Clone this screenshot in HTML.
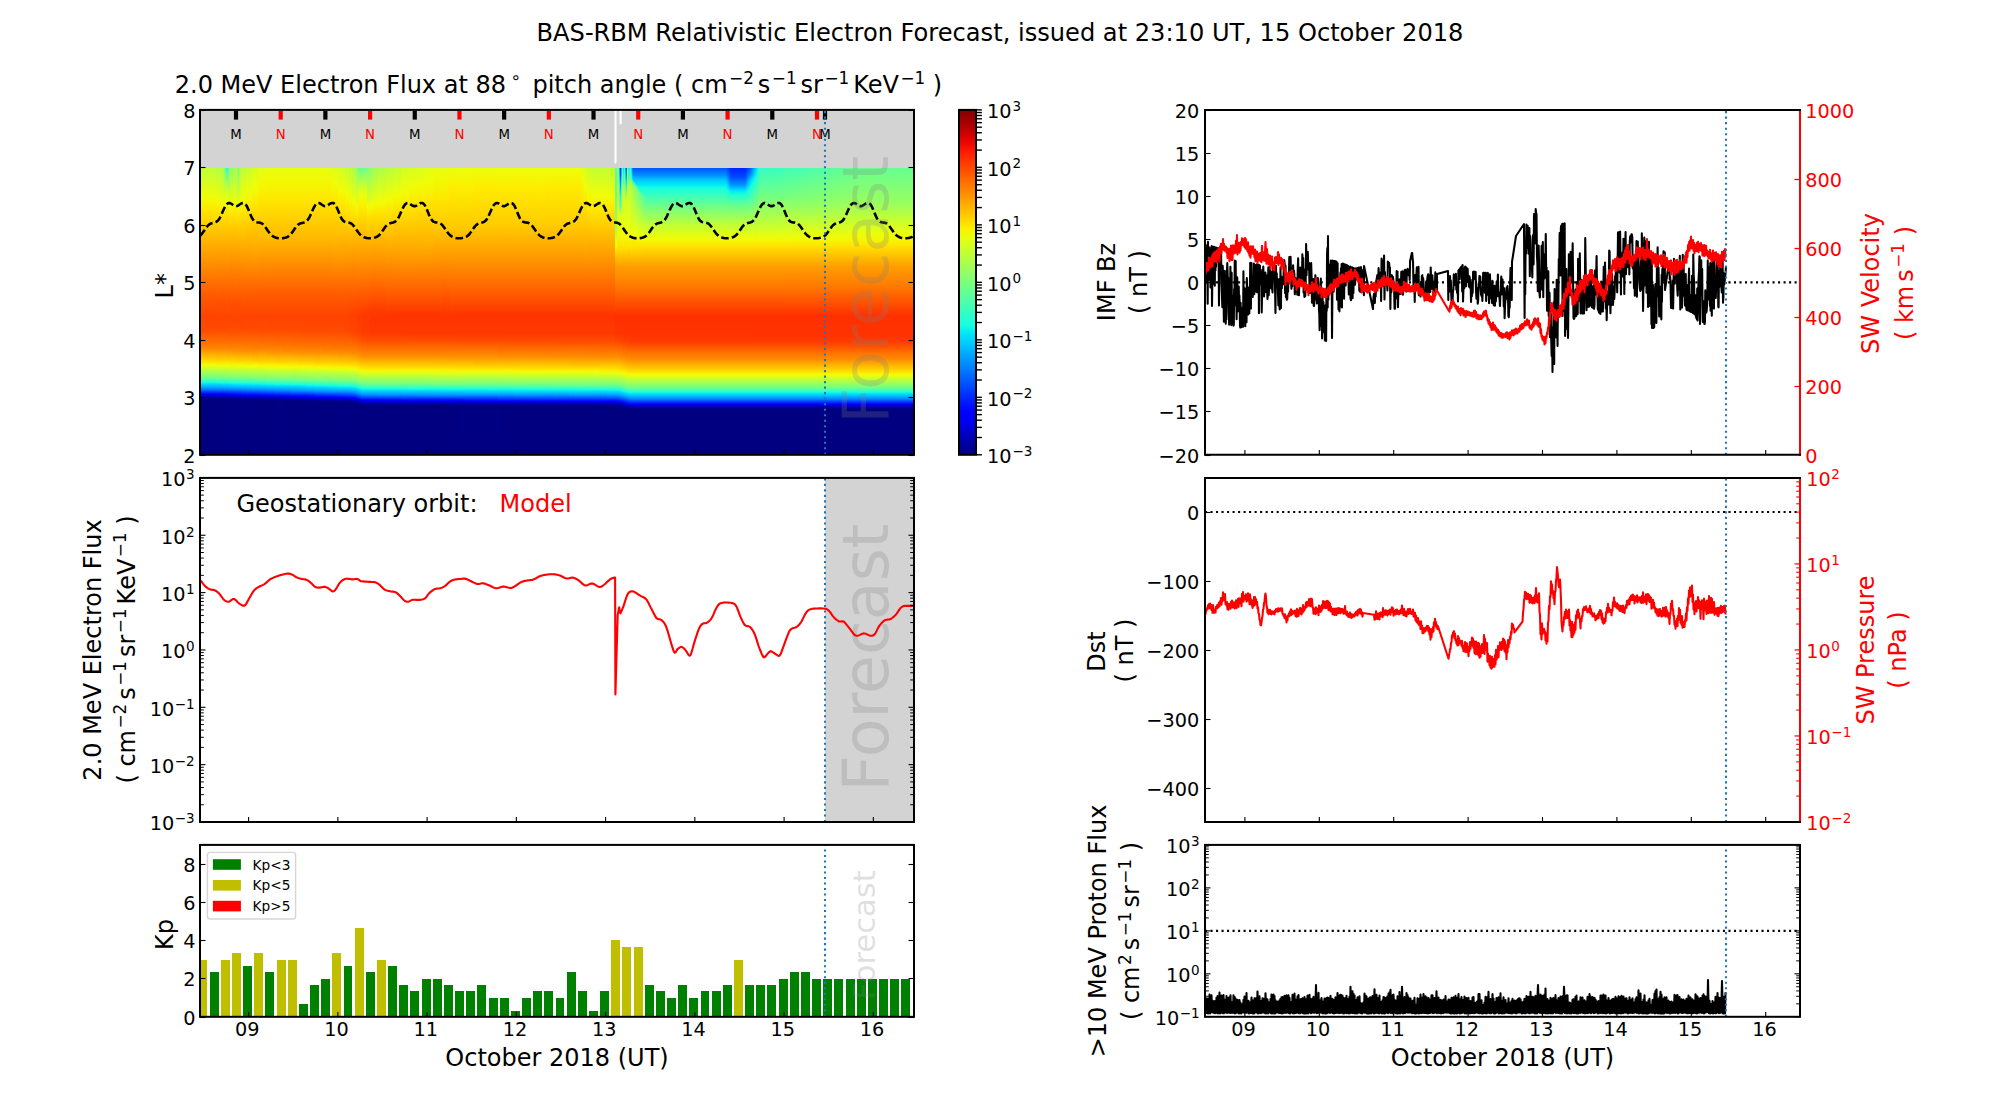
<!DOCTYPE html>
<html><head><meta charset="utf-8"><title>BAS-RBM Relativistic Electron Forecast</title>
<style>html,body{margin:0;padding:0;background:#fff;overflow:hidden}svg{display:block}text{font-family:'DejaVu Sans','Liberation Sans',sans-serif}</style>
</head><body>
<svg width="2000" height="1100" viewBox="0 0 2000 1100">
<defs>
<clipPath id="hc"><rect x="200" y="109.9" width="714" height="344.9"/></clipPath>
<linearGradient id="g1" x1="0" y1="0" x2="0" y2="1"><stop offset=".000" stop-color="#beff39"/><stop offset=".105" stop-color="#f1fc06"/><stop offset=".147" stop-color="#ffe600"/><stop offset=".339" stop-color="#ff8d00"/><stop offset=".437" stop-color="#ff5d00"/><stop offset=".521" stop-color="#ff4300"/><stop offset=".570" stop-color="#ff4e00"/><stop offset=".629" stop-color="#ff8200"/><stop offset=".678" stop-color="#ffe200"/><stop offset=".685" stop-color="#f8f500"/><stop offset=".689" stop-color="#eeff09"/><stop offset=".734" stop-color="#6dff8a"/><stop offset=".748" stop-color="#1fffd7"/><stop offset=".755" stop-color="#00e0fb"/><stop offset=".773" stop-color="#0084ff"/><stop offset=".790" stop-color="#0000ff"/><stop offset=".801" stop-color="#0000a4"/><stop offset=".808" stop-color="#000080"/><stop offset="1.000" stop-color="#000080"/></linearGradient>
<linearGradient id="g2" x1="0" y1="0" x2="0" y2="1"><stop offset=".000" stop-color="#beff39"/><stop offset=".105" stop-color="#f1fc06"/><stop offset=".147" stop-color="#ffe600"/><stop offset=".339" stop-color="#ff8d00"/><stop offset=".437" stop-color="#ff5d00"/><stop offset=".521" stop-color="#ff4300"/><stop offset=".570" stop-color="#ff4e00"/><stop offset=".629" stop-color="#ff8200"/><stop offset=".678" stop-color="#ffe200"/><stop offset=".685" stop-color="#f8f500"/><stop offset=".689" stop-color="#eeff09"/><stop offset=".734" stop-color="#6dff8a"/><stop offset=".748" stop-color="#1fffd7"/><stop offset=".755" stop-color="#00e0fb"/><stop offset=".773" stop-color="#0084ff"/><stop offset=".790" stop-color="#0000ff"/><stop offset=".801" stop-color="#0000a4"/><stop offset=".808" stop-color="#000080"/><stop offset="1.000" stop-color="#000080"/></linearGradient>
<linearGradient id="g3" x1="0" y1="0" x2="0" y2="1"><stop offset=".000" stop-color="#b4ff43"/><stop offset=".115" stop-color="#f1fc06"/><stop offset=".150" stop-color="#ffe600"/><stop offset=".353" stop-color="#ff8600"/><stop offset=".465" stop-color="#ff5200"/><stop offset=".528" stop-color="#ff4300"/><stop offset=".570" stop-color="#ff4e00"/><stop offset=".629" stop-color="#ff8200"/><stop offset=".668" stop-color="#ffc800"/><stop offset=".685" stop-color="#fbf100"/><stop offset=".692" stop-color="#e7ff0f"/><stop offset=".734" stop-color="#70ff87"/><stop offset=".748" stop-color="#23ffd4"/><stop offset=".752" stop-color="#0ff8e7"/><stop offset=".755" stop-color="#00e0fb"/><stop offset=".773" stop-color="#0088ff"/><stop offset=".787" stop-color="#0020ff"/><stop offset=".790" stop-color="#0000ff"/><stop offset=".794" stop-color="#0000e8"/><stop offset=".801" stop-color="#0000a8"/><stop offset=".808" stop-color="#000080"/><stop offset="1.000" stop-color="#000080"/></linearGradient>
<linearGradient id="g4" x1="0" y1="0" x2="0" y2="1"><stop offset=".000" stop-color="#aaff4d"/><stop offset=".122" stop-color="#f1fc06"/><stop offset=".157" stop-color="#ffe600"/><stop offset=".203" stop-color="#ffcc00"/><stop offset=".346" stop-color="#ff8900"/><stop offset=".462" stop-color="#ff5200"/><stop offset=".528" stop-color="#ff4300"/><stop offset=".570" stop-color="#ff4e00"/><stop offset=".629" stop-color="#ff8200"/><stop offset=".671" stop-color="#ffd000"/><stop offset=".685" stop-color="#fbf100"/><stop offset=".692" stop-color="#e7ff0f"/><stop offset=".734" stop-color="#70ff87"/><stop offset=".752" stop-color="#13fce4"/><stop offset=".755" stop-color="#00e4f8"/><stop offset=".766" stop-color="#00b0ff"/><stop offset=".776" stop-color="#0070ff"/><stop offset=".790" stop-color="#0000ff"/><stop offset=".794" stop-color="#0000ed"/><stop offset=".797" stop-color="#0000c4"/><stop offset=".808" stop-color="#000080"/><stop offset="1.000" stop-color="#000080"/></linearGradient>
<linearGradient id="g5" x1="0" y1="0" x2="0" y2="1"><stop offset=".000" stop-color="#8dff6a"/><stop offset=".136" stop-color="#f1fc06"/><stop offset=".164" stop-color="#ffe600"/><stop offset=".196" stop-color="#ffd000"/><stop offset=".346" stop-color="#ff8900"/><stop offset=".462" stop-color="#ff5200"/><stop offset=".528" stop-color="#ff4300"/><stop offset=".570" stop-color="#ff4e00"/><stop offset=".626" stop-color="#ff7e00"/><stop offset=".671" stop-color="#ffd000"/><stop offset=".685" stop-color="#fbf100"/><stop offset=".692" stop-color="#e7ff0f"/><stop offset=".734" stop-color="#73ff83"/><stop offset=".752" stop-color="#13fce4"/><stop offset=".755" stop-color="#00e4f8"/><stop offset=".766" stop-color="#00b0ff"/><stop offset=".773" stop-color="#008cff"/><stop offset=".790" stop-color="#0004ff"/><stop offset=".794" stop-color="#0000ed"/><stop offset=".801" stop-color="#0000ad"/><stop offset=".808" stop-color="#000080"/><stop offset="1.000" stop-color="#000080"/></linearGradient>
<linearGradient id="g6" x1="0" y1="0" x2="0" y2="1"><stop offset=".000" stop-color="#5aff9d"/><stop offset=".045" stop-color="#aaff4d"/><stop offset=".091" stop-color="#e4ff13"/><stop offset=".119" stop-color="#f4f802"/><stop offset=".157" stop-color="#ffe200"/><stop offset=".210" stop-color="#ffc800"/><stop offset=".339" stop-color="#ff8d00"/><stop offset=".437" stop-color="#ff5d00"/><stop offset=".521" stop-color="#ff4300"/><stop offset=".570" stop-color="#ff4e00"/><stop offset=".626" stop-color="#ff7e00"/><stop offset=".671" stop-color="#ffd000"/><stop offset=".685" stop-color="#fbf100"/><stop offset=".692" stop-color="#e7ff0f"/><stop offset=".734" stop-color="#73ff83"/><stop offset=".752" stop-color="#13fce4"/><stop offset=".755" stop-color="#00e4f8"/><stop offset=".766" stop-color="#00b0ff"/><stop offset=".773" stop-color="#008cff"/><stop offset=".790" stop-color="#0004ff"/><stop offset=".794" stop-color="#0000ed"/><stop offset=".801" stop-color="#0000ad"/><stop offset=".808" stop-color="#000080"/><stop offset="1.000" stop-color="#000080"/></linearGradient>
<linearGradient id="g7" x1="0" y1="0" x2="0" y2="1"><stop offset=".000" stop-color="#29ffce"/><stop offset=".049" stop-color="#97ff60"/><stop offset=".091" stop-color="#deff19"/><stop offset=".122" stop-color="#f1fc06"/><stop offset=".157" stop-color="#ffe200"/><stop offset=".238" stop-color="#ffbd00"/><stop offset=".437" stop-color="#ff5d00"/><stop offset=".521" stop-color="#ff4300"/><stop offset=".570" stop-color="#ff4e00"/><stop offset=".626" stop-color="#ff7e00"/><stop offset=".668" stop-color="#ffc800"/><stop offset=".685" stop-color="#fbf100"/><stop offset=".692" stop-color="#e7ff0f"/><stop offset=".734" stop-color="#73ff83"/><stop offset=".752" stop-color="#13fce4"/><stop offset=".755" stop-color="#00e4f8"/><stop offset=".766" stop-color="#00b0ff"/><stop offset=".776" stop-color="#0074ff"/><stop offset=".790" stop-color="#0004ff"/><stop offset=".794" stop-color="#0000f1"/><stop offset=".797" stop-color="#0000c8"/><stop offset=".808" stop-color="#000080"/><stop offset="1.000" stop-color="#000080"/></linearGradient>
<linearGradient id="g8" x1="0" y1="0" x2="0" y2="1"><stop offset=".000" stop-color="#4dffaa"/><stop offset=".056" stop-color="#b4ff43"/><stop offset=".091" stop-color="#e4ff13"/><stop offset=".122" stop-color="#f4f802"/><stop offset=".161" stop-color="#ffde00"/><stop offset=".332" stop-color="#ff9100"/><stop offset=".437" stop-color="#ff5d00"/><stop offset=".521" stop-color="#ff4300"/><stop offset=".570" stop-color="#ff4e00"/><stop offset=".626" stop-color="#ff7e00"/><stop offset=".668" stop-color="#ffc800"/><stop offset=".685" stop-color="#fbf100"/><stop offset=".692" stop-color="#e7ff0f"/><stop offset=".734" stop-color="#73ff83"/><stop offset=".752" stop-color="#16ffe1"/><stop offset=".755" stop-color="#02e8f4"/><stop offset=".759" stop-color="#00d4ff"/><stop offset=".773" stop-color="#008cff"/><stop offset=".790" stop-color="#0008ff"/><stop offset=".794" stop-color="#0000f1"/><stop offset=".801" stop-color="#0000b2"/><stop offset=".808" stop-color="#000080"/><stop offset="1.000" stop-color="#000080"/></linearGradient>
<linearGradient id="g9" x1="0" y1="0" x2="0" y2="1"><stop offset=".000" stop-color="#77ff80"/><stop offset=".143" stop-color="#f1fc06"/><stop offset=".168" stop-color="#ffe600"/><stop offset=".203" stop-color="#ffcc00"/><stop offset=".346" stop-color="#ff8900"/><stop offset=".462" stop-color="#ff5200"/><stop offset=".528" stop-color="#ff4300"/><stop offset=".570" stop-color="#ff4e00"/><stop offset=".626" stop-color="#ff7e00"/><stop offset=".668" stop-color="#ffc800"/><stop offset=".685" stop-color="#fbf100"/><stop offset=".692" stop-color="#e7ff0f"/><stop offset=".734" stop-color="#73ff83"/><stop offset=".752" stop-color="#16ffe1"/><stop offset=".755" stop-color="#02e8f4"/><stop offset=".759" stop-color="#00d4ff"/><stop offset=".773" stop-color="#0090ff"/><stop offset=".790" stop-color="#0008ff"/><stop offset=".794" stop-color="#0000f1"/><stop offset=".801" stop-color="#0000b2"/><stop offset=".808" stop-color="#000080"/><stop offset="1.000" stop-color="#000080"/></linearGradient>
<linearGradient id="g10" x1="0" y1="0" x2="0" y2="1"><stop offset=".000" stop-color="#94ff63"/><stop offset=".133" stop-color="#f1fc06"/><stop offset=".161" stop-color="#ffe600"/><stop offset=".213" stop-color="#ffc800"/><stop offset=".374" stop-color="#ff7a00"/><stop offset=".476" stop-color="#ff4e00"/><stop offset=".531" stop-color="#ff4300"/><stop offset=".577" stop-color="#ff5200"/><stop offset=".633" stop-color="#ff8600"/><stop offset=".678" stop-color="#ffde00"/><stop offset=".689" stop-color="#f4f802"/><stop offset=".703" stop-color="#ceff29"/><stop offset=".734" stop-color="#77ff80"/><stop offset=".752" stop-color="#16ffe1"/><stop offset=".755" stop-color="#02e8f4"/><stop offset=".759" stop-color="#00d4ff"/><stop offset=".773" stop-color="#0090ff"/><stop offset=".790" stop-color="#0008ff"/><stop offset=".794" stop-color="#0000f6"/><stop offset=".797" stop-color="#0000cd"/><stop offset=".808" stop-color="#000080"/><stop offset="1.000" stop-color="#000080"/></linearGradient>
<linearGradient id="g11" x1="0" y1="0" x2="0" y2="1"><stop offset=".000" stop-color="#a4ff53"/><stop offset=".126" stop-color="#f1fc06"/><stop offset=".154" stop-color="#ffe600"/><stop offset=".220" stop-color="#ffc400"/><stop offset=".367" stop-color="#ff7e00"/><stop offset=".476" stop-color="#ff4e00"/><stop offset=".531" stop-color="#ff4300"/><stop offset=".577" stop-color="#ff5200"/><stop offset=".633" stop-color="#ff8600"/><stop offset=".668" stop-color="#ffc800"/><stop offset=".685" stop-color="#fbf100"/><stop offset=".696" stop-color="#e1ff16"/><stop offset=".734" stop-color="#77ff80"/><stop offset=".752" stop-color="#19ffde"/><stop offset=".755" stop-color="#06ecf1"/><stop offset=".759" stop-color="#00d8ff"/><stop offset=".773" stop-color="#0090ff"/><stop offset=".790" stop-color="#000cff"/><stop offset=".794" stop-color="#0000f6"/><stop offset=".801" stop-color="#0000b6"/><stop offset=".808" stop-color="#000080"/><stop offset="1.000" stop-color="#000080"/></linearGradient>
<linearGradient id="g12" x1="0" y1="0" x2="0" y2="1"><stop offset=".000" stop-color="#90ff66"/><stop offset=".133" stop-color="#f1fc06"/><stop offset=".161" stop-color="#ffe600"/><stop offset=".213" stop-color="#ffc800"/><stop offset=".374" stop-color="#ff7a00"/><stop offset=".476" stop-color="#ff4e00"/><stop offset=".531" stop-color="#ff4300"/><stop offset=".577" stop-color="#ff5200"/><stop offset=".633" stop-color="#ff8600"/><stop offset=".668" stop-color="#ffc400"/><stop offset=".685" stop-color="#feed00"/><stop offset=".692" stop-color="#ebff0c"/><stop offset=".734" stop-color="#77ff80"/><stop offset=".752" stop-color="#19ffde"/><stop offset=".755" stop-color="#06ecf1"/><stop offset=".759" stop-color="#00d8ff"/><stop offset=".773" stop-color="#0094ff"/><stop offset=".790" stop-color="#0010ff"/><stop offset=".794" stop-color="#0000fa"/><stop offset=".804" stop-color="#00009b"/><stop offset=".808" stop-color="#000084"/><stop offset="1.000" stop-color="#000080"/></linearGradient>
<linearGradient id="g13" x1="0" y1="0" x2="0" y2="1"><stop offset=".000" stop-color="#7dff7a"/><stop offset=".140" stop-color="#f1fc06"/><stop offset=".168" stop-color="#ffe200"/><stop offset=".248" stop-color="#ffb900"/><stop offset=".437" stop-color="#ff5d00"/><stop offset=".521" stop-color="#ff4300"/><stop offset=".570" stop-color="#ff4e00"/><stop offset=".626" stop-color="#ff7e00"/><stop offset=".668" stop-color="#ffc400"/><stop offset=".685" stop-color="#feed00"/><stop offset=".692" stop-color="#ebff0c"/><stop offset=".734" stop-color="#77ff80"/><stop offset=".752" stop-color="#19ffde"/><stop offset=".755" stop-color="#06ecf1"/><stop offset=".759" stop-color="#00d8ff"/><stop offset=".773" stop-color="#0094ff"/><stop offset=".790" stop-color="#0010ff"/><stop offset=".794" stop-color="#0000fa"/><stop offset=".801" stop-color="#0000b6"/><stop offset=".808" stop-color="#000084"/><stop offset="1.000" stop-color="#000080"/></linearGradient>
<linearGradient id="g14" x1="0" y1="0" x2="0" y2="1"><stop offset=".000" stop-color="#94ff63"/><stop offset=".133" stop-color="#f1fc06"/><stop offset=".161" stop-color="#ffe600"/><stop offset=".213" stop-color="#ffc800"/><stop offset=".374" stop-color="#ff7a00"/><stop offset=".476" stop-color="#ff4e00"/><stop offset=".531" stop-color="#ff4300"/><stop offset=".577" stop-color="#ff5200"/><stop offset=".633" stop-color="#ff8600"/><stop offset=".671" stop-color="#ffcc00"/><stop offset=".685" stop-color="#feed00"/><stop offset=".692" stop-color="#ebff0c"/><stop offset=".734" stop-color="#77ff80"/><stop offset=".752" stop-color="#19ffde"/><stop offset=".759" stop-color="#00d8ff"/><stop offset=".773" stop-color="#0094ff"/><stop offset=".790" stop-color="#0010ff"/><stop offset=".794" stop-color="#0000ff"/><stop offset=".801" stop-color="#0000b6"/><stop offset=".808" stop-color="#000084"/><stop offset="1.000" stop-color="#000080"/></linearGradient>
<linearGradient id="g15" x1="0" y1="0" x2="0" y2="1"><stop offset=".000" stop-color="#aaff4d"/><stop offset=".122" stop-color="#f1fc06"/><stop offset=".157" stop-color="#ffe600"/><stop offset=".203" stop-color="#ffcc00"/><stop offset=".346" stop-color="#ff8900"/><stop offset=".462" stop-color="#ff5200"/><stop offset=".528" stop-color="#ff4300"/><stop offset=".570" stop-color="#ff4e00"/><stop offset=".619" stop-color="#ff7700"/><stop offset=".643" stop-color="#ff9800"/><stop offset=".671" stop-color="#ffcc00"/><stop offset=".685" stop-color="#feed00"/><stop offset=".692" stop-color="#ebff0c"/><stop offset=".734" stop-color="#77ff80"/><stop offset=".752" stop-color="#1cffdb"/><stop offset=".755" stop-color="#09f0ee"/><stop offset=".759" stop-color="#00dcfe"/><stop offset=".776" stop-color="#007cff"/><stop offset=".790" stop-color="#0010ff"/><stop offset=".794" stop-color="#0000ff"/><stop offset=".801" stop-color="#0000b6"/><stop offset=".808" stop-color="#000084"/><stop offset="1.000" stop-color="#000080"/></linearGradient>
<linearGradient id="g16" x1="0" y1="0" x2="0" y2="1"><stop offset=".000" stop-color="#beff39"/><stop offset=".108" stop-color="#f1fc06"/><stop offset=".150" stop-color="#ffe600"/><stop offset=".255" stop-color="#ffb600"/><stop offset=".437" stop-color="#ff5d00"/><stop offset=".521" stop-color="#ff4300"/><stop offset=".563" stop-color="#ff4a00"/><stop offset=".615" stop-color="#ff7300"/><stop offset=".640" stop-color="#ff9100"/><stop offset=".675" stop-color="#ffd300"/><stop offset=".685" stop-color="#feed00"/><stop offset=".692" stop-color="#ebff0c"/><stop offset=".734" stop-color="#7aff7d"/><stop offset=".752" stop-color="#1cffdb"/><stop offset=".755" stop-color="#09f0ee"/><stop offset=".759" stop-color="#00dcfe"/><stop offset=".773" stop-color="#0094ff"/><stop offset=".794" stop-color="#0000ff"/><stop offset=".804" stop-color="#00009f"/><stop offset=".808" stop-color="#000089"/><stop offset=".815" stop-color="#000080"/><stop offset="1.000" stop-color="#000080"/></linearGradient>
<linearGradient id="g17" x1="0" y1="0" x2="0" y2="1"><stop offset=".000" stop-color="#caff2c"/><stop offset=".091" stop-color="#f1fc06"/><stop offset=".140" stop-color="#ffe600"/><stop offset=".318" stop-color="#ff9800"/><stop offset=".437" stop-color="#ff5d00"/><stop offset=".521" stop-color="#ff4300"/><stop offset=".570" stop-color="#ff4e00"/><stop offset=".619" stop-color="#ff7700"/><stop offset=".636" stop-color="#ff8900"/><stop offset=".678" stop-color="#ffdb00"/><stop offset=".689" stop-color="#f8f500"/><stop offset=".692" stop-color="#eeff09"/><stop offset=".734" stop-color="#7aff7d"/><stop offset=".752" stop-color="#1fffd7"/><stop offset=".755" stop-color="#0cf4eb"/><stop offset=".759" stop-color="#00dcfe"/><stop offset=".773" stop-color="#0098ff"/><stop offset=".794" stop-color="#0000ff"/><stop offset=".808" stop-color="#000089"/><stop offset=".815" stop-color="#000080"/><stop offset="1.000" stop-color="#000080"/></linearGradient>
<linearGradient id="g18" x1="0" y1="0" x2="0" y2="1"><stop offset=".000" stop-color="#d7ff1f"/><stop offset=".073" stop-color="#f1fc06"/><stop offset=".126" stop-color="#ffe600"/><stop offset=".290" stop-color="#ffa700"/><stop offset=".437" stop-color="#ff5d00"/><stop offset=".521" stop-color="#ff4300"/><stop offset=".570" stop-color="#ff4e00"/><stop offset=".633" stop-color="#ff8200"/><stop offset=".668" stop-color="#ffc100"/><stop offset=".685" stop-color="#ffea00"/><stop offset=".692" stop-color="#eeff09"/><stop offset=".734" stop-color="#7dff7a"/><stop offset=".752" stop-color="#23ffd4"/><stop offset=".755" stop-color="#0ff8e7"/><stop offset=".759" stop-color="#00e0fb"/><stop offset=".773" stop-color="#009cff"/><stop offset=".794" stop-color="#0000ff"/><stop offset=".797" stop-color="#0000e8"/><stop offset=".804" stop-color="#0000a8"/><stop offset=".808" stop-color="#00008d"/><stop offset=".811" stop-color="#000080"/><stop offset="1.000" stop-color="#000080"/></linearGradient>
<linearGradient id="g19" x1="0" y1="0" x2="0" y2="1"><stop offset=".000" stop-color="#e4ff13"/><stop offset=".059" stop-color="#f4f802"/><stop offset=".112" stop-color="#ffe600"/><stop offset=".241" stop-color="#ffbd00"/><stop offset=".437" stop-color="#ff5d00"/><stop offset=".521" stop-color="#ff4300"/><stop offset=".573" stop-color="#ff4e00"/><stop offset=".629" stop-color="#ff7e00"/><stop offset=".675" stop-color="#ffd000"/><stop offset=".689" stop-color="#fbf100"/><stop offset=".696" stop-color="#e7ff0f"/><stop offset=".738" stop-color="#73ff83"/><stop offset=".755" stop-color="#13fce4"/><stop offset=".759" stop-color="#00e4f8"/><stop offset=".769" stop-color="#00b0ff"/><stop offset=".776" stop-color="#008cff"/><stop offset=".794" stop-color="#0004ff"/><stop offset=".797" stop-color="#0000ed"/><stop offset=".804" stop-color="#0000ad"/><stop offset=".811" stop-color="#000080"/><stop offset="1.000" stop-color="#000080"/></linearGradient>
<linearGradient id="g20" x1="0" y1="0" x2="0" y2="1"><stop offset=".000" stop-color="#e7ff0f"/><stop offset=".049" stop-color="#f4f802"/><stop offset=".112" stop-color="#ffe600"/><stop offset=".248" stop-color="#ffb900"/><stop offset=".437" stop-color="#ff5d00"/><stop offset=".521" stop-color="#ff4300"/><stop offset=".566" stop-color="#ff4a00"/><stop offset=".622" stop-color="#ff7700"/><stop offset=".647" stop-color="#ff9800"/><stop offset=".678" stop-color="#ffd700"/><stop offset=".689" stop-color="#fbf100"/><stop offset=".699" stop-color="#e1ff16"/><stop offset=".738" stop-color="#77ff80"/><stop offset=".755" stop-color="#16ffe1"/><stop offset=".759" stop-color="#02e8f4"/><stop offset=".762" stop-color="#00d8ff"/><stop offset=".776" stop-color="#0090ff"/><stop offset=".790" stop-color="#0028ff"/><stop offset=".794" stop-color="#0008ff"/><stop offset=".797" stop-color="#0000f6"/><stop offset=".801" stop-color="#0000cd"/><stop offset=".811" stop-color="#000080"/><stop offset="1.000" stop-color="#000080"/></linearGradient>
<linearGradient id="g21" x1="0" y1="0" x2="0" y2="1"><stop offset=".000" stop-color="#e7ff0f"/><stop offset=".049" stop-color="#f4f802"/><stop offset=".112" stop-color="#ffe600"/><stop offset=".248" stop-color="#ffb900"/><stop offset=".437" stop-color="#ff5d00"/><stop offset=".521" stop-color="#ff4300"/><stop offset=".566" stop-color="#ff4a00"/><stop offset=".619" stop-color="#ff7300"/><stop offset=".647" stop-color="#ff9800"/><stop offset=".675" stop-color="#ffcc00"/><stop offset=".689" stop-color="#feed00"/><stop offset=".696" stop-color="#ebff0c"/><stop offset=".738" stop-color="#77ff80"/><stop offset=".755" stop-color="#1cffdb"/><stop offset=".759" stop-color="#09f0ee"/><stop offset=".762" stop-color="#00dcfe"/><stop offset=".780" stop-color="#007cff"/><stop offset=".794" stop-color="#0010ff"/><stop offset=".797" stop-color="#0000ff"/><stop offset=".804" stop-color="#0000b6"/><stop offset=".811" stop-color="#000084"/><stop offset="1.000" stop-color="#000080"/></linearGradient>
<linearGradient id="g22" x1="0" y1="0" x2="0" y2="1"><stop offset=".000" stop-color="#e7ff0f"/><stop offset=".049" stop-color="#f4f802"/><stop offset=".112" stop-color="#ffe600"/><stop offset=".248" stop-color="#ffb900"/><stop offset=".437" stop-color="#ff5d00"/><stop offset=".521" stop-color="#ff4300"/><stop offset=".566" stop-color="#ff4a00"/><stop offset=".619" stop-color="#ff7300"/><stop offset=".640" stop-color="#ff8900"/><stop offset=".682" stop-color="#ffdb00"/><stop offset=".692" stop-color="#f8f500"/><stop offset=".696" stop-color="#eeff09"/><stop offset=".738" stop-color="#7aff7d"/><stop offset=".755" stop-color="#1fffd7"/><stop offset=".759" stop-color="#0cf4eb"/><stop offset=".762" stop-color="#00dcfe"/><stop offset=".776" stop-color="#0098ff"/><stop offset=".797" stop-color="#0000ff"/><stop offset=".811" stop-color="#000089"/><stop offset=".818" stop-color="#000080"/><stop offset="1.000" stop-color="#000080"/></linearGradient>
<linearGradient id="g23" x1="0" y1="0" x2="0" y2="1"><stop offset=".000" stop-color="#e7ff0f"/><stop offset=".049" stop-color="#f4f802"/><stop offset=".112" stop-color="#ffe600"/><stop offset=".248" stop-color="#ffb900"/><stop offset=".437" stop-color="#ff5d00"/><stop offset=".521" stop-color="#ff4300"/><stop offset=".566" stop-color="#ff4a00"/><stop offset=".622" stop-color="#ff7300"/><stop offset=".647" stop-color="#ff9400"/><stop offset=".678" stop-color="#ffd300"/><stop offset=".689" stop-color="#ffea00"/><stop offset=".696" stop-color="#f1fc06"/><stop offset=".741" stop-color="#70ff87"/><stop offset=".755" stop-color="#23ffd4"/><stop offset=".759" stop-color="#0ff8e7"/><stop offset=".762" stop-color="#00e0fb"/><stop offset=".780" stop-color="#0088ff"/><stop offset=".794" stop-color="#0020ff"/><stop offset=".797" stop-color="#0000ff"/><stop offset=".801" stop-color="#0000e8"/><stop offset=".808" stop-color="#0000a8"/><stop offset=".815" stop-color="#000080"/><stop offset="1.000" stop-color="#000080"/></linearGradient>
<linearGradient id="g24" x1="0" y1="0" x2="0" y2="1"><stop offset=".000" stop-color="#e7ff0f"/><stop offset=".049" stop-color="#f4f802"/><stop offset=".112" stop-color="#ffe600"/><stop offset=".248" stop-color="#ffb900"/><stop offset=".437" stop-color="#ff5d00"/><stop offset=".521" stop-color="#ff4300"/><stop offset=".570" stop-color="#ff4a00"/><stop offset=".626" stop-color="#ff7700"/><stop offset=".647" stop-color="#ff9400"/><stop offset=".682" stop-color="#ffd700"/><stop offset=".692" stop-color="#fbf100"/><stop offset=".699" stop-color="#e7ff0f"/><stop offset=".741" stop-color="#73ff83"/><stop offset=".759" stop-color="#13fce4"/><stop offset=".762" stop-color="#00e4f8"/><stop offset=".773" stop-color="#00b0ff"/><stop offset=".780" stop-color="#008cff"/><stop offset=".797" stop-color="#0004ff"/><stop offset=".801" stop-color="#0000f1"/><stop offset=".804" stop-color="#0000c8"/><stop offset=".815" stop-color="#000080"/><stop offset="1.000" stop-color="#000080"/></linearGradient>
<linearGradient id="g25" x1="0" y1="0" x2="0" y2="1"><stop offset=".000" stop-color="#e7ff0f"/><stop offset=".049" stop-color="#f4f802"/><stop offset=".112" stop-color="#ffe600"/><stop offset=".248" stop-color="#ffb900"/><stop offset=".437" stop-color="#ff5d00"/><stop offset=".521" stop-color="#ff4300"/><stop offset=".570" stop-color="#ff4a00"/><stop offset=".626" stop-color="#ff7700"/><stop offset=".650" stop-color="#ff9800"/><stop offset=".682" stop-color="#ffd700"/><stop offset=".692" stop-color="#fbf100"/><stop offset=".703" stop-color="#e1ff16"/><stop offset=".741" stop-color="#77ff80"/><stop offset=".759" stop-color="#19ffde"/><stop offset=".762" stop-color="#06ecf1"/><stop offset=".766" stop-color="#00d8ff"/><stop offset=".780" stop-color="#0090ff"/><stop offset=".797" stop-color="#000cff"/><stop offset=".801" stop-color="#0000f6"/><stop offset=".808" stop-color="#0000b6"/><stop offset=".815" stop-color="#000080"/><stop offset="1.000" stop-color="#000080"/></linearGradient>
<linearGradient id="g26" x1="0" y1="0" x2="0" y2="1"><stop offset=".000" stop-color="#e7ff0f"/><stop offset=".049" stop-color="#f4f802"/><stop offset=".112" stop-color="#ffe600"/><stop offset=".248" stop-color="#ffb900"/><stop offset=".437" stop-color="#ff5d00"/><stop offset=".521" stop-color="#ff4300"/><stop offset=".570" stop-color="#ff4a00"/><stop offset=".622" stop-color="#ff7300"/><stop offset=".647" stop-color="#ff9100"/><stop offset=".682" stop-color="#ffd300"/><stop offset=".692" stop-color="#feed00"/><stop offset=".699" stop-color="#ebff0c"/><stop offset=".741" stop-color="#7aff7d"/><stop offset=".759" stop-color="#1cffdb"/><stop offset=".762" stop-color="#09f0ee"/><stop offset=".766" stop-color="#00dcfe"/><stop offset=".780" stop-color="#0094ff"/><stop offset=".801" stop-color="#0000ff"/><stop offset=".811" stop-color="#00009f"/><stop offset=".815" stop-color="#000089"/><stop offset=".822" stop-color="#000080"/><stop offset="1.000" stop-color="#000080"/></linearGradient>
<linearGradient id="g27" x1="0" y1="0" x2="0" y2="1"><stop offset=".000" stop-color="#e7ff0f"/><stop offset=".049" stop-color="#f4f802"/><stop offset=".112" stop-color="#ffe600"/><stop offset=".248" stop-color="#ffb900"/><stop offset=".437" stop-color="#ff5d00"/><stop offset=".521" stop-color="#ff4300"/><stop offset=".570" stop-color="#ff4a00"/><stop offset=".619" stop-color="#ff6f00"/><stop offset=".643" stop-color="#ff8900"/><stop offset=".689" stop-color="#ffe200"/><stop offset=".696" stop-color="#f8f500"/><stop offset=".699" stop-color="#eeff09"/><stop offset=".745" stop-color="#6dff8a"/><stop offset=".759" stop-color="#1fffd7"/><stop offset=".766" stop-color="#00e0fb"/><stop offset=".783" stop-color="#0084ff"/><stop offset=".801" stop-color="#0000ff"/><stop offset=".811" stop-color="#0000a4"/><stop offset=".818" stop-color="#000080"/><stop offset="1.000" stop-color="#000080"/></linearGradient>
<linearGradient id="g28" x1="0" y1="0" x2="0" y2="1"><stop offset=".000" stop-color="#deff19"/><stop offset=".056" stop-color="#f1fc06"/><stop offset=".115" stop-color="#ffe600"/><stop offset=".266" stop-color="#ffb200"/><stop offset=".437" stop-color="#ff5d00"/><stop offset=".521" stop-color="#ff4300"/><stop offset=".570" stop-color="#ff4a00"/><stop offset=".626" stop-color="#ff7300"/><stop offset=".650" stop-color="#ff9400"/><stop offset=".682" stop-color="#ffd300"/><stop offset=".696" stop-color="#fbf100"/><stop offset=".703" stop-color="#e7ff0f"/><stop offset=".745" stop-color="#70ff87"/><stop offset=".759" stop-color="#23ffd4"/><stop offset=".762" stop-color="#0ff8e7"/><stop offset=".766" stop-color="#00e4f8"/><stop offset=".776" stop-color="#00b0ff"/><stop offset=".783" stop-color="#0088ff"/><stop offset=".801" stop-color="#0000ff"/><stop offset=".804" stop-color="#0000e8"/><stop offset=".811" stop-color="#0000a8"/><stop offset=".818" stop-color="#000080"/><stop offset="1.000" stop-color="#000080"/></linearGradient>
<linearGradient id="g29" x1="0" y1="0" x2="0" y2="1"><stop offset=".000" stop-color="#d4ff23"/><stop offset=".077" stop-color="#f1fc06"/><stop offset=".129" stop-color="#ffe600"/><stop offset=".297" stop-color="#ffa300"/><stop offset=".437" stop-color="#ff5d00"/><stop offset=".521" stop-color="#ff4300"/><stop offset=".570" stop-color="#ff4a00"/><stop offset=".626" stop-color="#ff7300"/><stop offset=".647" stop-color="#ff8d00"/><stop offset=".685" stop-color="#ffd700"/><stop offset=".696" stop-color="#fbf100"/><stop offset=".703" stop-color="#e7ff0f"/><stop offset=".745" stop-color="#73ff83"/><stop offset=".762" stop-color="#16ffe1"/><stop offset=".766" stop-color="#02e8f4"/><stop offset=".769" stop-color="#00d4ff"/><stop offset=".783" stop-color="#008cff"/><stop offset=".797" stop-color="#0024ff"/><stop offset=".801" stop-color="#0004ff"/><stop offset=".804" stop-color="#0000f1"/><stop offset=".808" stop-color="#0000c8"/><stop offset=".818" stop-color="#000080"/><stop offset="1.000" stop-color="#000080"/></linearGradient>
<linearGradient id="g30" x1="0" y1="0" x2="0" y2="1"><stop offset=".000" stop-color="#c7ff30"/><stop offset=".094" stop-color="#f1fc06"/><stop offset=".143" stop-color="#ffe600"/><stop offset=".325" stop-color="#ff9400"/><stop offset=".437" stop-color="#ff5d00"/><stop offset=".517" stop-color="#ff4300"/><stop offset=".566" stop-color="#ff4700"/><stop offset=".619" stop-color="#ff6c00"/><stop offset=".647" stop-color="#ff8d00"/><stop offset=".678" stop-color="#ffc800"/><stop offset=".696" stop-color="#fbf100"/><stop offset=".706" stop-color="#e1ff16"/><stop offset=".745" stop-color="#77ff80"/><stop offset=".762" stop-color="#16ffe1"/><stop offset=".766" stop-color="#02e8f4"/><stop offset=".769" stop-color="#00d8ff"/><stop offset=".783" stop-color="#0090ff"/><stop offset=".801" stop-color="#0008ff"/><stop offset=".804" stop-color="#0000f6"/><stop offset=".808" stop-color="#0000cd"/><stop offset=".818" stop-color="#000080"/><stop offset="1.000" stop-color="#000080"/></linearGradient>
<linearGradient id="g31" x1="0" y1="0" x2="0" y2="1"><stop offset=".000" stop-color="#baff3c"/><stop offset=".108" stop-color="#f1fc06"/><stop offset=".150" stop-color="#ffe600"/><stop offset=".255" stop-color="#ffb600"/><stop offset=".437" stop-color="#ff5d00"/><stop offset=".521" stop-color="#ff3f00"/><stop offset=".573" stop-color="#ff4700"/><stop offset=".629" stop-color="#ff7700"/><stop offset=".654" stop-color="#ff9800"/><stop offset=".678" stop-color="#ffc400"/><stop offset=".696" stop-color="#feed00"/><stop offset=".703" stop-color="#ebff0c"/><stop offset=".745" stop-color="#77ff80"/><stop offset=".762" stop-color="#19ffde"/><stop offset=".766" stop-color="#06ecf1"/><stop offset=".769" stop-color="#00d8ff"/><stop offset=".783" stop-color="#0094ff"/><stop offset=".801" stop-color="#0010ff"/><stop offset=".804" stop-color="#0000fa"/><stop offset=".815" stop-color="#00009b"/><stop offset=".818" stop-color="#000084"/><stop offset="1.000" stop-color="#000080"/></linearGradient>
<linearGradient id="g32" x1="0" y1="0" x2="0" y2="1"><stop offset=".000" stop-color="#adff49"/><stop offset=".119" stop-color="#f1fc06"/><stop offset=".154" stop-color="#ffe600"/><stop offset=".220" stop-color="#ffc400"/><stop offset=".367" stop-color="#ff7e00"/><stop offset=".510" stop-color="#ff3f00"/><stop offset=".570" stop-color="#ff4300"/><stop offset=".612" stop-color="#ff6400"/><stop offset=".647" stop-color="#ff8900"/><stop offset=".692" stop-color="#ffe200"/><stop offset=".699" stop-color="#f8f500"/><stop offset=".703" stop-color="#eeff09"/><stop offset=".745" stop-color="#7aff7d"/><stop offset=".762" stop-color="#1fffd7"/><stop offset=".769" stop-color="#00e0fb"/><stop offset=".787" stop-color="#0080ff"/><stop offset=".804" stop-color="#0000ff"/><stop offset=".815" stop-color="#0000a4"/><stop offset=".822" stop-color="#000080"/><stop offset="1.000" stop-color="#000080"/></linearGradient>
<linearGradient id="g33" x1="0" y1="0" x2="0" y2="1"><stop offset=".000" stop-color="#a7ff50"/><stop offset=".122" stop-color="#f1fc06"/><stop offset=".157" stop-color="#ffe600"/><stop offset=".203" stop-color="#ffcc00"/><stop offset=".346" stop-color="#ff8900"/><stop offset=".462" stop-color="#ff5200"/><stop offset=".517" stop-color="#ff3f00"/><stop offset=".573" stop-color="#ff4300"/><stop offset=".615" stop-color="#ff6800"/><stop offset=".647" stop-color="#ff8900"/><stop offset=".682" stop-color="#ffc800"/><stop offset=".699" stop-color="#fbf100"/><stop offset=".706" stop-color="#e7ff0f"/><stop offset=".748" stop-color="#70ff87"/><stop offset=".762" stop-color="#23ffd4"/><stop offset=".766" stop-color="#0ff8e7"/><stop offset=".769" stop-color="#00e0fb"/><stop offset=".787" stop-color="#0088ff"/><stop offset=".801" stop-color="#0020ff"/><stop offset=".804" stop-color="#0000ff"/><stop offset=".808" stop-color="#0000e8"/><stop offset=".815" stop-color="#0000a8"/><stop offset=".822" stop-color="#000080"/><stop offset="1.000" stop-color="#000080"/></linearGradient>
<linearGradient id="g34" x1="0" y1="0" x2="0" y2="1"><stop offset=".000" stop-color="#9aff5d"/><stop offset=".129" stop-color="#f1fc06"/><stop offset=".164" stop-color="#ffe200"/><stop offset=".231" stop-color="#ffc100"/><stop offset=".437" stop-color="#ff5d00"/><stop offset=".510" stop-color="#ff3f00"/><stop offset=".573" stop-color="#ff4300"/><stop offset=".636" stop-color="#ff7a00"/><stop offset=".654" stop-color="#ff9400"/><stop offset=".689" stop-color="#ffd700"/><stop offset=".699" stop-color="#fbf100"/><stop offset=".706" stop-color="#e7ff0f"/><stop offset=".748" stop-color="#73ff83"/><stop offset=".766" stop-color="#13fce4"/><stop offset=".769" stop-color="#02e8f4"/><stop offset=".773" stop-color="#00d4ff"/><stop offset=".787" stop-color="#008cff"/><stop offset=".801" stop-color="#0024ff"/><stop offset=".804" stop-color="#0004ff"/><stop offset=".808" stop-color="#0000f1"/><stop offset=".811" stop-color="#0000c8"/><stop offset=".822" stop-color="#000080"/><stop offset="1.000" stop-color="#000080"/></linearGradient>
<linearGradient id="g35" x1="0" y1="0" x2="0" y2="1"><stop offset=".000" stop-color="#83ff73"/><stop offset=".140" stop-color="#f1fc06"/><stop offset=".164" stop-color="#ffe600"/><stop offset=".196" stop-color="#ffd000"/><stop offset=".346" stop-color="#ff8900"/><stop offset=".462" stop-color="#ff5200"/><stop offset=".517" stop-color="#ff3b00"/><stop offset=".570" stop-color="#ff3f00"/><stop offset=".605" stop-color="#ff5900"/><stop offset=".654" stop-color="#ff9100"/><stop offset=".685" stop-color="#ffcc00"/><stop offset=".699" stop-color="#feed00"/><stop offset=".706" stop-color="#ebff0c"/><stop offset=".748" stop-color="#77ff80"/><stop offset=".766" stop-color="#19ffde"/><stop offset=".773" stop-color="#00d8ff"/><stop offset=".787" stop-color="#0094ff"/><stop offset=".804" stop-color="#0010ff"/><stop offset=".808" stop-color="#0000ff"/><stop offset=".815" stop-color="#0000b6"/><stop offset=".822" stop-color="#000084"/><stop offset="1.000" stop-color="#000080"/></linearGradient>
<linearGradient id="g36" x1="0" y1="0" x2="0" y2="1"><stop offset=".000" stop-color="#6dff8a"/><stop offset=".056" stop-color="#c1ff36"/><stop offset=".094" stop-color="#ebff0c"/><stop offset=".133" stop-color="#feed00"/><stop offset=".227" stop-color="#ffc100"/><stop offset=".353" stop-color="#ff8600"/><stop offset=".514" stop-color="#ff3b00"/><stop offset=".570" stop-color="#ff3f00"/><stop offset=".601" stop-color="#ff5500"/><stop offset=".650" stop-color="#ff8900"/><stop offset=".685" stop-color="#ffcc00"/><stop offset=".699" stop-color="#ffea00"/><stop offset=".706" stop-color="#eeff09"/><stop offset=".752" stop-color="#6dff8a"/><stop offset=".766" stop-color="#1fffd7"/><stop offset=".773" stop-color="#00e0fb"/><stop offset=".787" stop-color="#009cff"/><stop offset=".808" stop-color="#0000ff"/><stop offset=".815" stop-color="#0000bf"/><stop offset=".822" stop-color="#00008d"/><stop offset=".825" stop-color="#000080"/><stop offset="1.000" stop-color="#000080"/></linearGradient>
<linearGradient id="g37" x1="0" y1="0" x2="0" y2="1"><stop offset=".000" stop-color="#63ff94"/><stop offset=".059" stop-color="#c1ff36"/><stop offset=".091" stop-color="#e7ff0f"/><stop offset=".126" stop-color="#f8f500"/><stop offset=".168" stop-color="#ffdb00"/><stop offset=".332" stop-color="#ff9100"/><stop offset=".437" stop-color="#ff5d00"/><stop offset=".517" stop-color="#ff3b00"/><stop offset=".573" stop-color="#ff3f00"/><stop offset=".608" stop-color="#ff5900"/><stop offset=".654" stop-color="#ff8d00"/><stop offset=".692" stop-color="#ffd700"/><stop offset=".703" stop-color="#fbf100"/><stop offset=".710" stop-color="#e7ff0f"/><stop offset=".752" stop-color="#73ff83"/><stop offset=".769" stop-color="#13fce4"/><stop offset=".773" stop-color="#02e8f4"/><stop offset=".776" stop-color="#00d4ff"/><stop offset=".790" stop-color="#008cff"/><stop offset=".804" stop-color="#0024ff"/><stop offset=".808" stop-color="#0004ff"/><stop offset=".811" stop-color="#0000f1"/><stop offset=".815" stop-color="#0000c8"/><stop offset=".825" stop-color="#000080"/><stop offset="1.000" stop-color="#000080"/></linearGradient>
<linearGradient id="g38" x1="0" y1="0" x2="0" y2="1"><stop offset=".000" stop-color="#63ff94"/><stop offset=".049" stop-color="#b4ff43"/><stop offset=".094" stop-color="#ebff0c"/><stop offset=".129" stop-color="#fbf100"/><stop offset=".210" stop-color="#ffc800"/><stop offset=".339" stop-color="#ff8d00"/><stop offset=".437" stop-color="#ff5d00"/><stop offset=".514" stop-color="#ff3b00"/><stop offset=".573" stop-color="#ff3f00"/><stop offset=".605" stop-color="#ff5500"/><stop offset=".657" stop-color="#ff9100"/><stop offset=".689" stop-color="#ffcc00"/><stop offset=".703" stop-color="#feed00"/><stop offset=".710" stop-color="#ebff0c"/><stop offset=".752" stop-color="#77ff80"/><stop offset=".769" stop-color="#19ffde"/><stop offset=".776" stop-color="#00d8ff"/><stop offset=".790" stop-color="#0094ff"/><stop offset=".808" stop-color="#0010ff"/><stop offset=".811" stop-color="#0000ff"/><stop offset=".818" stop-color="#0000b6"/><stop offset=".825" stop-color="#000084"/><stop offset="1.000" stop-color="#000080"/></linearGradient>
<linearGradient id="g39" x1="0" y1="0" x2="0" y2="1"><stop offset=".000" stop-color="#66ff90"/><stop offset=".056" stop-color="#beff39"/><stop offset=".094" stop-color="#ebff0c"/><stop offset=".129" stop-color="#fbf100"/><stop offset=".210" stop-color="#ffc800"/><stop offset=".339" stop-color="#ff8d00"/><stop offset=".437" stop-color="#ff5d00"/><stop offset=".514" stop-color="#ff3b00"/><stop offset=".577" stop-color="#ff3f00"/><stop offset=".608" stop-color="#ff5500"/><stop offset=".654" stop-color="#ff8900"/><stop offset=".689" stop-color="#ffcc00"/><stop offset=".703" stop-color="#ffea00"/><stop offset=".710" stop-color="#eeff09"/><stop offset=".755" stop-color="#6dff8a"/><stop offset=".769" stop-color="#1fffd7"/><stop offset=".776" stop-color="#00e0fb"/><stop offset=".790" stop-color="#009cff"/><stop offset=".811" stop-color="#0000ff"/><stop offset=".818" stop-color="#0000bf"/><stop offset=".825" stop-color="#00008d"/><stop offset=".829" stop-color="#000080"/><stop offset="1.000" stop-color="#000080"/></linearGradient>
<linearGradient id="g40" x1="0" y1="0" x2="0" y2="1"><stop offset=".000" stop-color="#6aff8d"/><stop offset=".059" stop-color="#c4ff33"/><stop offset=".094" stop-color="#ebff0c"/><stop offset=".129" stop-color="#fbf100"/><stop offset=".210" stop-color="#ffc800"/><stop offset=".339" stop-color="#ff8d00"/><stop offset=".437" stop-color="#ff5d00"/><stop offset=".517" stop-color="#ff3800"/><stop offset=".573" stop-color="#ff3b00"/><stop offset=".608" stop-color="#ff5500"/><stop offset=".657" stop-color="#ff8d00"/><stop offset=".692" stop-color="#ffd300"/><stop offset=".706" stop-color="#fbf100"/><stop offset=".713" stop-color="#e7ff0f"/><stop offset=".755" stop-color="#70ff87"/><stop offset=".773" stop-color="#13fce4"/><stop offset=".776" stop-color="#00e4f8"/><stop offset=".787" stop-color="#00b0ff"/><stop offset=".797" stop-color="#0070ff"/><stop offset=".811" stop-color="#0000ff"/><stop offset=".815" stop-color="#0000e8"/><stop offset=".818" stop-color="#0000c4"/><stop offset=".829" stop-color="#000080"/><stop offset="1.000" stop-color="#000080"/></linearGradient>
<linearGradient id="g41" x1="0" y1="0" x2="0" y2="1"><stop offset=".000" stop-color="#73ff83"/><stop offset=".049" stop-color="#baff3c"/><stop offset=".091" stop-color="#ebff0c"/><stop offset=".136" stop-color="#feed00"/><stop offset=".210" stop-color="#ffc800"/><stop offset=".339" stop-color="#ff8d00"/><stop offset=".437" stop-color="#ff5d00"/><stop offset=".517" stop-color="#ff3800"/><stop offset=".577" stop-color="#ff3b00"/><stop offset=".598" stop-color="#ff4700"/><stop offset=".657" stop-color="#ff8d00"/><stop offset=".692" stop-color="#ffd000"/><stop offset=".706" stop-color="#fbf100"/><stop offset=".713" stop-color="#e7ff0f"/><stop offset=".755" stop-color="#70ff87"/><stop offset=".773" stop-color="#13fce4"/><stop offset=".776" stop-color="#00e4f8"/><stop offset=".787" stop-color="#00b0ff"/><stop offset=".797" stop-color="#0070ff"/><stop offset=".811" stop-color="#0000ff"/><stop offset=".815" stop-color="#0000e8"/><stop offset=".818" stop-color="#0000c4"/><stop offset=".829" stop-color="#000080"/><stop offset="1.000" stop-color="#000080"/></linearGradient>
<linearGradient id="g42" x1="0" y1="0" x2="0" y2="1"><stop offset=".000" stop-color="#80ff77"/><stop offset=".140" stop-color="#f1fc06"/><stop offset=".168" stop-color="#ffe200"/><stop offset=".248" stop-color="#ffb900"/><stop offset=".437" stop-color="#ff5d00"/><stop offset=".510" stop-color="#ff3800"/><stop offset=".577" stop-color="#ff3b00"/><stop offset=".601" stop-color="#ff4a00"/><stop offset=".657" stop-color="#ff8d00"/><stop offset=".692" stop-color="#ffd000"/><stop offset=".706" stop-color="#fbf100"/><stop offset=".713" stop-color="#e7ff0f"/><stop offset=".755" stop-color="#70ff87"/><stop offset=".773" stop-color="#13fce4"/><stop offset=".776" stop-color="#00e4f8"/><stop offset=".787" stop-color="#00b0ff"/><stop offset=".797" stop-color="#0070ff"/><stop offset=".811" stop-color="#0000ff"/><stop offset=".815" stop-color="#0000ed"/><stop offset=".818" stop-color="#0000c4"/><stop offset=".829" stop-color="#000080"/><stop offset="1.000" stop-color="#000080"/></linearGradient>
<linearGradient id="g43" x1="0" y1="0" x2="0" y2="1"><stop offset=".000" stop-color="#90ff66"/><stop offset=".133" stop-color="#f1fc06"/><stop offset=".161" stop-color="#ffe600"/><stop offset=".213" stop-color="#ffc800"/><stop offset=".374" stop-color="#ff7a00"/><stop offset=".497" stop-color="#ff3b00"/><stop offset=".528" stop-color="#ff3400"/><stop offset=".573" stop-color="#ff3800"/><stop offset=".605" stop-color="#ff4e00"/><stop offset=".657" stop-color="#ff8d00"/><stop offset=".692" stop-color="#ffd000"/><stop offset=".706" stop-color="#fbf100"/><stop offset=".713" stop-color="#e7ff0f"/><stop offset=".755" stop-color="#70ff87"/><stop offset=".773" stop-color="#13fce4"/><stop offset=".776" stop-color="#00e4f8"/><stop offset=".787" stop-color="#00b0ff"/><stop offset=".797" stop-color="#0070ff"/><stop offset=".811" stop-color="#0000ff"/><stop offset=".815" stop-color="#0000ed"/><stop offset=".818" stop-color="#0000c4"/><stop offset=".829" stop-color="#000080"/><stop offset="1.000" stop-color="#000080"/></linearGradient>
<linearGradient id="g44" x1="0" y1="0" x2="0" y2="1"><stop offset=".000" stop-color="#a0ff56"/><stop offset=".126" stop-color="#f1fc06"/><stop offset=".161" stop-color="#ffe200"/><stop offset=".374" stop-color="#ff7a00"/><stop offset=".497" stop-color="#ff3b00"/><stop offset=".528" stop-color="#ff3400"/><stop offset=".573" stop-color="#ff3800"/><stop offset=".605" stop-color="#ff4e00"/><stop offset=".657" stop-color="#ff8d00"/><stop offset=".692" stop-color="#ffd000"/><stop offset=".706" stop-color="#fbf100"/><stop offset=".713" stop-color="#e7ff0f"/><stop offset=".755" stop-color="#70ff87"/><stop offset=".773" stop-color="#13fce4"/><stop offset=".776" stop-color="#00e4f8"/><stop offset=".787" stop-color="#00b0ff"/><stop offset=".797" stop-color="#0070ff"/><stop offset=".811" stop-color="#0000ff"/><stop offset=".815" stop-color="#0000ed"/><stop offset=".818" stop-color="#0000c4"/><stop offset=".829" stop-color="#000080"/><stop offset="1.000" stop-color="#000080"/></linearGradient>
<linearGradient id="g45" x1="0" y1="0" x2="0" y2="1"><stop offset=".000" stop-color="#adff49"/><stop offset=".119" stop-color="#f1fc06"/><stop offset=".154" stop-color="#ffe600"/><stop offset=".220" stop-color="#ffc400"/><stop offset=".367" stop-color="#ff7e00"/><stop offset=".497" stop-color="#ff3b00"/><stop offset=".528" stop-color="#ff3400"/><stop offset=".573" stop-color="#ff3800"/><stop offset=".605" stop-color="#ff4e00"/><stop offset=".657" stop-color="#ff8d00"/><stop offset=".692" stop-color="#ffd000"/><stop offset=".706" stop-color="#fbf100"/><stop offset=".713" stop-color="#e7ff0f"/><stop offset=".755" stop-color="#70ff87"/><stop offset=".773" stop-color="#13fce4"/><stop offset=".776" stop-color="#00e4f8"/><stop offset=".787" stop-color="#00b0ff"/><stop offset=".794" stop-color="#008cff"/><stop offset=".811" stop-color="#0000ff"/><stop offset=".815" stop-color="#0000ed"/><stop offset=".818" stop-color="#0000c4"/><stop offset=".829" stop-color="#000080"/><stop offset="1.000" stop-color="#000080"/></linearGradient>
<linearGradient id="g46" x1="0" y1="0" x2="0" y2="1"><stop offset=".000" stop-color="#baff3c"/><stop offset=".108" stop-color="#f1fc06"/><stop offset=".150" stop-color="#ffe600"/><stop offset=".255" stop-color="#ffb600"/><stop offset=".437" stop-color="#ff5d00"/><stop offset=".514" stop-color="#ff3400"/><stop offset=".573" stop-color="#ff3800"/><stop offset=".605" stop-color="#ff4e00"/><stop offset=".657" stop-color="#ff8d00"/><stop offset=".696" stop-color="#ffd700"/><stop offset=".706" stop-color="#fbf100"/><stop offset=".713" stop-color="#e7ff0f"/><stop offset=".755" stop-color="#73ff83"/><stop offset=".773" stop-color="#13fce4"/><stop offset=".776" stop-color="#00e4f8"/><stop offset=".787" stop-color="#00b0ff"/><stop offset=".794" stop-color="#008cff"/><stop offset=".811" stop-color="#0004ff"/><stop offset=".815" stop-color="#0000ed"/><stop offset=".822" stop-color="#0000ad"/><stop offset=".829" stop-color="#000080"/><stop offset="1.000" stop-color="#000080"/></linearGradient>
<linearGradient id="g47" x1="0" y1="0" x2="0" y2="1"><stop offset=".000" stop-color="#c4ff33"/><stop offset=".098" stop-color="#f1fc06"/><stop offset=".147" stop-color="#ffe200"/><stop offset=".318" stop-color="#ff9800"/><stop offset=".437" stop-color="#ff5d00"/><stop offset=".514" stop-color="#ff3400"/><stop offset=".573" stop-color="#ff3800"/><stop offset=".605" stop-color="#ff4e00"/><stop offset=".657" stop-color="#ff8d00"/><stop offset=".696" stop-color="#ffd700"/><stop offset=".706" stop-color="#fbf100"/><stop offset=".713" stop-color="#e7ff0f"/><stop offset=".755" stop-color="#73ff83"/><stop offset=".773" stop-color="#13fce4"/><stop offset=".776" stop-color="#00e4f8"/><stop offset=".787" stop-color="#00b0ff"/><stop offset=".794" stop-color="#008cff"/><stop offset=".811" stop-color="#0004ff"/><stop offset=".815" stop-color="#0000ed"/><stop offset=".822" stop-color="#0000ad"/><stop offset=".829" stop-color="#000080"/><stop offset="1.000" stop-color="#000080"/></linearGradient>
<linearGradient id="g48" x1="0" y1="0" x2="0" y2="1"><stop offset=".000" stop-color="#d1ff26"/><stop offset=".084" stop-color="#f1fc06"/><stop offset=".136" stop-color="#ffe600"/><stop offset=".311" stop-color="#ff9c00"/><stop offset=".437" stop-color="#ff5d00"/><stop offset=".514" stop-color="#ff3400"/><stop offset=".577" stop-color="#ff3800"/><stop offset=".612" stop-color="#ff5500"/><stop offset=".657" stop-color="#ff8d00"/><stop offset=".696" stop-color="#ffd700"/><stop offset=".706" stop-color="#fbf100"/><stop offset=".713" stop-color="#e7ff0f"/><stop offset=".755" stop-color="#73ff83"/><stop offset=".773" stop-color="#13fce4"/><stop offset=".776" stop-color="#02e8f4"/><stop offset=".780" stop-color="#00d4ff"/><stop offset=".794" stop-color="#008cff"/><stop offset=".808" stop-color="#0024ff"/><stop offset=".811" stop-color="#0004ff"/><stop offset=".815" stop-color="#0000f1"/><stop offset=".818" stop-color="#0000c8"/><stop offset=".829" stop-color="#000080"/><stop offset="1.000" stop-color="#000080"/></linearGradient>
<linearGradient id="g49" x1="0" y1="0" x2="0" y2="1"><stop offset=".000" stop-color="#d7ff1f"/><stop offset=".070" stop-color="#f1fc06"/><stop offset=".129" stop-color="#ffe600"/><stop offset=".297" stop-color="#ffa300"/><stop offset=".437" stop-color="#ff5d00"/><stop offset=".514" stop-color="#ff3400"/><stop offset=".577" stop-color="#ff3800"/><stop offset=".601" stop-color="#ff4a00"/><stop offset=".657" stop-color="#ff8d00"/><stop offset=".699" stop-color="#ffde00"/><stop offset=".706" stop-color="#fbf100"/><stop offset=".713" stop-color="#e7ff0f"/><stop offset=".755" stop-color="#73ff83"/><stop offset=".773" stop-color="#16ffe1"/><stop offset=".776" stop-color="#02e8f4"/><stop offset=".780" stop-color="#00d4ff"/><stop offset=".794" stop-color="#008cff"/><stop offset=".811" stop-color="#0008ff"/><stop offset=".815" stop-color="#0000f1"/><stop offset=".822" stop-color="#0000b2"/><stop offset=".829" stop-color="#000080"/><stop offset="1.000" stop-color="#000080"/></linearGradient>
<linearGradient id="g50" x1="0" y1="0" x2="0" y2="1"><stop offset=".000" stop-color="#dbff1c"/><stop offset=".063" stop-color="#f1fc06"/><stop offset=".122" stop-color="#ffe600"/><stop offset=".273" stop-color="#ffae00"/><stop offset=".437" stop-color="#ff5d00"/><stop offset=".514" stop-color="#ff3400"/><stop offset=".577" stop-color="#ff3800"/><stop offset=".601" stop-color="#ff4a00"/><stop offset=".657" stop-color="#ff8d00"/><stop offset=".699" stop-color="#ffde00"/><stop offset=".706" stop-color="#fbf100"/><stop offset=".713" stop-color="#e7ff0f"/><stop offset=".755" stop-color="#73ff83"/><stop offset=".773" stop-color="#16ffe1"/><stop offset=".776" stop-color="#02e8f4"/><stop offset=".780" stop-color="#00d4ff"/><stop offset=".794" stop-color="#0090ff"/><stop offset=".811" stop-color="#0008ff"/><stop offset=".815" stop-color="#0000f1"/><stop offset=".822" stop-color="#0000b2"/><stop offset=".829" stop-color="#000080"/><stop offset="1.000" stop-color="#000080"/></linearGradient>
<linearGradient id="g51" x1="0" y1="0" x2="0" y2="1"><stop offset=".000" stop-color="#e1ff16"/><stop offset=".056" stop-color="#f1fc06"/><stop offset=".115" stop-color="#ffe600"/><stop offset=".266" stop-color="#ffb200"/><stop offset=".437" stop-color="#ff5d00"/><stop offset=".514" stop-color="#ff3400"/><stop offset=".577" stop-color="#ff3800"/><stop offset=".601" stop-color="#ff4a00"/><stop offset=".657" stop-color="#ff8d00"/><stop offset=".699" stop-color="#ffde00"/><stop offset=".706" stop-color="#fbf100"/><stop offset=".713" stop-color="#e7ff0f"/><stop offset=".755" stop-color="#77ff80"/><stop offset=".773" stop-color="#16ffe1"/><stop offset=".776" stop-color="#02e8f4"/><stop offset=".780" stop-color="#00d4ff"/><stop offset=".794" stop-color="#0090ff"/><stop offset=".811" stop-color="#0008ff"/><stop offset=".815" stop-color="#0000f6"/><stop offset=".818" stop-color="#0000cd"/><stop offset=".829" stop-color="#000080"/><stop offset="1.000" stop-color="#000080"/></linearGradient>
<linearGradient id="g52" x1="0" y1="0" x2="0" y2="1"><stop offset=".000" stop-color="#e4ff13"/><stop offset=".056" stop-color="#f4f802"/><stop offset=".108" stop-color="#ffe600"/><stop offset=".210" stop-color="#ffc800"/><stop offset=".339" stop-color="#ff8d00"/><stop offset=".437" stop-color="#ff5d00"/><stop offset=".514" stop-color="#ff3400"/><stop offset=".577" stop-color="#ff3800"/><stop offset=".601" stop-color="#ff4a00"/><stop offset=".657" stop-color="#ff8d00"/><stop offset=".689" stop-color="#ffc800"/><stop offset=".706" stop-color="#fbf100"/><stop offset=".717" stop-color="#e1ff16"/><stop offset=".755" stop-color="#77ff80"/><stop offset=".773" stop-color="#16ffe1"/><stop offset=".776" stop-color="#02e8f4"/><stop offset=".780" stop-color="#00d8ff"/><stop offset=".794" stop-color="#0090ff"/><stop offset=".811" stop-color="#0008ff"/><stop offset=".815" stop-color="#0000f6"/><stop offset=".818" stop-color="#0000cd"/><stop offset=".829" stop-color="#000080"/><stop offset="1.000" stop-color="#000080"/></linearGradient>
<linearGradient id="g53" x1="0" y1="0" x2="0" y2="1"><stop offset=".000" stop-color="#e7ff0f"/><stop offset=".045" stop-color="#f4f802"/><stop offset=".108" stop-color="#ffe600"/><stop offset=".220" stop-color="#ffc400"/><stop offset=".367" stop-color="#ff7e00"/><stop offset=".497" stop-color="#ff3b00"/><stop offset=".528" stop-color="#ff3400"/><stop offset=".577" stop-color="#ff3800"/><stop offset=".601" stop-color="#ff4a00"/><stop offset=".657" stop-color="#ff8d00"/><stop offset=".689" stop-color="#ffc800"/><stop offset=".706" stop-color="#fbf100"/><stop offset=".717" stop-color="#e1ff16"/><stop offset=".755" stop-color="#77ff80"/><stop offset=".773" stop-color="#16ffe1"/><stop offset=".776" stop-color="#06ecf1"/><stop offset=".780" stop-color="#00d8ff"/><stop offset=".794" stop-color="#0090ff"/><stop offset=".811" stop-color="#000cff"/><stop offset=".815" stop-color="#0000f6"/><stop offset=".822" stop-color="#0000b2"/><stop offset=".829" stop-color="#000080"/><stop offset="1.000" stop-color="#000080"/></linearGradient>
<linearGradient id="g54" x1="0" y1="0" x2="0" y2="1"><stop offset=".000" stop-color="#ebff0c"/><stop offset=".070" stop-color="#feed00"/><stop offset=".210" stop-color="#ffc800"/><stop offset=".339" stop-color="#ff8d00"/><stop offset=".437" stop-color="#ff5d00"/><stop offset=".514" stop-color="#ff3400"/><stop offset=".577" stop-color="#ff3800"/><stop offset=".601" stop-color="#ff4a00"/><stop offset=".661" stop-color="#ff9100"/><stop offset=".696" stop-color="#ffd700"/><stop offset=".706" stop-color="#fbf100"/><stop offset=".717" stop-color="#e1ff16"/><stop offset=".755" stop-color="#77ff80"/><stop offset=".773" stop-color="#19ffde"/><stop offset=".776" stop-color="#06ecf1"/><stop offset=".780" stop-color="#00d8ff"/><stop offset=".794" stop-color="#0090ff"/><stop offset=".811" stop-color="#000cff"/><stop offset=".815" stop-color="#0000f6"/><stop offset=".822" stop-color="#0000b6"/><stop offset=".829" stop-color="#000080"/><stop offset="1.000" stop-color="#000080"/></linearGradient>
<linearGradient id="g55" x1="0" y1="0" x2="0" y2="1"><stop offset=".000" stop-color="#ebff0c"/><stop offset=".063" stop-color="#fbf100"/><stop offset=".210" stop-color="#ffc800"/><stop offset=".339" stop-color="#ff8d00"/><stop offset=".437" stop-color="#ff5d00"/><stop offset=".514" stop-color="#ff3400"/><stop offset=".577" stop-color="#ff3800"/><stop offset=".601" stop-color="#ff4700"/><stop offset=".664" stop-color="#ff9800"/><stop offset=".696" stop-color="#ffd700"/><stop offset=".706" stop-color="#feed00"/><stop offset=".713" stop-color="#ebff0c"/><stop offset=".755" stop-color="#77ff80"/><stop offset=".773" stop-color="#19ffde"/><stop offset=".776" stop-color="#06ecf1"/><stop offset=".780" stop-color="#00d8ff"/><stop offset=".794" stop-color="#0094ff"/><stop offset=".811" stop-color="#000cff"/><stop offset=".815" stop-color="#0000fa"/><stop offset=".818" stop-color="#0000d1"/><stop offset=".829" stop-color="#000084"/><stop offset="1.000" stop-color="#000080"/></linearGradient>
<linearGradient id="g56" x1="0" y1="0" x2="0" y2="1"><stop offset=".000" stop-color="#ebff0c"/><stop offset=".063" stop-color="#fbf100"/><stop offset=".210" stop-color="#ffc800"/><stop offset=".339" stop-color="#ff8d00"/><stop offset=".437" stop-color="#ff5d00"/><stop offset=".514" stop-color="#ff3400"/><stop offset=".577" stop-color="#ff3800"/><stop offset=".601" stop-color="#ff4700"/><stop offset=".664" stop-color="#ff9800"/><stop offset=".696" stop-color="#ffd700"/><stop offset=".706" stop-color="#feed00"/><stop offset=".713" stop-color="#ebff0c"/><stop offset=".755" stop-color="#77ff80"/><stop offset=".773" stop-color="#19ffde"/><stop offset=".776" stop-color="#06ecf1"/><stop offset=".780" stop-color="#00d8ff"/><stop offset=".794" stop-color="#0094ff"/><stop offset=".811" stop-color="#0010ff"/><stop offset=".815" stop-color="#0000fa"/><stop offset=".818" stop-color="#0000d1"/><stop offset=".829" stop-color="#000084"/><stop offset="1.000" stop-color="#000080"/></linearGradient>
<linearGradient id="g57" x1="0" y1="0" x2="0" y2="1"><stop offset=".000" stop-color="#ebff0c"/><stop offset=".063" stop-color="#feed00"/><stop offset=".199" stop-color="#ffcc00"/><stop offset=".325" stop-color="#ff9400"/><stop offset=".437" stop-color="#ff5d00"/><stop offset=".514" stop-color="#ff3400"/><stop offset=".577" stop-color="#ff3800"/><stop offset=".601" stop-color="#ff4700"/><stop offset=".664" stop-color="#ff9800"/><stop offset=".689" stop-color="#ffc400"/><stop offset=".706" stop-color="#feed00"/><stop offset=".713" stop-color="#ebff0c"/><stop offset=".755" stop-color="#77ff80"/><stop offset=".773" stop-color="#19ffde"/><stop offset=".776" stop-color="#06ecf1"/><stop offset=".780" stop-color="#00d8ff"/><stop offset=".794" stop-color="#0094ff"/><stop offset=".811" stop-color="#0010ff"/><stop offset=".815" stop-color="#0000fa"/><stop offset=".822" stop-color="#0000b6"/><stop offset=".829" stop-color="#000084"/><stop offset="1.000" stop-color="#000080"/></linearGradient>
<linearGradient id="g58" x1="0" y1="0" x2="0" y2="1"><stop offset=".000" stop-color="#ebff0c"/><stop offset=".063" stop-color="#feed00"/><stop offset=".199" stop-color="#ffcc00"/><stop offset=".325" stop-color="#ff9400"/><stop offset=".437" stop-color="#ff5d00"/><stop offset=".514" stop-color="#ff3400"/><stop offset=".577" stop-color="#ff3800"/><stop offset=".601" stop-color="#ff4700"/><stop offset=".664" stop-color="#ff9800"/><stop offset=".692" stop-color="#ffcc00"/><stop offset=".706" stop-color="#feed00"/><stop offset=".713" stop-color="#ebff0c"/><stop offset=".755" stop-color="#77ff80"/><stop offset=".773" stop-color="#19ffde"/><stop offset=".776" stop-color="#06ecf1"/><stop offset=".780" stop-color="#00d8ff"/><stop offset=".794" stop-color="#0094ff"/><stop offset=".811" stop-color="#0010ff"/><stop offset=".815" stop-color="#0000ff"/><stop offset=".822" stop-color="#0000b6"/><stop offset=".829" stop-color="#000084"/><stop offset="1.000" stop-color="#000080"/></linearGradient>
<linearGradient id="g59" x1="0" y1="0" x2="0" y2="1"><stop offset=".000" stop-color="#ebff0c"/><stop offset=".063" stop-color="#feed00"/><stop offset=".199" stop-color="#ffcc00"/><stop offset=".325" stop-color="#ff9400"/><stop offset=".437" stop-color="#ff5d00"/><stop offset=".514" stop-color="#ff3400"/><stop offset=".577" stop-color="#ff3800"/><stop offset=".601" stop-color="#ff4700"/><stop offset=".664" stop-color="#ff9800"/><stop offset=".692" stop-color="#ffcc00"/><stop offset=".706" stop-color="#feed00"/><stop offset=".713" stop-color="#ebff0c"/><stop offset=".755" stop-color="#77ff80"/><stop offset=".773" stop-color="#1cffdb"/><stop offset=".776" stop-color="#09f0ee"/><stop offset=".780" stop-color="#00dcfe"/><stop offset=".794" stop-color="#0094ff"/><stop offset=".811" stop-color="#0010ff"/><stop offset=".815" stop-color="#0000ff"/><stop offset=".822" stop-color="#0000b6"/><stop offset=".829" stop-color="#000084"/><stop offset="1.000" stop-color="#000080"/></linearGradient>
<linearGradient id="g60" x1="0" y1="0" x2="0" y2="1"><stop offset=".000" stop-color="#eeff09"/><stop offset=".077" stop-color="#ffea00"/><stop offset=".199" stop-color="#ffcc00"/><stop offset=".325" stop-color="#ff9400"/><stop offset=".437" stop-color="#ff5d00"/><stop offset=".514" stop-color="#ff3400"/><stop offset=".577" stop-color="#ff3800"/><stop offset=".601" stop-color="#ff4700"/><stop offset=".654" stop-color="#ff8600"/><stop offset=".692" stop-color="#ffcc00"/><stop offset=".706" stop-color="#feed00"/><stop offset=".713" stop-color="#ebff0c"/><stop offset=".755" stop-color="#77ff80"/><stop offset=".773" stop-color="#1cffdb"/><stop offset=".776" stop-color="#09f0ee"/><stop offset=".780" stop-color="#00dcfe"/><stop offset=".794" stop-color="#0094ff"/><stop offset=".815" stop-color="#0000ff"/><stop offset=".825" stop-color="#00009f"/><stop offset=".829" stop-color="#000084"/><stop offset="1.000" stop-color="#000080"/></linearGradient>
<linearGradient id="g61" x1="0" y1="0" x2="0" y2="1"><stop offset=".000" stop-color="#eeff09"/><stop offset=".077" stop-color="#ffea00"/><stop offset=".199" stop-color="#ffcc00"/><stop offset=".325" stop-color="#ff9400"/><stop offset=".437" stop-color="#ff5d00"/><stop offset=".514" stop-color="#ff3400"/><stop offset=".577" stop-color="#ff3800"/><stop offset=".605" stop-color="#ff4a00"/><stop offset=".661" stop-color="#ff9100"/><stop offset=".696" stop-color="#ffd300"/><stop offset=".706" stop-color="#feed00"/><stop offset=".713" stop-color="#ebff0c"/><stop offset=".755" stop-color="#7aff7d"/><stop offset=".773" stop-color="#1cffdb"/><stop offset=".776" stop-color="#09f0ee"/><stop offset=".780" stop-color="#00dcfe"/><stop offset=".794" stop-color="#0094ff"/><stop offset=".815" stop-color="#0000ff"/><stop offset=".825" stop-color="#00009f"/><stop offset=".829" stop-color="#000089"/><stop offset=".836" stop-color="#000080"/><stop offset="1.000" stop-color="#000080"/></linearGradient>
<linearGradient id="g62" x1="0" y1="0" x2="0" y2="1"><stop offset=".000" stop-color="#eeff09"/><stop offset=".077" stop-color="#ffea00"/><stop offset=".199" stop-color="#ffcc00"/><stop offset=".325" stop-color="#ff9400"/><stop offset=".437" stop-color="#ff5d00"/><stop offset=".514" stop-color="#ff3400"/><stop offset=".577" stop-color="#ff3800"/><stop offset=".605" stop-color="#ff4a00"/><stop offset=".661" stop-color="#ff9100"/><stop offset=".696" stop-color="#ffd300"/><stop offset=".710" stop-color="#f8f500"/><stop offset=".713" stop-color="#eeff09"/><stop offset=".755" stop-color="#7aff7d"/><stop offset=".773" stop-color="#1cffdb"/><stop offset=".776" stop-color="#09f0ee"/><stop offset=".780" stop-color="#00dcfe"/><stop offset=".794" stop-color="#0098ff"/><stop offset=".815" stop-color="#0000ff"/><stop offset=".825" stop-color="#00009f"/><stop offset=".829" stop-color="#000089"/><stop offset=".836" stop-color="#000080"/><stop offset="1.000" stop-color="#000080"/></linearGradient>
<linearGradient id="g63" x1="0" y1="0" x2="0" y2="1"><stop offset=".000" stop-color="#eeff09"/><stop offset=".077" stop-color="#ffea00"/><stop offset=".199" stop-color="#ffcc00"/><stop offset=".325" stop-color="#ff9400"/><stop offset=".437" stop-color="#ff5d00"/><stop offset=".514" stop-color="#ff3400"/><stop offset=".577" stop-color="#ff3800"/><stop offset=".605" stop-color="#ff4a00"/><stop offset=".661" stop-color="#ff9100"/><stop offset=".699" stop-color="#ffdb00"/><stop offset=".710" stop-color="#f8f500"/><stop offset=".713" stop-color="#eeff09"/><stop offset=".755" stop-color="#7aff7d"/><stop offset=".773" stop-color="#1cffdb"/><stop offset=".776" stop-color="#09f0ee"/><stop offset=".780" stop-color="#00dcfe"/><stop offset=".794" stop-color="#0098ff"/><stop offset=".815" stop-color="#0000ff"/><stop offset=".822" stop-color="#0000bb"/><stop offset=".829" stop-color="#000089"/><stop offset=".836" stop-color="#000080"/><stop offset="1.000" stop-color="#000080"/></linearGradient>
<linearGradient id="g64" x1="0" y1="0" x2="0" y2="1"><stop offset=".000" stop-color="#eeff09"/><stop offset=".077" stop-color="#ffea00"/><stop offset=".199" stop-color="#ffcc00"/><stop offset=".325" stop-color="#ff9400"/><stop offset=".437" stop-color="#ff5d00"/><stop offset=".514" stop-color="#ff3400"/><stop offset=".577" stop-color="#ff3800"/><stop offset=".605" stop-color="#ff4a00"/><stop offset=".661" stop-color="#ff9100"/><stop offset=".699" stop-color="#ffdb00"/><stop offset=".710" stop-color="#f8f500"/><stop offset=".713" stop-color="#eeff09"/><stop offset=".755" stop-color="#7aff7d"/><stop offset=".773" stop-color="#1fffd7"/><stop offset=".776" stop-color="#0cf4eb"/><stop offset=".780" stop-color="#00dcfe"/><stop offset=".794" stop-color="#0098ff"/><stop offset=".815" stop-color="#0000ff"/><stop offset=".822" stop-color="#0000bb"/><stop offset=".829" stop-color="#000089"/><stop offset=".836" stop-color="#000080"/><stop offset="1.000" stop-color="#000080"/></linearGradient>
<linearGradient id="g65" x1="0" y1="0" x2="0" y2="1"><stop offset=".000" stop-color="#eeff09"/><stop offset=".070" stop-color="#feed00"/><stop offset=".199" stop-color="#ffcc00"/><stop offset=".325" stop-color="#ff9400"/><stop offset=".437" stop-color="#ff5d00"/><stop offset=".514" stop-color="#ff3400"/><stop offset=".577" stop-color="#ff3800"/><stop offset=".605" stop-color="#ff4a00"/><stop offset=".647" stop-color="#ff7e00"/><stop offset=".661" stop-color="#ff9100"/><stop offset=".699" stop-color="#ffdb00"/><stop offset=".710" stop-color="#f8f500"/><stop offset=".713" stop-color="#eeff09"/><stop offset=".755" stop-color="#7aff7d"/><stop offset=".773" stop-color="#1fffd7"/><stop offset=".776" stop-color="#0cf4eb"/><stop offset=".780" stop-color="#00dcfe"/><stop offset=".794" stop-color="#0098ff"/><stop offset=".815" stop-color="#0000ff"/><stop offset=".829" stop-color="#000089"/><stop offset=".836" stop-color="#000080"/><stop offset="1.000" stop-color="#000080"/></linearGradient>
<linearGradient id="g66" x1="0" y1="0" x2="0" y2="1"><stop offset=".000" stop-color="#eeff09"/><stop offset=".070" stop-color="#ffea00"/><stop offset=".199" stop-color="#ffcc00"/><stop offset=".325" stop-color="#ff9400"/><stop offset=".437" stop-color="#ff5d00"/><stop offset=".514" stop-color="#ff3400"/><stop offset=".577" stop-color="#ff3800"/><stop offset=".605" stop-color="#ff4a00"/><stop offset=".647" stop-color="#ff7e00"/><stop offset=".657" stop-color="#ff8900"/><stop offset=".703" stop-color="#ffe200"/><stop offset=".710" stop-color="#f8f500"/><stop offset=".713" stop-color="#eeff09"/><stop offset=".755" stop-color="#7aff7d"/><stop offset=".773" stop-color="#1fffd7"/><stop offset=".780" stop-color="#00e0fb"/><stop offset=".797" stop-color="#0080ff"/><stop offset=".815" stop-color="#0000ff"/><stop offset=".825" stop-color="#0000a4"/><stop offset=".832" stop-color="#000080"/><stop offset="1.000" stop-color="#000080"/></linearGradient>
<linearGradient id="g67" x1="0" y1="0" x2="0" y2="1"><stop offset=".000" stop-color="#eeff09"/><stop offset=".070" stop-color="#ffea00"/><stop offset=".199" stop-color="#ffcc00"/><stop offset=".325" stop-color="#ff9400"/><stop offset=".437" stop-color="#ff5d00"/><stop offset=".514" stop-color="#ff3400"/><stop offset=".577" stop-color="#ff3800"/><stop offset=".608" stop-color="#ff4e00"/><stop offset=".643" stop-color="#ff7a00"/><stop offset=".657" stop-color="#ff8900"/><stop offset=".703" stop-color="#ffe200"/><stop offset=".710" stop-color="#f8f500"/><stop offset=".713" stop-color="#eeff09"/><stop offset=".759" stop-color="#6dff8a"/><stop offset=".773" stop-color="#1fffd7"/><stop offset=".780" stop-color="#00e0fb"/><stop offset=".797" stop-color="#0084ff"/><stop offset=".815" stop-color="#0000ff"/><stop offset=".825" stop-color="#0000a4"/><stop offset=".832" stop-color="#000080"/><stop offset="1.000" stop-color="#000080"/></linearGradient>
<linearGradient id="g68" x1="0" y1="0" x2="0" y2="1"><stop offset=".000" stop-color="#eeff09"/><stop offset=".070" stop-color="#ffea00"/><stop offset=".199" stop-color="#ffcc00"/><stop offset=".325" stop-color="#ff9400"/><stop offset=".437" stop-color="#ff5d00"/><stop offset=".514" stop-color="#ff3400"/><stop offset=".577" stop-color="#ff3800"/><stop offset=".608" stop-color="#ff4e00"/><stop offset=".640" stop-color="#ff7700"/><stop offset=".657" stop-color="#ff8900"/><stop offset=".703" stop-color="#ffe200"/><stop offset=".710" stop-color="#f8f500"/><stop offset=".713" stop-color="#eeff09"/><stop offset=".759" stop-color="#6dff8a"/><stop offset=".773" stop-color="#1fffd7"/><stop offset=".780" stop-color="#00e0fb"/><stop offset=".797" stop-color="#0084ff"/><stop offset=".815" stop-color="#0000ff"/><stop offset=".825" stop-color="#0000a4"/><stop offset=".832" stop-color="#000080"/><stop offset="1.000" stop-color="#000080"/></linearGradient>
<linearGradient id="g69" x1="0" y1="0" x2="0" y2="1"><stop offset=".000" stop-color="#eeff09"/><stop offset=".063" stop-color="#feed00"/><stop offset=".199" stop-color="#ffcc00"/><stop offset=".325" stop-color="#ff9400"/><stop offset=".437" stop-color="#ff5d00"/><stop offset=".514" stop-color="#ff3400"/><stop offset=".577" stop-color="#ff3800"/><stop offset=".608" stop-color="#ff4e00"/><stop offset=".636" stop-color="#ff7300"/><stop offset=".657" stop-color="#ff8900"/><stop offset=".689" stop-color="#ffc100"/><stop offset=".706" stop-color="#ffea00"/><stop offset=".713" stop-color="#eeff09"/><stop offset=".759" stop-color="#6dff8a"/><stop offset=".773" stop-color="#1fffd7"/><stop offset=".776" stop-color="#0ff8e7"/><stop offset=".780" stop-color="#00e0fb"/><stop offset=".794" stop-color="#009cff"/><stop offset=".815" stop-color="#0000ff"/><stop offset=".822" stop-color="#0000bf"/><stop offset=".829" stop-color="#00008d"/><stop offset=".832" stop-color="#000080"/><stop offset="1.000" stop-color="#000080"/></linearGradient>
<linearGradient id="g70" x1="0" y1="0" x2="0" y2="1"><stop offset=".000" stop-color="#eeff09"/><stop offset=".063" stop-color="#feed00"/><stop offset=".199" stop-color="#ffcc00"/><stop offset=".325" stop-color="#ff9400"/><stop offset=".437" stop-color="#ff5d00"/><stop offset=".514" stop-color="#ff3400"/><stop offset=".577" stop-color="#ff3800"/><stop offset=".608" stop-color="#ff4e00"/><stop offset=".636" stop-color="#ff7300"/><stop offset=".657" stop-color="#ff8900"/><stop offset=".689" stop-color="#ffc100"/><stop offset=".706" stop-color="#ffea00"/><stop offset=".713" stop-color="#eeff09"/><stop offset=".759" stop-color="#6dff8a"/><stop offset=".773" stop-color="#23ffd4"/><stop offset=".776" stop-color="#0ff8e7"/><stop offset=".780" stop-color="#00e0fb"/><stop offset=".794" stop-color="#009cff"/><stop offset=".815" stop-color="#0000ff"/><stop offset=".822" stop-color="#0000bf"/><stop offset=".829" stop-color="#00008d"/><stop offset=".832" stop-color="#000080"/><stop offset="1.000" stop-color="#000080"/></linearGradient>
<linearGradient id="g71" x1="0" y1="0" x2="0" y2="1"><stop offset=".000" stop-color="#e4ff13"/><stop offset=".056" stop-color="#f4f802"/><stop offset=".108" stop-color="#ffe600"/><stop offset=".210" stop-color="#ffc800"/><stop offset=".339" stop-color="#ff8d00"/><stop offset=".437" stop-color="#ff5d00"/><stop offset=".514" stop-color="#ff3400"/><stop offset=".577" stop-color="#ff3800"/><stop offset=".608" stop-color="#ff4e00"/><stop offset=".633" stop-color="#ff6f00"/><stop offset=".657" stop-color="#ff8900"/><stop offset=".689" stop-color="#ffc100"/><stop offset=".706" stop-color="#ffea00"/><stop offset=".713" stop-color="#eeff09"/><stop offset=".759" stop-color="#6dff8a"/><stop offset=".773" stop-color="#23ffd4"/><stop offset=".776" stop-color="#0ff8e7"/><stop offset=".780" stop-color="#00e0fb"/><stop offset=".794" stop-color="#009cff"/><stop offset=".815" stop-color="#0000ff"/><stop offset=".822" stop-color="#0000bf"/><stop offset=".829" stop-color="#00008d"/><stop offset=".832" stop-color="#000080"/><stop offset="1.000" stop-color="#000080"/></linearGradient>
<linearGradient id="g72" x1="0" y1="0" x2="0" y2="1"><stop offset=".000" stop-color="#d7ff1f"/><stop offset=".070" stop-color="#f1fc06"/><stop offset=".122" stop-color="#ffe600"/><stop offset=".266" stop-color="#ffb200"/><stop offset=".437" stop-color="#ff5d00"/><stop offset=".514" stop-color="#ff3400"/><stop offset=".577" stop-color="#ff3800"/><stop offset=".608" stop-color="#ff4e00"/><stop offset=".633" stop-color="#ff6f00"/><stop offset=".657" stop-color="#ff8900"/><stop offset=".689" stop-color="#ffc100"/><stop offset=".706" stop-color="#ffea00"/><stop offset=".713" stop-color="#eeff09"/><stop offset=".755" stop-color="#7dff7a"/><stop offset=".773" stop-color="#23ffd4"/><stop offset=".776" stop-color="#0ff8e7"/><stop offset=".780" stop-color="#00e0fb"/><stop offset=".794" stop-color="#009cff"/><stop offset=".815" stop-color="#0000ff"/><stop offset=".829" stop-color="#00008d"/><stop offset=".832" stop-color="#000080"/><stop offset="1.000" stop-color="#000080"/></linearGradient>
<linearGradient id="g73" x1="0" y1="0" x2="0" y2="1"><stop offset=".000" stop-color="#caff2c"/><stop offset=".087" stop-color="#f1fc06"/><stop offset=".140" stop-color="#ffe600"/><stop offset=".318" stop-color="#ff9800"/><stop offset=".437" stop-color="#ff5d00"/><stop offset=".514" stop-color="#ff3400"/><stop offset=".577" stop-color="#ff3800"/><stop offset=".608" stop-color="#ff4e00"/><stop offset=".633" stop-color="#ff6f00"/><stop offset=".657" stop-color="#ff8900"/><stop offset=".689" stop-color="#ffc100"/><stop offset=".706" stop-color="#ffea00"/><stop offset=".713" stop-color="#eeff09"/><stop offset=".755" stop-color="#7dff7a"/><stop offset=".773" stop-color="#23ffd4"/><stop offset=".776" stop-color="#0ff8e7"/><stop offset=".780" stop-color="#00e0fb"/><stop offset=".794" stop-color="#009cff"/><stop offset=".815" stop-color="#0000ff"/><stop offset=".818" stop-color="#0000e8"/><stop offset=".825" stop-color="#0000a8"/><stop offset=".829" stop-color="#00008d"/><stop offset=".832" stop-color="#000080"/><stop offset="1.000" stop-color="#000080"/></linearGradient>
<linearGradient id="g74" x1="0" y1="0" x2="0" y2="1"><stop offset=".000" stop-color="#c4ff33"/><stop offset=".098" stop-color="#f1fc06"/><stop offset=".147" stop-color="#ffe600"/><stop offset=".339" stop-color="#ff8d00"/><stop offset=".437" stop-color="#ff5d00"/><stop offset=".514" stop-color="#ff3400"/><stop offset=".577" stop-color="#ff3800"/><stop offset=".608" stop-color="#ff4e00"/><stop offset=".633" stop-color="#ff6c00"/><stop offset=".657" stop-color="#ff8900"/><stop offset=".692" stop-color="#ffc800"/><stop offset=".706" stop-color="#ffea00"/><stop offset=".713" stop-color="#eeff09"/><stop offset=".759" stop-color="#70ff87"/><stop offset=".773" stop-color="#23ffd4"/><stop offset=".776" stop-color="#0ff8e7"/><stop offset=".780" stop-color="#00e0fb"/><stop offset=".797" stop-color="#0088ff"/><stop offset=".811" stop-color="#0020ff"/><stop offset=".815" stop-color="#0000ff"/><stop offset=".818" stop-color="#0000e8"/><stop offset=".825" stop-color="#0000a8"/><stop offset=".832" stop-color="#000080"/><stop offset="1.000" stop-color="#000080"/></linearGradient>
<linearGradient id="g75" x1="0" y1="0" x2="0" y2="1"><stop offset=".000" stop-color="#c4ff33"/><stop offset=".098" stop-color="#f1fc06"/><stop offset=".147" stop-color="#ffe600"/><stop offset=".339" stop-color="#ff8d00"/><stop offset=".437" stop-color="#ff5d00"/><stop offset=".514" stop-color="#ff3400"/><stop offset=".577" stop-color="#ff3800"/><stop offset=".608" stop-color="#ff4e00"/><stop offset=".661" stop-color="#ff8d00"/><stop offset=".696" stop-color="#ffd300"/><stop offset=".710" stop-color="#fbf100"/><stop offset=".717" stop-color="#e7ff0f"/><stop offset=".759" stop-color="#70ff87"/><stop offset=".773" stop-color="#23ffd4"/><stop offset=".776" stop-color="#0ff8e7"/><stop offset=".780" stop-color="#00e0fb"/><stop offset=".797" stop-color="#0088ff"/><stop offset=".815" stop-color="#0000ff"/><stop offset=".818" stop-color="#0000e8"/><stop offset=".825" stop-color="#0000a8"/><stop offset=".832" stop-color="#000080"/><stop offset="1.000" stop-color="#000080"/></linearGradient>
<linearGradient id="g76" x1="0" y1="0" x2="0" y2="1"><stop offset=".000" stop-color="#c1ff36"/><stop offset=".101" stop-color="#f1fc06"/><stop offset=".143" stop-color="#ffe600"/><stop offset=".325" stop-color="#ff9400"/><stop offset=".437" stop-color="#ff5d00"/><stop offset=".514" stop-color="#ff3400"/><stop offset=".577" stop-color="#ff3800"/><stop offset=".608" stop-color="#ff4e00"/><stop offset=".661" stop-color="#ff8d00"/><stop offset=".696" stop-color="#ffd300"/><stop offset=".710" stop-color="#fbf100"/><stop offset=".717" stop-color="#e7ff0f"/><stop offset=".759" stop-color="#70ff87"/><stop offset=".776" stop-color="#13fce4"/><stop offset=".780" stop-color="#00e4f8"/><stop offset=".790" stop-color="#00b0ff"/><stop offset=".801" stop-color="#0070ff"/><stop offset=".815" stop-color="#0000ff"/><stop offset=".818" stop-color="#0000e8"/><stop offset=".822" stop-color="#0000c4"/><stop offset=".832" stop-color="#000080"/><stop offset="1.000" stop-color="#000080"/></linearGradient>
<linearGradient id="g77" x1="0" y1="0" x2="0" y2="1"><stop offset=".000" stop-color="#56ffa0"/><stop offset=".126" stop-color="#70ff87"/><stop offset=".203" stop-color="#97ff60"/><stop offset=".262" stop-color="#e1ff16"/><stop offset=".276" stop-color="#f4f802"/><stop offset=".287" stop-color="#ffe600"/><stop offset=".318" stop-color="#ffb900"/><stop offset=".343" stop-color="#ff9f00"/><stop offset=".406" stop-color="#ff7e00"/><stop offset=".517" stop-color="#ff3000"/><stop offset=".573" stop-color="#ff3400"/><stop offset=".601" stop-color="#ff4300"/><stop offset=".664" stop-color="#ff9400"/><stop offset=".699" stop-color="#ffd700"/><stop offset=".710" stop-color="#fbf100"/><stop offset=".717" stop-color="#e7ff0f"/><stop offset=".759" stop-color="#73ff83"/><stop offset=".776" stop-color="#13fce4"/><stop offset=".780" stop-color="#00e4f8"/><stop offset=".790" stop-color="#00b0ff"/><stop offset=".797" stop-color="#008cff"/><stop offset=".815" stop-color="#0004ff"/><stop offset=".818" stop-color="#0000ed"/><stop offset=".825" stop-color="#0000ad"/><stop offset=".832" stop-color="#000080"/><stop offset="1.000" stop-color="#000080"/></linearGradient>
<linearGradient id="g78" x1="0" y1="0" x2="0" y2="1"><stop offset=".000" stop-color="#7dff7a"/><stop offset=".080" stop-color="#c7ff30"/><stop offset=".224" stop-color="#eeff09"/><stop offset=".273" stop-color="#ffe600"/><stop offset=".343" stop-color="#ff9f00"/><stop offset=".406" stop-color="#ff7e00"/><stop offset=".517" stop-color="#ff3000"/><stop offset=".577" stop-color="#ff3400"/><stop offset=".605" stop-color="#ff4700"/><stop offset=".647" stop-color="#ff7a00"/><stop offset=".664" stop-color="#ff9400"/><stop offset=".699" stop-color="#ffd700"/><stop offset=".710" stop-color="#fbf100"/><stop offset=".717" stop-color="#e7ff0f"/><stop offset=".759" stop-color="#73ff83"/><stop offset=".776" stop-color="#13fce4"/><stop offset=".780" stop-color="#02e8f4"/><stop offset=".783" stop-color="#00d4ff"/><stop offset=".797" stop-color="#008cff"/><stop offset=".811" stop-color="#0024ff"/><stop offset=".815" stop-color="#0004ff"/><stop offset=".818" stop-color="#0000f1"/><stop offset=".822" stop-color="#0000c8"/><stop offset=".832" stop-color="#000080"/><stop offset="1.000" stop-color="#000080"/></linearGradient>
<linearGradient id="g79" x1="0" y1="0" x2="0" y2="1"><stop offset=".000" stop-color="#00acff"/><stop offset=".024" stop-color="#00c8ff"/><stop offset=".038" stop-color="#00e4f8"/><stop offset=".052" stop-color="#16ffe1"/><stop offset=".098" stop-color="#5aff9d"/><stop offset=".129" stop-color="#7aff7d"/><stop offset=".168" stop-color="#deff19"/><stop offset=".234" stop-color="#f1fc06"/><stop offset=".283" stop-color="#ffde00"/><stop offset=".343" stop-color="#ff9f00"/><stop offset=".406" stop-color="#ff7e00"/><stop offset=".517" stop-color="#ff3000"/><stop offset=".577" stop-color="#ff3400"/><stop offset=".608" stop-color="#ff4a00"/><stop offset=".650" stop-color="#ff7e00"/><stop offset=".692" stop-color="#ffc800"/><stop offset=".710" stop-color="#fbf100"/><stop offset=".720" stop-color="#e1ff16"/><stop offset=".759" stop-color="#77ff80"/><stop offset=".776" stop-color="#16ffe1"/><stop offset=".780" stop-color="#02e8f4"/><stop offset=".783" stop-color="#00d8ff"/><stop offset=".797" stop-color="#0090ff"/><stop offset=".815" stop-color="#000cff"/><stop offset=".818" stop-color="#0000f6"/><stop offset=".822" stop-color="#0000cd"/><stop offset=".832" stop-color="#000080"/><stop offset="1.000" stop-color="#000080"/></linearGradient>
<linearGradient id="g80" x1="0" y1="0" x2="0" y2="1"><stop offset=".000" stop-color="#0020ff"/><stop offset=".021" stop-color="#0034ff"/><stop offset=".087" stop-color="#00dcfe"/><stop offset=".101" stop-color="#13fce4"/><stop offset=".129" stop-color="#43ffb4"/><stop offset=".168" stop-color="#deff19"/><stop offset=".234" stop-color="#f1fc06"/><stop offset=".283" stop-color="#ffde00"/><stop offset=".343" stop-color="#ff9f00"/><stop offset=".406" stop-color="#ff7e00"/><stop offset=".517" stop-color="#ff3000"/><stop offset=".577" stop-color="#ff3400"/><stop offset=".601" stop-color="#ff3f00"/><stop offset=".643" stop-color="#ff7700"/><stop offset=".664" stop-color="#ff9100"/><stop offset=".696" stop-color="#ffcc00"/><stop offset=".710" stop-color="#feed00"/><stop offset=".717" stop-color="#ebff0c"/><stop offset=".759" stop-color="#77ff80"/><stop offset=".776" stop-color="#1cffdb"/><stop offset=".780" stop-color="#09f0ee"/><stop offset=".783" stop-color="#00dcfe"/><stop offset=".797" stop-color="#0094ff"/><stop offset=".818" stop-color="#0000ff"/><stop offset=".829" stop-color="#00009f"/><stop offset=".832" stop-color="#000084"/><stop offset="1.000" stop-color="#000080"/></linearGradient>
<linearGradient id="g81" x1="0" y1="0" x2="0" y2="1"><stop offset=".000" stop-color="#00acff"/><stop offset=".024" stop-color="#00c8ff"/><stop offset=".038" stop-color="#00e4f8"/><stop offset=".052" stop-color="#16ffe1"/><stop offset=".098" stop-color="#5aff9d"/><stop offset=".129" stop-color="#7aff7d"/><stop offset=".168" stop-color="#deff19"/><stop offset=".234" stop-color="#f1fc06"/><stop offset=".283" stop-color="#ffde00"/><stop offset=".343" stop-color="#ff9f00"/><stop offset=".406" stop-color="#ff7e00"/><stop offset=".517" stop-color="#ff3000"/><stop offset=".577" stop-color="#ff3400"/><stop offset=".605" stop-color="#ff4300"/><stop offset=".647" stop-color="#ff7a00"/><stop offset=".661" stop-color="#ff8900"/><stop offset=".706" stop-color="#ffe200"/><stop offset=".713" stop-color="#f8f500"/><stop offset=".717" stop-color="#eeff09"/><stop offset=".762" stop-color="#6dff8a"/><stop offset=".776" stop-color="#1fffd7"/><stop offset=".783" stop-color="#00e0fb"/><stop offset=".801" stop-color="#0084ff"/><stop offset=".818" stop-color="#0000ff"/><stop offset=".829" stop-color="#0000a4"/><stop offset=".836" stop-color="#000080"/><stop offset="1.000" stop-color="#000080"/></linearGradient>
<linearGradient id="g82" x1="0" y1="0" x2="0" y2="1"><stop offset=".000" stop-color="#36ffc1"/><stop offset=".049" stop-color="#7aff7d"/><stop offset=".077" stop-color="#b4ff43"/><stop offset=".080" stop-color="#c7ff30"/><stop offset=".224" stop-color="#eeff09"/><stop offset=".273" stop-color="#ffe600"/><stop offset=".343" stop-color="#ff9f00"/><stop offset=".406" stop-color="#ff7e00"/><stop offset=".517" stop-color="#ff3000"/><stop offset=".580" stop-color="#ff3400"/><stop offset=".608" stop-color="#ff4700"/><stop offset=".650" stop-color="#ff7a00"/><stop offset=".682" stop-color="#ffae00"/><stop offset=".713" stop-color="#fbf100"/><stop offset=".720" stop-color="#e7ff0f"/><stop offset=".762" stop-color="#70ff87"/><stop offset=".780" stop-color="#13fce4"/><stop offset=".783" stop-color="#00e4f8"/><stop offset=".794" stop-color="#00b0ff"/><stop offset=".804" stop-color="#0070ff"/><stop offset=".818" stop-color="#0000ff"/><stop offset=".822" stop-color="#0000ed"/><stop offset=".825" stop-color="#0000c4"/><stop offset=".836" stop-color="#000080"/><stop offset="1.000" stop-color="#000080"/></linearGradient>
<linearGradient id="g83" x1="0" y1="0" x2="0" y2="1"><stop offset=".000" stop-color="#00dcfe"/><stop offset=".014" stop-color="#0cf4eb"/><stop offset=".024" stop-color="#1cffdb"/><stop offset=".045" stop-color="#43ffb4"/><stop offset=".077" stop-color="#a4ff53"/><stop offset=".080" stop-color="#c7ff30"/><stop offset=".224" stop-color="#eeff09"/><stop offset=".273" stop-color="#ffe600"/><stop offset=".343" stop-color="#ff9f00"/><stop offset=".406" stop-color="#ff7e00"/><stop offset=".517" stop-color="#ff3000"/><stop offset=".580" stop-color="#ff3400"/><stop offset=".612" stop-color="#ff4a00"/><stop offset=".654" stop-color="#ff7e00"/><stop offset=".696" stop-color="#ffc800"/><stop offset=".713" stop-color="#fbf100"/><stop offset=".720" stop-color="#e7ff0f"/><stop offset=".762" stop-color="#73ff83"/><stop offset=".780" stop-color="#16ffe1"/><stop offset=".783" stop-color="#02e8f4"/><stop offset=".787" stop-color="#00d4ff"/><stop offset=".801" stop-color="#0090ff"/><stop offset=".818" stop-color="#0008ff"/><stop offset=".822" stop-color="#0000f6"/><stop offset=".825" stop-color="#0000cd"/><stop offset=".836" stop-color="#000080"/><stop offset="1.000" stop-color="#000080"/></linearGradient>
<linearGradient id="g84" x1="0" y1="0" x2="0" y2="1"><stop offset=".000" stop-color="#36ffc1"/><stop offset=".049" stop-color="#7aff7d"/><stop offset=".077" stop-color="#b4ff43"/><stop offset=".080" stop-color="#c7ff30"/><stop offset=".224" stop-color="#eeff09"/><stop offset=".273" stop-color="#ffe600"/><stop offset=".343" stop-color="#ff9f00"/><stop offset=".406" stop-color="#ff7e00"/><stop offset=".517" stop-color="#ff3000"/><stop offset=".580" stop-color="#ff3400"/><stop offset=".605" stop-color="#ff3f00"/><stop offset=".647" stop-color="#ff7700"/><stop offset=".671" stop-color="#ff9800"/><stop offset=".699" stop-color="#ffcc00"/><stop offset=".713" stop-color="#feed00"/><stop offset=".720" stop-color="#ebff0c"/><stop offset=".762" stop-color="#77ff80"/><stop offset=".780" stop-color="#19ffde"/><stop offset=".787" stop-color="#00d8ff"/><stop offset=".801" stop-color="#0094ff"/><stop offset=".818" stop-color="#0010ff"/><stop offset=".822" stop-color="#0000ff"/><stop offset=".829" stop-color="#0000b6"/><stop offset=".836" stop-color="#000084"/><stop offset="1.000" stop-color="#000080"/></linearGradient>
<linearGradient id="g85" x1="0" y1="0" x2="0" y2="1"><stop offset=".000" stop-color="#009cff"/><stop offset=".028" stop-color="#00dcfe"/><stop offset=".045" stop-color="#19ffde"/><stop offset=".084" stop-color="#7aff7d"/><stop offset=".112" stop-color="#ceff29"/><stop offset=".234" stop-color="#f1fc06"/><stop offset=".283" stop-color="#ffde00"/><stop offset=".343" stop-color="#ff9f00"/><stop offset=".406" stop-color="#ff7e00"/><stop offset=".517" stop-color="#ff3000"/><stop offset=".584" stop-color="#ff3400"/><stop offset=".608" stop-color="#ff4300"/><stop offset=".650" stop-color="#ff7a00"/><stop offset=".664" stop-color="#ff8900"/><stop offset=".706" stop-color="#ffdb00"/><stop offset=".717" stop-color="#f8f500"/><stop offset=".720" stop-color="#eeff09"/><stop offset=".762" stop-color="#7aff7d"/><stop offset=".780" stop-color="#1fffd7"/><stop offset=".783" stop-color="#0cf4eb"/><stop offset=".787" stop-color="#00dcfe"/><stop offset=".801" stop-color="#0098ff"/><stop offset=".822" stop-color="#0000ff"/><stop offset=".836" stop-color="#000089"/><stop offset=".843" stop-color="#000080"/><stop offset="1.000" stop-color="#000080"/></linearGradient>
<linearGradient id="g86" x1="0" y1="0" x2="0" y2="1"><stop offset=".000" stop-color="#004cff"/><stop offset=".045" stop-color="#00c8ff"/><stop offset=".052" stop-color="#00e0fb"/><stop offset=".063" stop-color="#19ffde"/><stop offset=".084" stop-color="#5dff9a"/><stop offset=".112" stop-color="#ceff29"/><stop offset=".234" stop-color="#f1fc06"/><stop offset=".283" stop-color="#ffde00"/><stop offset=".343" stop-color="#ff9f00"/><stop offset=".406" stop-color="#ff7e00"/><stop offset=".517" stop-color="#ff3000"/><stop offset=".584" stop-color="#ff3400"/><stop offset=".612" stop-color="#ff4700"/><stop offset=".654" stop-color="#ff7a00"/><stop offset=".685" stop-color="#ffae00"/><stop offset=".717" stop-color="#fbf100"/><stop offset=".724" stop-color="#e7ff0f"/><stop offset=".766" stop-color="#70ff87"/><stop offset=".780" stop-color="#23ffd4"/><stop offset=".783" stop-color="#0ff8e7"/><stop offset=".787" stop-color="#00e0fb"/><stop offset=".804" stop-color="#0088ff"/><stop offset=".822" stop-color="#0000ff"/><stop offset=".825" stop-color="#0000e8"/><stop offset=".832" stop-color="#0000a8"/><stop offset=".839" stop-color="#000080"/><stop offset="1.000" stop-color="#000080"/></linearGradient>
<linearGradient id="g87" x1="0" y1="0" x2="0" y2="1"><stop offset=".000" stop-color="#7aff7d"/><stop offset=".080" stop-color="#c7ff30"/><stop offset=".224" stop-color="#eeff09"/><stop offset=".273" stop-color="#ffe600"/><stop offset=".343" stop-color="#ff9f00"/><stop offset=".406" stop-color="#ff7e00"/><stop offset=".517" stop-color="#ff3000"/><stop offset=".584" stop-color="#ff3400"/><stop offset=".608" stop-color="#ff3f00"/><stop offset=".643" stop-color="#ff6f00"/><stop offset=".668" stop-color="#ff8d00"/><stop offset=".710" stop-color="#ffde00"/><stop offset=".717" stop-color="#fbf100"/><stop offset=".724" stop-color="#e7ff0f"/><stop offset=".766" stop-color="#73ff83"/><stop offset=".783" stop-color="#16ffe1"/><stop offset=".787" stop-color="#02e8f4"/><stop offset=".790" stop-color="#00d4ff"/><stop offset=".804" stop-color="#008cff"/><stop offset=".822" stop-color="#0008ff"/><stop offset=".825" stop-color="#0000f1"/><stop offset=".832" stop-color="#0000b2"/><stop offset=".839" stop-color="#000080"/><stop offset="1.000" stop-color="#000080"/></linearGradient>
<linearGradient id="g88" x1="0" y1="0" x2="0" y2="1"><stop offset=".000" stop-color="#09f0ee"/><stop offset=".010" stop-color="#1fffd7"/><stop offset=".035" stop-color="#53ffa4"/><stop offset=".063" stop-color="#b7ff40"/><stop offset=".080" stop-color="#c7ff30"/><stop offset=".224" stop-color="#eeff09"/><stop offset=".273" stop-color="#ffe600"/><stop offset=".343" stop-color="#ff9f00"/><stop offset=".406" stop-color="#ff7e00"/><stop offset=".517" stop-color="#ff3000"/><stop offset=".587" stop-color="#ff3400"/><stop offset=".612" stop-color="#ff4300"/><stop offset=".647" stop-color="#ff7300"/><stop offset=".675" stop-color="#ff9800"/><stop offset=".699" stop-color="#ffc400"/><stop offset=".717" stop-color="#feed00"/><stop offset=".724" stop-color="#ebff0c"/><stop offset=".766" stop-color="#77ff80"/><stop offset=".783" stop-color="#19ffde"/><stop offset=".787" stop-color="#06ecf1"/><stop offset=".790" stop-color="#00d8ff"/><stop offset=".804" stop-color="#0094ff"/><stop offset=".822" stop-color="#0010ff"/><stop offset=".825" stop-color="#0000fa"/><stop offset=".836" stop-color="#00009b"/><stop offset=".839" stop-color="#000084"/><stop offset="1.000" stop-color="#000080"/></linearGradient>
<linearGradient id="g89" x1="0" y1="0" x2="0" y2="1"><stop offset=".000" stop-color="#09f0ee"/><stop offset=".010" stop-color="#1fffd7"/><stop offset=".035" stop-color="#53ffa4"/><stop offset=".063" stop-color="#b7ff40"/><stop offset=".080" stop-color="#c7ff30"/><stop offset=".224" stop-color="#eeff09"/><stop offset=".273" stop-color="#ffe600"/><stop offset=".343" stop-color="#ff9f00"/><stop offset=".406" stop-color="#ff7e00"/><stop offset=".517" stop-color="#ff3000"/><stop offset=".587" stop-color="#ff3400"/><stop offset=".615" stop-color="#ff4700"/><stop offset=".650" stop-color="#ff7700"/><stop offset=".671" stop-color="#ff9100"/><stop offset=".710" stop-color="#ffdb00"/><stop offset=".720" stop-color="#f8f500"/><stop offset=".724" stop-color="#eeff09"/><stop offset=".766" stop-color="#7aff7d"/><stop offset=".783" stop-color="#1cffdb"/><stop offset=".787" stop-color="#0cf4eb"/><stop offset=".790" stop-color="#00dcfe"/><stop offset=".804" stop-color="#0098ff"/><stop offset=".825" stop-color="#0000ff"/><stop offset=".832" stop-color="#0000bb"/><stop offset=".839" stop-color="#000089"/><stop offset=".846" stop-color="#000080"/><stop offset="1.000" stop-color="#000080"/></linearGradient>
<linearGradient id="g90" x1="0" y1="0" x2="0" y2="1"><stop offset=".000" stop-color="#36ffc1"/><stop offset=".031" stop-color="#63ff94"/><stop offset=".049" stop-color="#a4ff53"/><stop offset=".084" stop-color="#c4ff33"/><stop offset=".238" stop-color="#f1fc06"/><stop offset=".280" stop-color="#ffe200"/><stop offset=".343" stop-color="#ff9f00"/><stop offset=".406" stop-color="#ff7e00"/><stop offset=".517" stop-color="#ff3000"/><stop offset=".587" stop-color="#ff3400"/><stop offset=".608" stop-color="#ff3b00"/><stop offset=".650" stop-color="#ff7700"/><stop offset=".668" stop-color="#ff8900"/><stop offset=".713" stop-color="#ffe200"/><stop offset=".720" stop-color="#f8f500"/><stop offset=".724" stop-color="#eeff09"/><stop offset=".769" stop-color="#6dff8a"/><stop offset=".783" stop-color="#1fffd7"/><stop offset=".790" stop-color="#00e0fb"/><stop offset=".808" stop-color="#0084ff"/><stop offset=".825" stop-color="#0000ff"/><stop offset=".836" stop-color="#0000a4"/><stop offset=".843" stop-color="#000080"/><stop offset="1.000" stop-color="#000080"/></linearGradient>
<linearGradient id="g91" x1="0" y1="0" x2="0" y2="1"><stop offset=".000" stop-color="#00d4ff"/><stop offset=".014" stop-color="#06ecf1"/><stop offset=".028" stop-color="#1cffdb"/><stop offset=".035" stop-color="#2cffca"/><stop offset=".052" stop-color="#9dff5a"/><stop offset=".080" stop-color="#b7ff40"/><stop offset=".238" stop-color="#f1fc06"/><stop offset=".280" stop-color="#ffe200"/><stop offset=".343" stop-color="#ff9f00"/><stop offset=".406" stop-color="#ff7e00"/><stop offset=".517" stop-color="#ff3000"/><stop offset=".587" stop-color="#ff3400"/><stop offset=".608" stop-color="#ff3b00"/><stop offset=".650" stop-color="#ff7700"/><stop offset=".668" stop-color="#ff8900"/><stop offset=".713" stop-color="#ffe200"/><stop offset=".720" stop-color="#f8f500"/><stop offset=".724" stop-color="#eeff09"/><stop offset=".769" stop-color="#6dff8a"/><stop offset=".783" stop-color="#1fffd7"/><stop offset=".790" stop-color="#00e0fb"/><stop offset=".808" stop-color="#0084ff"/><stop offset=".825" stop-color="#0000ff"/><stop offset=".836" stop-color="#0000a4"/><stop offset=".843" stop-color="#000080"/><stop offset="1.000" stop-color="#000080"/></linearGradient>
<linearGradient id="g92" x1="0" y1="0" x2="0" y2="1"><stop offset=".000" stop-color="#0080ff"/><stop offset=".021" stop-color="#00a8ff"/><stop offset=".038" stop-color="#00e0fb"/><stop offset=".042" stop-color="#13fce4"/><stop offset=".056" stop-color="#8dff6a"/><stop offset=".063" stop-color="#9dff5a"/><stop offset=".080" stop-color="#adff49"/><stop offset=".241" stop-color="#f1fc06"/><stop offset=".276" stop-color="#ffe200"/><stop offset=".343" stop-color="#ff9f00"/><stop offset=".406" stop-color="#ff7e00"/><stop offset=".517" stop-color="#ff3000"/><stop offset=".587" stop-color="#ff3400"/><stop offset=".608" stop-color="#ff3b00"/><stop offset=".650" stop-color="#ff7700"/><stop offset=".668" stop-color="#ff8900"/><stop offset=".713" stop-color="#ffe200"/><stop offset=".720" stop-color="#f8f500"/><stop offset=".724" stop-color="#eeff09"/><stop offset=".769" stop-color="#6dff8a"/><stop offset=".783" stop-color="#1fffd7"/><stop offset=".790" stop-color="#00e0fb"/><stop offset=".808" stop-color="#0084ff"/><stop offset=".825" stop-color="#0000ff"/><stop offset=".836" stop-color="#0000a4"/><stop offset=".843" stop-color="#000080"/><stop offset="1.000" stop-color="#000080"/></linearGradient>
<linearGradient id="g93" x1="0" y1="0" x2="0" y2="1"><stop offset=".000" stop-color="#0054ff"/><stop offset=".024" stop-color="#008cff"/><stop offset=".045" stop-color="#00d4ff"/><stop offset=".049" stop-color="#19ffde"/><stop offset=".059" stop-color="#80ff77"/><stop offset=".063" stop-color="#94ff63"/><stop offset=".112" stop-color="#b4ff43"/><stop offset=".241" stop-color="#f1fc06"/><stop offset=".276" stop-color="#ffe200"/><stop offset=".343" stop-color="#ff9f00"/><stop offset=".406" stop-color="#ff7e00"/><stop offset=".517" stop-color="#ff3000"/><stop offset=".587" stop-color="#ff3400"/><stop offset=".608" stop-color="#ff3b00"/><stop offset=".650" stop-color="#ff7700"/><stop offset=".668" stop-color="#ff8900"/><stop offset=".713" stop-color="#ffe200"/><stop offset=".720" stop-color="#f8f500"/><stop offset=".724" stop-color="#eeff09"/><stop offset=".769" stop-color="#6dff8a"/><stop offset=".783" stop-color="#1fffd7"/><stop offset=".790" stop-color="#00e0fb"/><stop offset=".808" stop-color="#0084ff"/><stop offset=".825" stop-color="#0000ff"/><stop offset=".836" stop-color="#0000a4"/><stop offset=".843" stop-color="#000080"/><stop offset="1.000" stop-color="#000080"/></linearGradient>
<linearGradient id="g94" x1="0" y1="0" x2="0" y2="1"><stop offset=".000" stop-color="#0054ff"/><stop offset=".024" stop-color="#008cff"/><stop offset=".042" stop-color="#00c8ff"/><stop offset=".049" stop-color="#00d4ff"/><stop offset=".052" stop-color="#13fce4"/><stop offset=".063" stop-color="#7aff7d"/><stop offset=".066" stop-color="#8dff6a"/><stop offset=".196" stop-color="#dbff1c"/><stop offset=".241" stop-color="#f1fc06"/><stop offset=".276" stop-color="#ffe200"/><stop offset=".343" stop-color="#ff9f00"/><stop offset=".406" stop-color="#ff7e00"/><stop offset=".517" stop-color="#ff3000"/><stop offset=".587" stop-color="#ff3400"/><stop offset=".608" stop-color="#ff3b00"/><stop offset=".650" stop-color="#ff7700"/><stop offset=".668" stop-color="#ff8900"/><stop offset=".713" stop-color="#ffe200"/><stop offset=".720" stop-color="#f8f500"/><stop offset=".724" stop-color="#eeff09"/><stop offset=".769" stop-color="#6dff8a"/><stop offset=".783" stop-color="#1fffd7"/><stop offset=".790" stop-color="#00e0fb"/><stop offset=".808" stop-color="#0084ff"/><stop offset=".825" stop-color="#0000ff"/><stop offset=".836" stop-color="#0000a4"/><stop offset=".843" stop-color="#000080"/><stop offset="1.000" stop-color="#000080"/></linearGradient>
<linearGradient id="g95" x1="0" y1="0" x2="0" y2="1"><stop offset=".000" stop-color="#0054ff"/><stop offset=".024" stop-color="#008cff"/><stop offset=".042" stop-color="#00c8ff"/><stop offset=".052" stop-color="#00dcfe"/><stop offset=".056" stop-color="#0cf4eb"/><stop offset=".059" stop-color="#30ffc7"/><stop offset=".066" stop-color="#73ff83"/><stop offset=".073" stop-color="#8aff6d"/><stop offset=".234" stop-color="#eeff09"/><stop offset=".273" stop-color="#ffe600"/><stop offset=".343" stop-color="#ff9f00"/><stop offset=".406" stop-color="#ff7e00"/><stop offset=".517" stop-color="#ff3000"/><stop offset=".587" stop-color="#ff3400"/><stop offset=".608" stop-color="#ff3b00"/><stop offset=".650" stop-color="#ff7700"/><stop offset=".668" stop-color="#ff8900"/><stop offset=".713" stop-color="#ffe200"/><stop offset=".720" stop-color="#f8f500"/><stop offset=".724" stop-color="#eeff09"/><stop offset=".769" stop-color="#6dff8a"/><stop offset=".783" stop-color="#1fffd7"/><stop offset=".790" stop-color="#00e0fb"/><stop offset=".808" stop-color="#0084ff"/><stop offset=".825" stop-color="#0000ff"/><stop offset=".836" stop-color="#0000a4"/><stop offset=".843" stop-color="#000080"/><stop offset="1.000" stop-color="#000080"/></linearGradient>
<linearGradient id="g96" x1="0" y1="0" x2="0" y2="1"><stop offset=".000" stop-color="#0054ff"/><stop offset=".024" stop-color="#008cff"/><stop offset=".042" stop-color="#00c8ff"/><stop offset=".056" stop-color="#00e4f8"/><stop offset=".059" stop-color="#06ecf1"/><stop offset=".063" stop-color="#29ffce"/><stop offset=".070" stop-color="#6dff8a"/><stop offset=".077" stop-color="#83ff73"/><stop offset=".231" stop-color="#ebff0c"/><stop offset=".262" stop-color="#feed00"/><stop offset=".329" stop-color="#ffae00"/><stop offset=".343" stop-color="#ff9f00"/><stop offset=".406" stop-color="#ff7e00"/><stop offset=".517" stop-color="#ff3000"/><stop offset=".587" stop-color="#ff3400"/><stop offset=".608" stop-color="#ff3b00"/><stop offset=".650" stop-color="#ff7700"/><stop offset=".668" stop-color="#ff8900"/><stop offset=".713" stop-color="#ffe200"/><stop offset=".720" stop-color="#f8f500"/><stop offset=".724" stop-color="#eeff09"/><stop offset=".769" stop-color="#6dff8a"/><stop offset=".783" stop-color="#1fffd7"/><stop offset=".790" stop-color="#00e0fb"/><stop offset=".808" stop-color="#0084ff"/><stop offset=".825" stop-color="#0000ff"/><stop offset=".836" stop-color="#0000a4"/><stop offset=".843" stop-color="#000080"/><stop offset="1.000" stop-color="#000080"/></linearGradient>
<linearGradient id="g97" x1="0" y1="0" x2="0" y2="1"><stop offset=".000" stop-color="#0054ff"/><stop offset=".024" stop-color="#008cff"/><stop offset=".042" stop-color="#00c8ff"/><stop offset=".056" stop-color="#00e4f8"/><stop offset=".063" stop-color="#0cf4eb"/><stop offset=".066" stop-color="#23ffd4"/><stop offset=".073" stop-color="#66ff90"/><stop offset=".077" stop-color="#77ff80"/><stop offset=".206" stop-color="#dbff1c"/><stop offset=".245" stop-color="#f1fc06"/><stop offset=".273" stop-color="#ffe600"/><stop offset=".343" stop-color="#ff9f00"/><stop offset=".406" stop-color="#ff7e00"/><stop offset=".517" stop-color="#ff3000"/><stop offset=".587" stop-color="#ff3400"/><stop offset=".608" stop-color="#ff3b00"/><stop offset=".650" stop-color="#ff7700"/><stop offset=".668" stop-color="#ff8900"/><stop offset=".713" stop-color="#ffe200"/><stop offset=".720" stop-color="#f8f500"/><stop offset=".724" stop-color="#eeff09"/><stop offset=".769" stop-color="#6dff8a"/><stop offset=".783" stop-color="#1fffd7"/><stop offset=".790" stop-color="#00e0fb"/><stop offset=".808" stop-color="#0084ff"/><stop offset=".825" stop-color="#0000ff"/><stop offset=".836" stop-color="#0000a4"/><stop offset=".843" stop-color="#000080"/><stop offset="1.000" stop-color="#000080"/></linearGradient>
<linearGradient id="g98" x1="0" y1="0" x2="0" y2="1"><stop offset=".000" stop-color="#0054ff"/><stop offset=".024" stop-color="#008cff"/><stop offset=".042" stop-color="#00c8ff"/><stop offset=".056" stop-color="#00e4f8"/><stop offset=".066" stop-color="#0ff8e7"/><stop offset=".070" stop-color="#1fffd7"/><stop offset=".077" stop-color="#60ff97"/><stop offset=".080" stop-color="#70ff87"/><stop offset=".213" stop-color="#deff19"/><stop offset=".245" stop-color="#f1fc06"/><stop offset=".273" stop-color="#ffe600"/><stop offset=".343" stop-color="#ff9f00"/><stop offset=".406" stop-color="#ff7e00"/><stop offset=".517" stop-color="#ff3000"/><stop offset=".587" stop-color="#ff3400"/><stop offset=".608" stop-color="#ff3b00"/><stop offset=".650" stop-color="#ff7700"/><stop offset=".668" stop-color="#ff8900"/><stop offset=".713" stop-color="#ffe200"/><stop offset=".720" stop-color="#f8f500"/><stop offset=".724" stop-color="#eeff09"/><stop offset=".769" stop-color="#6dff8a"/><stop offset=".783" stop-color="#1fffd7"/><stop offset=".790" stop-color="#00e0fb"/><stop offset=".808" stop-color="#0084ff"/><stop offset=".825" stop-color="#0000ff"/><stop offset=".836" stop-color="#0000a4"/><stop offset=".843" stop-color="#000080"/><stop offset="1.000" stop-color="#000080"/></linearGradient>
<linearGradient id="g99" x1="0" y1="0" x2="0" y2="1"><stop offset=".000" stop-color="#0054ff"/><stop offset=".024" stop-color="#008cff"/><stop offset=".042" stop-color="#00c8ff"/><stop offset=".056" stop-color="#00e4f8"/><stop offset=".070" stop-color="#16ffe1"/><stop offset=".073" stop-color="#1cffdb"/><stop offset=".080" stop-color="#5aff9d"/><stop offset=".084" stop-color="#6aff8d"/><stop offset=".143" stop-color="#a0ff56"/><stop offset=".234" stop-color="#ebff0c"/><stop offset=".262" stop-color="#feed00"/><stop offset=".343" stop-color="#ff9f00"/><stop offset=".406" stop-color="#ff7e00"/><stop offset=".517" stop-color="#ff3000"/><stop offset=".587" stop-color="#ff3400"/><stop offset=".608" stop-color="#ff3b00"/><stop offset=".650" stop-color="#ff7700"/><stop offset=".668" stop-color="#ff8900"/><stop offset=".713" stop-color="#ffe200"/><stop offset=".720" stop-color="#f8f500"/><stop offset=".724" stop-color="#eeff09"/><stop offset=".769" stop-color="#6dff8a"/><stop offset=".783" stop-color="#1fffd7"/><stop offset=".790" stop-color="#00e0fb"/><stop offset=".808" stop-color="#0084ff"/><stop offset=".825" stop-color="#0000ff"/><stop offset=".836" stop-color="#0000a4"/><stop offset=".843" stop-color="#000080"/><stop offset="1.000" stop-color="#000080"/></linearGradient>
<linearGradient id="g100" x1="0" y1="0" x2="0" y2="1"><stop offset=".000" stop-color="#0054ff"/><stop offset=".024" stop-color="#008cff"/><stop offset=".042" stop-color="#00c8ff"/><stop offset=".056" stop-color="#00e4f8"/><stop offset=".070" stop-color="#16ffe1"/><stop offset=".077" stop-color="#1fffd7"/><stop offset=".080" stop-color="#33ffc4"/><stop offset=".084" stop-color="#53ffa4"/><stop offset=".087" stop-color="#63ff94"/><stop offset=".164" stop-color="#adff49"/><stop offset=".245" stop-color="#f1fc06"/><stop offset=".273" stop-color="#ffe600"/><stop offset=".343" stop-color="#ff9f00"/><stop offset=".406" stop-color="#ff7e00"/><stop offset=".517" stop-color="#ff3000"/><stop offset=".587" stop-color="#ff3400"/><stop offset=".608" stop-color="#ff3b00"/><stop offset=".650" stop-color="#ff7700"/><stop offset=".668" stop-color="#ff8900"/><stop offset=".713" stop-color="#ffe200"/><stop offset=".720" stop-color="#f8f500"/><stop offset=".724" stop-color="#eeff09"/><stop offset=".769" stop-color="#6dff8a"/><stop offset=".783" stop-color="#1fffd7"/><stop offset=".790" stop-color="#00e0fb"/><stop offset=".808" stop-color="#0084ff"/><stop offset=".825" stop-color="#0000ff"/><stop offset=".836" stop-color="#0000a4"/><stop offset=".843" stop-color="#000080"/><stop offset="1.000" stop-color="#000080"/></linearGradient>
<linearGradient id="g101" x1="0" y1="0" x2="0" y2="1"><stop offset=".000" stop-color="#0054ff"/><stop offset=".024" stop-color="#008cff"/><stop offset=".042" stop-color="#00c8ff"/><stop offset=".056" stop-color="#00e4f8"/><stop offset=".070" stop-color="#16ffe1"/><stop offset=".084" stop-color="#30ffc7"/><stop offset=".087" stop-color="#4dffaa"/><stop offset=".094" stop-color="#63ff94"/><stop offset=".203" stop-color="#ceff29"/><stop offset=".245" stop-color="#f1fc06"/><stop offset=".273" stop-color="#ffe200"/><stop offset=".343" stop-color="#ff9f00"/><stop offset=".406" stop-color="#ff7e00"/><stop offset=".517" stop-color="#ff3000"/><stop offset=".587" stop-color="#ff3400"/><stop offset=".608" stop-color="#ff3b00"/><stop offset=".650" stop-color="#ff7700"/><stop offset=".668" stop-color="#ff8900"/><stop offset=".713" stop-color="#ffe200"/><stop offset=".720" stop-color="#f8f500"/><stop offset=".724" stop-color="#eeff09"/><stop offset=".769" stop-color="#6dff8a"/><stop offset=".783" stop-color="#1fffd7"/><stop offset=".790" stop-color="#00e0fb"/><stop offset=".808" stop-color="#0084ff"/><stop offset=".825" stop-color="#0000ff"/><stop offset=".836" stop-color="#0000a4"/><stop offset=".843" stop-color="#000080"/><stop offset="1.000" stop-color="#000080"/></linearGradient>
<linearGradient id="g102" x1="0" y1="0" x2="0" y2="1"><stop offset=".000" stop-color="#0054ff"/><stop offset=".024" stop-color="#008cff"/><stop offset=".042" stop-color="#00c8ff"/><stop offset=".056" stop-color="#00e4f8"/><stop offset=".070" stop-color="#16ffe1"/><stop offset=".087" stop-color="#30ffc7"/><stop offset=".094" stop-color="#5aff9d"/><stop offset=".189" stop-color="#c1ff36"/><stop offset=".248" stop-color="#f1fc06"/><stop offset=".273" stop-color="#ffe200"/><stop offset=".343" stop-color="#ff9f00"/><stop offset=".406" stop-color="#ff7e00"/><stop offset=".517" stop-color="#ff3000"/><stop offset=".587" stop-color="#ff3400"/><stop offset=".608" stop-color="#ff3b00"/><stop offset=".650" stop-color="#ff7700"/><stop offset=".668" stop-color="#ff8900"/><stop offset=".713" stop-color="#ffe200"/><stop offset=".720" stop-color="#f8f500"/><stop offset=".724" stop-color="#eeff09"/><stop offset=".769" stop-color="#6dff8a"/><stop offset=".783" stop-color="#1fffd7"/><stop offset=".790" stop-color="#00e0fb"/><stop offset=".808" stop-color="#0084ff"/><stop offset=".825" stop-color="#0000ff"/><stop offset=".836" stop-color="#0000a4"/><stop offset=".843" stop-color="#000080"/><stop offset="1.000" stop-color="#000080"/></linearGradient>
<linearGradient id="g103" x1="0" y1="0" x2="0" y2="1"><stop offset=".000" stop-color="#0054ff"/><stop offset=".024" stop-color="#008cff"/><stop offset=".042" stop-color="#00c8ff"/><stop offset=".056" stop-color="#00e4f8"/><stop offset=".070" stop-color="#16ffe1"/><stop offset=".091" stop-color="#33ffc4"/><stop offset=".098" stop-color="#53ffa4"/><stop offset=".140" stop-color="#83ff73"/><stop offset=".206" stop-color="#ceff29"/><stop offset=".248" stop-color="#f1fc06"/><stop offset=".273" stop-color="#ffe200"/><stop offset=".343" stop-color="#ff9f00"/><stop offset=".406" stop-color="#ff7e00"/><stop offset=".517" stop-color="#ff3000"/><stop offset=".587" stop-color="#ff3400"/><stop offset=".608" stop-color="#ff3b00"/><stop offset=".650" stop-color="#ff7700"/><stop offset=".668" stop-color="#ff8900"/><stop offset=".713" stop-color="#ffe200"/><stop offset=".720" stop-color="#f8f500"/><stop offset=".724" stop-color="#eeff09"/><stop offset=".769" stop-color="#6dff8a"/><stop offset=".783" stop-color="#1fffd7"/><stop offset=".790" stop-color="#00e0fb"/><stop offset=".808" stop-color="#0084ff"/><stop offset=".825" stop-color="#0000ff"/><stop offset=".836" stop-color="#0000a4"/><stop offset=".843" stop-color="#000080"/><stop offset="1.000" stop-color="#000080"/></linearGradient>
<linearGradient id="g104" x1="0" y1="0" x2="0" y2="1"><stop offset=".000" stop-color="#0054ff"/><stop offset=".024" stop-color="#008cff"/><stop offset=".042" stop-color="#00c8ff"/><stop offset=".056" stop-color="#00e4f8"/><stop offset=".070" stop-color="#16ffe1"/><stop offset=".098" stop-color="#40ffb7"/><stop offset=".105" stop-color="#56ffa0"/><stop offset=".203" stop-color="#c7ff30"/><stop offset=".248" stop-color="#f1fc06"/><stop offset=".273" stop-color="#ffe200"/><stop offset=".343" stop-color="#ff9f00"/><stop offset=".406" stop-color="#ff7e00"/><stop offset=".517" stop-color="#ff3000"/><stop offset=".587" stop-color="#ff3400"/><stop offset=".608" stop-color="#ff3b00"/><stop offset=".650" stop-color="#ff7700"/><stop offset=".668" stop-color="#ff8900"/><stop offset=".713" stop-color="#ffe200"/><stop offset=".720" stop-color="#f8f500"/><stop offset=".724" stop-color="#eeff09"/><stop offset=".769" stop-color="#6dff8a"/><stop offset=".783" stop-color="#1fffd7"/><stop offset=".790" stop-color="#00e0fb"/><stop offset=".808" stop-color="#0084ff"/><stop offset=".825" stop-color="#0000ff"/><stop offset=".836" stop-color="#0000a4"/><stop offset=".843" stop-color="#000080"/><stop offset="1.000" stop-color="#000080"/></linearGradient>
<linearGradient id="g105" x1="0" y1="0" x2="0" y2="1"><stop offset=".000" stop-color="#0054ff"/><stop offset=".024" stop-color="#008cff"/><stop offset=".042" stop-color="#00c8ff"/><stop offset=".056" stop-color="#00e4f8"/><stop offset=".070" stop-color="#16ffe1"/><stop offset=".140" stop-color="#77ff80"/><stop offset=".199" stop-color="#c1ff36"/><stop offset=".248" stop-color="#f1fc06"/><stop offset=".273" stop-color="#ffe200"/><stop offset=".343" stop-color="#ff9f00"/><stop offset=".406" stop-color="#ff7e00"/><stop offset=".517" stop-color="#ff3000"/><stop offset=".587" stop-color="#ff3400"/><stop offset=".608" stop-color="#ff3b00"/><stop offset=".650" stop-color="#ff7700"/><stop offset=".668" stop-color="#ff8900"/><stop offset=".713" stop-color="#ffe200"/><stop offset=".720" stop-color="#f8f500"/><stop offset=".724" stop-color="#eeff09"/><stop offset=".769" stop-color="#6dff8a"/><stop offset=".783" stop-color="#1fffd7"/><stop offset=".790" stop-color="#00e0fb"/><stop offset=".808" stop-color="#0084ff"/><stop offset=".825" stop-color="#0000ff"/><stop offset=".836" stop-color="#0000a4"/><stop offset=".843" stop-color="#000080"/><stop offset="1.000" stop-color="#000080"/></linearGradient>
<linearGradient id="g106" x1="0" y1="0" x2="0" y2="1"><stop offset=".000" stop-color="#0054ff"/><stop offset=".024" stop-color="#008cff"/><stop offset=".042" stop-color="#00c8ff"/><stop offset=".056" stop-color="#00e4f8"/><stop offset=".070" stop-color="#16ffe1"/><stop offset=".140" stop-color="#77ff80"/><stop offset=".199" stop-color="#c1ff36"/><stop offset=".248" stop-color="#f1fc06"/><stop offset=".273" stop-color="#ffe200"/><stop offset=".343" stop-color="#ff9f00"/><stop offset=".406" stop-color="#ff7e00"/><stop offset=".517" stop-color="#ff3000"/><stop offset=".587" stop-color="#ff3400"/><stop offset=".608" stop-color="#ff3b00"/><stop offset=".650" stop-color="#ff7700"/><stop offset=".668" stop-color="#ff8900"/><stop offset=".713" stop-color="#ffe200"/><stop offset=".720" stop-color="#f8f500"/><stop offset=".724" stop-color="#eeff09"/><stop offset=".769" stop-color="#6dff8a"/><stop offset=".783" stop-color="#1fffd7"/><stop offset=".790" stop-color="#00e0fb"/><stop offset=".808" stop-color="#0084ff"/><stop offset=".825" stop-color="#0000ff"/><stop offset=".836" stop-color="#0000a4"/><stop offset=".843" stop-color="#000080"/><stop offset="1.000" stop-color="#000080"/></linearGradient>
<linearGradient id="g107" x1="0" y1="0" x2="0" y2="1"><stop offset=".000" stop-color="#0054ff"/><stop offset=".024" stop-color="#008cff"/><stop offset=".042" stop-color="#00c8ff"/><stop offset=".056" stop-color="#00e4f8"/><stop offset=".070" stop-color="#16ffe1"/><stop offset=".140" stop-color="#77ff80"/><stop offset=".199" stop-color="#c1ff36"/><stop offset=".248" stop-color="#f1fc06"/><stop offset=".273" stop-color="#ffe200"/><stop offset=".343" stop-color="#ff9f00"/><stop offset=".406" stop-color="#ff7e00"/><stop offset=".517" stop-color="#ff3000"/><stop offset=".587" stop-color="#ff3400"/><stop offset=".608" stop-color="#ff3b00"/><stop offset=".650" stop-color="#ff7700"/><stop offset=".668" stop-color="#ff8900"/><stop offset=".713" stop-color="#ffe200"/><stop offset=".720" stop-color="#f8f500"/><stop offset=".724" stop-color="#eeff09"/><stop offset=".769" stop-color="#6dff8a"/><stop offset=".783" stop-color="#1fffd7"/><stop offset=".790" stop-color="#00e0fb"/><stop offset=".808" stop-color="#0084ff"/><stop offset=".825" stop-color="#0000ff"/><stop offset=".836" stop-color="#0000a4"/><stop offset=".843" stop-color="#000080"/><stop offset="1.000" stop-color="#000080"/></linearGradient>
<linearGradient id="g108" x1="0" y1="0" x2="0" y2="1"><stop offset=".000" stop-color="#0054ff"/><stop offset=".024" stop-color="#008cff"/><stop offset=".042" stop-color="#00c8ff"/><stop offset=".056" stop-color="#00e4f8"/><stop offset=".070" stop-color="#16ffe1"/><stop offset=".140" stop-color="#77ff80"/><stop offset=".199" stop-color="#c1ff36"/><stop offset=".248" stop-color="#f1fc06"/><stop offset=".273" stop-color="#ffe200"/><stop offset=".343" stop-color="#ff9f00"/><stop offset=".406" stop-color="#ff7e00"/><stop offset=".517" stop-color="#ff3000"/><stop offset=".587" stop-color="#ff3400"/><stop offset=".608" stop-color="#ff3b00"/><stop offset=".650" stop-color="#ff7700"/><stop offset=".668" stop-color="#ff8900"/><stop offset=".713" stop-color="#ffe200"/><stop offset=".720" stop-color="#f8f500"/><stop offset=".724" stop-color="#eeff09"/><stop offset=".769" stop-color="#6dff8a"/><stop offset=".783" stop-color="#1fffd7"/><stop offset=".790" stop-color="#00e0fb"/><stop offset=".808" stop-color="#0084ff"/><stop offset=".825" stop-color="#0000ff"/><stop offset=".836" stop-color="#0000a4"/><stop offset=".843" stop-color="#000080"/><stop offset="1.000" stop-color="#000080"/></linearGradient>
<linearGradient id="g109" x1="0" y1="0" x2="0" y2="1"><stop offset=".000" stop-color="#0054ff"/><stop offset=".024" stop-color="#008cff"/><stop offset=".042" stop-color="#00c8ff"/><stop offset=".056" stop-color="#00e4f8"/><stop offset=".070" stop-color="#16ffe1"/><stop offset=".140" stop-color="#77ff80"/><stop offset=".199" stop-color="#c1ff36"/><stop offset=".248" stop-color="#f1fc06"/><stop offset=".273" stop-color="#ffe200"/><stop offset=".343" stop-color="#ff9f00"/><stop offset=".406" stop-color="#ff7e00"/><stop offset=".517" stop-color="#ff3000"/><stop offset=".587" stop-color="#ff3400"/><stop offset=".608" stop-color="#ff3b00"/><stop offset=".650" stop-color="#ff7700"/><stop offset=".668" stop-color="#ff8900"/><stop offset=".713" stop-color="#ffe200"/><stop offset=".720" stop-color="#f8f500"/><stop offset=".724" stop-color="#eeff09"/><stop offset=".769" stop-color="#6dff8a"/><stop offset=".783" stop-color="#1fffd7"/><stop offset=".790" stop-color="#00e0fb"/><stop offset=".808" stop-color="#0084ff"/><stop offset=".825" stop-color="#0000ff"/><stop offset=".836" stop-color="#0000a4"/><stop offset=".843" stop-color="#000080"/><stop offset="1.000" stop-color="#000080"/></linearGradient>
<linearGradient id="g110" x1="0" y1="0" x2="0" y2="1"><stop offset=".000" stop-color="#0054ff"/><stop offset=".024" stop-color="#008cff"/><stop offset=".042" stop-color="#00c8ff"/><stop offset=".056" stop-color="#00e4f8"/><stop offset=".070" stop-color="#16ffe1"/><stop offset=".140" stop-color="#77ff80"/><stop offset=".199" stop-color="#c1ff36"/><stop offset=".248" stop-color="#f1fc06"/><stop offset=".273" stop-color="#ffe200"/><stop offset=".343" stop-color="#ff9f00"/><stop offset=".406" stop-color="#ff7e00"/><stop offset=".517" stop-color="#ff3000"/><stop offset=".587" stop-color="#ff3400"/><stop offset=".608" stop-color="#ff3b00"/><stop offset=".650" stop-color="#ff7700"/><stop offset=".668" stop-color="#ff8900"/><stop offset=".713" stop-color="#ffe200"/><stop offset=".720" stop-color="#f8f500"/><stop offset=".724" stop-color="#eeff09"/><stop offset=".769" stop-color="#6dff8a"/><stop offset=".783" stop-color="#1fffd7"/><stop offset=".790" stop-color="#00e0fb"/><stop offset=".808" stop-color="#0084ff"/><stop offset=".825" stop-color="#0000ff"/><stop offset=".836" stop-color="#0000a4"/><stop offset=".843" stop-color="#000080"/><stop offset="1.000" stop-color="#000080"/></linearGradient>
<linearGradient id="g111" x1="0" y1="0" x2="0" y2="1"><stop offset=".000" stop-color="#0054ff"/><stop offset=".024" stop-color="#008cff"/><stop offset=".042" stop-color="#00c8ff"/><stop offset=".056" stop-color="#00e4f8"/><stop offset=".070" stop-color="#16ffe1"/><stop offset=".140" stop-color="#77ff80"/><stop offset=".199" stop-color="#c1ff36"/><stop offset=".248" stop-color="#f1fc06"/><stop offset=".273" stop-color="#ffe200"/><stop offset=".343" stop-color="#ff9f00"/><stop offset=".406" stop-color="#ff7e00"/><stop offset=".517" stop-color="#ff3000"/><stop offset=".587" stop-color="#ff3400"/><stop offset=".608" stop-color="#ff3b00"/><stop offset=".650" stop-color="#ff7700"/><stop offset=".668" stop-color="#ff8900"/><stop offset=".713" stop-color="#ffe200"/><stop offset=".720" stop-color="#f8f500"/><stop offset=".724" stop-color="#eeff09"/><stop offset=".769" stop-color="#6dff8a"/><stop offset=".783" stop-color="#1fffd7"/><stop offset=".790" stop-color="#00e0fb"/><stop offset=".808" stop-color="#0084ff"/><stop offset=".825" stop-color="#0000ff"/><stop offset=".836" stop-color="#0000a4"/><stop offset=".843" stop-color="#000080"/><stop offset="1.000" stop-color="#000080"/></linearGradient>
<linearGradient id="g112" x1="0" y1="0" x2="0" y2="1"><stop offset=".000" stop-color="#0054ff"/><stop offset=".024" stop-color="#008cff"/><stop offset=".042" stop-color="#00c8ff"/><stop offset=".056" stop-color="#00e4f8"/><stop offset=".070" stop-color="#16ffe1"/><stop offset=".140" stop-color="#77ff80"/><stop offset=".199" stop-color="#c1ff36"/><stop offset=".248" stop-color="#f1fc06"/><stop offset=".273" stop-color="#ffe200"/><stop offset=".343" stop-color="#ff9f00"/><stop offset=".406" stop-color="#ff7e00"/><stop offset=".517" stop-color="#ff3000"/><stop offset=".587" stop-color="#ff3400"/><stop offset=".608" stop-color="#ff3b00"/><stop offset=".650" stop-color="#ff7700"/><stop offset=".668" stop-color="#ff8900"/><stop offset=".713" stop-color="#ffe200"/><stop offset=".720" stop-color="#f8f500"/><stop offset=".724" stop-color="#eeff09"/><stop offset=".769" stop-color="#6dff8a"/><stop offset=".783" stop-color="#1fffd7"/><stop offset=".790" stop-color="#00e0fb"/><stop offset=".808" stop-color="#0084ff"/><stop offset=".825" stop-color="#0000ff"/><stop offset=".836" stop-color="#0000a4"/><stop offset=".843" stop-color="#000080"/><stop offset="1.000" stop-color="#000080"/></linearGradient>
<linearGradient id="g113" x1="0" y1="0" x2="0" y2="1"><stop offset=".000" stop-color="#0054ff"/><stop offset=".024" stop-color="#008cff"/><stop offset=".042" stop-color="#00c8ff"/><stop offset=".056" stop-color="#00e4f8"/><stop offset=".070" stop-color="#16ffe1"/><stop offset=".140" stop-color="#77ff80"/><stop offset=".199" stop-color="#c1ff36"/><stop offset=".248" stop-color="#f1fc06"/><stop offset=".273" stop-color="#ffe200"/><stop offset=".343" stop-color="#ff9f00"/><stop offset=".406" stop-color="#ff7e00"/><stop offset=".517" stop-color="#ff3000"/><stop offset=".587" stop-color="#ff3400"/><stop offset=".608" stop-color="#ff3b00"/><stop offset=".650" stop-color="#ff7700"/><stop offset=".668" stop-color="#ff8900"/><stop offset=".713" stop-color="#ffe200"/><stop offset=".720" stop-color="#f8f500"/><stop offset=".724" stop-color="#eeff09"/><stop offset=".769" stop-color="#6dff8a"/><stop offset=".783" stop-color="#1fffd7"/><stop offset=".790" stop-color="#00e0fb"/><stop offset=".808" stop-color="#0084ff"/><stop offset=".825" stop-color="#0000ff"/><stop offset=".836" stop-color="#0000a4"/><stop offset=".843" stop-color="#000080"/><stop offset="1.000" stop-color="#000080"/></linearGradient>
<linearGradient id="g114" x1="0" y1="0" x2="0" y2="1"><stop offset=".000" stop-color="#0054ff"/><stop offset=".024" stop-color="#008cff"/><stop offset=".042" stop-color="#00c8ff"/><stop offset=".056" stop-color="#00e4f8"/><stop offset=".070" stop-color="#16ffe1"/><stop offset=".140" stop-color="#77ff80"/><stop offset=".199" stop-color="#c1ff36"/><stop offset=".248" stop-color="#f1fc06"/><stop offset=".273" stop-color="#ffe200"/><stop offset=".343" stop-color="#ff9f00"/><stop offset=".406" stop-color="#ff7e00"/><stop offset=".517" stop-color="#ff3000"/><stop offset=".587" stop-color="#ff3400"/><stop offset=".608" stop-color="#ff3b00"/><stop offset=".650" stop-color="#ff7700"/><stop offset=".668" stop-color="#ff8900"/><stop offset=".713" stop-color="#ffe200"/><stop offset=".720" stop-color="#f8f500"/><stop offset=".724" stop-color="#eeff09"/><stop offset=".769" stop-color="#6dff8a"/><stop offset=".783" stop-color="#1fffd7"/><stop offset=".790" stop-color="#00e0fb"/><stop offset=".808" stop-color="#0084ff"/><stop offset=".825" stop-color="#0000ff"/><stop offset=".836" stop-color="#0000a4"/><stop offset=".843" stop-color="#000080"/><stop offset="1.000" stop-color="#000080"/></linearGradient>
<linearGradient id="g115" x1="0" y1="0" x2="0" y2="1"><stop offset=".000" stop-color="#0054ff"/><stop offset=".024" stop-color="#008cff"/><stop offset=".042" stop-color="#00c8ff"/><stop offset=".056" stop-color="#00e4f8"/><stop offset=".070" stop-color="#16ffe1"/><stop offset=".140" stop-color="#77ff80"/><stop offset=".199" stop-color="#c1ff36"/><stop offset=".248" stop-color="#f1fc06"/><stop offset=".273" stop-color="#ffe200"/><stop offset=".343" stop-color="#ff9f00"/><stop offset=".406" stop-color="#ff7e00"/><stop offset=".517" stop-color="#ff3000"/><stop offset=".587" stop-color="#ff3400"/><stop offset=".608" stop-color="#ff3b00"/><stop offset=".650" stop-color="#ff7700"/><stop offset=".668" stop-color="#ff8900"/><stop offset=".713" stop-color="#ffe200"/><stop offset=".720" stop-color="#f8f500"/><stop offset=".724" stop-color="#eeff09"/><stop offset=".769" stop-color="#6dff8a"/><stop offset=".783" stop-color="#1fffd7"/><stop offset=".790" stop-color="#00e0fb"/><stop offset=".808" stop-color="#0084ff"/><stop offset=".825" stop-color="#0000ff"/><stop offset=".836" stop-color="#0000a4"/><stop offset=".843" stop-color="#000080"/><stop offset="1.000" stop-color="#000080"/></linearGradient>
<linearGradient id="g116" x1="0" y1="0" x2="0" y2="1"><stop offset=".000" stop-color="#0050ff"/><stop offset=".021" stop-color="#0078ff"/><stop offset=".042" stop-color="#00bcff"/><stop offset=".059" stop-color="#00e4f8"/><stop offset=".073" stop-color="#16ffe1"/><stop offset=".129" stop-color="#6aff8d"/><stop offset=".199" stop-color="#c1ff36"/><stop offset=".248" stop-color="#f1fc06"/><stop offset=".273" stop-color="#ffe200"/><stop offset=".343" stop-color="#ff9f00"/><stop offset=".406" stop-color="#ff7e00"/><stop offset=".517" stop-color="#ff3000"/><stop offset=".587" stop-color="#ff3400"/><stop offset=".608" stop-color="#ff3b00"/><stop offset=".650" stop-color="#ff7700"/><stop offset=".668" stop-color="#ff8900"/><stop offset=".713" stop-color="#ffe200"/><stop offset=".720" stop-color="#f8f500"/><stop offset=".724" stop-color="#eeff09"/><stop offset=".769" stop-color="#6dff8a"/><stop offset=".783" stop-color="#1fffd7"/><stop offset=".790" stop-color="#00e0fb"/><stop offset=".808" stop-color="#0084ff"/><stop offset=".825" stop-color="#0000ff"/><stop offset=".836" stop-color="#0000a4"/><stop offset=".843" stop-color="#000080"/><stop offset="1.000" stop-color="#000080"/></linearGradient>
<linearGradient id="g117" x1="0" y1="0" x2="0" y2="1"><stop offset=".000" stop-color="#0044ff"/><stop offset=".021" stop-color="#0068ff"/><stop offset=".038" stop-color="#00a0ff"/><stop offset=".063" stop-color="#00dcfe"/><stop offset=".080" stop-color="#19ffde"/><stop offset=".129" stop-color="#6aff8d"/><stop offset=".199" stop-color="#c1ff36"/><stop offset=".248" stop-color="#f1fc06"/><stop offset=".273" stop-color="#ffe200"/><stop offset=".343" stop-color="#ff9f00"/><stop offset=".406" stop-color="#ff7e00"/><stop offset=".517" stop-color="#ff3000"/><stop offset=".587" stop-color="#ff3400"/><stop offset=".608" stop-color="#ff3b00"/><stop offset=".650" stop-color="#ff7700"/><stop offset=".668" stop-color="#ff8900"/><stop offset=".713" stop-color="#ffe200"/><stop offset=".720" stop-color="#f8f500"/><stop offset=".724" stop-color="#eeff09"/><stop offset=".769" stop-color="#6dff8a"/><stop offset=".783" stop-color="#1fffd7"/><stop offset=".790" stop-color="#00e0fb"/><stop offset=".808" stop-color="#0084ff"/><stop offset=".825" stop-color="#0000ff"/><stop offset=".836" stop-color="#0000a4"/><stop offset=".843" stop-color="#000080"/><stop offset="1.000" stop-color="#000080"/></linearGradient>
<linearGradient id="g118" x1="0" y1="0" x2="0" y2="1"><stop offset=".000" stop-color="#003cff"/><stop offset=".028" stop-color="#006cff"/><stop offset=".045" stop-color="#009cff"/><stop offset=".070" stop-color="#00e0fb"/><stop offset=".080" stop-color="#13fce4"/><stop offset=".126" stop-color="#63ff94"/><stop offset=".185" stop-color="#b1ff46"/><stop offset=".248" stop-color="#f1fc06"/><stop offset=".273" stop-color="#ffe200"/><stop offset=".343" stop-color="#ff9f00"/><stop offset=".406" stop-color="#ff7e00"/><stop offset=".517" stop-color="#ff3000"/><stop offset=".587" stop-color="#ff3400"/><stop offset=".608" stop-color="#ff3b00"/><stop offset=".650" stop-color="#ff7700"/><stop offset=".668" stop-color="#ff8900"/><stop offset=".713" stop-color="#ffe200"/><stop offset=".720" stop-color="#f8f500"/><stop offset=".724" stop-color="#eeff09"/><stop offset=".769" stop-color="#6dff8a"/><stop offset=".783" stop-color="#1fffd7"/><stop offset=".790" stop-color="#00e0fb"/><stop offset=".808" stop-color="#0084ff"/><stop offset=".825" stop-color="#0000ff"/><stop offset=".836" stop-color="#0000a4"/><stop offset=".843" stop-color="#000080"/><stop offset="1.000" stop-color="#000080"/></linearGradient>
<linearGradient id="g119" x1="0" y1="0" x2="0" y2="1"><stop offset=".000" stop-color="#0030ff"/><stop offset=".028" stop-color="#005cff"/><stop offset=".063" stop-color="#00bcff"/><stop offset=".073" stop-color="#00dcfe"/><stop offset=".084" stop-color="#13fce4"/><stop offset=".129" stop-color="#66ff90"/><stop offset=".185" stop-color="#b1ff46"/><stop offset=".248" stop-color="#f1fc06"/><stop offset=".273" stop-color="#ffe200"/><stop offset=".343" stop-color="#ff9f00"/><stop offset=".406" stop-color="#ff7e00"/><stop offset=".517" stop-color="#ff3000"/><stop offset=".587" stop-color="#ff3400"/><stop offset=".608" stop-color="#ff3b00"/><stop offset=".650" stop-color="#ff7700"/><stop offset=".668" stop-color="#ff8900"/><stop offset=".713" stop-color="#ffe200"/><stop offset=".720" stop-color="#f8f500"/><stop offset=".724" stop-color="#eeff09"/><stop offset=".769" stop-color="#6dff8a"/><stop offset=".783" stop-color="#1fffd7"/><stop offset=".790" stop-color="#00e0fb"/><stop offset=".808" stop-color="#0084ff"/><stop offset=".825" stop-color="#0000ff"/><stop offset=".836" stop-color="#0000a4"/><stop offset=".843" stop-color="#000080"/><stop offset="1.000" stop-color="#000080"/></linearGradient>
<linearGradient id="g120" x1="0" y1="0" x2="0" y2="1"><stop offset=".000" stop-color="#0028ff"/><stop offset=".028" stop-color="#0048ff"/><stop offset=".056" stop-color="#0090ff"/><stop offset=".077" stop-color="#00e0fb"/><stop offset=".087" stop-color="#13fce4"/><stop offset=".129" stop-color="#66ff90"/><stop offset=".185" stop-color="#b1ff46"/><stop offset=".248" stop-color="#f1fc06"/><stop offset=".273" stop-color="#ffe200"/><stop offset=".343" stop-color="#ff9f00"/><stop offset=".406" stop-color="#ff7e00"/><stop offset=".517" stop-color="#ff3000"/><stop offset=".587" stop-color="#ff3400"/><stop offset=".608" stop-color="#ff3b00"/><stop offset=".650" stop-color="#ff7700"/><stop offset=".668" stop-color="#ff8900"/><stop offset=".713" stop-color="#ffe200"/><stop offset=".720" stop-color="#f8f500"/><stop offset=".724" stop-color="#eeff09"/><stop offset=".769" stop-color="#6dff8a"/><stop offset=".783" stop-color="#1fffd7"/><stop offset=".790" stop-color="#00e0fb"/><stop offset=".808" stop-color="#0084ff"/><stop offset=".825" stop-color="#0000ff"/><stop offset=".836" stop-color="#0000a4"/><stop offset=".843" stop-color="#000080"/><stop offset="1.000" stop-color="#000080"/></linearGradient>
<linearGradient id="g121" x1="0" y1="0" x2="0" y2="1"><stop offset=".000" stop-color="#0020ff"/><stop offset=".031" stop-color="#0048ff"/><stop offset=".059" stop-color="#0094ff"/><stop offset=".077" stop-color="#00dcfe"/><stop offset=".084" stop-color="#09f0ee"/><stop offset=".094" stop-color="#1fffd7"/><stop offset=".126" stop-color="#60ff97"/><stop offset=".185" stop-color="#b1ff46"/><stop offset=".248" stop-color="#f1fc06"/><stop offset=".273" stop-color="#ffe200"/><stop offset=".343" stop-color="#ff9f00"/><stop offset=".406" stop-color="#ff7e00"/><stop offset=".517" stop-color="#ff3000"/><stop offset=".587" stop-color="#ff3400"/><stop offset=".608" stop-color="#ff3b00"/><stop offset=".650" stop-color="#ff7700"/><stop offset=".668" stop-color="#ff8900"/><stop offset=".713" stop-color="#ffe200"/><stop offset=".720" stop-color="#f8f500"/><stop offset=".724" stop-color="#eeff09"/><stop offset=".769" stop-color="#6dff8a"/><stop offset=".783" stop-color="#1fffd7"/><stop offset=".790" stop-color="#00e0fb"/><stop offset=".808" stop-color="#0084ff"/><stop offset=".825" stop-color="#0000ff"/><stop offset=".836" stop-color="#0000a4"/><stop offset=".843" stop-color="#000080"/><stop offset="1.000" stop-color="#000080"/></linearGradient>
<linearGradient id="g122" x1="0" y1="0" x2="0" y2="1"><stop offset=".000" stop-color="#0020ff"/><stop offset=".031" stop-color="#0048ff"/><stop offset=".059" stop-color="#0094ff"/><stop offset=".077" stop-color="#00dcfe"/><stop offset=".084" stop-color="#09f0ee"/><stop offset=".094" stop-color="#1fffd7"/><stop offset=".126" stop-color="#60ff97"/><stop offset=".185" stop-color="#b1ff46"/><stop offset=".248" stop-color="#f1fc06"/><stop offset=".273" stop-color="#ffe200"/><stop offset=".343" stop-color="#ff9f00"/><stop offset=".406" stop-color="#ff7e00"/><stop offset=".517" stop-color="#ff3000"/><stop offset=".587" stop-color="#ff3400"/><stop offset=".608" stop-color="#ff3b00"/><stop offset=".650" stop-color="#ff7700"/><stop offset=".668" stop-color="#ff8900"/><stop offset=".713" stop-color="#ffe200"/><stop offset=".720" stop-color="#f8f500"/><stop offset=".724" stop-color="#eeff09"/><stop offset=".769" stop-color="#6dff8a"/><stop offset=".783" stop-color="#1fffd7"/><stop offset=".790" stop-color="#00e0fb"/><stop offset=".808" stop-color="#0084ff"/><stop offset=".825" stop-color="#0000ff"/><stop offset=".836" stop-color="#0000a4"/><stop offset=".843" stop-color="#000080"/><stop offset="1.000" stop-color="#000080"/></linearGradient>
<linearGradient id="g123" x1="0" y1="0" x2="0" y2="1"><stop offset=".000" stop-color="#0028ff"/><stop offset=".028" stop-color="#0048ff"/><stop offset=".056" stop-color="#0090ff"/><stop offset=".077" stop-color="#00e0fb"/><stop offset=".087" stop-color="#13fce4"/><stop offset=".129" stop-color="#66ff90"/><stop offset=".185" stop-color="#b1ff46"/><stop offset=".248" stop-color="#f1fc06"/><stop offset=".273" stop-color="#ffe200"/><stop offset=".343" stop-color="#ff9f00"/><stop offset=".406" stop-color="#ff7e00"/><stop offset=".517" stop-color="#ff3000"/><stop offset=".587" stop-color="#ff3400"/><stop offset=".608" stop-color="#ff3b00"/><stop offset=".650" stop-color="#ff7700"/><stop offset=".668" stop-color="#ff8900"/><stop offset=".713" stop-color="#ffe200"/><stop offset=".720" stop-color="#f8f500"/><stop offset=".724" stop-color="#eeff09"/><stop offset=".769" stop-color="#6dff8a"/><stop offset=".783" stop-color="#1fffd7"/><stop offset=".790" stop-color="#00e0fb"/><stop offset=".808" stop-color="#0084ff"/><stop offset=".825" stop-color="#0000ff"/><stop offset=".836" stop-color="#0000a4"/><stop offset=".843" stop-color="#000080"/><stop offset="1.000" stop-color="#000080"/></linearGradient>
<linearGradient id="g124" x1="0" y1="0" x2="0" y2="1"><stop offset=".000" stop-color="#0030ff"/><stop offset=".028" stop-color="#005cff"/><stop offset=".063" stop-color="#00bcff"/><stop offset=".073" stop-color="#00dcfe"/><stop offset=".084" stop-color="#13fce4"/><stop offset=".129" stop-color="#66ff90"/><stop offset=".185" stop-color="#b1ff46"/><stop offset=".248" stop-color="#f1fc06"/><stop offset=".273" stop-color="#ffe200"/><stop offset=".343" stop-color="#ff9f00"/><stop offset=".406" stop-color="#ff7e00"/><stop offset=".517" stop-color="#ff3000"/><stop offset=".587" stop-color="#ff3400"/><stop offset=".608" stop-color="#ff3b00"/><stop offset=".650" stop-color="#ff7700"/><stop offset=".668" stop-color="#ff8900"/><stop offset=".713" stop-color="#ffe200"/><stop offset=".720" stop-color="#f8f500"/><stop offset=".724" stop-color="#eeff09"/><stop offset=".769" stop-color="#6dff8a"/><stop offset=".783" stop-color="#1fffd7"/><stop offset=".790" stop-color="#00e0fb"/><stop offset=".808" stop-color="#0084ff"/><stop offset=".825" stop-color="#0000ff"/><stop offset=".836" stop-color="#0000a4"/><stop offset=".843" stop-color="#000080"/><stop offset="1.000" stop-color="#000080"/></linearGradient>
<linearGradient id="g125" x1="0" y1="0" x2="0" y2="1"><stop offset=".000" stop-color="#003cff"/><stop offset=".028" stop-color="#006cff"/><stop offset=".045" stop-color="#009cff"/><stop offset=".070" stop-color="#00e0fb"/><stop offset=".080" stop-color="#13fce4"/><stop offset=".126" stop-color="#63ff94"/><stop offset=".185" stop-color="#b1ff46"/><stop offset=".248" stop-color="#f1fc06"/><stop offset=".273" stop-color="#ffe200"/><stop offset=".343" stop-color="#ff9f00"/><stop offset=".406" stop-color="#ff7e00"/><stop offset=".517" stop-color="#ff3000"/><stop offset=".587" stop-color="#ff3400"/><stop offset=".608" stop-color="#ff3b00"/><stop offset=".650" stop-color="#ff7700"/><stop offset=".668" stop-color="#ff8900"/><stop offset=".713" stop-color="#ffe200"/><stop offset=".720" stop-color="#f8f500"/><stop offset=".724" stop-color="#eeff09"/><stop offset=".769" stop-color="#6dff8a"/><stop offset=".783" stop-color="#1fffd7"/><stop offset=".790" stop-color="#00e0fb"/><stop offset=".808" stop-color="#0084ff"/><stop offset=".825" stop-color="#0000ff"/><stop offset=".836" stop-color="#0000a4"/><stop offset=".843" stop-color="#000080"/><stop offset="1.000" stop-color="#000080"/></linearGradient>
<linearGradient id="g126" x1="0" y1="0" x2="0" y2="1"><stop offset=".000" stop-color="#0044ff"/><stop offset=".021" stop-color="#0068ff"/><stop offset=".038" stop-color="#00a0ff"/><stop offset=".063" stop-color="#00dcfe"/><stop offset=".080" stop-color="#19ffde"/><stop offset=".129" stop-color="#6aff8d"/><stop offset=".199" stop-color="#c1ff36"/><stop offset=".248" stop-color="#f1fc06"/><stop offset=".273" stop-color="#ffe200"/><stop offset=".343" stop-color="#ff9f00"/><stop offset=".406" stop-color="#ff7e00"/><stop offset=".517" stop-color="#ff3000"/><stop offset=".587" stop-color="#ff3400"/><stop offset=".608" stop-color="#ff3b00"/><stop offset=".650" stop-color="#ff7700"/><stop offset=".668" stop-color="#ff8900"/><stop offset=".713" stop-color="#ffe200"/><stop offset=".720" stop-color="#f8f500"/><stop offset=".724" stop-color="#eeff09"/><stop offset=".769" stop-color="#6dff8a"/><stop offset=".783" stop-color="#1fffd7"/><stop offset=".790" stop-color="#00e0fb"/><stop offset=".808" stop-color="#0084ff"/><stop offset=".825" stop-color="#0000ff"/><stop offset=".836" stop-color="#0000a4"/><stop offset=".843" stop-color="#000080"/><stop offset="1.000" stop-color="#000080"/></linearGradient>
<linearGradient id="g127" x1="0" y1="0" x2="0" y2="1"><stop offset=".000" stop-color="#0050ff"/><stop offset=".021" stop-color="#0078ff"/><stop offset=".042" stop-color="#00bcff"/><stop offset=".059" stop-color="#00e4f8"/><stop offset=".073" stop-color="#16ffe1"/><stop offset=".129" stop-color="#6aff8d"/><stop offset=".199" stop-color="#c1ff36"/><stop offset=".248" stop-color="#f1fc06"/><stop offset=".273" stop-color="#ffe200"/><stop offset=".343" stop-color="#ff9f00"/><stop offset=".406" stop-color="#ff7e00"/><stop offset=".517" stop-color="#ff3000"/><stop offset=".587" stop-color="#ff3400"/><stop offset=".608" stop-color="#ff3b00"/><stop offset=".650" stop-color="#ff7700"/><stop offset=".668" stop-color="#ff8900"/><stop offset=".713" stop-color="#ffe200"/><stop offset=".720" stop-color="#f8f500"/><stop offset=".724" stop-color="#eeff09"/><stop offset=".769" stop-color="#6dff8a"/><stop offset=".783" stop-color="#1fffd7"/><stop offset=".790" stop-color="#00e0fb"/><stop offset=".808" stop-color="#0084ff"/><stop offset=".825" stop-color="#0000ff"/><stop offset=".836" stop-color="#0000a4"/><stop offset=".843" stop-color="#000080"/><stop offset="1.000" stop-color="#000080"/></linearGradient>
<linearGradient id="g128" x1="0" y1="0" x2="0" y2="1"><stop offset=".000" stop-color="#0060ff"/><stop offset=".021" stop-color="#0088ff"/><stop offset=".038" stop-color="#00c4ff"/><stop offset=".052" stop-color="#00e4f8"/><stop offset=".070" stop-color="#19ffde"/><stop offset=".136" stop-color="#73ff83"/><stop offset=".203" stop-color="#c4ff33"/><stop offset=".248" stop-color="#f1fc06"/><stop offset=".273" stop-color="#ffe200"/><stop offset=".343" stop-color="#ff9f00"/><stop offset=".406" stop-color="#ff7e00"/><stop offset=".517" stop-color="#ff3000"/><stop offset=".587" stop-color="#ff3400"/><stop offset=".608" stop-color="#ff3b00"/><stop offset=".650" stop-color="#ff7700"/><stop offset=".668" stop-color="#ff8900"/><stop offset=".713" stop-color="#ffe200"/><stop offset=".720" stop-color="#f8f500"/><stop offset=".724" stop-color="#eeff09"/><stop offset=".769" stop-color="#6dff8a"/><stop offset=".783" stop-color="#1fffd7"/><stop offset=".790" stop-color="#00e0fb"/><stop offset=".808" stop-color="#0084ff"/><stop offset=".825" stop-color="#0000ff"/><stop offset=".836" stop-color="#0000a4"/><stop offset=".843" stop-color="#000080"/><stop offset="1.000" stop-color="#000080"/></linearGradient>
<linearGradient id="g129" x1="0" y1="0" x2="0" y2="1"><stop offset=".000" stop-color="#0074ff"/><stop offset=".021" stop-color="#0098ff"/><stop offset=".038" stop-color="#00d4ff"/><stop offset=".056" stop-color="#0cf4eb"/><stop offset=".066" stop-color="#1cffdb"/><stop offset=".140" stop-color="#7aff7d"/><stop offset=".203" stop-color="#c4ff33"/><stop offset=".248" stop-color="#f1fc06"/><stop offset=".273" stop-color="#ffe200"/><stop offset=".343" stop-color="#ff9f00"/><stop offset=".406" stop-color="#ff7e00"/><stop offset=".517" stop-color="#ff3000"/><stop offset=".587" stop-color="#ff3400"/><stop offset=".608" stop-color="#ff3b00"/><stop offset=".650" stop-color="#ff7700"/><stop offset=".668" stop-color="#ff8900"/><stop offset=".713" stop-color="#ffe200"/><stop offset=".720" stop-color="#f8f500"/><stop offset=".724" stop-color="#eeff09"/><stop offset=".769" stop-color="#6dff8a"/><stop offset=".783" stop-color="#1fffd7"/><stop offset=".790" stop-color="#00e0fb"/><stop offset=".808" stop-color="#0084ff"/><stop offset=".825" stop-color="#0000ff"/><stop offset=".836" stop-color="#0000a4"/><stop offset=".843" stop-color="#000080"/><stop offset="1.000" stop-color="#000080"/></linearGradient>
<linearGradient id="g130" x1="0" y1="0" x2="0" y2="1"><stop offset=".000" stop-color="#0088ff"/><stop offset=".021" stop-color="#00acff"/><stop offset=".038" stop-color="#00e0fb"/><stop offset=".056" stop-color="#16ffe1"/><stop offset=".140" stop-color="#7dff7a"/><stop offset=".231" stop-color="#e1ff16"/><stop offset=".252" stop-color="#f4f802"/><stop offset=".273" stop-color="#ffe200"/><stop offset=".343" stop-color="#ff9f00"/><stop offset=".406" stop-color="#ff7e00"/><stop offset=".517" stop-color="#ff3000"/><stop offset=".587" stop-color="#ff3400"/><stop offset=".608" stop-color="#ff3b00"/><stop offset=".650" stop-color="#ff7700"/><stop offset=".668" stop-color="#ff8900"/><stop offset=".713" stop-color="#ffe200"/><stop offset=".720" stop-color="#f8f500"/><stop offset=".724" stop-color="#eeff09"/><stop offset=".769" stop-color="#6dff8a"/><stop offset=".783" stop-color="#1fffd7"/><stop offset=".790" stop-color="#00e0fb"/><stop offset=".808" stop-color="#0084ff"/><stop offset=".825" stop-color="#0000ff"/><stop offset=".836" stop-color="#0000a4"/><stop offset=".843" stop-color="#000080"/><stop offset="1.000" stop-color="#000080"/></linearGradient>
<linearGradient id="g131" x1="0" y1="0" x2="0" y2="1"><stop offset=".000" stop-color="#00a0ff"/><stop offset=".024" stop-color="#00c8ff"/><stop offset=".035" stop-color="#00e4f8"/><stop offset=".049" stop-color="#13fce4"/><stop offset=".140" stop-color="#80ff77"/><stop offset=".245" stop-color="#eeff09"/><stop offset=".266" stop-color="#ffea00"/><stop offset=".343" stop-color="#ff9f00"/><stop offset=".406" stop-color="#ff7e00"/><stop offset=".517" stop-color="#ff3000"/><stop offset=".587" stop-color="#ff3400"/><stop offset=".608" stop-color="#ff3b00"/><stop offset=".650" stop-color="#ff7700"/><stop offset=".668" stop-color="#ff8900"/><stop offset=".713" stop-color="#ffe200"/><stop offset=".720" stop-color="#f8f500"/><stop offset=".724" stop-color="#eeff09"/><stop offset=".769" stop-color="#6dff8a"/><stop offset=".783" stop-color="#1fffd7"/><stop offset=".790" stop-color="#00e0fb"/><stop offset=".808" stop-color="#0084ff"/><stop offset=".825" stop-color="#0000ff"/><stop offset=".836" stop-color="#0000a4"/><stop offset=".843" stop-color="#000080"/><stop offset="1.000" stop-color="#000080"/></linearGradient>
<linearGradient id="g132" x1="0" y1="0" x2="0" y2="1"><stop offset=".000" stop-color="#00b4ff"/><stop offset=".028" stop-color="#00e0fb"/><stop offset=".042" stop-color="#16ffe1"/><stop offset=".150" stop-color="#8dff6a"/><stop offset=".248" stop-color="#f1fc06"/><stop offset=".273" stop-color="#ffe200"/><stop offset=".343" stop-color="#ff9f00"/><stop offset=".406" stop-color="#ff7e00"/><stop offset=".517" stop-color="#ff3000"/><stop offset=".587" stop-color="#ff3400"/><stop offset=".608" stop-color="#ff3b00"/><stop offset=".650" stop-color="#ff7700"/><stop offset=".668" stop-color="#ff8900"/><stop offset=".713" stop-color="#ffe200"/><stop offset=".720" stop-color="#f8f500"/><stop offset=".724" stop-color="#eeff09"/><stop offset=".769" stop-color="#6dff8a"/><stop offset=".783" stop-color="#1fffd7"/><stop offset=".790" stop-color="#00e0fb"/><stop offset=".808" stop-color="#0084ff"/><stop offset=".825" stop-color="#0000ff"/><stop offset=".836" stop-color="#0000a4"/><stop offset=".843" stop-color="#000080"/><stop offset="1.000" stop-color="#000080"/></linearGradient>
<linearGradient id="g133" x1="0" y1="0" x2="0" y2="1"><stop offset=".000" stop-color="#00c8ff"/><stop offset=".021" stop-color="#00e4f8"/><stop offset=".035" stop-color="#16ffe1"/><stop offset=".136" stop-color="#83ff73"/><stop offset=".248" stop-color="#f1fc06"/><stop offset=".273" stop-color="#ffe200"/><stop offset=".343" stop-color="#ff9f00"/><stop offset=".406" stop-color="#ff7e00"/><stop offset=".517" stop-color="#ff3000"/><stop offset=".587" stop-color="#ff3400"/><stop offset=".608" stop-color="#ff3b00"/><stop offset=".650" stop-color="#ff7700"/><stop offset=".668" stop-color="#ff8900"/><stop offset=".713" stop-color="#ffe200"/><stop offset=".720" stop-color="#f8f500"/><stop offset=".724" stop-color="#eeff09"/><stop offset=".769" stop-color="#6dff8a"/><stop offset=".783" stop-color="#1fffd7"/><stop offset=".790" stop-color="#00e0fb"/><stop offset=".808" stop-color="#0084ff"/><stop offset=".825" stop-color="#0000ff"/><stop offset=".836" stop-color="#0000a4"/><stop offset=".843" stop-color="#000080"/><stop offset="1.000" stop-color="#000080"/></linearGradient>
<linearGradient id="g134" x1="0" y1="0" x2="0" y2="1"><stop offset=".000" stop-color="#00dcfe"/><stop offset=".021" stop-color="#0cf4eb"/><stop offset=".031" stop-color="#1cffdb"/><stop offset=".150" stop-color="#90ff66"/><stop offset=".248" stop-color="#f1fc06"/><stop offset=".273" stop-color="#ffe200"/><stop offset=".343" stop-color="#ff9f00"/><stop offset=".406" stop-color="#ff7e00"/><stop offset=".517" stop-color="#ff3000"/><stop offset=".587" stop-color="#ff3400"/><stop offset=".608" stop-color="#ff3b00"/><stop offset=".650" stop-color="#ff7700"/><stop offset=".668" stop-color="#ff8900"/><stop offset=".713" stop-color="#ffe200"/><stop offset=".720" stop-color="#f8f500"/><stop offset=".724" stop-color="#eeff09"/><stop offset=".769" stop-color="#6dff8a"/><stop offset=".783" stop-color="#1fffd7"/><stop offset=".790" stop-color="#00e0fb"/><stop offset=".808" stop-color="#0084ff"/><stop offset=".825" stop-color="#0000ff"/><stop offset=".836" stop-color="#0000a4"/><stop offset=".843" stop-color="#000080"/><stop offset="1.000" stop-color="#000080"/></linearGradient>
<linearGradient id="g135" x1="0" y1="0" x2="0" y2="1"><stop offset=".000" stop-color="#0cf4eb"/><stop offset=".024" stop-color="#1fffd7"/><stop offset=".248" stop-color="#f1fc06"/><stop offset=".273" stop-color="#ffe200"/><stop offset=".343" stop-color="#ff9f00"/><stop offset=".406" stop-color="#ff7e00"/><stop offset=".517" stop-color="#ff3000"/><stop offset=".587" stop-color="#ff3400"/><stop offset=".608" stop-color="#ff3b00"/><stop offset=".650" stop-color="#ff7700"/><stop offset=".668" stop-color="#ff8900"/><stop offset=".713" stop-color="#ffe200"/><stop offset=".720" stop-color="#f8f500"/><stop offset=".724" stop-color="#eeff09"/><stop offset=".769" stop-color="#6dff8a"/><stop offset=".783" stop-color="#1fffd7"/><stop offset=".790" stop-color="#00e0fb"/><stop offset=".808" stop-color="#0084ff"/><stop offset=".825" stop-color="#0000ff"/><stop offset=".836" stop-color="#0000a4"/><stop offset=".843" stop-color="#000080"/><stop offset="1.000" stop-color="#000080"/></linearGradient>
<linearGradient id="g136" x1="0" y1="0" x2="0" y2="1"><stop offset=".000" stop-color="#1cffdb"/><stop offset=".175" stop-color="#adff49"/><stop offset=".248" stop-color="#f1fc06"/><stop offset=".273" stop-color="#ffe200"/><stop offset=".343" stop-color="#ff9f00"/><stop offset=".406" stop-color="#ff7e00"/><stop offset=".517" stop-color="#ff3000"/><stop offset=".587" stop-color="#ff3400"/><stop offset=".608" stop-color="#ff3b00"/><stop offset=".650" stop-color="#ff7700"/><stop offset=".668" stop-color="#ff8900"/><stop offset=".713" stop-color="#ffe200"/><stop offset=".720" stop-color="#f8f500"/><stop offset=".724" stop-color="#eeff09"/><stop offset=".769" stop-color="#6dff8a"/><stop offset=".783" stop-color="#1fffd7"/><stop offset=".790" stop-color="#00e0fb"/><stop offset=".808" stop-color="#0084ff"/><stop offset=".825" stop-color="#0000ff"/><stop offset=".836" stop-color="#0000a4"/><stop offset=".843" stop-color="#000080"/><stop offset="1.000" stop-color="#000080"/></linearGradient>
<linearGradient id="g137" x1="0" y1="0" x2="0" y2="1"><stop offset=".000" stop-color="#2cffca"/><stop offset=".101" stop-color="#73ff83"/><stop offset=".199" stop-color="#c4ff33"/><stop offset=".248" stop-color="#f1fc06"/><stop offset=".273" stop-color="#ffe200"/><stop offset=".343" stop-color="#ff9f00"/><stop offset=".406" stop-color="#ff7e00"/><stop offset=".517" stop-color="#ff3000"/><stop offset=".587" stop-color="#ff3400"/><stop offset=".608" stop-color="#ff3b00"/><stop offset=".650" stop-color="#ff7700"/><stop offset=".668" stop-color="#ff8900"/><stop offset=".713" stop-color="#ffe200"/><stop offset=".720" stop-color="#f8f500"/><stop offset=".724" stop-color="#eeff09"/><stop offset=".769" stop-color="#6dff8a"/><stop offset=".783" stop-color="#1fffd7"/><stop offset=".790" stop-color="#00e0fb"/><stop offset=".808" stop-color="#0084ff"/><stop offset=".825" stop-color="#0000ff"/><stop offset=".836" stop-color="#0000a4"/><stop offset=".843" stop-color="#000080"/><stop offset="1.000" stop-color="#000080"/></linearGradient>
<linearGradient id="g138" x1="0" y1="0" x2="0" y2="1"><stop offset=".000" stop-color="#36ffc1"/><stop offset=".094" stop-color="#70ff87"/><stop offset=".196" stop-color="#c1ff36"/><stop offset=".248" stop-color="#f1fc06"/><stop offset=".273" stop-color="#ffe200"/><stop offset=".343" stop-color="#ff9f00"/><stop offset=".406" stop-color="#ff7e00"/><stop offset=".517" stop-color="#ff3000"/><stop offset=".587" stop-color="#ff3400"/><stop offset=".608" stop-color="#ff3b00"/><stop offset=".650" stop-color="#ff7700"/><stop offset=".668" stop-color="#ff8900"/><stop offset=".713" stop-color="#ffe200"/><stop offset=".720" stop-color="#f8f500"/><stop offset=".724" stop-color="#eeff09"/><stop offset=".769" stop-color="#6dff8a"/><stop offset=".783" stop-color="#1fffd7"/><stop offset=".790" stop-color="#00e0fb"/><stop offset=".808" stop-color="#0084ff"/><stop offset=".825" stop-color="#0000ff"/><stop offset=".836" stop-color="#0000a4"/><stop offset=".843" stop-color="#000080"/><stop offset="1.000" stop-color="#000080"/></linearGradient>
<linearGradient id="g139" x1="0" y1="0" x2="0" y2="1"><stop offset=".000" stop-color="#36ffc1"/><stop offset=".094" stop-color="#70ff87"/><stop offset=".196" stop-color="#c1ff36"/><stop offset=".248" stop-color="#f1fc06"/><stop offset=".273" stop-color="#ffe200"/><stop offset=".343" stop-color="#ff9f00"/><stop offset=".406" stop-color="#ff7e00"/><stop offset=".517" stop-color="#ff3000"/><stop offset=".587" stop-color="#ff3400"/><stop offset=".608" stop-color="#ff3b00"/><stop offset=".650" stop-color="#ff7700"/><stop offset=".668" stop-color="#ff8900"/><stop offset=".713" stop-color="#ffe200"/><stop offset=".720" stop-color="#f8f500"/><stop offset=".724" stop-color="#eeff09"/><stop offset=".769" stop-color="#6dff8a"/><stop offset=".783" stop-color="#1fffd7"/><stop offset=".790" stop-color="#00e0fb"/><stop offset=".808" stop-color="#0084ff"/><stop offset=".825" stop-color="#0000ff"/><stop offset=".836" stop-color="#0000a4"/><stop offset=".843" stop-color="#000080"/><stop offset="1.000" stop-color="#000080"/></linearGradient>
<linearGradient id="g140" x1="0" y1="0" x2="0" y2="1"><stop offset=".000" stop-color="#39ffbe"/><stop offset=".119" stop-color="#83ff73"/><stop offset=".234" stop-color="#e4ff13"/><stop offset=".252" stop-color="#f4f802"/><stop offset=".273" stop-color="#ffe200"/><stop offset=".343" stop-color="#ff9f00"/><stop offset=".406" stop-color="#ff7e00"/><stop offset=".517" stop-color="#ff3000"/><stop offset=".587" stop-color="#ff3400"/><stop offset=".608" stop-color="#ff3b00"/><stop offset=".650" stop-color="#ff7700"/><stop offset=".668" stop-color="#ff8900"/><stop offset=".713" stop-color="#ffe200"/><stop offset=".720" stop-color="#f8f500"/><stop offset=".724" stop-color="#eeff09"/><stop offset=".769" stop-color="#6dff8a"/><stop offset=".783" stop-color="#1fffd7"/><stop offset=".790" stop-color="#00e0fb"/><stop offset=".808" stop-color="#0084ff"/><stop offset=".825" stop-color="#0000ff"/><stop offset=".836" stop-color="#0000a4"/><stop offset=".843" stop-color="#000080"/><stop offset="1.000" stop-color="#000080"/></linearGradient>
<linearGradient id="g141" x1="0" y1="0" x2="0" y2="1"><stop offset=".000" stop-color="#40ffb7"/><stop offset=".098" stop-color="#77ff80"/><stop offset=".199" stop-color="#c7ff30"/><stop offset=".248" stop-color="#f1fc06"/><stop offset=".273" stop-color="#ffe200"/><stop offset=".343" stop-color="#ff9f00"/><stop offset=".423" stop-color="#ff7300"/><stop offset=".517" stop-color="#ff3000"/><stop offset=".587" stop-color="#ff3400"/><stop offset=".608" stop-color="#ff3b00"/><stop offset=".650" stop-color="#ff7700"/><stop offset=".668" stop-color="#ff8900"/><stop offset=".713" stop-color="#ffe200"/><stop offset=".720" stop-color="#f8f500"/><stop offset=".724" stop-color="#eeff09"/><stop offset=".769" stop-color="#6dff8a"/><stop offset=".783" stop-color="#1fffd7"/><stop offset=".790" stop-color="#00e0fb"/><stop offset=".808" stop-color="#0084ff"/><stop offset=".825" stop-color="#0000ff"/><stop offset=".836" stop-color="#0000a4"/><stop offset=".843" stop-color="#000080"/><stop offset="1.000" stop-color="#000080"/></linearGradient>
<linearGradient id="g142" x1="0" y1="0" x2="0" y2="1"><stop offset=".000" stop-color="#43ffb4"/><stop offset=".119" stop-color="#87ff70"/><stop offset=".245" stop-color="#f1fc06"/><stop offset=".273" stop-color="#ffe200"/><stop offset=".343" stop-color="#ff9f00"/><stop offset=".423" stop-color="#ff7300"/><stop offset=".517" stop-color="#ff3000"/><stop offset=".587" stop-color="#ff3400"/><stop offset=".608" stop-color="#ff3b00"/><stop offset=".650" stop-color="#ff7700"/><stop offset=".668" stop-color="#ff8900"/><stop offset=".713" stop-color="#ffe200"/><stop offset=".720" stop-color="#f8f500"/><stop offset=".724" stop-color="#eeff09"/><stop offset=".769" stop-color="#6dff8a"/><stop offset=".783" stop-color="#1fffd7"/><stop offset=".790" stop-color="#00e0fb"/><stop offset=".808" stop-color="#0084ff"/><stop offset=".825" stop-color="#0000ff"/><stop offset=".836" stop-color="#0000a4"/><stop offset=".843" stop-color="#000080"/><stop offset="1.000" stop-color="#000080"/></linearGradient>
<linearGradient id="g143" x1="0" y1="0" x2="0" y2="1"><stop offset=".000" stop-color="#46ffb1"/><stop offset=".119" stop-color="#8aff6d"/><stop offset=".245" stop-color="#f1fc06"/><stop offset=".273" stop-color="#ffe200"/><stop offset=".343" stop-color="#ff9f00"/><stop offset=".413" stop-color="#ff7a00"/><stop offset=".517" stop-color="#ff3000"/><stop offset=".587" stop-color="#ff3400"/><stop offset=".608" stop-color="#ff3b00"/><stop offset=".650" stop-color="#ff7700"/><stop offset=".668" stop-color="#ff8900"/><stop offset=".713" stop-color="#ffe200"/><stop offset=".720" stop-color="#f8f500"/><stop offset=".724" stop-color="#eeff09"/><stop offset=".769" stop-color="#6dff8a"/><stop offset=".783" stop-color="#1fffd7"/><stop offset=".790" stop-color="#00e0fb"/><stop offset=".808" stop-color="#0084ff"/><stop offset=".825" stop-color="#0000ff"/><stop offset=".836" stop-color="#0000a4"/><stop offset=".843" stop-color="#000080"/><stop offset="1.000" stop-color="#000080"/></linearGradient>
<linearGradient id="g144" x1="0" y1="0" x2="0" y2="1"><stop offset=".000" stop-color="#4dffaa"/><stop offset=".122" stop-color="#8dff6a"/><stop offset=".245" stop-color="#f1fc06"/><stop offset=".273" stop-color="#ffe200"/><stop offset=".343" stop-color="#ff9f00"/><stop offset=".413" stop-color="#ff7a00"/><stop offset=".517" stop-color="#ff3000"/><stop offset=".587" stop-color="#ff3400"/><stop offset=".608" stop-color="#ff3b00"/><stop offset=".650" stop-color="#ff7700"/><stop offset=".668" stop-color="#ff8900"/><stop offset=".713" stop-color="#ffe200"/><stop offset=".720" stop-color="#f8f500"/><stop offset=".724" stop-color="#eeff09"/><stop offset=".769" stop-color="#6dff8a"/><stop offset=".783" stop-color="#1fffd7"/><stop offset=".790" stop-color="#00e0fb"/><stop offset=".808" stop-color="#0084ff"/><stop offset=".825" stop-color="#0000ff"/><stop offset=".836" stop-color="#0000a4"/><stop offset=".843" stop-color="#000080"/><stop offset="1.000" stop-color="#000080"/></linearGradient>
<linearGradient id="g145" x1="0" y1="0" x2="0" y2="1"><stop offset=".000" stop-color="#50ffa7"/><stop offset=".122" stop-color="#90ff66"/><stop offset=".245" stop-color="#f1fc06"/><stop offset=".269" stop-color="#ffe600"/><stop offset=".343" stop-color="#ff9f00"/><stop offset=".413" stop-color="#ff7a00"/><stop offset=".517" stop-color="#ff3000"/><stop offset=".587" stop-color="#ff3400"/><stop offset=".608" stop-color="#ff3b00"/><stop offset=".650" stop-color="#ff7700"/><stop offset=".668" stop-color="#ff8900"/><stop offset=".713" stop-color="#ffe200"/><stop offset=".720" stop-color="#f8f500"/><stop offset=".724" stop-color="#eeff09"/><stop offset=".769" stop-color="#6dff8a"/><stop offset=".783" stop-color="#1fffd7"/><stop offset=".790" stop-color="#00e0fb"/><stop offset=".808" stop-color="#0084ff"/><stop offset=".825" stop-color="#0000ff"/><stop offset=".836" stop-color="#0000a4"/><stop offset=".843" stop-color="#000080"/><stop offset="1.000" stop-color="#000080"/></linearGradient>
<linearGradient id="g146" x1="0" y1="0" x2="0" y2="1"><stop offset=".000" stop-color="#56ffa0"/><stop offset=".126" stop-color="#94ff63"/><stop offset=".245" stop-color="#f1fc06"/><stop offset=".269" stop-color="#ffe600"/><stop offset=".343" stop-color="#ff9f00"/><stop offset=".413" stop-color="#ff7a00"/><stop offset=".517" stop-color="#ff3000"/><stop offset=".587" stop-color="#ff3400"/><stop offset=".608" stop-color="#ff3b00"/><stop offset=".650" stop-color="#ff7700"/><stop offset=".668" stop-color="#ff8900"/><stop offset=".713" stop-color="#ffe200"/><stop offset=".720" stop-color="#f8f500"/><stop offset=".724" stop-color="#eeff09"/><stop offset=".769" stop-color="#6dff8a"/><stop offset=".783" stop-color="#1fffd7"/><stop offset=".790" stop-color="#00e0fb"/><stop offset=".808" stop-color="#0084ff"/><stop offset=".825" stop-color="#0000ff"/><stop offset=".836" stop-color="#0000a4"/><stop offset=".843" stop-color="#000080"/><stop offset="1.000" stop-color="#000080"/></linearGradient>
<linearGradient id="g147" x1="0" y1="0" x2="0" y2="1"><stop offset=".000" stop-color="#5aff9d"/><stop offset=".126" stop-color="#97ff60"/><stop offset=".245" stop-color="#f1fc06"/><stop offset=".269" stop-color="#ffe600"/><stop offset=".343" stop-color="#ff9f00"/><stop offset=".413" stop-color="#ff7a00"/><stop offset=".517" stop-color="#ff3000"/><stop offset=".587" stop-color="#ff3400"/><stop offset=".608" stop-color="#ff3b00"/><stop offset=".650" stop-color="#ff7700"/><stop offset=".668" stop-color="#ff8900"/><stop offset=".713" stop-color="#ffe200"/><stop offset=".720" stop-color="#f8f500"/><stop offset=".724" stop-color="#eeff09"/><stop offset=".769" stop-color="#6dff8a"/><stop offset=".783" stop-color="#1fffd7"/><stop offset=".790" stop-color="#00e0fb"/><stop offset=".808" stop-color="#0084ff"/><stop offset=".825" stop-color="#0000ff"/><stop offset=".836" stop-color="#0000a4"/><stop offset=".843" stop-color="#000080"/><stop offset="1.000" stop-color="#000080"/></linearGradient>
<linearGradient id="g148" x1="0" y1="0" x2="0" y2="1"><stop offset=".000" stop-color="#60ff97"/><stop offset=".119" stop-color="#94ff63"/><stop offset=".245" stop-color="#f1fc06"/><stop offset=".269" stop-color="#ffe600"/><stop offset=".343" stop-color="#ff9f00"/><stop offset=".413" stop-color="#ff7a00"/><stop offset=".517" stop-color="#ff3000"/><stop offset=".587" stop-color="#ff3400"/><stop offset=".608" stop-color="#ff3b00"/><stop offset=".650" stop-color="#ff7700"/><stop offset=".668" stop-color="#ff8900"/><stop offset=".713" stop-color="#ffe200"/><stop offset=".720" stop-color="#f8f500"/><stop offset=".724" stop-color="#eeff09"/><stop offset=".769" stop-color="#6dff8a"/><stop offset=".783" stop-color="#1fffd7"/><stop offset=".790" stop-color="#00e0fb"/><stop offset=".808" stop-color="#0084ff"/><stop offset=".825" stop-color="#0000ff"/><stop offset=".836" stop-color="#0000a4"/><stop offset=".843" stop-color="#000080"/><stop offset="1.000" stop-color="#000080"/></linearGradient>
<linearGradient id="g149" x1="0" y1="0" x2="0" y2="1"><stop offset=".000" stop-color="#63ff94"/><stop offset=".122" stop-color="#97ff60"/><stop offset=".217" stop-color="#e1ff16"/><stop offset=".248" stop-color="#f4f802"/><stop offset=".269" stop-color="#ffe600"/><stop offset=".343" stop-color="#ff9f00"/><stop offset=".413" stop-color="#ff7a00"/><stop offset=".517" stop-color="#ff3000"/><stop offset=".587" stop-color="#ff3400"/><stop offset=".608" stop-color="#ff3b00"/><stop offset=".650" stop-color="#ff7700"/><stop offset=".668" stop-color="#ff8900"/><stop offset=".713" stop-color="#ffe200"/><stop offset=".720" stop-color="#f8f500"/><stop offset=".724" stop-color="#eeff09"/><stop offset=".769" stop-color="#6dff8a"/><stop offset=".783" stop-color="#1fffd7"/><stop offset=".790" stop-color="#00e0fb"/><stop offset=".808" stop-color="#0084ff"/><stop offset=".825" stop-color="#0000ff"/><stop offset=".836" stop-color="#0000a4"/><stop offset=".843" stop-color="#000080"/><stop offset="1.000" stop-color="#000080"/></linearGradient>
<linearGradient id="g150" x1="0" y1="0" x2="0" y2="1"><stop offset=".000" stop-color="#66ff90"/><stop offset=".126" stop-color="#9aff5d"/><stop offset=".220" stop-color="#e4ff13"/><stop offset=".248" stop-color="#f4f802"/><stop offset=".269" stop-color="#ffe600"/><stop offset=".343" stop-color="#ff9f00"/><stop offset=".413" stop-color="#ff7a00"/><stop offset=".517" stop-color="#ff3000"/><stop offset=".587" stop-color="#ff3400"/><stop offset=".608" stop-color="#ff3b00"/><stop offset=".650" stop-color="#ff7700"/><stop offset=".668" stop-color="#ff8900"/><stop offset=".713" stop-color="#ffe200"/><stop offset=".720" stop-color="#f8f500"/><stop offset=".724" stop-color="#eeff09"/><stop offset=".769" stop-color="#6dff8a"/><stop offset=".783" stop-color="#1fffd7"/><stop offset=".790" stop-color="#00e0fb"/><stop offset=".808" stop-color="#0084ff"/><stop offset=".825" stop-color="#0000ff"/><stop offset=".836" stop-color="#0000a4"/><stop offset=".843" stop-color="#000080"/><stop offset="1.000" stop-color="#000080"/></linearGradient>
<linearGradient id="g151" x1="0" y1="0" x2="0" y2="1"><stop offset=".000" stop-color="#66ff90"/><stop offset=".126" stop-color="#9aff5d"/><stop offset=".220" stop-color="#e4ff13"/><stop offset=".248" stop-color="#f4f802"/><stop offset=".269" stop-color="#ffe600"/><stop offset=".343" stop-color="#ff9f00"/><stop offset=".413" stop-color="#ff7a00"/><stop offset=".517" stop-color="#ff3000"/><stop offset=".587" stop-color="#ff3400"/><stop offset=".608" stop-color="#ff3b00"/><stop offset=".650" stop-color="#ff7700"/><stop offset=".668" stop-color="#ff8900"/><stop offset=".713" stop-color="#ffe200"/><stop offset=".720" stop-color="#f8f500"/><stop offset=".724" stop-color="#eeff09"/><stop offset=".769" stop-color="#6dff8a"/><stop offset=".783" stop-color="#1fffd7"/><stop offset=".790" stop-color="#00e0fb"/><stop offset=".808" stop-color="#0084ff"/><stop offset=".825" stop-color="#0000ff"/><stop offset=".836" stop-color="#0000a4"/><stop offset=".843" stop-color="#000080"/><stop offset="1.000" stop-color="#000080"/></linearGradient>
<linearGradient id="g152" x1="0" y1="0" x2="0" y2="1"><stop offset=".000" stop-color="#66ff90"/><stop offset=".126" stop-color="#9aff5d"/><stop offset=".220" stop-color="#e4ff13"/><stop offset=".248" stop-color="#f4f802"/><stop offset=".269" stop-color="#ffe600"/><stop offset=".343" stop-color="#ff9f00"/><stop offset=".413" stop-color="#ff7a00"/><stop offset=".517" stop-color="#ff3000"/><stop offset=".587" stop-color="#ff3400"/><stop offset=".608" stop-color="#ff3b00"/><stop offset=".650" stop-color="#ff7700"/><stop offset=".668" stop-color="#ff8900"/><stop offset=".713" stop-color="#ffe200"/><stop offset=".720" stop-color="#f8f500"/><stop offset=".724" stop-color="#eeff09"/><stop offset=".769" stop-color="#6dff8a"/><stop offset=".783" stop-color="#1fffd7"/><stop offset=".790" stop-color="#00e0fb"/><stop offset=".808" stop-color="#0084ff"/><stop offset=".825" stop-color="#0000ff"/><stop offset=".836" stop-color="#0000a4"/><stop offset=".843" stop-color="#000080"/><stop offset="1.000" stop-color="#000080"/></linearGradient>
<linearGradient id="g153" x1="0" y1="0" x2="0" y2="1"><stop offset=".000" stop-color="#66ff90"/><stop offset=".126" stop-color="#9aff5d"/><stop offset=".220" stop-color="#e4ff13"/><stop offset=".248" stop-color="#f4f802"/><stop offset=".269" stop-color="#ffe600"/><stop offset=".343" stop-color="#ff9f00"/><stop offset=".413" stop-color="#ff7a00"/><stop offset=".517" stop-color="#ff3000"/><stop offset=".587" stop-color="#ff3400"/><stop offset=".608" stop-color="#ff3b00"/><stop offset=".650" stop-color="#ff7700"/><stop offset=".668" stop-color="#ff8900"/><stop offset=".713" stop-color="#ffe200"/><stop offset=".720" stop-color="#f8f500"/><stop offset=".724" stop-color="#eeff09"/><stop offset=".769" stop-color="#6dff8a"/><stop offset=".783" stop-color="#1fffd7"/><stop offset=".790" stop-color="#00e0fb"/><stop offset=".808" stop-color="#0084ff"/><stop offset=".825" stop-color="#0000ff"/><stop offset=".836" stop-color="#0000a4"/><stop offset=".843" stop-color="#000080"/><stop offset="1.000" stop-color="#000080"/></linearGradient>
<linearGradient id="g154" x1="0" y1="0" x2="0" y2="1"><stop offset=".000" stop-color="#66ff90"/><stop offset=".126" stop-color="#9aff5d"/><stop offset=".220" stop-color="#e4ff13"/><stop offset=".248" stop-color="#f4f802"/><stop offset=".269" stop-color="#ffe600"/><stop offset=".343" stop-color="#ff9f00"/><stop offset=".413" stop-color="#ff7a00"/><stop offset=".517" stop-color="#ff3000"/><stop offset=".587" stop-color="#ff3400"/><stop offset=".608" stop-color="#ff3b00"/><stop offset=".650" stop-color="#ff7700"/><stop offset=".668" stop-color="#ff8900"/><stop offset=".713" stop-color="#ffe200"/><stop offset=".720" stop-color="#f8f500"/><stop offset=".724" stop-color="#eeff09"/><stop offset=".769" stop-color="#6dff8a"/><stop offset=".783" stop-color="#1fffd7"/><stop offset=".790" stop-color="#00e0fb"/><stop offset=".808" stop-color="#0084ff"/><stop offset=".825" stop-color="#0000ff"/><stop offset=".836" stop-color="#0000a4"/><stop offset=".843" stop-color="#000080"/><stop offset="1.000" stop-color="#000080"/></linearGradient>
<linearGradient id="g155" x1="0" y1="0" x2="0" y2="1"><stop offset=".000" stop-color="#66ff90"/><stop offset=".126" stop-color="#9aff5d"/><stop offset=".220" stop-color="#e4ff13"/><stop offset=".248" stop-color="#f4f802"/><stop offset=".269" stop-color="#ffe600"/><stop offset=".343" stop-color="#ff9f00"/><stop offset=".413" stop-color="#ff7a00"/><stop offset=".517" stop-color="#ff3000"/><stop offset=".587" stop-color="#ff3400"/><stop offset=".608" stop-color="#ff3b00"/><stop offset=".650" stop-color="#ff7700"/><stop offset=".668" stop-color="#ff8900"/><stop offset=".713" stop-color="#ffe200"/><stop offset=".720" stop-color="#f8f500"/><stop offset=".724" stop-color="#eeff09"/><stop offset=".769" stop-color="#6dff8a"/><stop offset=".783" stop-color="#1fffd7"/><stop offset=".790" stop-color="#00e0fb"/><stop offset=".808" stop-color="#0084ff"/><stop offset=".825" stop-color="#0000ff"/><stop offset=".836" stop-color="#0000a4"/><stop offset=".843" stop-color="#000080"/><stop offset="1.000" stop-color="#000080"/></linearGradient>
<linearGradient id="g156" x1="0" y1="0" x2="0" y2="1"><stop offset=".000" stop-color="#66ff90"/><stop offset=".126" stop-color="#9aff5d"/><stop offset=".220" stop-color="#e4ff13"/><stop offset=".248" stop-color="#f4f802"/><stop offset=".269" stop-color="#ffe600"/><stop offset=".343" stop-color="#ff9f00"/><stop offset=".413" stop-color="#ff7a00"/><stop offset=".517" stop-color="#ff3000"/><stop offset=".587" stop-color="#ff3400"/><stop offset=".608" stop-color="#ff3b00"/><stop offset=".650" stop-color="#ff7700"/><stop offset=".668" stop-color="#ff8900"/><stop offset=".713" stop-color="#ffe200"/><stop offset=".720" stop-color="#f8f500"/><stop offset=".724" stop-color="#eeff09"/><stop offset=".769" stop-color="#6dff8a"/><stop offset=".783" stop-color="#1fffd7"/><stop offset=".790" stop-color="#00e0fb"/><stop offset=".808" stop-color="#0084ff"/><stop offset=".825" stop-color="#0000ff"/><stop offset=".836" stop-color="#0000a4"/><stop offset=".843" stop-color="#000080"/><stop offset="1.000" stop-color="#000080"/></linearGradient>
<linearGradient id="g157" x1="0" y1="0" x2="0" y2="1"><stop offset=".000" stop-color="#66ff90"/><stop offset=".126" stop-color="#9aff5d"/><stop offset=".220" stop-color="#e4ff13"/><stop offset=".248" stop-color="#f4f802"/><stop offset=".269" stop-color="#ffe600"/><stop offset=".343" stop-color="#ff9f00"/><stop offset=".413" stop-color="#ff7a00"/><stop offset=".517" stop-color="#ff3000"/><stop offset=".587" stop-color="#ff3400"/><stop offset=".608" stop-color="#ff3b00"/><stop offset=".650" stop-color="#ff7700"/><stop offset=".668" stop-color="#ff8900"/><stop offset=".713" stop-color="#ffe200"/><stop offset=".720" stop-color="#f8f500"/><stop offset=".724" stop-color="#eeff09"/><stop offset=".769" stop-color="#6dff8a"/><stop offset=".783" stop-color="#1fffd7"/><stop offset=".790" stop-color="#00e0fb"/><stop offset=".808" stop-color="#0084ff"/><stop offset=".825" stop-color="#0000ff"/><stop offset=".836" stop-color="#0000a4"/><stop offset=".843" stop-color="#000080"/><stop offset="1.000" stop-color="#000080"/></linearGradient>
<linearGradient id="cb" x1="0" y1="1" x2="0" y2="0"><stop offset="0.000" stop-color="#000080"/><stop offset="0.025" stop-color="#00009b"/><stop offset="0.050" stop-color="#0000b6"/><stop offset="0.075" stop-color="#0000d6"/><stop offset="0.100" stop-color="#0000f1"/><stop offset="0.125" stop-color="#0000ff"/><stop offset="0.150" stop-color="#0018ff"/><stop offset="0.175" stop-color="#0030ff"/><stop offset="0.200" stop-color="#004cff"/><stop offset="0.225" stop-color="#0064ff"/><stop offset="0.250" stop-color="#0080ff"/><stop offset="0.275" stop-color="#0098ff"/><stop offset="0.300" stop-color="#00b0ff"/><stop offset="0.325" stop-color="#00ccff"/><stop offset="0.350" stop-color="#00e4f8"/><stop offset="0.375" stop-color="#16ffe1"/><stop offset="0.400" stop-color="#29ffce"/><stop offset="0.425" stop-color="#3cffba"/><stop offset="0.450" stop-color="#53ffa4"/><stop offset="0.475" stop-color="#66ff90"/><stop offset="0.500" stop-color="#7dff7a"/><stop offset="0.525" stop-color="#90ff66"/><stop offset="0.550" stop-color="#a4ff53"/><stop offset="0.575" stop-color="#baff3c"/><stop offset="0.600" stop-color="#ceff29"/><stop offset="0.625" stop-color="#e4ff13"/><stop offset="0.650" stop-color="#f8f500"/><stop offset="0.675" stop-color="#ffde00"/><stop offset="0.700" stop-color="#ffc400"/><stop offset="0.725" stop-color="#ffae00"/><stop offset="0.750" stop-color="#ff9400"/><stop offset="0.775" stop-color="#ff7e00"/><stop offset="0.800" stop-color="#ff6800"/><stop offset="0.825" stop-color="#ff4e00"/><stop offset="0.850" stop-color="#ff3800"/><stop offset="0.875" stop-color="#ff1e00"/><stop offset="0.900" stop-color="#f10800"/><stop offset="0.925" stop-color="#d60000"/><stop offset="0.950" stop-color="#b60000"/><stop offset="0.975" stop-color="#9b0000"/><stop offset="1.000" stop-color="#800000"/></linearGradient>
<clipPath id="c2"><rect x="200" y="477.9" width="714" height="344.1"/></clipPath>
<clipPath id="c3"><rect x="200" y="844.9" width="714" height="171.9"/></clipPath>
<clipPath id="r1"><rect x="1205" y="109.9" width="595" height="344.9"/></clipPath>
<clipPath id="r2"><rect x="1205" y="477.9" width="595" height="344.1"/></clipPath>
<clipPath id="r3"><rect x="1205" y="844.9" width="595" height="171.9"/></clipPath>
</defs>
<rect width="2000" height="1100" fill="#fff"/>
<text x="1000" y="41.3" font-size="24.12" text-anchor="middle" fill="#000" >BAS-RBM Relativistic Electron Forecast, issued at 23:10 UT, 15 October 2018</text>
<g clip-path="url(#hc)" shape-rendering="crispEdges">
<rect x="200" y="109.9" width="714" height="58.3" fill="#d3d3d3" />
<rect x="200" y="168" width="8.6" height="286" fill="url(#g1)"/>
<rect x="208" y="168" width="8.6" height="286" fill="url(#g2)"/>
<rect x="216" y="168" width="5.6" height="286" fill="url(#g3)"/>
<rect x="221" y="168" width="3.6" height="286" fill="url(#g4)"/>
<rect x="224" y="168" width="1.6" height="286" fill="url(#g5)"/>
<rect x="225" y="168" width="1.6" height="286" fill="url(#g6)"/>
<rect x="226" y="168" width="2.6" height="286" fill="url(#g7)"/>
<rect x="228" y="168" width="1.6" height="286" fill="url(#g8)"/>
<rect x="229" y="168" width="1.6" height="286" fill="url(#g9)"/>
<rect x="230" y="168" width="3.6" height="286" fill="url(#g10)"/>
<rect x="233" y="168" width="4.6" height="286" fill="url(#g11)"/>
<rect x="237" y="168" width="1.6" height="286" fill="url(#g12)"/>
<rect x="238" y="168" width="1.6" height="286" fill="url(#g13)"/>
<rect x="239" y="168" width="1.6" height="286" fill="url(#g14)"/>
<rect x="240" y="168" width="1.6" height="286" fill="url(#g15)"/>
<rect x="241" y="168" width="5.6" height="286" fill="url(#g16)"/>
<rect x="246" y="168" width="6.6" height="286" fill="url(#g17)"/>
<rect x="252" y="168" width="7.6" height="286" fill="url(#g18)"/>
<rect x="259" y="168" width="8.6" height="286" fill="url(#g19)"/>
<rect x="267" y="168" width="8.6" height="286" fill="url(#g20)"/>
<rect x="275" y="168" width="8.6" height="286" fill="url(#g21)"/>
<rect x="283" y="168" width="8.6" height="286" fill="url(#g22)"/>
<rect x="291" y="168" width="8.6" height="286" fill="url(#g23)"/>
<rect x="299" y="168" width="8.6" height="286" fill="url(#g24)"/>
<rect x="307" y="168" width="8.6" height="286" fill="url(#g25)"/>
<rect x="315" y="168" width="8.6" height="286" fill="url(#g26)"/>
<rect x="323" y="168" width="8.6" height="286" fill="url(#g27)"/>
<rect x="331" y="168" width="7.6" height="286" fill="url(#g28)"/>
<rect x="338" y="168" width="7.6" height="286" fill="url(#g29)"/>
<rect x="345" y="168" width="4.6" height="286" fill="url(#g30)"/>
<rect x="349" y="168" width="3.6" height="286" fill="url(#g31)"/>
<rect x="352" y="168" width="3.6" height="286" fill="url(#g32)"/>
<rect x="355" y="168" width="1.6" height="286" fill="url(#g33)"/>
<rect x="356" y="168" width="1.6" height="286" fill="url(#g34)"/>
<rect x="357" y="168" width="1.6" height="286" fill="url(#g35)"/>
<rect x="358" y="168" width="1.6" height="286" fill="url(#g36)"/>
<rect x="359" y="168" width="1.6" height="286" fill="url(#g37)"/>
<rect x="360" y="168" width="1.6" height="286" fill="url(#g38)"/>
<rect x="361" y="168" width="1.6" height="286" fill="url(#g39)"/>
<rect x="362" y="168" width="4.6" height="286" fill="url(#g40)"/>
<rect x="366" y="168" width="1.6" height="286" fill="url(#g41)"/>
<rect x="367" y="168" width="3.6" height="286" fill="url(#g42)"/>
<rect x="370" y="168" width="3.6" height="286" fill="url(#g43)"/>
<rect x="373" y="168" width="4.6" height="286" fill="url(#g44)"/>
<rect x="377" y="168" width="8.6" height="286" fill="url(#g45)"/>
<rect x="385" y="168" width="8.6" height="286" fill="url(#g46)"/>
<rect x="393" y="168" width="8.6" height="286" fill="url(#g47)"/>
<rect x="401" y="168" width="8.6" height="286" fill="url(#g48)"/>
<rect x="409" y="168" width="8.6" height="286" fill="url(#g49)"/>
<rect x="417" y="168" width="8.6" height="286" fill="url(#g50)"/>
<rect x="425" y="168" width="8.6" height="286" fill="url(#g51)"/>
<rect x="433" y="168" width="8.6" height="286" fill="url(#g52)"/>
<rect x="441" y="168" width="8.6" height="286" fill="url(#g53)"/>
<rect x="449" y="168" width="8.6" height="286" fill="url(#g54)"/>
<rect x="457" y="168" width="8.6" height="286" fill="url(#g55)"/>
<rect x="465" y="168" width="8.6" height="286" fill="url(#g56)"/>
<rect x="473" y="168" width="8.6" height="286" fill="url(#g57)"/>
<rect x="481" y="168" width="8.6" height="286" fill="url(#g58)"/>
<rect x="489" y="168" width="8.6" height="286" fill="url(#g59)"/>
<rect x="497" y="168" width="8.6" height="286" fill="url(#g60)"/>
<rect x="505" y="168" width="8.6" height="286" fill="url(#g61)"/>
<rect x="513" y="168" width="8.6" height="286" fill="url(#g62)"/>
<rect x="521" y="168" width="8.6" height="286" fill="url(#g63)"/>
<rect x="529" y="168" width="8.6" height="286" fill="url(#g64)"/>
<rect x="537" y="168" width="8.6" height="286" fill="url(#g65)"/>
<rect x="545" y="168" width="8.6" height="286" fill="url(#g66)"/>
<rect x="553" y="168" width="8.6" height="286" fill="url(#g67)"/>
<rect x="561" y="168" width="8.6" height="286" fill="url(#g68)"/>
<rect x="569" y="168" width="8.6" height="286" fill="url(#g69)"/>
<rect x="577" y="168" width="4.6" height="286" fill="url(#g70)"/>
<rect x="581" y="168" width="3.6" height="286" fill="url(#g71)"/>
<rect x="584" y="168" width="3.6" height="286" fill="url(#g72)"/>
<rect x="587" y="168" width="4.6" height="286" fill="url(#g73)"/>
<rect x="591" y="168" width="8.6" height="286" fill="url(#g74)"/>
<rect x="599" y="168" width="8.6" height="286" fill="url(#g75)"/>
<rect x="607" y="168" width="8.6" height="286" fill="url(#g76)"/>
<rect x="615" y="168" width="2.6" height="286" fill="url(#g77)"/>
<rect x="617" y="168" width="2.6" height="286" fill="url(#g78)"/>
<rect x="619" y="168" width="1.6" height="286" fill="url(#g79)"/>
<rect x="620" y="168" width="1.6" height="286" fill="url(#g80)"/>
<rect x="621" y="168" width="1.6" height="286" fill="url(#g81)"/>
<rect x="622" y="168" width="1.6" height="286" fill="url(#g82)"/>
<rect x="623" y="168" width="1.6" height="286" fill="url(#g83)"/>
<rect x="624" y="168" width="1.6" height="286" fill="url(#g84)"/>
<rect x="625" y="168" width="1.6" height="286" fill="url(#g85)"/>
<rect x="626" y="168" width="1.6" height="286" fill="url(#g86)"/>
<rect x="627" y="168" width="1.6" height="286" fill="url(#g87)"/>
<rect x="628" y="168" width="1.6" height="286" fill="url(#g88)"/>
<rect x="629" y="168" width="1.6" height="286" fill="url(#g89)"/>
<rect x="630" y="168" width="1.6" height="286" fill="url(#g90)"/>
<rect x="631" y="168" width="1.6" height="286" fill="url(#g91)"/>
<rect x="632" y="168" width="1.6" height="286" fill="url(#g92)"/>
<rect x="633" y="168" width="1.6" height="286" fill="url(#g93)"/>
<rect x="634" y="168" width="1.6" height="286" fill="url(#g94)"/>
<rect x="635" y="168" width="1.6" height="286" fill="url(#g95)"/>
<rect x="636" y="168" width="1.6" height="286" fill="url(#g96)"/>
<rect x="637" y="168" width="1.6" height="286" fill="url(#g97)"/>
<rect x="638" y="168" width="1.6" height="286" fill="url(#g98)"/>
<rect x="639" y="168" width="1.6" height="286" fill="url(#g99)"/>
<rect x="640" y="168" width="1.6" height="286" fill="url(#g100)"/>
<rect x="641" y="168" width="1.6" height="286" fill="url(#g101)"/>
<rect x="642" y="168" width="1.6" height="286" fill="url(#g102)"/>
<rect x="643" y="168" width="1.6" height="286" fill="url(#g103)"/>
<rect x="644" y="168" width="1.6" height="286" fill="url(#g104)"/>
<rect x="645" y="168" width="8.6" height="286" fill="url(#g105)"/>
<rect x="653" y="168" width="8.6" height="286" fill="url(#g106)"/>
<rect x="661" y="168" width="8.6" height="286" fill="url(#g107)"/>
<rect x="669" y="168" width="8.6" height="286" fill="url(#g108)"/>
<rect x="677" y="168" width="8.6" height="286" fill="url(#g109)"/>
<rect x="685" y="168" width="8.6" height="286" fill="url(#g110)"/>
<rect x="693" y="168" width="8.6" height="286" fill="url(#g111)"/>
<rect x="701" y="168" width="8.6" height="286" fill="url(#g112)"/>
<rect x="709" y="168" width="8.6" height="286" fill="url(#g113)"/>
<rect x="717" y="168" width="8.6" height="286" fill="url(#g114)"/>
<rect x="725" y="168" width="1.6" height="286" fill="url(#g115)"/>
<rect x="726" y="168" width="1.6" height="286" fill="url(#g116)"/>
<rect x="727" y="168" width="1.6" height="286" fill="url(#g117)"/>
<rect x="728" y="168" width="1.6" height="286" fill="url(#g118)"/>
<rect x="729" y="168" width="1.6" height="286" fill="url(#g119)"/>
<rect x="730" y="168" width="1.6" height="286" fill="url(#g120)"/>
<rect x="731" y="168" width="8.6" height="286" fill="url(#g121)"/>
<rect x="739" y="168" width="6.6" height="286" fill="url(#g122)"/>
<rect x="745" y="168" width="1.6" height="286" fill="url(#g123)"/>
<rect x="746" y="168" width="1.6" height="286" fill="url(#g124)"/>
<rect x="747" y="168" width="1.6" height="286" fill="url(#g125)"/>
<rect x="748" y="168" width="1.6" height="286" fill="url(#g126)"/>
<rect x="749" y="168" width="1.6" height="286" fill="url(#g127)"/>
<rect x="750" y="168" width="1.6" height="286" fill="url(#g128)"/>
<rect x="751" y="168" width="1.6" height="286" fill="url(#g129)"/>
<rect x="752" y="168" width="1.6" height="286" fill="url(#g130)"/>
<rect x="753" y="168" width="1.6" height="286" fill="url(#g131)"/>
<rect x="754" y="168" width="1.6" height="286" fill="url(#g132)"/>
<rect x="755" y="168" width="1.6" height="286" fill="url(#g133)"/>
<rect x="756" y="168" width="1.6" height="286" fill="url(#g134)"/>
<rect x="757" y="168" width="1.6" height="286" fill="url(#g135)"/>
<rect x="758" y="168" width="1.6" height="286" fill="url(#g136)"/>
<rect x="759" y="168" width="1.6" height="286" fill="url(#g137)"/>
<rect x="760" y="168" width="8.6" height="286" fill="url(#g138)"/>
<rect x="768" y="168" width="8.6" height="286" fill="url(#g139)"/>
<rect x="776" y="168" width="8.6" height="286" fill="url(#g140)"/>
<rect x="784" y="168" width="8.6" height="286" fill="url(#g141)"/>
<rect x="792" y="168" width="8.6" height="286" fill="url(#g142)"/>
<rect x="800" y="168" width="8.6" height="286" fill="url(#g143)"/>
<rect x="808" y="168" width="8.6" height="286" fill="url(#g144)"/>
<rect x="816" y="168" width="8.6" height="286" fill="url(#g145)"/>
<rect x="824" y="168" width="8.6" height="286" fill="url(#g146)"/>
<rect x="832" y="168" width="8.6" height="286" fill="url(#g147)"/>
<rect x="840" y="168" width="8.6" height="286" fill="url(#g148)"/>
<rect x="848" y="168" width="8.6" height="286" fill="url(#g149)"/>
<rect x="856" y="168" width="8.6" height="286" fill="url(#g150)"/>
<rect x="864" y="168" width="8.6" height="286" fill="url(#g151)"/>
<rect x="872" y="168" width="8.6" height="286" fill="url(#g152)"/>
<rect x="880" y="168" width="8.6" height="286" fill="url(#g153)"/>
<rect x="888" y="168" width="8.6" height="286" fill="url(#g154)"/>
<rect x="896" y="168" width="8.6" height="286" fill="url(#g155)"/>
<rect x="904" y="168" width="8.6" height="286" fill="url(#g156)"/>
<rect x="912" y="168" width="2.6" height="286" fill="url(#g157)"/>
</g>
<line x1="236" y1="110.9" x2="236" y2="119.6" stroke="#000" stroke-width="4.2" />
<text x="236" y="139.2" font-size="13.3" text-anchor="middle" fill="#000" >M</text>
<line x1="280.69" y1="110.9" x2="280.69" y2="119.6" stroke="#f00" stroke-width="4.2" />
<text x="280.69" y="139.2" font-size="13.3" text-anchor="middle" fill="#f00" >N</text>
<line x1="325.38" y1="110.9" x2="325.38" y2="119.6" stroke="#000" stroke-width="4.2" />
<text x="325.38" y="139.2" font-size="13.3" text-anchor="middle" fill="#000" >M</text>
<line x1="370.07" y1="110.9" x2="370.07" y2="119.6" stroke="#f00" stroke-width="4.2" />
<text x="370.07" y="139.2" font-size="13.3" text-anchor="middle" fill="#f00" >N</text>
<line x1="414.76" y1="110.9" x2="414.76" y2="119.6" stroke="#000" stroke-width="4.2" />
<text x="414.76" y="139.2" font-size="13.3" text-anchor="middle" fill="#000" >M</text>
<line x1="459.45" y1="110.9" x2="459.45" y2="119.6" stroke="#f00" stroke-width="4.2" />
<text x="459.45" y="139.2" font-size="13.3" text-anchor="middle" fill="#f00" >N</text>
<line x1="504.14" y1="110.9" x2="504.14" y2="119.6" stroke="#000" stroke-width="4.2" />
<text x="504.14" y="139.2" font-size="13.3" text-anchor="middle" fill="#000" >M</text>
<line x1="548.83" y1="110.9" x2="548.83" y2="119.6" stroke="#f00" stroke-width="4.2" />
<text x="548.83" y="139.2" font-size="13.3" text-anchor="middle" fill="#f00" >N</text>
<line x1="593.52" y1="110.9" x2="593.52" y2="119.6" stroke="#000" stroke-width="4.2" />
<text x="593.52" y="139.2" font-size="13.3" text-anchor="middle" fill="#000" >M</text>
<line x1="638.21" y1="110.9" x2="638.21" y2="119.6" stroke="#f00" stroke-width="4.2" />
<text x="638.21" y="139.2" font-size="13.3" text-anchor="middle" fill="#f00" >N</text>
<line x1="682.9" y1="110.9" x2="682.9" y2="119.6" stroke="#000" stroke-width="4.2" />
<text x="682.9" y="139.2" font-size="13.3" text-anchor="middle" fill="#000" >M</text>
<line x1="727.59" y1="110.9" x2="727.59" y2="119.6" stroke="#f00" stroke-width="4.2" />
<text x="727.59" y="139.2" font-size="13.3" text-anchor="middle" fill="#f00" >N</text>
<line x1="772.28" y1="110.9" x2="772.28" y2="119.6" stroke="#000" stroke-width="4.2" />
<text x="772.28" y="139.2" font-size="13.3" text-anchor="middle" fill="#000" >M</text>
<line x1="816.97" y1="110.9" x2="816.97" y2="119.6" stroke="#f00" stroke-width="4.2" />
<text x="816.97" y="139.2" font-size="13.3" text-anchor="middle" fill="#f00" >N</text>
<line x1="825" y1="110.9" x2="825" y2="119.6" stroke="#000" stroke-width="4.2" />
<text x="825" y="139.2" font-size="13.3" text-anchor="middle" fill="#000" >M</text>
<line x1="615.5" y1="111" x2="615.5" y2="162.6" stroke="#fff" stroke-width="2.1" stroke-linecap="round"/>
<line x1="620.6" y1="111" x2="620.6" y2="123.5" stroke="#fff" stroke-width="2.1" stroke-linecap="round"/>
<g clip-path="url(#hc)"><polyline points="200,235.73 201,234.81 202,233.67 203,232.34 204,230.9 205,229.43 206,227.99 207,226.65 208,225.5 209,224.59 210,223.93 211,223.47 212,223.15 213,222.9 214,222.66 215,222.37 216,221.97 217,221.39 218,220.52 219,219.26 220,217.57 221,215.53 222,213.29 223,210.99 224,208.78 225,206.81 226,205.2 227,204.03 228,203.29 229,202.99 230,203.1 231,203.56 232,204.23 233,204.95 234,205.58 235,206.03 236,206.2 237,206.02 238,205.57 239,204.95 240,204.25 241,203.61 242,203.13 243,202.93 244,203.1 245,203.71 246,204.82 247,206.48 248,208.59 249,210.97 250,213.45 251,215.85 252,217.98 253,219.67 254,220.84 255,221.6 256,222.05 257,222.3 258,222.45 259,222.58 260,222.75 261,223.05 262,223.55 263,224.32 264,225.36 265,226.62 266,228.02 267,229.48 268,230.95 269,232.34 270,233.6 271,234.66 272,235.55 273,236.27 274,236.84 275,237.3 276,237.65 277,237.92 278,238.11 279,238.24 280,238.29 281,238.29 282,238.23 283,238.12 284,237.95 285,237.72 286,237.44 287,237.07 288,236.58 289,235.92 290,235.07 291,233.97 292,232.68 293,231.27 294,229.8 295,228.34 296,226.97 297,225.77 298,224.79 299,224.08 300,223.57 301,223.22 302,222.96 303,222.72 304,222.45 305,222.09 306,221.56 307,220.77 308,219.62 309,218.03 310,216.06 311,213.86 312,211.56 313,209.32 314,207.27 315,205.56 316,204.28 317,203.44 318,203.02 319,203.03 320,203.42 321,204.05 322,204.77 323,205.44 324,205.94 325,206.19 326,206.1 327,205.7 328,205.11 329,204.43 330,203.76 331,203.22 332,202.94 333,203.02 334,203.51 335,204.49 336,206.01 337,208.03 338,210.36 339,212.83 340,215.26 341,217.48 342,219.29 343,220.59 344,221.44 345,221.96 346,222.25 347,222.42 348,222.54 349,222.7 350,222.96 351,223.4 352,224.1 353,225.08 354,226.29 355,227.66 356,229.11 357,230.59 358,232.01 359,233.3 360,234.42 361,235.34 362,236.1 363,236.71 364,237.19 365,237.57 366,237.86 367,238.07 368,238.21 369,238.29 370,238.3 371,238.25 372,238.15 373,237.99 374,237.78 375,237.52 376,237.18 377,236.72 378,236.11 379,235.3 380,234.27 381,233.02 382,231.63 383,230.16 384,228.7 385,227.3 386,226.05 387,225.01 388,224.23 389,223.68 390,223.3 391,223.02 392,222.78 393,222.52 394,222.19 395,221.71 396,220.99 397,219.94 398,218.47 399,216.58 400,214.43 401,212.14 402,209.87 403,207.76 404,205.95 405,204.56 406,203.61 407,203.09 408,202.99 409,203.3 410,203.88 411,204.59 412,205.28 413,205.84 414,206.16 415,206.15 416,205.82 417,205.27 418,204.6 419,203.92 420,203.34 421,202.98 422,202.96 423,203.34 424,204.19 425,205.58 426,207.49 427,209.76 428,212.21 429,214.67 430,216.96 431,218.89 432,220.31 433,221.27 434,221.86 435,222.19 436,222.38 437,222.51 438,222.65 439,222.88 440,223.27 441,223.89 442,224.81 443,225.97 444,227.31 445,228.75 446,230.22 447,231.66 448,232.99 449,234.16 450,235.13 451,235.92 452,236.57 453,237.08 454,237.49 455,237.8 456,238.03 457,238.18 458,238.27 459,238.3 460,238.27 461,238.18 462,238.04 463,237.84 464,237.59 465,237.27 466,236.85 467,236.28 468,235.52 469,234.55 470,233.35 471,231.99 472,230.53 473,229.06 474,227.64 475,226.35 476,225.25 477,224.4 478,223.8 479,223.38 480,223.08 481,222.84 482,222.59 483,222.28 484,221.85 485,221.2 486,220.24 487,218.88 488,217.09 489,214.98 490,212.72 491,210.43 492,208.26 493,206.36 494,204.87 495,203.8 496,203.18 497,202.97 498,203.19 499,203.72 500,204.41 501,205.12 502,205.72 503,206.1 504,206.19 505,205.93 506,205.43 507,204.77 508,204.08 509,203.47 510,203.05 511,202.93 512,203.21 513,203.93 514,205.18 515,206.97 516,209.16 517,211.59 518,214.06 519,216.41 520,218.45 521,220.01 522,221.07 523,221.74 524,222.13 525,222.35 526,222.48 527,222.61 528,222.81 529,223.15 530,223.71 531,224.56 532,225.66 533,226.96 534,228.38 535,229.85 536,231.31 537,232.67 538,233.88 539,234.9 540,235.74 541,236.42 542,236.97 543,237.4 544,237.73 545,237.98 546,238.15 547,238.26 548,238.3 549,238.28 550,238.21 551,238.08 552,237.89 553,237.66 554,237.36 555,236.96 556,236.43 557,235.73 558,234.81 559,233.67 560,232.34 561,230.9 562,229.43 563,227.99 564,226.65 565,225.5 566,224.59 567,223.93 568,223.47 569,223.15 570,222.9 571,222.66 572,222.37 573,221.97 574,221.39 575,220.52 576,219.26 577,217.57 578,215.53 579,213.29 580,210.99 581,208.78 582,206.81 583,205.2 584,204.03 585,203.29 586,202.99 587,203.1 588,203.56 589,204.23 590,204.95 591,205.58 592,206.03 593,206.2 594,206.02 595,205.57 596,204.95 597,204.25 598,203.61 599,203.13 600,202.93 601,203.1 602,203.71 603,204.82 604,206.48 605,208.59 606,210.97 607,213.45 608,215.85 609,217.98 610,219.67 611,220.84 612,221.6 613,222.05 614,222.3 615,222.45 616,222.58 617,222.75 618,223.05 619,223.55 620,224.32 621,225.36 622,226.62 623,228.02 624,229.48 625,230.95 626,232.34 627,233.6 628,234.66 629,235.55 630,236.27 631,236.84 632,237.3 633,237.65 634,237.92 635,238.11 636,238.24 637,238.29 638,238.29 639,238.23 640,238.12 641,237.95 642,237.72 643,237.44 644,237.07 645,236.58 646,235.92 647,235.07 648,233.97 649,232.68 650,231.27 651,229.8 652,228.34 653,226.97 654,225.77 655,224.79 656,224.08 657,223.57 658,223.22 659,222.96 660,222.72 661,222.45 662,222.09 663,221.56 664,220.77 665,219.62 666,218.03 667,216.06 668,213.86 669,211.56 670,209.32 671,207.27 672,205.56 673,204.28 674,203.44 675,203.02 676,203.03 677,203.42 678,204.05 679,204.77 680,205.44 681,205.94 682,206.19 683,206.1 684,205.7 685,205.11 686,204.43 687,203.76 688,203.22 689,202.94 690,203.02 691,203.51 692,204.49 693,206.01 694,208.03 695,210.36 696,212.83 697,215.26 698,217.48 699,219.29 700,220.59 701,221.44 702,221.96 703,222.25 704,222.42 705,222.54 706,222.7 707,222.96 708,223.4 709,224.1 710,225.08 711,226.29 712,227.66 713,229.11 714,230.59 715,232.01 716,233.3 717,234.42 718,235.34 719,236.1 720,236.71 721,237.19 722,237.57 723,237.86 724,238.07 725,238.21 726,238.29 727,238.3 728,238.25 729,238.15 730,237.99 731,237.78 732,237.52 733,237.18 734,236.72 735,236.11 736,235.3 737,234.27 738,233.02 739,231.63 740,230.16 741,228.7 742,227.3 743,226.05 744,225.01 745,224.23 746,223.68 747,223.3 748,223.02 749,222.78 750,222.52 751,222.19 752,221.71 753,220.99 754,219.94 755,218.47 756,216.58 757,214.43 758,212.14 759,209.87 760,207.76 761,205.95 762,204.56 763,203.61 764,203.09 765,202.99 766,203.3 767,203.88 768,204.59 769,205.28 770,205.84 771,206.16 772,206.15 773,205.82 774,205.27 775,204.6 776,203.92 777,203.34 778,202.98 779,202.96 780,203.34 781,204.19 782,205.58 783,207.49 784,209.76 785,212.21 786,214.67 787,216.96 788,218.89 789,220.31 790,221.27 791,221.86 792,222.19 793,222.38 794,222.51 795,222.65 796,222.88 797,223.27 798,223.89 799,224.81 800,225.97 801,227.31 802,228.75 803,230.22 804,231.66 805,232.99 806,234.16 807,235.13 808,235.92 809,236.57 810,237.08 811,237.49 812,237.8 813,238.03 814,238.18 815,238.27 816,238.3 817,238.27 818,238.18 819,238.04 820,237.84 821,237.59 822,237.27 823,236.85 824,236.28 825,235.52 826,234.55 827,233.35 828,231.99 829,230.53 830,229.06 831,227.64 832,226.35 833,225.25 834,224.4 835,223.8 836,223.38 837,223.08 838,222.84 839,222.59 840,222.28 841,221.85 842,221.2 843,220.24 844,218.88 845,217.09 846,214.98 847,212.72 848,210.43 849,208.26 850,206.36 851,204.87 852,203.8 853,203.18 854,202.97 855,203.19 856,203.72 857,204.41 858,205.12 859,205.72 860,206.1 861,206.19 862,205.93 863,205.43 864,204.77 865,204.08 866,203.47 867,203.05 868,202.93 869,203.21 870,203.93 871,205.18 872,206.97 873,209.16 874,211.59 875,214.06 876,216.41 877,218.45 878,220.01 879,221.07 880,221.74 881,222.13 882,222.35 883,222.48 884,222.61 885,222.81 886,223.15 887,223.71 888,224.56 889,225.66 890,226.96 891,228.38 892,229.85 893,231.31 894,232.67 895,233.88 896,234.9 897,235.74 898,236.42 899,236.97 900,237.4 901,237.73 902,237.98 903,238.15 904,238.26 905,238.3 906,238.28 907,238.21 908,238.08 909,237.89 910,237.66 911,237.36 912,236.96 913,236.43 914,235.73" fill="none" stroke="#000" stroke-width="2.6" stroke-dasharray="7.6 3.1" stroke-linejoin="round"/></g>
<line x1="825" y1="454.8" x2="825" y2="109.9" stroke="#1f77b4" stroke-width="2.08" stroke-dasharray="2.08 3.43"/>
<g clip-path="url(#hc)"><text x="888" y="423.8" font-size="63.3" text-anchor="start" fill="#808080" transform="rotate(-90 888 423.8)" fill-opacity="0.25">Forecast</text></g>
<rect x="200" y="109.9" width="714" height="344.9" fill="none" stroke="#000" stroke-width="2"/>
<line x1="248.6" y1="454.8" x2="248.6" y2="449.9" stroke="#000" stroke-width="1.1" />
<line x1="337.85" y1="454.8" x2="337.85" y2="449.9" stroke="#000" stroke-width="1.1" />
<line x1="427.1" y1="454.8" x2="427.1" y2="449.9" stroke="#000" stroke-width="1.1" />
<line x1="516.35" y1="454.8" x2="516.35" y2="449.9" stroke="#000" stroke-width="1.1" />
<line x1="605.6" y1="454.8" x2="605.6" y2="449.9" stroke="#000" stroke-width="1.1" />
<line x1="694.85" y1="454.8" x2="694.85" y2="449.9" stroke="#000" stroke-width="1.1" />
<line x1="784.1" y1="454.8" x2="784.1" y2="449.9" stroke="#000" stroke-width="1.1" />
<line x1="873.35" y1="454.8" x2="873.35" y2="449.9" stroke="#000" stroke-width="1.1" />
<line x1="200" y1="455.5" x2="205.5" y2="455.5" stroke="#000" stroke-width="1.1" />
<text x="195.6" y="463.4" font-size="19.3" text-anchor="end" fill="#000" >2</text>
<line x1="914" y1="455.5" x2="908.5" y2="455.5" stroke="#000" stroke-width="1.1" />
<line x1="200" y1="397.5" x2="205.5" y2="397.5" stroke="#000" stroke-width="1.1" />
<text x="195.6" y="405.4" font-size="19.3" text-anchor="end" fill="#000" >3</text>
<line x1="914" y1="397.5" x2="908.5" y2="397.5" stroke="#000" stroke-width="1.1" />
<line x1="200" y1="340.5" x2="205.5" y2="340.5" stroke="#000" stroke-width="1.1" />
<text x="195.6" y="348.4" font-size="19.3" text-anchor="end" fill="#000" >4</text>
<line x1="914" y1="340.5" x2="908.5" y2="340.5" stroke="#000" stroke-width="1.1" />
<line x1="200" y1="282.5" x2="205.5" y2="282.5" stroke="#000" stroke-width="1.1" />
<text x="195.6" y="290.4" font-size="19.3" text-anchor="end" fill="#000" >5</text>
<line x1="914" y1="282.5" x2="908.5" y2="282.5" stroke="#000" stroke-width="1.1" />
<line x1="200" y1="225.5" x2="205.5" y2="225.5" stroke="#000" stroke-width="1.1" />
<text x="195.6" y="233.4" font-size="19.3" text-anchor="end" fill="#000" >6</text>
<line x1="914" y1="225.5" x2="908.5" y2="225.5" stroke="#000" stroke-width="1.1" />
<line x1="200" y1="167.5" x2="205.5" y2="167.5" stroke="#000" stroke-width="1.1" />
<text x="195.6" y="175.4" font-size="19.3" text-anchor="end" fill="#000" >7</text>
<line x1="914" y1="167.5" x2="908.5" y2="167.5" stroke="#000" stroke-width="1.1" />
<line x1="200" y1="110.5" x2="205.5" y2="110.5" stroke="#000" stroke-width="1.1" />
<text x="195.6" y="118.4" font-size="19.3" text-anchor="end" fill="#000" >8</text>
<line x1="914" y1="110.5" x2="908.5" y2="110.5" stroke="#000" stroke-width="1.1" />
<text x="558.5" y="93" font-size="24" text-anchor="middle" fill="#000" >2.0 MeV Electron Flux at 88<tspan font-size="16.8" dy="-10.4" dx="4.6">&#8728;</tspan><tspan dy="10.4" dx="3.7"> </tspan> pitch angle ( cm<tspan font-size="16.8" dy="-8.64" dx="1.5">−2</tspan><tspan dy="8.64" font-size="24">&#8203;</tspan><tspan dx="4">s</tspan><tspan font-size="16.8" dy="-8.64" dx="1.5">−1</tspan><tspan dy="8.64" font-size="24">&#8203;</tspan><tspan dx="4">sr</tspan><tspan font-size="16.8" dy="-8.64" dx="1.5">−1</tspan><tspan dy="8.64" font-size="24">&#8203;</tspan><tspan dx="4">KeV</tspan><tspan font-size="16.8" dy="-8.64" dx="1.5">−1</tspan><tspan dy="8.64" font-size="24">&#8203;</tspan> )</text>
<text x="173.5" y="285.7" font-size="24" text-anchor="middle" fill="#000" transform="rotate(-90 173.5 285.7)" >L*</text>
<rect x="958" y="109.9" width="19" height="344.9" fill="url(#cb)" />
<rect x="959" y="109.9" width="17" height="344.9" fill="none" stroke="#000" stroke-width="2"/>
<line x1="977" y1="454.8" x2="981.9" y2="454.8" stroke="#000" stroke-width="1.4" />
<text x="986.9" y="463" font-size="19.3" text-anchor="start" fill="#000" >10<tspan font-size="13.51" dy="-7.14" dx="1.1">−3</tspan><tspan dy="7.14" font-size="19.3">&#8203;</tspan></text>
<line x1="977" y1="437.5" x2="981.9" y2="437.5" stroke="#000" stroke-width="1.4" />
<line x1="977" y1="427.37" x2="981.9" y2="427.37" stroke="#000" stroke-width="1.4" />
<line x1="977" y1="420.19" x2="981.9" y2="420.19" stroke="#000" stroke-width="1.4" />
<line x1="977" y1="414.62" x2="981.9" y2="414.62" stroke="#000" stroke-width="1.4" />
<line x1="977" y1="410.07" x2="981.9" y2="410.07" stroke="#000" stroke-width="1.4" />
<line x1="977" y1="406.22" x2="981.9" y2="406.22" stroke="#000" stroke-width="1.4" />
<line x1="977" y1="402.89" x2="981.9" y2="402.89" stroke="#000" stroke-width="1.4" />
<line x1="977" y1="399.95" x2="981.9" y2="399.95" stroke="#000" stroke-width="1.4" />
<line x1="977" y1="397.32" x2="981.9" y2="397.32" stroke="#000" stroke-width="1.4" />
<text x="986.9" y="405.52" font-size="19.3" text-anchor="start" fill="#000" >10<tspan font-size="13.51" dy="-7.14" dx="1.1">−2</tspan><tspan dy="7.14" font-size="19.3">&#8203;</tspan></text>
<line x1="977" y1="380.01" x2="981.9" y2="380.01" stroke="#000" stroke-width="1.4" />
<line x1="977" y1="369.89" x2="981.9" y2="369.89" stroke="#000" stroke-width="1.4" />
<line x1="977" y1="362.71" x2="981.9" y2="362.71" stroke="#000" stroke-width="1.4" />
<line x1="977" y1="357.14" x2="981.9" y2="357.14" stroke="#000" stroke-width="1.4" />
<line x1="977" y1="352.59" x2="981.9" y2="352.59" stroke="#000" stroke-width="1.4" />
<line x1="977" y1="348.74" x2="981.9" y2="348.74" stroke="#000" stroke-width="1.4" />
<line x1="977" y1="345.4" x2="981.9" y2="345.4" stroke="#000" stroke-width="1.4" />
<line x1="977" y1="342.46" x2="981.9" y2="342.46" stroke="#000" stroke-width="1.4" />
<line x1="977" y1="339.83" x2="981.9" y2="339.83" stroke="#000" stroke-width="1.4" />
<text x="986.9" y="348.03" font-size="19.3" text-anchor="start" fill="#000" >10<tspan font-size="13.51" dy="-7.14" dx="1.1">−1</tspan><tspan dy="7.14" font-size="19.3">&#8203;</tspan></text>
<line x1="977" y1="322.53" x2="981.9" y2="322.53" stroke="#000" stroke-width="1.4" />
<line x1="977" y1="312.41" x2="981.9" y2="312.41" stroke="#000" stroke-width="1.4" />
<line x1="977" y1="305.22" x2="981.9" y2="305.22" stroke="#000" stroke-width="1.4" />
<line x1="977" y1="299.65" x2="981.9" y2="299.65" stroke="#000" stroke-width="1.4" />
<line x1="977" y1="295.1" x2="981.9" y2="295.1" stroke="#000" stroke-width="1.4" />
<line x1="977" y1="291.25" x2="981.9" y2="291.25" stroke="#000" stroke-width="1.4" />
<line x1="977" y1="287.92" x2="981.9" y2="287.92" stroke="#000" stroke-width="1.4" />
<line x1="977" y1="284.98" x2="981.9" y2="284.98" stroke="#000" stroke-width="1.4" />
<line x1="977" y1="282.35" x2="981.9" y2="282.35" stroke="#000" stroke-width="1.4" />
<text x="986.9" y="290.55" font-size="19.3" text-anchor="start" fill="#000" >10<tspan font-size="13.51" dy="-7.14" dx="1.1">0</tspan><tspan dy="7.14" font-size="19.3">&#8203;</tspan></text>
<line x1="977" y1="265.05" x2="981.9" y2="265.05" stroke="#000" stroke-width="1.4" />
<line x1="977" y1="254.92" x2="981.9" y2="254.92" stroke="#000" stroke-width="1.4" />
<line x1="977" y1="247.74" x2="981.9" y2="247.74" stroke="#000" stroke-width="1.4" />
<line x1="977" y1="242.17" x2="981.9" y2="242.17" stroke="#000" stroke-width="1.4" />
<line x1="977" y1="237.62" x2="981.9" y2="237.62" stroke="#000" stroke-width="1.4" />
<line x1="977" y1="233.77" x2="981.9" y2="233.77" stroke="#000" stroke-width="1.4" />
<line x1="977" y1="230.44" x2="981.9" y2="230.44" stroke="#000" stroke-width="1.4" />
<line x1="977" y1="227.5" x2="981.9" y2="227.5" stroke="#000" stroke-width="1.4" />
<line x1="977" y1="224.87" x2="981.9" y2="224.87" stroke="#000" stroke-width="1.4" />
<text x="986.9" y="233.07" font-size="19.3" text-anchor="start" fill="#000" >10<tspan font-size="13.51" dy="-7.14" dx="1.1">1</tspan><tspan dy="7.14" font-size="19.3">&#8203;</tspan></text>
<line x1="977" y1="207.56" x2="981.9" y2="207.56" stroke="#000" stroke-width="1.4" />
<line x1="977" y1="197.44" x2="981.9" y2="197.44" stroke="#000" stroke-width="1.4" />
<line x1="977" y1="190.26" x2="981.9" y2="190.26" stroke="#000" stroke-width="1.4" />
<line x1="977" y1="184.69" x2="981.9" y2="184.69" stroke="#000" stroke-width="1.4" />
<line x1="977" y1="180.14" x2="981.9" y2="180.14" stroke="#000" stroke-width="1.4" />
<line x1="977" y1="176.29" x2="981.9" y2="176.29" stroke="#000" stroke-width="1.4" />
<line x1="977" y1="172.95" x2="981.9" y2="172.95" stroke="#000" stroke-width="1.4" />
<line x1="977" y1="170.01" x2="981.9" y2="170.01" stroke="#000" stroke-width="1.4" />
<line x1="977" y1="167.38" x2="981.9" y2="167.38" stroke="#000" stroke-width="1.4" />
<text x="986.9" y="175.58" font-size="19.3" text-anchor="start" fill="#000" >10<tspan font-size="13.51" dy="-7.14" dx="1.1">2</tspan><tspan dy="7.14" font-size="19.3">&#8203;</tspan></text>
<line x1="977" y1="150.08" x2="981.9" y2="150.08" stroke="#000" stroke-width="1.4" />
<line x1="977" y1="139.96" x2="981.9" y2="139.96" stroke="#000" stroke-width="1.4" />
<line x1="977" y1="132.77" x2="981.9" y2="132.77" stroke="#000" stroke-width="1.4" />
<line x1="977" y1="127.2" x2="981.9" y2="127.2" stroke="#000" stroke-width="1.4" />
<line x1="977" y1="122.65" x2="981.9" y2="122.65" stroke="#000" stroke-width="1.4" />
<line x1="977" y1="118.8" x2="981.9" y2="118.8" stroke="#000" stroke-width="1.4" />
<line x1="977" y1="115.47" x2="981.9" y2="115.47" stroke="#000" stroke-width="1.4" />
<line x1="977" y1="112.53" x2="981.9" y2="112.53" stroke="#000" stroke-width="1.4" />
<line x1="977" y1="109.9" x2="981.9" y2="109.9" stroke="#000" stroke-width="1.4" />
<text x="986.9" y="118.1" font-size="19.3" text-anchor="start" fill="#000" >10<tspan font-size="13.51" dy="-7.14" dx="1.1">3</tspan><tspan dy="7.14" font-size="19.3">&#8203;</tspan></text>
<rect x="825" y="477.9" width="89" height="344.1" fill="#d3d3d3" />
<g clip-path="url(#c2)"><text x="888" y="791.4" font-size="63.3" text-anchor="start" fill="#808080" transform="rotate(-90 888 791.4)" fill-opacity="0.25">Forecast</text></g>
<line x1="825" y1="822" x2="825" y2="477.9" stroke="#1f77b4" stroke-width="2.08" stroke-dasharray="2.08 3.43"/>
<g clip-path="url(#c2)"><polyline points="200,580 201,581.01 202,582.24 203,583.58 204,584.85 205,585.94 206,586.88 207,587.69 208,588.38 209,588.95 210,589.35 211,589.59 212,589.73 213,589.87 214,590.09 215,590.45 216,591 217,591.68 218,592.49 219,593.4 220,594.56 221,595.95 222,597.4 223,598.73 224,599.78 225,600.57 226,601.13 227,601.52 228,601.76 229,601.73 230,601.19 231,600.39 232,599.58 233,599.01 234,598.94 235,599.51 236,600.39 237,601.42 238,602.44 239,603.3 240,604.01 241,604.65 242,605.21 243,605.64 244,605.75 245,605.29 246,604.1 247,602.38 248,600.54 249,598.69 250,596.93 251,595.2 252,593.5 253,591.9 254,590.51 255,589.43 256,588.59 257,587.92 258,587.33 259,586.76 260,586.26 261,585.8 262,585.34 263,584.85 264,584.31 265,583.66 266,582.86 267,581.97 268,581.06 269,580.19 270,579.43 271,578.84 272,578.32 273,577.85 274,577.4 275,577 276,576.62 277,576.27 278,575.93 279,575.61 280,575.3 281,575 282,574.71 283,574.43 284,574.17 285,573.95 286,573.78 287,573.66 288,573.59 289,573.65 290,573.86 291,574.17 292,574.57 293,575.06 294,575.69 295,576.38 296,577.01 297,577.5 298,577.86 299,578.18 300,578.47 301,578.74 302,578.99 303,579.15 304,579.25 305,579.39 306,579.63 307,580.06 308,580.67 309,581.4 310,582.19 311,582.98 312,583.89 313,584.94 314,585.96 315,586.8 316,587.32 317,587.56 318,587.63 319,587.58 320,587.51 321,587.4 322,587.17 323,586.93 324,586.78 325,586.83 326,587.14 327,587.63 328,588.2 329,588.78 330,589.54 331,590.4 332,591.14 333,591.5 334,591.1 335,590.13 336,588.85 337,587.22 338,585.46 339,583.85 340,582.63 341,581.57 342,580.67 343,579.96 344,579.46 345,579.07 346,578.81 347,578.7 348,578.75 349,578.88 350,579.05 351,579.22 352,579.36 353,579.4 354,579.28 355,579.09 356,578.92 357,578.88 358,579.19 359,579.93 360,580.71 361,581.18 362,581.3 363,581.41 364,581.5 365,581.59 366,581.66 367,581.73 368,581.79 369,581.83 370,581.87 371,581.91 372,581.95 373,582.01 374,582.08 375,582.25 376,582.61 377,583.12 378,583.72 379,584.37 380,585.17 381,586.18 382,587.26 383,588.31 384,589.21 385,589.85 386,590.26 387,590.59 388,590.86 389,591.09 390,591.3 391,591.49 392,591.58 393,591.64 394,591.74 395,591.97 396,592.42 397,593.12 398,593.98 399,594.93 400,595.89 401,596.99 402,598.17 403,599.3 404,600.26 405,601.01 406,601.53 407,601.78 408,601.74 409,601.41 410,600.92 411,600.4 412,599.98 413,599.79 414,599.77 415,599.79 416,599.84 417,599.89 418,599.92 419,599.9 420,599.84 421,599.74 422,599.57 423,599.32 424,598.94 425,598.37 426,597.38 427,596.09 428,594.71 429,593.42 430,592.42 431,591.58 432,590.8 433,590.08 434,589.48 435,589.01 436,588.72 437,588.6 438,588.56 439,588.5 440,588.3 441,587.99 442,587.62 443,587.19 444,586.66 445,586.02 446,585.16 447,584.18 448,583.19 449,582.32 450,581.62 451,580.97 452,580.41 453,579.96 454,579.68 455,579.5 456,579.35 457,579.24 458,579.14 459,579.07 460,579.01 461,578.91 462,578.77 463,578.65 464,578.58 465,578.64 466,578.88 467,579.31 468,579.78 469,580.27 470,580.77 471,581.25 472,581.72 473,582.19 474,582.65 475,583.11 476,583.57 477,583.93 478,584.02 479,583.91 480,583.69 481,583.44 482,583.25 483,583.21 484,583.4 485,583.75 486,584.13 487,584.52 488,584.92 489,585.33 490,585.76 491,586.23 492,586.73 493,587.21 494,587.66 495,588.03 496,588.22 497,588.2 498,588.02 499,587.74 500,587.4 501,587.07 502,586.79 503,586.62 504,586.62 505,586.76 506,587 507,587.29 508,587.58 509,587.81 510,587.94 511,587.91 512,587.67 513,587.25 514,586.73 515,586.14 516,585.51 517,584.87 518,584.16 519,583.42 520,582.73 521,582.15 522,581.72 523,581.38 524,581.12 525,580.9 526,580.7 527,580.51 528,580.36 529,580.25 530,580.15 531,580.02 532,579.86 533,579.62 534,579.25 535,578.77 536,578.22 537,577.64 538,577.07 539,576.55 540,576.13 541,575.82 542,575.55 543,575.29 544,575.07 545,574.87 546,574.69 547,574.54 548,574.42 549,574.32 550,574.25 551,574.21 552,574.19 553,574.22 554,574.27 555,574.38 556,574.55 557,574.76 558,575.02 559,575.3 560,575.59 561,575.99 562,576.48 563,577 564,577.51 565,577.97 566,578.33 567,578.48 568,578.43 569,578.26 570,578.02 571,577.8 572,577.65 573,577.66 574,577.89 575,578.27 576,578.76 577,579.32 578,579.92 579,580.59 580,581.43 581,582.38 582,583.34 583,584.22 584,584.93 585,585.38 586,585.46 587,585.26 588,584.87 589,584.4 590,583.95 591,583.61 592,583.49 593,583.66 594,584.08 595,584.65 596,585.3 597,585.93 598,586.47 599,586.84 600,586.93 601,586.69 602,586.2 603,585.54 604,584.78 605,583.96 606,583.05 607,582.08 608,581.12 609,580.2 610,579.4 611,578.75 612,578.26 613,577.91 614,577.66 615,577.51 615.1,577.5 615.4,694.5 617.7,614.9 619.2,607.2 620,612.5 620.5,613.3 621.5,611.11 622.5,608.7 623.5,606.14 624.5,603.11 625.5,599.88 626.5,596.88 627.5,594.52 628.5,592.9 629.5,591.92 630.5,591.45 631.5,591.33 632.5,591.31 633.5,591.46 634.5,591.88 635.5,592.52 636.5,593.19 637.5,593.86 638.5,594.54 639.5,595.21 640.5,595.84 641.5,596.35 642.5,596.79 643.5,597.24 644.5,597.8 645.5,598.57 646.5,599.65 647.5,601.17 648.5,603.04 649.5,605.09 650.5,607.13 651.5,609.04 652.5,610.97 653.5,612.91 654.5,614.84 655.5,616.7 656.5,618.1 657.5,618.84 658.5,619.15 659.5,619.3 660.5,619.54 661.5,620.12 662.5,621.07 663.5,622.13 664.5,623.46 665.5,625.21 666.5,627.57 667.5,630.56 668.5,633.98 669.5,637.57 670.5,641.06 671.5,644.34 672.5,647.71 673.5,650.68 674.5,652.59 675.5,652.51 676.5,650.76 677.5,649.08 678.5,648.31 679.5,647.59 680.5,647.06 681.5,646.89 682.5,647.22 683.5,647.97 684.5,648.97 685.5,650.1 686.5,651.55 687.5,653.29 688.5,654.8 689.5,655.7 690.5,655.17 691.5,652.5 692.5,649.02 693.5,645.33 694.5,641.84 695.5,638.69 696.5,635.59 697.5,632.61 698.5,629.86 699.5,627.56 700.5,625.86 701.5,624.65 702.5,623.83 703.5,623.41 704.5,623.25 705.5,623.16 706.5,622.91 707.5,622.33 708.5,621.59 709.5,620.69 710.5,619.61 711.5,618.29 712.5,616.58 713.5,614.37 714.5,611.95 715.5,609.64 716.5,607.73 717.5,606.12 718.5,604.72 719.5,603.7 720.5,603.2 721.5,602.92 722.5,602.72 723.5,602.6 724.5,602.53 725.5,602.5 726.5,602.51 727.5,602.54 728.5,602.61 729.5,602.7 730.5,602.82 731.5,602.95 732.5,603.13 733.5,603.47 734.5,604.08 735.5,605.08 736.5,606.58 737.5,608.81 738.5,611.57 739.5,614.4 740.5,616.85 741.5,619.07 742.5,621.17 743.5,623.06 744.5,624.61 745.5,625.54 746.5,625.94 747.5,626.09 748.5,626.24 749.5,626.63 750.5,627.52 751.5,628.69 752.5,630.05 753.5,631.71 754.5,633.78 755.5,636.37 756.5,639.43 757.5,642.67 758.5,645.75 759.5,648.48 760.5,651.01 761.5,653.39 762.5,655.59 763.5,657.15 764.5,657.3 765.5,656.37 766.5,655.07 767.5,653.79 768.5,652.84 769.5,651.79 770.5,651.11 771.5,651.39 772.5,652.04 773.5,652.72 774.5,653.4 775.5,654.06 776.5,654.72 777.5,655.36 778.5,655.93 779.5,655.64 780.5,654.27 781.5,651.92 782.5,649.18 783.5,646.34 784.5,643.53 785.5,640.83 786.5,638.15 787.5,635.53 788.5,633.06 789.5,630.91 790.5,629.61 791.5,628.86 792.5,628.29 793.5,627.94 794.5,627.74 795.5,627.49 796.5,627.03 797.5,626.29 798.5,625.36 799.5,624.26 800.5,622.97 801.5,621.48 802.5,619.58 803.5,617.43 804.5,615.35 805.5,613.62 806.5,612.14 807.5,610.95 808.5,610.18 809.5,609.65 810.5,609.23 811.5,608.93 812.5,608.74 813.5,608.66 814.5,608.59 815.5,608.54 816.5,608.49 817.5,608.45 818.5,608.42 819.5,608.4 820.5,608.4 821.5,608.42 822.5,608.46 823.5,608.52 824.5,608.61 825.5,608.73 826.5,609.06 827.5,609.64 828.5,610.43 829.5,611.42 830.5,612.69 831.5,614.12 832.5,615.57 833.5,616.86 834.5,617.93 835.5,618.87 836.5,619.73 837.5,620.49 838.5,621.16 839.5,621.5 840.5,621.48 841.5,621.33 842.5,621.25 843.5,621.47 844.5,622.19 845.5,623.34 846.5,624.56 847.5,625.82 848.5,627.1 849.5,628.39 850.5,629.71 851.5,631.05 852.5,632.39 853.5,633.69 854.5,634.84 855.5,635.49 856.5,635.76 857.5,635.79 858.5,635.55 859.5,635.12 860.5,634.6 861.5,634.08 862.5,633.65 863.5,633.42 864.5,633.46 865.5,633.71 866.5,634.11 867.5,634.59 868.5,635.07 869.5,635.47 870.5,635.75 871.5,635.82 872.5,635.66 873.5,635.22 874.5,634.41 875.5,633.09 876.5,631.21 877.5,629.11 878.5,627.12 879.5,625.57 880.5,624.32 881.5,623.16 882.5,622.11 883.5,621.21 884.5,620.48 885.5,619.98 886.5,619.72 887.5,619.61 888.5,619.53 889.5,619.39 890.5,619.06 891.5,618.48 892.5,617.76 893.5,616.93 894.5,616.01 895.5,615 896.5,613.81 897.5,612.36 898.5,610.81 899.5,609.33 900.5,608.09 901.5,607.2 902.5,606.55 903.5,606.12 904.5,605.92 905.5,605.9 906.5,605.9 907.5,605.9 908.5,605.9 909.5,605.9 910.5,605.9 911.5,605.9 912.5,605.9 913.5,605.9 914,605.9" fill="none" stroke="#f00" stroke-width="2.1" stroke-linejoin="round" stroke-linecap="round"/></g>
<rect x="200" y="477.9" width="714" height="344.1" fill="none" stroke="#000" stroke-width="2"/>
<line x1="248.6" y1="822" x2="248.6" y2="817.1" stroke="#000" stroke-width="1.1" />
<line x1="337.85" y1="822" x2="337.85" y2="817.1" stroke="#000" stroke-width="1.1" />
<line x1="427.1" y1="822" x2="427.1" y2="817.1" stroke="#000" stroke-width="1.1" />
<line x1="516.35" y1="822" x2="516.35" y2="817.1" stroke="#000" stroke-width="1.1" />
<line x1="605.6" y1="822" x2="605.6" y2="817.1" stroke="#000" stroke-width="1.1" />
<line x1="694.85" y1="822" x2="694.85" y2="817.1" stroke="#000" stroke-width="1.1" />
<line x1="784.1" y1="822" x2="784.1" y2="817.1" stroke="#000" stroke-width="1.1" />
<line x1="873.35" y1="822" x2="873.35" y2="817.1" stroke="#000" stroke-width="1.1" />
<line x1="200" y1="822" x2="205.5" y2="822" stroke="#000" stroke-width="1.1" />
<line x1="914" y1="822" x2="908.5" y2="822" stroke="#000" stroke-width="1.1" />
<text x="194.7" y="830.4" font-size="19.3" text-anchor="end" fill="#000" >10<tspan font-size="13.51" dy="-7.14" dx="0.6">−3</tspan><tspan dy="7.14" font-size="19.3">&#8203;</tspan></text>
<line x1="200" y1="804.74" x2="203.8" y2="804.74" stroke="#000" stroke-width="0.99" />
<line x1="914" y1="804.74" x2="910.2" y2="804.74" stroke="#000" stroke-width="0.99" />
<line x1="200" y1="794.64" x2="203.8" y2="794.64" stroke="#000" stroke-width="0.99" />
<line x1="914" y1="794.64" x2="910.2" y2="794.64" stroke="#000" stroke-width="0.99" />
<line x1="200" y1="787.47" x2="203.8" y2="787.47" stroke="#000" stroke-width="0.99" />
<line x1="914" y1="787.47" x2="910.2" y2="787.47" stroke="#000" stroke-width="0.99" />
<line x1="200" y1="781.91" x2="203.8" y2="781.91" stroke="#000" stroke-width="0.99" />
<line x1="914" y1="781.91" x2="910.2" y2="781.91" stroke="#000" stroke-width="0.99" />
<line x1="200" y1="777.37" x2="203.8" y2="777.37" stroke="#000" stroke-width="0.99" />
<line x1="914" y1="777.37" x2="910.2" y2="777.37" stroke="#000" stroke-width="0.99" />
<line x1="200" y1="773.53" x2="203.8" y2="773.53" stroke="#000" stroke-width="0.99" />
<line x1="914" y1="773.53" x2="910.2" y2="773.53" stroke="#000" stroke-width="0.99" />
<line x1="200" y1="770.21" x2="203.8" y2="770.21" stroke="#000" stroke-width="0.99" />
<line x1="914" y1="770.21" x2="910.2" y2="770.21" stroke="#000" stroke-width="0.99" />
<line x1="200" y1="767.27" x2="203.8" y2="767.27" stroke="#000" stroke-width="0.99" />
<line x1="914" y1="767.27" x2="910.2" y2="767.27" stroke="#000" stroke-width="0.99" />
<line x1="200" y1="764.65" x2="205.5" y2="764.65" stroke="#000" stroke-width="1.1" />
<line x1="914" y1="764.65" x2="908.5" y2="764.65" stroke="#000" stroke-width="1.1" />
<text x="194.7" y="773.05" font-size="19.3" text-anchor="end" fill="#000" >10<tspan font-size="13.51" dy="-7.14" dx="0.6">−2</tspan><tspan dy="7.14" font-size="19.3">&#8203;</tspan></text>
<line x1="200" y1="747.39" x2="203.8" y2="747.39" stroke="#000" stroke-width="0.99" />
<line x1="914" y1="747.39" x2="910.2" y2="747.39" stroke="#000" stroke-width="0.99" />
<line x1="200" y1="737.29" x2="203.8" y2="737.29" stroke="#000" stroke-width="0.99" />
<line x1="914" y1="737.29" x2="910.2" y2="737.29" stroke="#000" stroke-width="0.99" />
<line x1="200" y1="730.12" x2="203.8" y2="730.12" stroke="#000" stroke-width="0.99" />
<line x1="914" y1="730.12" x2="910.2" y2="730.12" stroke="#000" stroke-width="0.99" />
<line x1="200" y1="724.56" x2="203.8" y2="724.56" stroke="#000" stroke-width="0.99" />
<line x1="914" y1="724.56" x2="910.2" y2="724.56" stroke="#000" stroke-width="0.99" />
<line x1="200" y1="720.02" x2="203.8" y2="720.02" stroke="#000" stroke-width="0.99" />
<line x1="914" y1="720.02" x2="910.2" y2="720.02" stroke="#000" stroke-width="0.99" />
<line x1="200" y1="716.18" x2="203.8" y2="716.18" stroke="#000" stroke-width="0.99" />
<line x1="914" y1="716.18" x2="910.2" y2="716.18" stroke="#000" stroke-width="0.99" />
<line x1="200" y1="712.86" x2="203.8" y2="712.86" stroke="#000" stroke-width="0.99" />
<line x1="914" y1="712.86" x2="910.2" y2="712.86" stroke="#000" stroke-width="0.99" />
<line x1="200" y1="709.92" x2="203.8" y2="709.92" stroke="#000" stroke-width="0.99" />
<line x1="914" y1="709.92" x2="910.2" y2="709.92" stroke="#000" stroke-width="0.99" />
<line x1="200" y1="707.3" x2="205.5" y2="707.3" stroke="#000" stroke-width="1.1" />
<line x1="914" y1="707.3" x2="908.5" y2="707.3" stroke="#000" stroke-width="1.1" />
<text x="194.7" y="715.7" font-size="19.3" text-anchor="end" fill="#000" >10<tspan font-size="13.51" dy="-7.14" dx="0.6">−1</tspan><tspan dy="7.14" font-size="19.3">&#8203;</tspan></text>
<line x1="200" y1="690.04" x2="203.8" y2="690.04" stroke="#000" stroke-width="0.99" />
<line x1="914" y1="690.04" x2="910.2" y2="690.04" stroke="#000" stroke-width="0.99" />
<line x1="200" y1="679.94" x2="203.8" y2="679.94" stroke="#000" stroke-width="0.99" />
<line x1="914" y1="679.94" x2="910.2" y2="679.94" stroke="#000" stroke-width="0.99" />
<line x1="200" y1="672.77" x2="203.8" y2="672.77" stroke="#000" stroke-width="0.99" />
<line x1="914" y1="672.77" x2="910.2" y2="672.77" stroke="#000" stroke-width="0.99" />
<line x1="200" y1="667.21" x2="203.8" y2="667.21" stroke="#000" stroke-width="0.99" />
<line x1="914" y1="667.21" x2="910.2" y2="667.21" stroke="#000" stroke-width="0.99" />
<line x1="200" y1="662.67" x2="203.8" y2="662.67" stroke="#000" stroke-width="0.99" />
<line x1="914" y1="662.67" x2="910.2" y2="662.67" stroke="#000" stroke-width="0.99" />
<line x1="200" y1="658.83" x2="203.8" y2="658.83" stroke="#000" stroke-width="0.99" />
<line x1="914" y1="658.83" x2="910.2" y2="658.83" stroke="#000" stroke-width="0.99" />
<line x1="200" y1="655.51" x2="203.8" y2="655.51" stroke="#000" stroke-width="0.99" />
<line x1="914" y1="655.51" x2="910.2" y2="655.51" stroke="#000" stroke-width="0.99" />
<line x1="200" y1="652.57" x2="203.8" y2="652.57" stroke="#000" stroke-width="0.99" />
<line x1="914" y1="652.57" x2="910.2" y2="652.57" stroke="#000" stroke-width="0.99" />
<line x1="200" y1="649.95" x2="205.5" y2="649.95" stroke="#000" stroke-width="1.1" />
<line x1="914" y1="649.95" x2="908.5" y2="649.95" stroke="#000" stroke-width="1.1" />
<text x="194.7" y="658.35" font-size="19.3" text-anchor="end" fill="#000" >10<tspan font-size="13.51" dy="-7.14" dx="0.6">0</tspan><tspan dy="7.14" font-size="19.3">&#8203;</tspan></text>
<line x1="200" y1="632.69" x2="203.8" y2="632.69" stroke="#000" stroke-width="0.99" />
<line x1="914" y1="632.69" x2="910.2" y2="632.69" stroke="#000" stroke-width="0.99" />
<line x1="200" y1="622.59" x2="203.8" y2="622.59" stroke="#000" stroke-width="0.99" />
<line x1="914" y1="622.59" x2="910.2" y2="622.59" stroke="#000" stroke-width="0.99" />
<line x1="200" y1="615.42" x2="203.8" y2="615.42" stroke="#000" stroke-width="0.99" />
<line x1="914" y1="615.42" x2="910.2" y2="615.42" stroke="#000" stroke-width="0.99" />
<line x1="200" y1="609.86" x2="203.8" y2="609.86" stroke="#000" stroke-width="0.99" />
<line x1="914" y1="609.86" x2="910.2" y2="609.86" stroke="#000" stroke-width="0.99" />
<line x1="200" y1="605.32" x2="203.8" y2="605.32" stroke="#000" stroke-width="0.99" />
<line x1="914" y1="605.32" x2="910.2" y2="605.32" stroke="#000" stroke-width="0.99" />
<line x1="200" y1="601.48" x2="203.8" y2="601.48" stroke="#000" stroke-width="0.99" />
<line x1="914" y1="601.48" x2="910.2" y2="601.48" stroke="#000" stroke-width="0.99" />
<line x1="200" y1="598.16" x2="203.8" y2="598.16" stroke="#000" stroke-width="0.99" />
<line x1="914" y1="598.16" x2="910.2" y2="598.16" stroke="#000" stroke-width="0.99" />
<line x1="200" y1="595.22" x2="203.8" y2="595.22" stroke="#000" stroke-width="0.99" />
<line x1="914" y1="595.22" x2="910.2" y2="595.22" stroke="#000" stroke-width="0.99" />
<line x1="200" y1="592.6" x2="205.5" y2="592.6" stroke="#000" stroke-width="1.1" />
<line x1="914" y1="592.6" x2="908.5" y2="592.6" stroke="#000" stroke-width="1.1" />
<text x="194.7" y="601" font-size="19.3" text-anchor="end" fill="#000" >10<tspan font-size="13.51" dy="-7.14" dx="0.6">1</tspan><tspan dy="7.14" font-size="19.3">&#8203;</tspan></text>
<line x1="200" y1="575.34" x2="203.8" y2="575.34" stroke="#000" stroke-width="0.99" />
<line x1="914" y1="575.34" x2="910.2" y2="575.34" stroke="#000" stroke-width="0.99" />
<line x1="200" y1="565.24" x2="203.8" y2="565.24" stroke="#000" stroke-width="0.99" />
<line x1="914" y1="565.24" x2="910.2" y2="565.24" stroke="#000" stroke-width="0.99" />
<line x1="200" y1="558.07" x2="203.8" y2="558.07" stroke="#000" stroke-width="0.99" />
<line x1="914" y1="558.07" x2="910.2" y2="558.07" stroke="#000" stroke-width="0.99" />
<line x1="200" y1="552.51" x2="203.8" y2="552.51" stroke="#000" stroke-width="0.99" />
<line x1="914" y1="552.51" x2="910.2" y2="552.51" stroke="#000" stroke-width="0.99" />
<line x1="200" y1="547.97" x2="203.8" y2="547.97" stroke="#000" stroke-width="0.99" />
<line x1="914" y1="547.97" x2="910.2" y2="547.97" stroke="#000" stroke-width="0.99" />
<line x1="200" y1="544.13" x2="203.8" y2="544.13" stroke="#000" stroke-width="0.99" />
<line x1="914" y1="544.13" x2="910.2" y2="544.13" stroke="#000" stroke-width="0.99" />
<line x1="200" y1="540.81" x2="203.8" y2="540.81" stroke="#000" stroke-width="0.99" />
<line x1="914" y1="540.81" x2="910.2" y2="540.81" stroke="#000" stroke-width="0.99" />
<line x1="200" y1="537.87" x2="203.8" y2="537.87" stroke="#000" stroke-width="0.99" />
<line x1="914" y1="537.87" x2="910.2" y2="537.87" stroke="#000" stroke-width="0.99" />
<line x1="200" y1="535.25" x2="205.5" y2="535.25" stroke="#000" stroke-width="1.1" />
<line x1="914" y1="535.25" x2="908.5" y2="535.25" stroke="#000" stroke-width="1.1" />
<text x="194.7" y="543.65" font-size="19.3" text-anchor="end" fill="#000" >10<tspan font-size="13.51" dy="-7.14" dx="0.6">2</tspan><tspan dy="7.14" font-size="19.3">&#8203;</tspan></text>
<line x1="200" y1="517.99" x2="203.8" y2="517.99" stroke="#000" stroke-width="0.99" />
<line x1="914" y1="517.99" x2="910.2" y2="517.99" stroke="#000" stroke-width="0.99" />
<line x1="200" y1="507.89" x2="203.8" y2="507.89" stroke="#000" stroke-width="0.99" />
<line x1="914" y1="507.89" x2="910.2" y2="507.89" stroke="#000" stroke-width="0.99" />
<line x1="200" y1="500.72" x2="203.8" y2="500.72" stroke="#000" stroke-width="0.99" />
<line x1="914" y1="500.72" x2="910.2" y2="500.72" stroke="#000" stroke-width="0.99" />
<line x1="200" y1="495.16" x2="203.8" y2="495.16" stroke="#000" stroke-width="0.99" />
<line x1="914" y1="495.16" x2="910.2" y2="495.16" stroke="#000" stroke-width="0.99" />
<line x1="200" y1="490.62" x2="203.8" y2="490.62" stroke="#000" stroke-width="0.99" />
<line x1="914" y1="490.62" x2="910.2" y2="490.62" stroke="#000" stroke-width="0.99" />
<line x1="200" y1="486.78" x2="203.8" y2="486.78" stroke="#000" stroke-width="0.99" />
<line x1="914" y1="486.78" x2="910.2" y2="486.78" stroke="#000" stroke-width="0.99" />
<line x1="200" y1="483.46" x2="203.8" y2="483.46" stroke="#000" stroke-width="0.99" />
<line x1="914" y1="483.46" x2="910.2" y2="483.46" stroke="#000" stroke-width="0.99" />
<line x1="200" y1="480.52" x2="203.8" y2="480.52" stroke="#000" stroke-width="0.99" />
<line x1="914" y1="480.52" x2="910.2" y2="480.52" stroke="#000" stroke-width="0.99" />
<line x1="200" y1="477.9" x2="205.5" y2="477.9" stroke="#000" stroke-width="1.1" />
<line x1="914" y1="477.9" x2="908.5" y2="477.9" stroke="#000" stroke-width="1.1" />
<text x="194.7" y="486.3" font-size="19.3" text-anchor="end" fill="#000" >10<tspan font-size="13.51" dy="-7.14" dx="0.6">3</tspan><tspan dy="7.14" font-size="19.3">&#8203;</tspan></text>
<text x="236.5" y="511.5" font-size="24" text-anchor="start" fill="#000" >Geostationary orbit:</text>
<text x="499.5" y="511.5" font-size="24" text-anchor="start" fill="#f00" >Model</text>
<text x="101" y="650" font-size="24" text-anchor="middle" fill="#000" transform="rotate(-90 101 650)" >2.0 MeV Electron Flux</text>
<text x="134.5" y="649.5" font-size="24" text-anchor="middle" fill="#000" transform="rotate(-90 134.5 649.5)" >( cm<tspan font-size="16.8" dy="-8.64" dx="1.5">−2</tspan><tspan dy="8.64" font-size="24">&#8203;</tspan><tspan dx="4">s</tspan><tspan font-size="16.8" dy="-8.64" dx="1.5">−1</tspan><tspan dy="8.64" font-size="24">&#8203;</tspan><tspan dx="4">sr</tspan><tspan font-size="16.8" dy="-8.64" dx="1.5">−1</tspan><tspan dy="8.64" font-size="24">&#8203;</tspan><tspan dx="4">KeV</tspan><tspan font-size="16.8" dy="-8.64" dx="1.5">−1</tspan><tspan dy="8.64" font-size="24">&#8203;</tspan> )</text>
<g clip-path="url(#c3)" shape-rendering="crispEdges"><rect x="198.51" y="959.5" width="8.92" height="57.3" fill="#bfbf00" /><rect x="209.67" y="972.3" width="8.92" height="44.5" fill="#008000" /><rect x="220.83" y="959.5" width="8.92" height="57.3" fill="#bfbf00" /><rect x="231.98" y="953.2" width="8.92" height="63.6" fill="#bfbf00" /><rect x="243.14" y="965.8" width="8.92" height="51" fill="#008000" /><rect x="254.3" y="953.2" width="8.92" height="63.6" fill="#bfbf00" /><rect x="265.45" y="972.3" width="8.92" height="44.5" fill="#008000" /><rect x="276.61" y="959.5" width="8.92" height="57.3" fill="#bfbf00" /><rect x="287.77" y="959.5" width="8.92" height="57.3" fill="#bfbf00" /><rect x="298.92" y="1004" width="8.92" height="12.8" fill="#008000" /><rect x="310.08" y="984.9" width="8.92" height="31.9" fill="#008000" /><rect x="321.23" y="978.6" width="8.92" height="38.2" fill="#008000" /><rect x="332.39" y="953.2" width="8.92" height="63.6" fill="#bfbf00" /><rect x="343.55" y="965.8" width="8.92" height="51" fill="#008000" /><rect x="354.7" y="927.6" width="8.92" height="89.2" fill="#bfbf00" /><rect x="365.86" y="972.3" width="8.92" height="44.5" fill="#008000" /><rect x="377.02" y="959.5" width="8.92" height="57.3" fill="#bfbf00" /><rect x="388.17" y="965.8" width="8.92" height="51" fill="#008000" /><rect x="399.33" y="984.9" width="8.92" height="31.9" fill="#008000" /><rect x="410.48" y="991.4" width="8.92" height="25.4" fill="#008000" /><rect x="421.64" y="978.6" width="8.92" height="38.2" fill="#008000" /><rect x="432.8" y="978.6" width="8.92" height="38.2" fill="#008000" /><rect x="443.95" y="984.9" width="8.92" height="31.9" fill="#008000" /><rect x="455.11" y="991.4" width="8.92" height="25.4" fill="#008000" /><rect x="466.27" y="991.4" width="8.92" height="25.4" fill="#008000" /><rect x="477.42" y="984.9" width="8.92" height="31.9" fill="#008000" /><rect x="488.58" y="997.7" width="8.92" height="19.1" fill="#008000" /><rect x="499.73" y="997.7" width="8.92" height="19.1" fill="#008000" /><rect x="510.89" y="1010.5" width="8.92" height="6.3" fill="#008000" /><rect x="522.05" y="997.7" width="8.92" height="19.1" fill="#008000" /><rect x="533.2" y="991.4" width="8.92" height="25.4" fill="#008000" /><rect x="544.36" y="991.4" width="8.92" height="25.4" fill="#008000" /><rect x="555.51" y="997.7" width="8.92" height="19.1" fill="#008000" /><rect x="566.67" y="972.3" width="8.92" height="44.5" fill="#008000" /><rect x="577.83" y="991.4" width="8.92" height="25.4" fill="#008000" /><rect x="588.98" y="1010.5" width="8.92" height="6.3" fill="#008000" /><rect x="600.14" y="991.4" width="8.92" height="25.4" fill="#008000" /><rect x="611.3" y="940.4" width="8.92" height="76.4" fill="#bfbf00" /><rect x="622.45" y="946.7" width="8.92" height="70.1" fill="#bfbf00" /><rect x="633.61" y="946.7" width="8.92" height="70.1" fill="#bfbf00" /><rect x="644.76" y="984.9" width="8.92" height="31.9" fill="#008000" /><rect x="655.92" y="991.4" width="8.92" height="25.4" fill="#008000" /><rect x="667.08" y="997.7" width="8.92" height="19.1" fill="#008000" /><rect x="678.23" y="984.9" width="8.92" height="31.9" fill="#008000" /><rect x="689.39" y="997.7" width="8.92" height="19.1" fill="#008000" /><rect x="700.55" y="991.4" width="8.92" height="25.4" fill="#008000" /><rect x="711.7" y="991.4" width="8.92" height="25.4" fill="#008000" /><rect x="722.86" y="984.9" width="8.92" height="31.9" fill="#008000" /><rect x="734.01" y="959.5" width="8.92" height="57.3" fill="#bfbf00" /><rect x="745.17" y="984.9" width="8.92" height="31.9" fill="#008000" /><rect x="756.33" y="984.9" width="8.92" height="31.9" fill="#008000" /><rect x="767.48" y="984.9" width="8.92" height="31.9" fill="#008000" /><rect x="778.64" y="978.6" width="8.92" height="38.2" fill="#008000" /><rect x="789.8" y="972.3" width="8.92" height="44.5" fill="#008000" /><rect x="800.95" y="972.3" width="8.92" height="44.5" fill="#008000" /><rect x="812.11" y="978.6" width="8.92" height="38.2" fill="#008000" /><rect x="823.26" y="978.6" width="8.92" height="38.2" fill="#008000" /><rect x="834.42" y="978.6" width="8.92" height="38.2" fill="#008000" /><rect x="845.58" y="978.6" width="8.92" height="38.2" fill="#008000" /><rect x="856.73" y="978.6" width="8.92" height="38.2" fill="#008000" /><rect x="867.89" y="978.6" width="8.92" height="38.2" fill="#008000" /><rect x="879.05" y="978.6" width="8.92" height="38.2" fill="#008000" /><rect x="890.2" y="978.6" width="8.92" height="38.2" fill="#008000" /><rect x="901.36" y="978.6" width="8.92" height="38.2" fill="#008000" /></g>
<g clip-path="url(#c3)"><text x="874.8" y="999.8" font-size="30.6" text-anchor="start" fill="#808080" transform="rotate(-90 874.8 999.8)" fill-opacity="0.25">Forecast</text></g>
<line x1="825" y1="1016.8" x2="825" y2="844.9" stroke="#1f77b4" stroke-width="2.08" stroke-dasharray="2.08 3.43"/>
<rect x="200" y="844.9" width="714" height="171.9" fill="none" stroke="#000" stroke-width="2"/>
<line x1="248.6" y1="1016.8" x2="248.6" y2="1011.9" stroke="#000" stroke-width="1.1" />
<text x="247.3" y="1036.2" font-size="19.3" text-anchor="middle" fill="#000" >09</text>
<line x1="337.85" y1="1016.8" x2="337.85" y2="1011.9" stroke="#000" stroke-width="1.1" />
<text x="336.55" y="1036.2" font-size="19.3" text-anchor="middle" fill="#000" >10</text>
<line x1="427.1" y1="1016.8" x2="427.1" y2="1011.9" stroke="#000" stroke-width="1.1" />
<text x="425.8" y="1036.2" font-size="19.3" text-anchor="middle" fill="#000" >11</text>
<line x1="516.35" y1="1016.8" x2="516.35" y2="1011.9" stroke="#000" stroke-width="1.1" />
<text x="515.05" y="1036.2" font-size="19.3" text-anchor="middle" fill="#000" >12</text>
<line x1="605.6" y1="1016.8" x2="605.6" y2="1011.9" stroke="#000" stroke-width="1.1" />
<text x="604.3" y="1036.2" font-size="19.3" text-anchor="middle" fill="#000" >13</text>
<line x1="694.85" y1="1016.8" x2="694.85" y2="1011.9" stroke="#000" stroke-width="1.1" />
<text x="693.55" y="1036.2" font-size="19.3" text-anchor="middle" fill="#000" >14</text>
<line x1="784.1" y1="1016.8" x2="784.1" y2="1011.9" stroke="#000" stroke-width="1.1" />
<text x="782.8" y="1036.2" font-size="19.3" text-anchor="middle" fill="#000" >15</text>
<line x1="873.35" y1="1016.8" x2="873.35" y2="1011.9" stroke="#000" stroke-width="1.1" />
<text x="872.05" y="1036.2" font-size="19.3" text-anchor="middle" fill="#000" >16</text>
<line x1="200" y1="1017.5" x2="205.5" y2="1017.5" stroke="#000" stroke-width="1.1" />
<text x="195.6" y="1025.4" font-size="19.3" text-anchor="end" fill="#000" >0</text>
<line x1="914" y1="1017.5" x2="908.5" y2="1017.5" stroke="#000" stroke-width="1.1" />
<line x1="200" y1="978.5" x2="205.5" y2="978.5" stroke="#000" stroke-width="1.1" />
<text x="195.6" y="986.4" font-size="19.3" text-anchor="end" fill="#000" >2</text>
<line x1="914" y1="978.5" x2="908.5" y2="978.5" stroke="#000" stroke-width="1.1" />
<line x1="200" y1="940.5" x2="205.5" y2="940.5" stroke="#000" stroke-width="1.1" />
<text x="195.6" y="948.4" font-size="19.3" text-anchor="end" fill="#000" >4</text>
<line x1="914" y1="940.5" x2="908.5" y2="940.5" stroke="#000" stroke-width="1.1" />
<line x1="200" y1="902.5" x2="205.5" y2="902.5" stroke="#000" stroke-width="1.1" />
<text x="195.6" y="910.4" font-size="19.3" text-anchor="end" fill="#000" >6</text>
<line x1="914" y1="902.5" x2="908.5" y2="902.5" stroke="#000" stroke-width="1.1" />
<line x1="200" y1="864.5" x2="205.5" y2="864.5" stroke="#000" stroke-width="1.1" />
<text x="195.6" y="872.4" font-size="19.3" text-anchor="end" fill="#000" >8</text>
<line x1="914" y1="864.5" x2="908.5" y2="864.5" stroke="#000" stroke-width="1.1" />
<text x="557" y="1065.5" font-size="24" text-anchor="middle" fill="#000" >October 2018 (UT)</text>
<text x="173" y="934.5" font-size="24" text-anchor="middle" fill="#000" transform="rotate(-90 173 934.5)" >Kp</text>
<rect x="207.4" y="852.4" width="88.2" height="66.6" rx="2.8" ry="2.8" fill="#fff" fill-opacity="0.8" stroke="#ccc" stroke-opacity="0.8" stroke-width="1.4"/>
<rect x="212.9" y="859.2" width="28" height="10.6" fill="#008000" />
<text x="252.6" y="869.5" font-size="13.7" text-anchor="start" fill="#000" >Kp&lt;3</text>
<rect x="212.9" y="880" width="28" height="10.6" fill="#bfbf00" />
<text x="252.6" y="890.3" font-size="13.7" text-anchor="start" fill="#000" >Kp&lt;5</text>
<rect x="212.9" y="900.8" width="28" height="10.6" fill="#f00" />
<text x="252.6" y="911.1" font-size="13.7" text-anchor="start" fill="#000" >Kp&gt;5</text>
<line x1="1205" y1="282.35" x2="1800" y2="282.35" stroke="#000" stroke-width="2.08" stroke-dasharray="2.08 3.43"/>
<g clip-path="url(#r1)"><polyline points="1205.5,281.44 1205.81,245.03 1206.12,266.57 1206.43,260.41 1206.74,262.62 1207.05,254.71 1207.36,271.12 1207.67,303.79 1207.98,241.91 1208.29,263.26 1208.6,279.82 1208.91,257.52 1209.22,279.05 1209.53,247.65 1209.84,274.58 1210.15,250.65 1210.46,287.37 1210.77,273.33 1211.08,269.01 1211.39,253.73 1211.7,246.16 1212.01,306 1212.32,280.96 1212.63,264.87 1212.94,283.91 1213.25,246.86 1213.56,270.96 1213.87,274.67 1214.18,247.12 1214.49,253.36 1214.8,285.72 1215.11,247.39 1215.42,270.48 1215.73,247.57 1216.04,266.82 1216.46,251.18 1216.88,247.89 1217.3,261.61 1217.72,258.22 1218.14,256.29 1218.56,248.37 1218.98,305.37 1219.4,268.96 1219.82,260.18 1220.24,250.98 1220.66,265.15 1221.08,252.66 1221.5,283.32 1221.92,294.66 1222.34,307.15 1222.65,265.83 1222.96,271.31 1223.27,284.47 1223.58,298.89 1223.89,321.65 1224.2,310.83 1224.51,300.83 1224.82,270.91 1225.13,309.48 1225.44,313.62 1225.75,323.7 1226.06,298.83 1226.37,319.35 1226.68,311.44 1226.99,271.36 1227.3,263.16 1227.61,272.49 1227.92,288.16 1228.23,277.87 1228.54,303.1 1228.85,304.91 1229.16,324.61 1229.47,301.12 1229.78,297.61 1230.09,299.03 1230.4,266.82 1230.71,293.27 1231.02,277.12 1231.33,325.19 1231.64,272.74 1231.95,322.77 1232.26,314.25 1232.57,295.57 1232.88,313.41 1233.19,315.51 1233.5,325.77 1233.81,324.47 1234.12,288.97 1234.43,305.81 1234.74,260.5 1235.05,289.89 1235.36,302.82 1235.67,260.96 1235.98,296.81 1236.29,290.38 1236.6,319.33 1236.91,288.51 1237.22,277.39 1237.53,288.13 1237.84,311.37 1238.15,308.57 1238.46,306.43 1238.77,286.51 1239.08,309.32 1239.39,295.42 1239.7,305.61 1240.01,326 1240.32,327.43 1240.63,302.87 1240.94,327.29 1241.25,327.22 1241.56,317.36 1241.87,327.08 1242.18,314.95 1242.49,326.6 1242.8,307.22 1243.11,326.81 1243.42,271.3 1243.73,315.06 1244.04,317.88 1244.35,316.14 1244.66,288.26 1244.97,293.85 1245.28,326.33 1245.59,294.57 1245.9,313.78 1246.21,317.66 1246.52,322.32 1246.83,277.95 1247.14,290.1 1247.45,297.58 1247.76,287.4 1248.07,314.6 1248.38,299.88 1248.69,304.57 1249,290.26 1249.31,313.52 1249.62,287.83 1249.93,286.16 1250.24,262.78 1250.55,265.47 1250.86,308.61 1251.17,289.3 1251.48,263.05 1251.79,281.8 1252.1,281.28 1252.41,278.01 1252.72,297.08 1253.03,284.24 1253.34,279.28 1253.65,285.49 1253.96,263.6 1254.27,294.16 1254.58,264.69 1254.89,265.06 1255.2,291.8 1255.51,285.08 1255.82,269.49 1256.13,283.58 1256.44,286.33 1256.75,264.22 1257.06,292.35 1257.37,270.95 1257.68,264.43 1257.99,265.73 1258.3,287.89 1258.61,264.8 1258.92,313.22 1259.23,265.11 1259.54,276.18 1259.85,265.42 1260.16,269.8 1260.47,273.7 1260.78,284.28 1261.09,280.26 1261.4,282.31 1261.71,312.37 1262.02,296.49 1262.44,269.84 1262.86,287.82 1263.28,266.5 1263.7,279.65 1264.12,296.51 1264.54,282.24 1264.96,289.64 1265.38,272.66 1265.8,291.95 1266.22,278.37 1266.64,275.62 1267.06,287.83 1267.48,298.94 1267.9,292.45 1268.32,267.28 1268.74,295.15 1269.16,286.08 1269.58,268.9 1270,266.5 1270.42,286.48 1270.84,286.51 1271.26,288.55 1271.68,271.85 1272.1,287.91 1272.52,292.51 1272.94,266.5 1273.36,278.79 1273.78,266.5 1274.2,266.5 1274.62,272.94 1275.04,287.18 1275.46,313.09 1275.88,265.91 1276.3,277.45 1276.72,273.32 1277.14,285.84 1277.56,279.03 1277.98,292.89 1278.4,305.41 1278.82,285.01 1279.24,279.1 1279.66,309.36 1280.08,297.96 1280.5,267.59 1280.92,308.24 1281.34,276.51 1281.76,288.48 1282.18,281.79 1282.6,280.41 1283.02,276.99 1283.44,284.31 1283.86,261.74 1284.28,260.31 1284.7,264.15 1285.12,293.29 1285.54,265.61 1285.96,297.24 1286.38,277.82 1286.8,299.8 1287.22,299.06 1287.64,285.26 1288.06,291.61 1288.48,277.8 1288.9,274.27 1289.32,257.06 1289.74,264.62 1290.16,266.45 1290.58,256.76 1291,273.36 1291.42,288.83 1291.84,278.24 1292.26,286.31 1292.68,271.98 1293.1,265.37 1293.52,274.44 1293.94,270.68 1294.36,274.61 1294.78,294.32 1295.2,290.23 1295.62,278.4 1296.04,281.75 1296.46,278.71 1296.88,286.57 1297.3,294.82 1297.72,269.89 1298.14,258.27 1298.56,284.14 1298.98,295.16 1299.4,278.67 1299.82,278.4 1300.24,267.64 1300.66,279.49 1301.08,275.72 1301.5,273.04 1301.92,283.29 1302.34,254.33 1302.76,262.87 1303.18,257.94 1303.6,292.4 1304.02,290.21 1304.44,296.98 1304.86,269.18 1305.28,296.02 1305.7,279.56 1306.12,244 1306.54,275.16 1306.96,259.62 1307.38,259.52 1307.8,251.7 1308.22,269.34 1308.64,267.34 1309.06,262.95 1309.48,284.16 1309.9,292.98 1310.32,277.99 1310.74,265.45 1311.16,263.11 1311.58,276.08 1312,302.66 1312.42,287.41 1312.84,287.81 1313.26,279.1 1313.68,305.64 1314.1,306 1314.52,283.18 1314.94,293.92 1315.36,275.39 1315.78,288.63 1316.2,300.04 1316.51,298.62 1316.82,303.44 1317.13,295.9 1317.44,284.13 1317.75,277.94 1318.06,280.34 1318.37,282.42 1318.68,290.06 1318.99,309.51 1319.3,313.83 1319.61,330.15 1319.92,319.07 1320.23,303.71 1320.54,313.46 1320.85,278.44 1321.16,326.11 1321.47,287.87 1321.78,304.28 1322.09,338.57 1322.4,289.28 1322.71,303.45 1323.02,310.2 1323.33,301.79 1323.64,307.81 1323.95,312.51 1324.26,332.73 1324.57,317.22 1324.88,340.54 1325.19,305.55 1325.5,316.88 1325.81,323.03 1326.12,341 1326.43,290.27 1326.74,311.06 1327.05,254.45 1327.36,247.94 1327.67,307.57 1327.98,236 1328.29,299.7 1328.6,272.12 1328.91,288.36 1329.22,276.24 1329.53,290.38 1329.84,277.46 1330.15,264.36 1330.46,285.72 1330.77,260.47 1331.08,286.64 1331.39,289.95 1331.7,278.45 1332.01,338 1332.32,302.81 1332.63,260.66 1332.94,287.41 1333.25,260.81 1333.56,291.59 1333.87,283.9 1334.18,261.04 1334.49,261.12 1334.8,276.78 1335.11,278.01 1335.42,261.35 1335.73,261.43 1336.04,281.74 1336.35,261.59 1336.66,261.97 1336.97,299.82 1337.28,285.68 1337.59,263.29 1337.9,294.2 1338.21,283.51 1338.52,309.47 1338.83,279.08 1339.14,284.94 1339.45,311.34 1339.76,297.69 1340.07,306.74 1340.38,272.74 1340.69,281.13 1341,268.22 1341.31,278.28 1341.62,264.16 1341.93,307.54 1342.24,263.93 1342.55,296.15 1342.86,263.64 1343.17,285.11 1343.48,292.27 1343.79,264.02 1344.1,298.83 1344.41,264.26 1344.72,266.41 1345.03,276.41 1345.34,264.64 1345.65,285.42 1345.96,277.92 1346.27,265.01 1346.69,265.18 1347.11,265.34 1347.53,274.16 1347.95,265.68 1348.37,274.75 1348.79,294.51 1349.21,275 1349.63,289.04 1350.05,266.52 1350.47,297.99 1350.89,300.13 1351.31,273.65 1351.73,267.19 1352.15,267.36 1352.57,298.22 1352.99,271.34 1353.41,293.03 1353.83,268.03 1354.25,270.39 1354.67,274.21 1355.09,284.67 1355.51,269.78 1355.93,268.29 1356.35,274.7 1356.77,273.88 1357.19,279.45 1357.61,267.92 1358.03,268.6 1358.45,275.26 1358.87,267.64 1359.29,290.01 1359.71,291.42 1360.13,288.11 1360.55,267.27 1360.97,267.17 1361.39,292.54 1361.81,269.51 1362.23,276.84 1362.65,290.21 1363.07,280.12 1363.49,284.31 1363.91,295.26 1364,266 1373,309 1373.15,303.32 1373.57,297.19 1373.99,294.01 1374.41,299.75 1374.83,303.05 1375.25,292.87 1375.67,296.38 1376.09,282.15 1376.51,279.78 1376.93,277.41 1377.35,275.04 1377.77,283.85 1378.19,280.46 1378.61,268.06 1379.03,281.01 1379.45,274.63 1379.87,275.36 1380.29,277.07 1380.71,272.19 1381.13,300.87 1381.55,258.64 1381.97,276.75 1382.39,286.34 1382.81,260.82 1383.23,265.16 1383.65,270.45 1384.07,255.62 1384.49,299.53 1384.91,272.11 1385.33,282.89 1385.75,280.24 1386.17,284.37 1386.59,282 1387.01,281.91 1387.43,290.47 1387.85,261.57 1388.27,262.15 1388.69,266.5 1389.11,262.72 1389.53,267.36 1389.95,267.58 1390.37,309.03 1390.79,277.13 1391.21,292.52 1391.63,275.11 1392.05,275.87 1392.47,281.53 1392.89,276.85 1393.31,279.83 1393.73,287.67 1394.15,291.44 1394.57,308.8 1394.99,308.68 1395.41,285.68 1395.83,298.59 1396.25,293.4 1396.67,270.96 1397.09,271.87 1397.51,271.59 1397.93,307.15 1398.35,293 1398.77,286.35 1399.19,294.17 1399.61,279.21 1400.03,282.33 1400.45,294.01 1400.87,289.63 1401.29,272.01 1401.71,271.78 1402.13,287.93 1402.55,271.32 1402.97,294.65 1403.39,280.94 1403.81,284.51 1404.23,283.22 1404.65,270.17 1405.07,269.96 1405.49,269.75 1405.91,280.09 1406.33,291.6 1406.75,273.77 1407.17,275.06 1407.59,268.7 1408.01,272.95 1408.43,275.08 1408.85,270.19 1409.27,270.22 1409.69,279.94 1410.11,260.06 1410.53,259.54 1410.95,256.7 1411.37,255.02 1411.79,253 1412.21,253.09 1412.63,258.13 1413.05,262.43 1413.47,284.73 1413.89,283.09 1414.31,281.12 1414.73,301.99 1415.15,275.09 1415.57,279.51 1415.99,288.32 1416.41,274.47 1416.83,267.34 1417.25,282.01 1417.67,281.29 1418.09,277.12 1418.51,266.77 1418.93,295.19 1419.35,295.15 1419.77,289.79 1420.19,292.51 1420.61,296.56 1421.03,282.29 1421.45,292.74 1421.87,276.04 1422.29,275.28 1422.71,285.71 1423.13,278.01 1423.55,282.96 1423.97,295.84 1424.39,291.14 1424.81,292.79 1425.23,294.97 1425.65,294.85 1426.07,284.75 1426.49,280.95 1426.91,294.49 1427.33,278.04 1427.75,275.77 1428.17,274.23 1428.59,294.01 1429.01,275.06 1429.43,281.89 1429.85,282.07 1430.27,291.93 1430.69,267.46 1431.11,278.31 1431.53,279.77 1431.95,288.82 1432.37,275.41 1432.79,285.1 1433.21,281.47 1433.63,292.31 1434.05,292.12 1434.47,286.48 1434.89,288.79 1435.31,272.33 1435.73,283.23 1436.15,278.77 1436.57,285.67 1436.99,289.93 1437,274 1448,271 1448.3,300 1448.33,278.72 1448.75,288.47 1449.17,291.67 1449.59,287.14 1450.01,275.97 1450.43,286.62 1450.85,280.61 1451.27,295.35 1451.69,302.13 1452.11,302.25 1452.53,302.3 1452.95,290.55 1453.37,290.08 1453.79,274.25 1454.21,281.84 1454.63,284.13 1455.05,276.08 1455.47,285.25 1455.89,273.81 1456.31,289.79 1456.73,286.54 1457.15,292.96 1457.57,282.97 1457.99,301.42 1458.41,270.56 1458.83,270.02 1459.25,269.48 1459.67,279.31 1460.09,268.39 1460.51,267.85 1460.93,267.31 1461.35,266.77 1461.77,266.23 1462.19,291.45 1462.61,265.14 1463.03,301.38 1463.45,288.32 1463.87,268.82 1464.29,288.2 1464.71,284.53 1465.13,266.49 1465.55,266.85 1465.97,286.34 1466.39,267.58 1466.81,277.8 1467.23,282.03 1467.65,268.68 1468.07,279.15 1468.49,276.09 1468.91,286.83 1469.33,276.25 1469.75,278.07 1470.17,288.05 1470.59,279.9 1471.01,301.91 1471.43,289.29 1471.85,296.21 1472.27,282.85 1472.69,292.93 1473.11,271.82 1473.53,272.01 1473.95,279.18 1474.37,271.66 1474.79,271.75 1475.21,276.27 1475.63,271.94 1476.05,292.05 1476.47,298.64 1476.89,294.16 1477.31,288.13 1477.73,303.61 1478.15,300.31 1478.57,283.81 1478.99,287.13 1479.41,276.01 1479.83,279.76 1480.25,276.5 1480.67,289.68 1481.09,294.62 1481.51,295.83 1481.93,288.05 1482.35,300.96 1482.77,290.61 1483.19,272.83 1483.61,272.82 1484.03,272.82 1484.45,288.61 1484.87,292.59 1485.29,272.8 1485.71,272.79 1486.13,301.02 1486.55,279.66 1486.97,291.99 1487.39,278.76 1487.81,272.76 1488.23,294.99 1488.65,289.15 1489.07,303.25 1489.49,286.52 1489.91,274.33 1490.33,284.36 1490.75,298.18 1491.17,285.08 1491.59,290.1 1492.01,302.91 1492.43,280.74 1492.85,290.22 1493.27,295.8 1493.69,305.29 1494.11,296.43 1494.53,285.89 1494.95,305.71 1495.37,290.2 1495.79,301.48 1496.21,295.16 1496.63,281.61 1497.05,290.72 1497.47,296.22 1497.89,274.44 1498.31,293.54 1498.73,292.44 1499.15,294.24 1499.57,299.06 1499.99,305.91 1500.41,293.21 1500.83,289.74 1501.25,276.45 1501.67,294.34 1502.09,288.22 1502.51,279.57 1502.93,289.03 1503.35,288.95 1503.77,306.57 1504.19,288.17 1504.61,318.26 1505.03,305.23 1505.45,299.72 1505.87,299.61 1506.29,293.89 1506.71,287.2 1507.13,296.31 1507.55,286.11 1507.97,293.3 1508.39,315.87 1508.81,317.28 1509.23,307.09 1509.65,307.64 1510.07,285.88 1510.49,268.05 1510.91,298.31 1511.33,296.29 1511.75,300.01 1512,262 1516,236 1524,224 1524.6,318 1524.77,275.69 1525.19,294.5 1525.61,243.19 1526.03,253.83 1526.45,224.63 1526.87,247.89 1527.29,225.54 1527.71,226 1528.13,237.13 1528.55,253.78 1528.97,239.11 1529.39,228.1 1529.81,276.13 1530.23,236.07 1530.65,261.46 1531.07,264.18 1531.49,264.7 1531.91,268.15 1532.33,277.56 1532.75,240.03 1533.17,234.89 1533.59,264.48 1534.01,214.06 1534.43,214 1534.85,243.51 1535.27,243.32 1535.69,209 1536.11,213.16 1536.53,214.17 1536.95,256.19 1537.37,263.06 1537.79,291.11 1538.21,286.99 1538.63,245.6 1539.05,261.96 1539.47,293.3 1539.89,297.37 1540.31,278.88 1540.73,287.56 1541.15,288.62 1541.57,245.73 1541.99,255.54 1542.41,289.88 1542.83,242.03 1543.25,297.19 1543.67,261.57 1544.09,254.53 1544.51,278.49 1544.93,257.31 1545.35,265.41 1545.77,234.04 1546.19,276.92 1546.61,267.55 1547.03,310.77 1547.45,301.67 1547.87,278.86 1548.29,271.4 1548.71,315.95 1549.13,305.86 1549.55,292.82 1549.97,337.23 1550.39,321.31 1550.81,313.36 1551.23,339.96 1551.65,356 1552.07,328.72 1552.49,372 1552.91,327.52 1553.33,326.37 1553.75,302.22 1554.17,364 1554.59,289.07 1555.01,302.85 1555.43,297.1 1555.85,309.58 1556.27,337.54 1556.69,279.82 1557.11,289.42 1557.53,346 1557.95,295.46 1558.37,305.25 1558.79,259.09 1559.21,271.2 1559.63,232.93 1560.05,268.22 1560.47,275.45 1560.89,227.46 1561.31,225.54 1561.73,275.22 1562.15,224 1562.57,315.9 1562.99,223.72 1563.41,248.19 1563.83,280.68 1564.25,310.78 1564.67,223.39 1565.09,335.91 1565.51,321.82 1565.93,294.14 1566.35,269 1566.77,302.98 1567.19,329.29 1567.61,283.14 1568.03,338 1568.45,299.6 1568.87,254.33 1569.29,265.11 1569.71,283.82 1570.13,295.02 1570.55,251.73 1570.97,255.35 1571.39,282.37 1571.81,279.9 1572.23,275.97 1572.65,243.37 1573.07,280.23 1573.49,317.6 1573.91,318.95 1574.33,318.39 1574.75,310.27 1575.17,297.65 1575.59,289.6 1576.01,316.15 1576.43,315.59 1576.85,282.1 1577.27,309.94 1577.69,313.91 1578.11,258.78 1578.53,273.3 1578.95,300.81 1579.37,298.15 1579.79,253.35 1580.21,285.68 1580.63,313.5 1581.05,304.33 1581.47,279.7 1581.89,293.98 1582.31,313.5 1582.73,313.5 1583.15,287.89 1583.57,313.5 1583.99,313.5 1584.41,288.42 1584.83,297.48 1585.25,238.08 1585.67,266.41 1586.09,293.1 1586.51,310.15 1586.93,287.18 1587.35,286.95 1587.77,304.75 1588.19,306.82 1588.61,278.42 1589.03,306.79 1589.45,295.3 1589.87,305.67 1590.29,293.29 1590.71,270.4 1591.13,286.36 1591.55,297.89 1591.97,307.08 1592.39,307.41 1592.81,305.89 1593.23,286.01 1593.65,308.42 1594.07,308.76 1594.49,305.05 1594.91,270.5 1595.33,294.63 1595.75,290.24 1596.17,275.39 1596.59,255.93 1597.01,287.06 1597.43,294.53 1597.85,309.6 1598.27,291.13 1598.69,311.15 1599.11,312.79 1599.53,301.31 1599.95,289.24 1600.37,313.87 1600.79,302.51 1601.21,281.44 1601.63,311.46 1602.05,282.44 1602.47,297.11 1602.89,311.47 1603.31,292.18 1603.73,266.72 1604.15,299.11 1604.57,301.07 1604.99,262.46 1605.41,277.89 1605.83,308.44 1606.25,294.69 1606.67,320.17 1607.09,304.55 1607.51,291.65 1607.93,293.04 1608.35,299.58 1608.77,304.55 1609.19,250.53 1609.61,251.36 1610.03,295.75 1610.45,313.33 1610.87,289.57 1611.29,305.23 1611.71,286.96 1612.13,274.28 1612.55,300.97 1612.97,304.93 1613.39,299.29 1613.81,286.27 1614.23,299.07 1614.65,291.87 1615.07,276.39 1615.49,280.8 1615.91,267.59 1616.33,273.21 1616.75,265.07 1617.17,292.34 1617.59,267.19 1618.01,232.49 1618.43,232.28 1618.85,259.97 1619.27,240.68 1619.69,272.63 1620.11,231.44 1620.53,256.95 1620.95,294.55 1621.37,253.47 1621.79,270.41 1622.21,276.36 1622.63,252.48 1623.05,276.66 1623.47,238.76 1623.89,252.92 1624.31,293.96 1624.73,255.84 1625.15,249.76 1625.57,231.93 1625.99,274.14 1626.41,251.21 1626.83,258.65 1627.25,267.12 1627.67,253.11 1628.09,245.2 1628.51,266.82 1628.93,254.45 1629.35,274.36 1629.77,241.48 1630.19,236.37 1630.61,242.59 1631.03,240.37 1631.45,234.28 1631.87,234.45 1632.29,237.33 1632.71,268.16 1633.13,261.76 1633.55,265.09 1633.97,288.32 1634.39,256.26 1634.81,295.78 1635.23,272.73 1635.65,261.48 1636.07,272.64 1636.49,241.12 1636.91,296.73 1637.33,268.61 1637.75,241.66 1638.17,256.95 1638.59,266.62 1639.01,271.16 1639.43,282.82 1639.85,288.08 1640.27,290.87 1640.58,282.47 1640.89,253.69 1641.2,278.87 1641.51,289.41 1641.82,233.41 1642.13,245.24 1642.44,271.23 1642.75,279.37 1643.06,310.96 1643.37,289.42 1643.68,286.13 1643.99,250.11 1644.3,237.54 1644.61,253.7 1644.92,269.71 1645.23,285.14 1645.54,241.26 1645.85,243.82 1646.16,265.3 1646.47,292.72 1646.78,250.68 1647.09,266.56 1647.4,269.05 1647.71,263.54 1648.02,306.96 1648.33,242.32 1648.64,260.81 1648.95,241.89 1649.26,306.04 1649.57,296.76 1649.88,294.85 1650.19,284.88 1650.5,281.2 1650.81,253.51 1651.12,291.77 1651.43,324.13 1651.74,254.32 1652.05,328 1652.36,290.94 1652.67,315.96 1652.98,284.94 1653.29,319.1 1653.6,327.9 1653.91,321.11 1654.22,327.28 1654.53,304.75 1654.84,322.32 1655.15,287.84 1655.46,284.02 1655.77,294.35 1656.08,307.72 1656.39,322.95 1656.7,291.11 1657.01,255.81 1657.32,275.92 1657.63,247.32 1657.94,296.31 1658.25,279.62 1658.56,267.77 1658.87,286.47 1659.18,316.34 1659.49,316.37 1659.8,292.29 1660.11,307.99 1660.42,312.91 1660.73,286.46 1661.04,311.18 1661.35,319.34 1661.66,274.82 1661.97,301.84 1662.28,268.96 1662.59,270.23 1662.9,280.5 1663.21,260.35 1663.52,251.32 1663.83,251.56 1664.14,272.35 1664.45,278.1 1664.76,252.31 1665,290 1669,262 1669.34,262.89 1669.76,279.15 1670.18,276.77 1670.6,286.78 1671.02,307.95 1671.44,288.95 1671.86,291.35 1672.28,308.23 1672.7,280.51 1673.12,308.42 1673.54,282.77 1673.96,258.82 1674.38,269.15 1674.8,283.76 1675.22,261.09 1675.64,268.31 1676.06,261.31 1676.48,275.68 1676.9,276.56 1677.32,289.64 1677.74,295.78 1678.16,271.97 1678.58,286.12 1679,289.23 1679.42,267.8 1679.84,255.74 1680.26,309.5 1680.68,283.73 1681.1,283.54 1681.52,267.95 1681.94,307.8 1682.36,278.95 1682.78,254.73 1683.2,295.61 1683.62,262.91 1684.04,295.74 1684.46,290.18 1684.88,305.48 1685.3,291.92 1685.72,274 1686.14,306.46 1686.56,309.78 1686.98,285.07 1687.4,310.2 1687.82,310.41 1688.24,307.65 1688.66,280.3 1689.08,268.53 1689.5,311.25 1689.92,301.04 1690.34,295.31 1690.76,311.88 1691.18,312.09 1691.6,305.32 1692.02,275.79 1692.44,292.25 1692.86,312.93 1693.28,254.5 1693.7,275.21 1694.12,282.66 1694.43,314.36 1694.74,300.93 1695.05,296.64 1695.36,295.38 1695.67,295.31 1695.98,316.8 1696.29,318.08 1696.6,304.96 1696.91,319.32 1697.22,288.61 1697.53,320.56 1697.84,312.98 1698.15,298.89 1698.46,281.85 1698.77,274.87 1699.08,270.79 1699.39,256.3 1699.7,256.4 1700.01,324 1700.32,290.35 1700.63,291.51 1700.94,294.8 1701.25,260.19 1701.56,293.81 1701.87,268.54 1702.18,269.04 1702.49,304.1 1702.8,322.05 1703.11,320.78 1703.42,305.1 1703.73,301.34 1704.04,302.69 1704.35,324.05 1704.66,323.95 1704.97,321.1 1705.28,290.31 1705.59,302.37 1705.9,301.89 1706.21,312.64 1706.52,311.77 1706.83,308.8 1707.14,301.14 1707.45,287.31 1707.76,260.5 1708.07,299.41 1708.38,293.18 1708.69,267.11 1709,299.05 1709.31,284.84 1709.62,281.31 1709.93,305.89 1710.24,262.93 1710.55,310.65 1710.86,272.31 1711.17,263.65 1711.48,283.7 1711.79,315.78 1712.1,292.53 1712.41,302.79 1712.72,260.02 1713.03,298.54 1713.34,265.67 1713.65,292.07 1713.96,308.59 1714.27,261.43 1714.58,276.14 1714.89,282.71 1715.2,281.36 1715.51,283.27 1715.82,297.87 1716.13,285 1716.44,287.2 1716.75,267.41 1717.06,257.13 1717.37,270.77 1717.68,262.52 1717.99,279.21 1718.3,307.08 1718.61,307.3 1718.92,271.54 1719.23,287.26 1719.65,277.44 1720.07,273.51 1720.49,255.88 1720.91,269.65 1721.33,285.92 1721.75,292.55 1722.17,263.14 1722.59,257.11 1723.01,302.63 1723.43,296.8 1723.85,273.26 1724.27,284.22 1724.69,281.53 1725.11,276.6 1725.53,273.52 1725.95,267.09" fill="none" stroke="#000" stroke-width="2.08" stroke-linejoin="round"/></g>
<g clip-path="url(#r1)"><polyline points="1205.5,274.29 1206,263.01 1206.5,271.46 1207,263.07 1207.5,270.48 1208,262.51 1208.5,270.01 1209,257.61 1209.5,267.78 1210,260 1210.5,266.86 1211,258.48 1211.5,266.81 1212,256.16 1212.5,266.37 1213,254.06 1213.5,261.55 1214,253.05 1214.5,261.16 1215,251.86 1215.5,259.03 1216,252.19 1216.5,262.56 1217,250.62 1217.5,258.83 1218,249.37 1218.5,256.02 1219,248.72 1219.5,261.5 1220,246.17 1220.5,253.66 1221,243.86 1221.5,252.81 1222,245.2 1222.5,248.64 1223,239 1223.5,249.81 1224,243.8 1224.5,250.8 1225,246.19 1225.5,249.51 1226,246.6 1226.5,252.38 1227,248.12 1227.5,257.86 1228,250.31 1228.5,255.68 1229,248.81 1229.5,261.1 1230,248.87 1230.5,257.33 1231,245.53 1231.5,259.88 1232,247.14 1232.5,260.06 1233,245.35 1233.5,253.67 1234,247.21 1234.5,253.28 1235,245.23 1235.5,252.64 1236,240.63 1236.5,250.78 1237,235 1237.5,254.54 1238,242.63 1238.5,251.48 1239,244.81 1239.5,252.81 1240,242.83 1240.5,250.79 1241,241.73 1241.5,245.28 1242,238.25 1242.5,243.51 1243,238.98 1243.5,245.39 1244,240.48 1244.5,247.08 1245,238 1245.5,248.45 1246,239.29 1246.5,249.16 1247,243.35 1247.5,251.12 1248,242.28 1248.5,252.98 1249,246.66 1249.5,255.64 1250,246.58 1250.5,257.82 1251,246.24 1251.5,252.77 1252,248.44 1252.5,253.83 1253,246.41 1253.5,253.74 1254,251.05 1254.5,257.53 1255,249.47 1255.5,261.2 1256,251.39 1256.5,261.08 1257,251.56 1257.5,262.43 1258,253.52 1258.5,260.34 1259,253.47 1259.5,260.06 1260,253.31 1260.5,261.27 1261,252.42 1261.5,262.28 1262,245.89 1262.5,259.36 1263,255.34 1263.5,259.97 1264,252.34 1264.5,260.83 1265,252.57 1265.5,242 1266,253.25 1266.5,263.81 1267,249.09 1267.5,259.68 1268,254.29 1268.5,264.37 1269,256.28 1269.5,262.97 1270,255.46 1270.5,269.21 1271,257.4 1271.5,264.97 1272,256.43 1272.5,265.38 1273,262.34 1273.5,270.06 1274,262 1274.5,270.08 1275,257.45 1275.5,262.81 1276,257.02 1276.5,263.15 1277,257.34 1277.5,263.32 1278,252 1278.5,264.95 1279,254.18 1279.5,262.44 1280,258.43 1280.5,263.08 1281,257.79 1281.5,268.88 1282,259.05 1282.5,263.86 1283,259.73 1283.5,265.67 1284,262.74 1284.5,271.77 1285,268.21 1285.5,284.99 1286,275.87 1286.5,281.05 1287,273.18 1287.5,281.19 1288,273.38 1288.5,279.3 1289,273.66 1289.5,283.48 1290,271.8 1290.5,280.92 1291,273.34 1291.5,276.29 1292,270.3 1292.5,278.94 1293,273.17 1293.5,284.13 1294,277.23 1294.5,283.89 1295,278.81 1295.5,284.15 1296,281.3 1296.5,289.81 1297,282.93 1297.5,286.69 1298,281.16 1298.5,285.97 1299,279.27 1299.5,285.93 1300,279.86 1300.5,284.68 1301,279.82 1301.5,286.09 1302,280.25 1302.5,285.24 1303,281.87 1303.5,286.32 1304,282.81 1304.5,289.89 1305,282.65 1305.5,289.32 1306,284.36 1306.5,288.85 1307,284.82 1307.5,291.9 1308,286.3 1308.5,295.25 1309,285.39 1309.5,291.15 1310,286.62 1310.5,291.55 1311,285.91 1311.5,287.77 1312,282.18 1312.5,290.07 1313,284.37 1313.5,292 1314,284.09 1314.5,288.72 1315,283.97 1315.5,289.81 1316,278.26 1316.5,289.7 1317,284.99 1317.5,291.01 1318,288.34 1318.5,293.7 1319,287.65 1319.5,290.55 1320,286.26 1320.5,292.49 1321,287.97 1321.5,297.47 1322,289.95 1322.5,294.82 1323,288.64 1323.5,293.92 1324,291.17 1324.5,297.08 1325,288.7 1325.5,295.41 1326,291.12 1326.5,297.35 1327,289.51 1327.5,294.33 1328,287.96 1328.5,292.52 1329,287.07 1329.5,294.82 1330,285.09 1330.5,292.95 1331,284.26 1331.5,290.87 1332,284.19 1332.5,290.02 1333,284.46 1333.5,290.14 1334,279.75 1334.5,286.8 1335,281.22 1335.5,285.55 1336,280 1336.5,287.35 1337,278.42 1337.5,285.46 1338,278.47 1338.5,286.06 1339,277.35 1339.5,282.43 1340,275.68 1340.5,282.49 1341,276.74 1341.5,282.74 1342,274.4 1342.5,281.39 1343,275.1 1343.5,281.83 1344,275.69 1344.5,281.65 1345,276.64 1345.5,280.31 1346,272.77 1346.5,281.95 1347,274.25 1347.5,278.7 1348,272.3 1348.5,281.17 1349,271.61 1349.5,278.26 1350,271.62 1350.5,279.41 1351,269.31 1351.5,277.38 1352,272.36 1352.5,279.2 1353,272.43 1353.5,276.42 1354,272.63 1354.5,276.25 1355,269.75 1355.5,274.65 1356,271.86 1356.5,278.74 1357,272.9 1357.5,280.61 1358,274.85 1358.5,282.45 1359,278.93 1359.5,282.35 1360,278.88 1360.5,286.63 1361,282.28 1361.5,291.92 1362,278.78 1362.5,290.79 1363,283.93 1363.5,289.52 1364,284.56 1364.5,291.28 1365,285.75 1365.5,290.82 1366,286.53 1366.5,291.66 1367,284.3 1367.5,292.78 1368,285.34 1368.5,291.02 1369,286.7 1369.5,291.17 1370,285.5 1370.5,289.01 1371,284.86 1371.5,289.41 1372,283.72 1372.5,289.93 1373,283.82 1373.5,287.5 1374,282.92 1374.5,291.97 1375,282.6 1375.5,291.7 1376,284.3 1376.5,289.19 1377,284.33 1377.5,290.77 1378,280.37 1378.5,287.07 1379,283.82 1379.5,287.64 1380,281.41 1380.5,286.18 1381,279.91 1381.5,285.93 1382,277.98 1382.5,285.85 1383,280.53 1383.5,285.05 1384,276.11 1384.5,284.91 1385,279.06 1385.5,285.52 1386,279.9 1386.5,283.4 1387,277.13 1387.5,284.67 1388,280.05 1388.5,285.44 1389,278.58 1389.5,285.02 1390,281.81 1390.5,286.65 1391,278.23 1391.5,286.46 1392,280.48 1392.5,288.35 1393,281 1393.5,291.29 1394,283.92 1394.5,288.99 1395,285 1395.5,290.58 1396,284.05 1396.5,289.56 1397,282.12 1397.5,290.93 1398,284.29 1398.5,290.64 1399,286.17 1399.5,292.28 1400,287.82 1400.5,290.72 1401,286.96 1401.5,294.03 1402,287.67 1402.5,291.49 1403,286.21 1403.5,290.63 1404,281.87 1404.5,290.4 1405,286.71 1405.5,291.02 1406,283.02 1406.5,289.27 1407,284.42 1407.5,291.27 1408,285.27 1408.5,291.03 1409,284.71 1409.5,291.57 1410,286.69 1410.5,291.53 1411,286.6 1411.5,291.15 1412,285.93 1412.5,291.29 1413,286.02 1413.5,291.03 1414,286.69 1414.5,291.78 1415,283.46 1415.5,291.31 1416,285.54 1416.5,290.43 1417,284.52 1417.5,289.79 1418,284.01 1418.5,293.46 1419,285.72 1419.5,291.55 1420,288.52 1420.5,295.15 1421,288.92 1421.5,294.65 1422,289.11 1422.5,294.76 1423,290.95 1423.5,296.73 1424,293.79 1424.5,300.68 1425,293.35 1425.5,297.65 1426,293.73 1426.5,300.15 1427,294.65 1427.5,300.04 1428,293.54 1428.5,300.18 1429,294.85 1429.5,301.21 1430,296.31 1430.5,300.92 1431,296.73 1431.5,301.83 1432,297.79 1432.5,302.04 1433,291.57 1433.5,300.71 1434,293.98 1434.5,299.21 1435,293.05 1435.5,295.39 1436,289 1449,311 1449.5,311.72 1450,306.13 1450.5,308.64 1451,302.58 1451.5,307.64 1452,301.47 1452.5,304.31 1453,299.84 1453.5,303.83 1454,302.37 1454.5,306.03 1455,304.44 1455.5,307.67 1456,305.48 1456.5,309.23 1457,307.86 1457.5,311.1 1458,306.46 1458.5,312.62 1459,308.96 1459.5,313.46 1460,308.9 1460.5,315.21 1461,308.12 1461.5,313.38 1462,310.69 1462.5,313.2 1463,308.9 1463.5,315.37 1464,310.6 1464.5,313.71 1465,311.49 1465.5,317.07 1466,310.95 1466.5,315.35 1467,311.47 1467.5,315.05 1468,311.43 1468.5,314.71 1469,312 1469.5,315.53 1470,312.77 1470.5,315.67 1471,312.72 1471.5,315.91 1472,312.81 1472.5,316.24 1473,313.23 1473.5,316.81 1474,310.79 1474.5,316.47 1475,310.61 1475.5,316.34 1476,312.02 1476.5,318.51 1477,314.48 1477.5,317.85 1478,314.88 1478.5,319.27 1479,316.01 1479.5,319.24 1480,315.34 1480.5,319 1481,315.85 1481.5,319.13 1482,315.61 1482.5,317.59 1483,313.02 1483.5,316.72 1484,311.53 1484.5,315.33 1485,311.18 1485.5,313.1 1486,310.65 1486.5,316.25 1487,315.2 1487.5,320.35 1488,318.45 1488.5,323.47 1489,320.13 1489.5,324.84 1490,322.32 1490.5,327.07 1491,323.89 1491.5,330.02 1492,325.21 1492.5,328.36 1493,322.65 1493.5,329.76 1494,324.99 1494.5,329.45 1495,325.63 1495.5,330.46 1496,327.55 1496.5,332.15 1497,329.18 1497.5,333.11 1498,329.71 1498.5,334.99 1499,331.37 1499.5,336.23 1500,333.14 1500.5,336.13 1501,332.86 1501.5,337.59 1502,333.78 1502.5,337.72 1503,333.98 1503.5,337.57 1504,334.33 1504.5,336.41 1505,334.36 1505.5,336.86 1506,332.76 1506.5,336.47 1507,332.29 1507.5,338.3 1508,334.03 1508.5,336.78 1509,333.04 1509.5,339.37 1510,332.66 1510.5,337.6 1511,332 1511.5,335.13 1512,330.38 1512.5,333.69 1513,331.21 1513.5,335.49 1514,329.81 1514.5,334.37 1515,329.54 1515.5,333.59 1516,328.58 1516.5,332.77 1517,329.8 1517.5,333.5 1518,329.29 1518.5,331.1 1519,328.46 1519.5,331.61 1520,325.86 1520.5,329.52 1521,325.03 1521.5,329.26 1522,324.09 1522.5,328.47 1523,324.11 1523.5,327.61 1524,323.17 1524.5,325.36 1525,321.21 1525.5,325.27 1526,321.27 1526.5,325.29 1527,319.27 1527.5,323.37 1528,320.68 1528.5,324.63 1529,320.62 1529.5,327.69 1530,325.72 1530.5,328.69 1531,325.99 1531.5,329.73 1532,324.66 1532.5,327.52 1533,322.26 1533.5,326.59 1534,319.31 1534.5,324.74 1535,318.29 1535.5,323.31 1536,319.4 1536.5,323.38 1537,320.73 1537.5,325.25 1538,318.39 1538.5,326.8 1539,322.75 1539.5,326.97 1540,323.63 1540.5,333.25 1541,328.99 1541.5,336.67 1542,335.46 1542.5,339.69 1543,337.2 1543.5,340.77 1544,336.8 1544.5,344.43 1545,337.94 1545.5,343.23 1546,336.24 1546.5,337.78 1547,332.46 1547.5,334.32 1548,327.62 1548.5,329.15 1549,318.09 1549.5,324.39 1550,312.89 1550.5,313.6 1551,303.09 1551.5,309.81 1552,303.65 1552.5,311.61 1553,307.47 1553.5,315.24 1554,309.63 1554.5,319.21 1555,309.85 1555.5,317.69 1556,313.76 1556.5,320.84 1557,311.52 1557.5,316.55 1558,310.16 1558.5,315.12 1559,309.37 1559.5,317.04 1560,305.69 1560.5,310.56 1561,304.94 1561.5,315.62 1562,302.69 1562.5,308.66 1563,299.21 1563.5,308.65 1564,293.78 1564.5,304.09 1565,293.95 1565.5,297.25 1566,289.07 1566.5,296.71 1567,289.6 1567.5,294.64 1568,282.54 1568.5,291.91 1569,282.2 1569.5,287.82 1570,277 1570.5,293.5 1571,289.22 1571.5,296.98 1572,293.05 1572.5,304.81 1573,296.23 1573.5,304.47 1574,296.35 1574.5,303.43 1575,293.89 1575.5,303.34 1576,291.24 1576.5,296.89 1577,285.2 1577.5,300.43 1578,288.65 1578.5,296.04 1579,286.5 1579.5,292.89 1580,281.33 1580.5,292.08 1581,280.45 1581.5,290.75 1582,280.48 1582.5,288.34 1583,281.54 1583.5,286.99 1584,275.76 1584.5,292.47 1585,275.51 1585.5,285.36 1586,275.08 1586.5,283.41 1587,276.78 1587.5,285.04 1588,275.63 1588.5,281.03 1589,274.52 1589.5,279.7 1590,270.66 1590.5,279.35 1591,269.95 1591.5,278.55 1592,270.11 1592.5,281.06 1593,274.69 1593.5,283.98 1594,278.14 1594.5,283.6 1595,280.25 1595.5,287.72 1596,278.68 1596.5,291.08 1597,280.28 1597.5,296.38 1598,281.4 1598.5,292.28 1599,285.32 1599.5,290.92 1600,283.44 1600.5,294.72 1601,286.08 1601.5,295.13 1602,290.74 1602.5,297.21 1603,289.53 1603.5,300.7 1604,291.79 1604.5,299.33 1605,290.78 1605.5,294.92 1606,285.61 1606.5,293.77 1607,279.41 1607.5,283.5 1608,275.27 1608.5,284.17 1609,270 1609.5,283.72 1610,272.53 1610.5,277.23 1611,270.39 1611.5,279.69 1612,265.34 1612.5,270.22 1613,260.21 1613.5,268.1 1614,261.64 1614.5,268.15 1615,258.93 1615.5,271.1 1616,259.02 1616.5,270.45 1617,257.32 1617.5,265.84 1618,258.69 1618.5,265.62 1619,261.18 1619.5,269.36 1620,259.14 1620.5,268.88 1621,260.04 1621.5,263.78 1622,258.09 1622.5,266.71 1623,256.99 1623.5,266.87 1624,253.82 1624.5,261.06 1625,250.28 1625.5,262.68 1626,247.58 1626.5,258.85 1627,248.72 1627.5,255.96 1628,244.92 1628.5,258.9 1629,250.93 1629.5,263.57 1630,252.7 1630.5,261.81 1631,256.62 1631.5,265.86 1632,257.06 1632.5,265.24 1633,256.19 1633.5,261.04 1634,254.73 1634.5,261.07 1635,255.03 1635.5,260.15 1636,250.81 1636.5,257.64 1637,247.2 1637.5,256.53 1638,251.03 1638.5,256.61 1639,248.12 1639.5,255.73 1640,248.36 1640.5,259.48 1641,249.78 1641.5,255.15 1642,248.89 1642.5,255 1643,247.45 1643.5,259.05 1644,249.85 1644.5,258.03 1645,250.56 1645.5,260.11 1646,249.87 1646.5,256.86 1647,239 1647.5,256.77 1648,249 1648.5,256.51 1649,250.39 1649.5,257.88 1650,251.39 1650.5,256.36 1651,251.14 1651.5,258.93 1652,253.44 1652.5,264.13 1653,252.45 1653.5,261.39 1654,255.37 1654.5,262.91 1655,254.26 1655.5,266.54 1656,253.93 1656.5,266.79 1657,255.96 1657.5,265.04 1658,255.23 1658.5,262.45 1659,256.22 1659.5,262.26 1660,256.55 1660.5,263.66 1661,255.2 1661.5,266.32 1662,258.88 1662.5,264.05 1663,258.04 1663.5,264.18 1664,254.76 1664.5,267.46 1665,256.18 1665.5,266.1 1666,259.42 1666.5,267.23 1667,257.87 1667.5,268.45 1668,260.96 1668.5,270.85 1669,260.93 1669.5,270.02 1670,261.64 1670.5,269.35 1671,260.33 1671.5,274.5 1672,263.99 1672.5,271.04 1673,262.91 1673.5,269.83 1674,262.69 1674.5,275.08 1675,260.38 1675.5,269.42 1676,262.83 1676.5,272.85 1677,259.88 1677.5,267.25 1678,261.79 1678.5,272.04 1679,262.32 1679.5,267.91 1680,260.29 1680.5,269.27 1681,262.67 1681.5,266.66 1682,262.31 1682.5,268.81 1683,261.76 1683.5,267.5 1684,258.45 1684.5,263.14 1685,256.14 1685.5,260.99 1686,252.31 1686.5,262.66 1687,250.73 1687.5,256.9 1688,245.09 1688.5,251.08 1689,241.95 1689.5,250.58 1690,240.55 1690.5,244.92 1691,236.5 1691.5,248.55 1692,240.67 1692.5,247.5 1693,240.15 1693.5,250.69 1694,242.74 1694.5,253.23 1695,244.66 1695.5,250.98 1696,244.9 1696.5,251.16 1697,242.86 1697.5,249.7 1698,241.86 1698.5,252.3 1699,243.58 1699.5,250.04 1700,244.67 1700.5,249.88 1701,243.12 1701.5,250.89 1702,245.07 1702.5,255.57 1703,246.36 1703.5,255.78 1704,244.93 1704.5,256.02 1705,245.77 1705.5,254.81 1706,245.65 1706.5,254.66 1707,250.23 1707.5,255.85 1708,251.43 1708.5,258.34 1709,251.59 1709.5,257.91 1710,249.79 1710.5,258.91 1711,253.16 1711.5,261.72 1712,253.04 1712.5,261 1713,250.46 1713.5,259.11 1714,252.48 1714.5,259.95 1715,253.2 1715.5,260.05 1716,252.34 1716.5,261.28 1717,254.54 1717.5,264.14 1718,253.94 1718.5,266.1 1719,255.88 1719.5,266.27 1720,255.19 1720.5,266.9 1721,257.89 1721.5,267.5 1722,251.9 1722.5,259.02 1723,252.28 1723.5,259.97 1724,250.44 1724.5,260.02 1725,249.03 1725.5,257.67" fill="none" stroke="#f00" stroke-width="2.08" stroke-linejoin="round"/></g>
<line x1="1726" y1="454.8" x2="1726" y2="109.9" stroke="#1f77b4" stroke-width="2.08" stroke-dasharray="2.08 3.43"/>
<line x1="1800" y1="108.9" x2="1800" y2="455.8" stroke="#f00" stroke-width="2" />
<path d="M1800 109.9H1205V454.8H1800" fill="none" stroke="#000" stroke-width="2" stroke-linecap="square"/>
<line x1="1244.9" y1="454.8" x2="1244.9" y2="449.9" stroke="#000" stroke-width="1.1" />
<line x1="1319.3" y1="454.8" x2="1319.3" y2="449.9" stroke="#000" stroke-width="1.1" />
<line x1="1393.7" y1="454.8" x2="1393.7" y2="449.9" stroke="#000" stroke-width="1.1" />
<line x1="1468.1" y1="454.8" x2="1468.1" y2="449.9" stroke="#000" stroke-width="1.1" />
<line x1="1542.5" y1="454.8" x2="1542.5" y2="449.9" stroke="#000" stroke-width="1.1" />
<line x1="1616.9" y1="454.8" x2="1616.9" y2="449.9" stroke="#000" stroke-width="1.1" />
<line x1="1691.3" y1="454.8" x2="1691.3" y2="449.9" stroke="#000" stroke-width="1.1" />
<line x1="1765.7" y1="454.8" x2="1765.7" y2="449.9" stroke="#000" stroke-width="1.1" />
<line x1="1205" y1="455.5" x2="1210.5" y2="455.5" stroke="#000" stroke-width="1.1" />
<text x="1199.3" y="463.4" font-size="19.3" text-anchor="end" fill="#000" >−20</text>
<line x1="1205" y1="411.5" x2="1210.5" y2="411.5" stroke="#000" stroke-width="1.1" />
<text x="1199.3" y="419.4" font-size="19.3" text-anchor="end" fill="#000" >−15</text>
<line x1="1205" y1="368.5" x2="1210.5" y2="368.5" stroke="#000" stroke-width="1.1" />
<text x="1199.3" y="376.4" font-size="19.3" text-anchor="end" fill="#000" >−10</text>
<line x1="1205" y1="325.5" x2="1210.5" y2="325.5" stroke="#000" stroke-width="1.1" />
<text x="1199.3" y="333.4" font-size="19.3" text-anchor="end" fill="#000" >−5</text>
<line x1="1205" y1="282.5" x2="1210.5" y2="282.5" stroke="#000" stroke-width="1.1" />
<text x="1199.3" y="290.4" font-size="19.3" text-anchor="end" fill="#000" >0</text>
<line x1="1205" y1="239.5" x2="1210.5" y2="239.5" stroke="#000" stroke-width="1.1" />
<text x="1199.3" y="247.4" font-size="19.3" text-anchor="end" fill="#000" >5</text>
<line x1="1205" y1="196.5" x2="1210.5" y2="196.5" stroke="#000" stroke-width="1.1" />
<text x="1199.3" y="204.4" font-size="19.3" text-anchor="end" fill="#000" >10</text>
<line x1="1205" y1="153.5" x2="1210.5" y2="153.5" stroke="#000" stroke-width="1.1" />
<text x="1199.3" y="161.4" font-size="19.3" text-anchor="end" fill="#000" >15</text>
<line x1="1205" y1="110.5" x2="1210.5" y2="110.5" stroke="#000" stroke-width="1.1" />
<text x="1199.3" y="118.4" font-size="19.3" text-anchor="end" fill="#000" >20</text>
<text x="1805.2" y="463.4" font-size="19.3" text-anchor="start" fill="#f00" >0</text>
<line x1="1800" y1="386.5" x2="1794.5" y2="386.5" stroke="#f00" stroke-width="1.3" />
<text x="1805.2" y="394.4" font-size="19.3" text-anchor="start" fill="#f00" >200</text>
<line x1="1800" y1="317.5" x2="1794.5" y2="317.5" stroke="#f00" stroke-width="1.3" />
<text x="1805.2" y="325.4" font-size="19.3" text-anchor="start" fill="#f00" >400</text>
<line x1="1800" y1="248.5" x2="1794.5" y2="248.5" stroke="#f00" stroke-width="1.3" />
<text x="1805.2" y="256.4" font-size="19.3" text-anchor="start" fill="#f00" >600</text>
<line x1="1800" y1="179.5" x2="1794.5" y2="179.5" stroke="#f00" stroke-width="1.3" />
<text x="1805.2" y="187.4" font-size="19.3" text-anchor="start" fill="#f00" >800</text>
<text x="1805.2" y="118.4" font-size="19.3" text-anchor="start" fill="#f00" >1000</text>
<text x="1115" y="282" font-size="24" text-anchor="middle" fill="#000" transform="rotate(-90 1115 282)" >IMF Bz</text>
<text x="1146.5" y="282" font-size="24" text-anchor="middle" fill="#000" transform="rotate(-90 1146.5 282)" >( nT )</text>
<text x="1878.5" y="283.5" font-size="24" text-anchor="middle" fill="#f00" transform="rotate(-90 1878.5 283.5)" >SW Velocity</text>
<text x="1913" y="283" font-size="24" text-anchor="middle" fill="#f00" transform="rotate(-90 1913 283)" >( km<tspan dx="4">s</tspan><tspan font-size="16.8" dy="-8.64" dx="1.5">−1</tspan><tspan dy="8.64" font-size="24">&#8203;</tspan> )</text>
<line x1="1205" y1="512" x2="1800" y2="512" stroke="#000" stroke-width="2.08" stroke-dasharray="2.08 3.43"/>
<g clip-path="url(#r2)"><polyline points="1205.5,614.61 1206,608.9 1206.5,610.83 1207,608.22 1207.5,608.36 1208,605.19 1208.5,608.57 1209,604.01 1209.5,607.26 1210,603.59 1210.5,608.52 1211,604.72 1211.5,610 1212,607.59 1212.5,612.8 1213,605.03 1213.5,612.61 1214,609.24 1214.5,612.64 1215,609.58 1215.5,612.56 1216,606.8 1216.5,608.42 1217,605.31 1217.5,608.29 1218,604.5 1218.5,606.96 1219,602.43 1219.5,606.38 1220,601.4 1220.5,603.38 1221,597.96 1221.5,604.66 1222,597.86 1222.5,601.25 1223,592.26 1223.5,598.88 1224,596.07 1224.5,600.24 1225,594.04 1225.5,604.18 1226,602.71 1226.5,605.61 1227,602.1 1227.5,609.45 1228,604.96 1228.5,609.64 1229,603.74 1229.5,607.52 1230,604.24 1230.5,608.73 1231,601.79 1231.5,607.1 1232,600.52 1232.5,607.46 1233,602.35 1233.5,605.32 1234,602.45 1234.5,608.4 1235,604.57 1235.5,606.6 1236,600.22 1236.5,608.19 1237,601.74 1237.5,606.04 1238,598.68 1238.5,606.85 1239,598.33 1239.5,603.5 1240,598.88 1240.5,601.58 1241,598.18 1241.5,606.11 1242,593.68 1242.5,600.92 1243,592.07 1243.5,601.66 1244,595.78 1244.5,599.36 1245,595.77 1245.5,599.19 1246,594.27 1246.5,601.53 1247,596.4 1247.5,600.55 1248,593.3 1248.5,599.78 1249,598.04 1249.5,604.16 1250,594.18 1250.5,601.55 1251,599.2 1251.5,604.87 1252,601.16 1252.5,607.93 1253,600.36 1253.5,606.29 1254,596.96 1254.5,605.04 1255,596.96 1255.5,601.4 1256,599.31 1256.5,604.77 1257,601.69 1257.5,608.42 1258,607.11 1258.5,613.25 1259,613.93 1259.5,619.32 1260,620.57 1260.5,625.16 1261,625.26 1261.5,622.52 1262,618.17 1262.5,616.01 1263,609.82 1263.5,608.54 1264,603.07 1264.5,602.03 1265,595.81 1265.5,593.56 1266,597.67 1266.5,605.55 1267,607.45 1267.5,612.54 1268,609.43 1268.5,614.24 1269,610.92 1269.5,612.15 1270,609.79 1270.5,613.94 1271,611.38 1271.5,614.35 1272,611.37 1272.5,612.95 1273,611.97 1273.5,613.65 1274,611.51 1274.5,614.34 1275,610.46 1275.5,612.08 1276,609.06 1276.5,611.29 1277,609.35 1277.5,611.61 1278,608.34 1278.5,611.35 1279,608.89 1279.5,610.71 1280,608.56 1280.5,610.56 1281,608.42 1281.5,610.86 1282,608.42 1282.5,613.74 1283,613.96 1283.5,615.58 1284,614.55 1284.5,617.96 1285,614.35 1285.5,618.68 1286,616.97 1286.5,622.5 1287,616.52 1287.5,620.23 1288,615.36 1288.5,616.58 1289,613.37 1289.5,616.14 1290,611.25 1290.5,613.15 1291,609.28 1291.5,614.84 1292,610.71 1292.5,613.89 1293,611.3 1293.5,613.23 1294,611.39 1294.5,613.38 1295,610.45 1295.5,615.9 1296,611.19 1296.5,616.83 1297,608.8 1297.5,614.85 1298,610.91 1298.5,616.03 1299,609.97 1299.5,613.12 1300,607.85 1300.5,613.8 1301,609.55 1301.5,614.51 1302,608.34 1302.5,612.74 1303,605.05 1303.5,611.5 1304,608.07 1304.5,610.08 1305,606.58 1305.5,607.79 1306,602.62 1306.5,607.13 1307,601.74 1307.5,605.82 1308,601.75 1308.5,605.47 1309,599.01 1309.5,605.41 1310,600.76 1310.5,606.33 1311,598.53 1311.5,600.15 1312,599.15 1312.5,607.1 1313,607.45 1313.5,613.77 1314,610.73 1314.5,612.39 1315,608.48 1315.5,614.1 1316,607.25 1316.5,612.86 1317,610.33 1317.5,611.53 1318,608.62 1318.5,615.11 1319,605.46 1319.5,611.23 1320,606.57 1320.5,611.85 1321,606.56 1321.5,610.66 1322,604.74 1322.5,608.66 1323,601.11 1323.5,607.88 1324,605.58 1324.5,607.76 1325,601.62 1325.5,607.93 1326,602.85 1326.5,607.99 1327,600.68 1327.5,604.96 1328,601.17 1328.5,610.24 1329,602.41 1329.5,608.7 1330,603.55 1330.5,611.35 1331,606.89 1331.5,611.25 1332,609.06 1332.5,614.1 1333,608.95 1333.5,614.21 1334,608.55 1334.5,615.07 1335,610.22 1335.5,612.94 1336,608.47 1336.5,614.97 1337,609.98 1337.5,612.29 1338,608.01 1338.5,613.27 1339,608.17 1339.5,612.94 1340,608.53 1340.5,613.19 1341,609.28 1341.5,612.23 1342,608.81 1342.5,611.56 1343,609.73 1343.5,613.81 1344,609.27 1344.5,612.72 1345,606.11 1345.5,613.57 1346,612.17 1346.5,614.83 1347,611.58 1347.5,615.76 1348,613.79 1348.5,617.06 1349,615.08 1349.5,616.45 1350,612.42 1350.5,617.32 1351,613.91 1351.5,617.96 1352,614.24 1352.5,617.28 1353,615.4 1353.5,616.19 1354,614.5 1354.5,616.56 1355,613.41 1355.5,614.59 1356,612 1356.5,614.81 1357,611.31 1357.5,615.55 1358,610.14 1358.5,613.66 1359,609.55 1359.5,613.08 1360,608.83 1360.5,613.47 1361,609.89 1361.5,614.3 1362,612.27 1362.5,616.65 1363,613.01 1374,614.79 1374.5,619.65 1375,615.27 1375.5,619.23 1376,611.18 1376.5,617.74 1377,615.01 1377.5,618.86 1378,613.42 1378.5,617.69 1379,613.47 1379.5,619.4 1380,613.12 1380.5,615.96 1381,612.41 1381.5,615.99 1382,612.46 1382.5,617.14 1383,608.12 1383.5,615.37 1384,611.44 1384.5,614.3 1385,610.48 1385.5,614.61 1386,610.28 1386.5,613.39 1387,612.03 1387.5,615.36 1388,610.84 1388.5,613.99 1389,610.53 1389.5,613.45 1390,609.43 1390.5,614.62 1391,609.51 1391.5,610.89 1392,607.23 1392.5,612.23 1393,608.18 1393.5,615.74 1394,610.55 1394.5,613.38 1395,610.91 1395.5,614.48 1396,609.74 1396.5,613.83 1397,609.54 1397.5,613.73 1398,610.95 1398.5,614.28 1399,611.43 1399.5,614.11 1400,610.63 1400.5,612.99 1401,609.39 1401.5,613.11 1402,605.64 1402.5,612.79 1403,609.54 1403.5,615.27 1404,608.86 1404.5,614.36 1405,611.21 1405.5,615.9 1406,613.33 1406.5,616.45 1407,611.36 1407.5,612.87 1408,609.13 1408.5,613.96 1409,609.22 1409.5,613.26 1410,608.88 1410.5,611.66 1411,611.57 1411.5,614 1412,612.24 1412.5,612.76 1413,609.53 1413.5,616.52 1414,612.59 1414.5,616.97 1415,612.71 1415.5,620.31 1416,615.41 1416.5,621.97 1417,619.61 1417.5,622.72 1418,617.94 1418.5,624.53 1419,621.06 1419.5,625.29 1420,621.73 1420.5,629.06 1421,621.37 1421.5,628.45 1422,625.49 1422.5,633.29 1423,628.14 1423.5,633.04 1424,628.06 1424.5,631.69 1425,628.98 1425.5,631.24 1426,627.28 1426.5,628.96 1427,625.83 1427.5,629.6 1428,626.15 1428.5,631.73 1429,627.56 1429.5,634.77 1430,629.63 1430.5,639.72 1431,629 1431.5,637.18 1432,630.47 1432.5,632.32 1433,626.98 1433.5,631.37 1434,622.29 1434.5,625.47 1435,618.87 1435.5,625.83 1436,622.03 1436.5,627.56 1437,625.07 1437.5,629.18 1438,626.29 1448.5,658.77 1449,655 1449.5,653.43 1450,649.11 1450.5,649.08 1451,642.86 1451.5,642.22 1452,635.38 1452.5,636.82 1453,632.6 1453.5,635.6 1454,631.17 1454.5,638.36 1455,633.55 1455.5,640.44 1456,639.44 1456.5,643.59 1457,640.29 1457.5,645.53 1458,636.1 1458.5,645.13 1459,638.16 1459.5,642.83 1460,640.54 1460.5,643.38 1461,641.42 1461.5,645.63 1462,640.76 1462.5,647.83 1463,646.87 1463.5,651.19 1464,645.81 1464.5,647.23 1465,642.06 1465.5,652.28 1466,643.14 1466.5,649.22 1467,643.64 1467.5,652.19 1468,648.29 1468.5,656.16 1469,646.82 1469.5,650.96 1470,642.08 1470.5,648.64 1471,642.17 1471.5,644.99 1472,637.47 1472.5,645.7 1473,638.47 1473.5,647.73 1474,641.14 1474.5,652.88 1475,645.42 1475.5,654.3 1476,641.6 1476.5,653.68 1477,646.11 1477.5,653.89 1478,642.69 1478.5,655.54 1479,643.44 1479.5,657.7 1480,649.8 1480.5,656.62 1481,645.94 1481.5,652.17 1482,644.06 1482.5,652.95 1483,645.83 1483.5,651.85 1484,635.14 1484.5,653.92 1485,638.46 1485.5,650.16 1486,642.53 1486.5,650.02 1487,643.08 1487.5,661.79 1488,653.65 1488.5,661.25 1489,655.82 1489.5,665.15 1490,655.67 1490.5,667.74 1491,662.04 1491.5,668.7 1492,656.9 1492.5,667.1 1493,658.7 1493.5,666.79 1494,661.8 1494.5,666.74 1495,655.1 1495.5,664.31 1496,649.79 1496.5,659.57 1497,651.68 1497.5,657.66 1498,645.93 1498.5,657.17 1499,646.29 1499.5,650 1500,642.26 1500.5,648.58 1501,643.84 1501.5,649.91 1502,641.79 1502.5,648.71 1503,638.63 1503.5,646.95 1504,639.66 1504.5,650.92 1505,641.25 1505.5,652.38 1506,645.1 1506.5,659.21 1507,646.1 1507.5,652.21 1508,639.92 1508.5,647.36 1509,641.17 1509.5,643.41 1510,636.89 1510.5,639.11 1511,631.74 1511.5,633.74 1512,623.62 1512.5,627.85 1513,624.81 1513.5,628.31 1514,628.64 1514.5,632.48 1522.5,621.71 1523,613.18 1523.5,609.1 1524,600.33 1524.5,597.94 1525,591.71 1525.5,597.28 1526,592.5 1526.5,599.23 1527,594.3 1527.5,598.65 1528,593.77 1528.5,599.02 1529,595.4 1529.5,602.7 1530,594.88 1530.5,599.01 1531,595.9 1531.5,602.48 1532,597.77 1532.5,603.35 1533,599.62 1533.5,601.51 1534,597.19 1534.5,603.26 1535,595.23 1535.5,598.54 1536,588.16 1536.5,601.66 1537,595.07 1537.5,602.36 1538,596.89 1538.5,600.04 1539,593.38 1539.5,611.29 1540,615.33 1540.5,634.24 1541,632.86 1541.5,639.44 1542,623.33 1542.5,633.91 1543,630.09 1543.5,632.57 1544,628.89 1544.5,632.99 1545,631.5 1545.5,640.34 1546,633.81 1546.5,643.81 1547,632.98 1547.5,641.44 1548,622.99 1548.5,620.71 1549,605.67 1549.5,609.42 1550,596.29 1550.5,596.64 1551,581.19 1551.5,589.16 1552,584.21 1552.5,593.74 1553,590.92 1553.5,598.26 1554,597.31 1554.5,604.27 1555,591.31 1555.5,591.41 1556,580.73 1556.5,577.13 1557,567.12 1557.5,571.64 1558,576.08 1558.5,584.44 1559,587.16 1559.5,586.49 1560,579.59 1560.5,588.13 1561,600.35 1561.5,621.94 1562,627.42 1562.5,631.39 1563,622.09 1563.5,625.44 1564,617.24 1564.5,615.98 1565,611.69 1565.5,618.58 1566,609.64 1566.5,617.62 1567,612.73 1567.5,617.87 1568,610.93 1568.5,617.82 1569,609.57 1569.5,625.44 1570,620.16 1570.5,630.57 1571,628.53 1571.5,637.09 1572,621.89 1572.5,637.02 1573,624.91 1573.5,634.71 1574,624.47 1574.5,632.34 1575,622.18 1575.5,629.68 1576,615.3 1576.5,618.77 1577,611.17 1577.5,617.34 1578,609.58 1578.5,615.3 1579,613.11 1579.5,618.7 1580,619.74 1580.5,628.53 1581,618.54 1581.5,621.47 1582,615.97 1582.5,616.05 1583,608.97 1583.5,610.63 1584,607.1 1584.5,610.1 1585,607.98 1585.5,609.42 1586,606.32 1586.5,610.25 1587,609.63 1587.5,612.29 1588,609.41 1588.5,611.68 1589,608.31 1589.5,611.92 1590,605.86 1590.5,613.7 1591,608.94 1591.5,614.09 1592,612.53 1592.5,616.44 1593,613.67 1593.5,615.49 1594,613.19 1594.5,617.23 1595,615.64 1595.5,620.33 1596,616.14 1596.5,619.29 1597,615.38 1597.5,616.69 1598,613.8 1598.5,618.19 1599,611.71 1599.5,614.34 1600,610.11 1600.5,615.02 1601,610.9 1601.5,619.16 1602,613.23 1602.5,622.18 1603,618.35 1603.5,623.59 1604,618.66 1604.5,622.88 1605,618.43 1605.5,621.3 1606,612.2 1606.5,612.9 1607,607.76 1607.5,612.54 1608,603.79 1608.5,610.35 1609,607.72 1609.5,611.83 1610,609.66 1610.5,611.94 1611,609.92 1611.5,615.3 1612,609.95 1612.5,610.81 1613,601.92 1613.5,606.13 1614,597.43 1614.5,604.92 1615,601.74 1615.5,606.67 1616,604.01 1616.5,607.65 1617,603.3 1617.5,608.38 1618,604.43 1618.5,609.01 1619,608.65 1619.5,610.73 1620,605.66 1620.5,611.02 1621,606.31 1621.5,609.69 1622,606.04 1622.5,612.07 1623,605.47 1623.5,612.08 1624,607.55 1624.5,613.17 1625,607.5 1625.5,608.52 1626,604.95 1626.5,607.78 1627,600.71 1627.5,605.02 1628,600.5 1628.5,602.83 1629,599.36 1629.5,604.24 1630,597.4 1630.5,600.02 1631,595.83 1631.5,600.24 1632,595.29 1632.5,600.04 1633,594.55 1633.5,599.72 1634,596.07 1634.5,603.52 1635,597.29 1635.5,599.23 1636,596.44 1636.5,600.79 1637,595.4 1637.5,602.37 1638,598.91 1638.5,600.69 1639,597.41 1639.5,600.11 1640,597.35 1640.5,602.14 1641,598.28 1641.5,603.07 1642,595.72 1642.5,601.89 1643,592.36 1643.5,602.78 1644,596.46 1644.5,600.66 1645,598.26 1645.5,601.74 1646,594.31 1646.5,604.1 1647,594.87 1647.5,599.88 1648,593.98 1648.5,600.5 1649,595.19 1649.5,601.89 1650,596.55 1650.5,601.2 1651,597.67 1651.5,608.6 1652,601.44 1652.5,607.61 1653,599.75 1653.5,607.07 1654,602.62 1654.5,608.75 1655,607.15 1655.5,612.07 1656,608.75 1656.5,613.65 1657,609.28 1657.5,615.57 1658,612.03 1658.5,616.14 1659,609.22 1659.5,615.02 1660,609.13 1660.5,615.58 1661,613.39 1661.5,616.47 1662,610.74 1662.5,616.18 1663,607.78 1663.5,615.31 1664,608.99 1664.5,615.43 1665,607.6 1665.5,616.78 1666,607.1 1666.5,612.67 1667,610.32 1667.5,616.12 1668,612.42 1668.5,618.03 1669,615.53 1669.5,623.99 1670,613.22 1670.5,614.07 1671,603.67 1671.5,603.85 1672,600.76 1672.5,609.24 1673,609.08 1673.5,615.79 1674,615.86 1674.5,624.71 1675,620.99 1675.5,628.68 1676,621.78 1676.5,625.93 1677,618.58 1677.5,626.11 1678,615.76 1678.5,619.87 1679,608.16 1679.5,619 1680,609.67 1680.5,622.63 1681,617.17 1681.5,624.66 1682,616.13 1682.5,627.76 1683,621.83 1683.5,626.89 1684,623 1684.5,627.03 1685,620.31 1685.5,621.81 1686,613.27 1686.5,620.33 1687,607.4 1687.5,610.37 1688,598.38 1688.5,603.81 1689,590.49 1689.5,597.13 1690,587.62 1690.5,596.22 1691,587.27 1691.5,589.21 1692,585.48 1692.5,602.07 1693,594.57 1693.5,609.35 1694,602.56 1694.5,614.3 1695,606.5 1695.5,608.77 1696,601.16 1696.5,611.53 1697,601.45 1697.5,608.1 1698,597.05 1698.5,606.41 1699,600.32 1699.5,608.62 1700,601.89 1700.5,618.75 1701,604.8 1701.5,607.44 1702,600.26 1702.5,608.86 1703,605.25 1703.5,619.16 1704,598.56 1704.5,610.45 1705,605.18 1705.5,609.42 1706,601.57 1706.5,613.98 1707,600.42 1707.5,611.32 1708,604.68 1708.5,613.16 1709,596.06 1709.5,610.88 1710,600.32 1710.5,612.79 1711,597.88 1711.5,612.73 1712,598.9 1712.5,612.4 1713,604.32 1713.5,612.36 1714,602.01 1714.5,614.8 1715,608.21 1715.5,612.96 1716,608.52 1716.5,613.62 1717,608.3 1717.5,615.78 1718,607.85 1718.5,616.13 1719,608.35 1719.5,613.47 1720,607.35 1720.5,611.22 1721,605.85 1721.5,612.92 1722,608.35 1722.5,611.85 1723,606.85 1723.5,610.64 1724,606.06 1724.5,611.99 1725,605.49 1725.5,614.53" fill="none" stroke="#f00" stroke-width="2.08" stroke-linejoin="round"/></g>
<line x1="1726" y1="822" x2="1726" y2="477.9" stroke="#1f77b4" stroke-width="2.08" stroke-dasharray="2.08 3.43"/>
<line x1="1800" y1="476.9" x2="1800" y2="823" stroke="#f00" stroke-width="2" />
<path d="M1800 477.9H1205V822H1800" fill="none" stroke="#000" stroke-width="2" stroke-linecap="square"/>
<line x1="1244.9" y1="822" x2="1244.9" y2="817.1" stroke="#000" stroke-width="1.1" />
<line x1="1319.3" y1="822" x2="1319.3" y2="817.1" stroke="#000" stroke-width="1.1" />
<line x1="1393.7" y1="822" x2="1393.7" y2="817.1" stroke="#000" stroke-width="1.1" />
<line x1="1468.1" y1="822" x2="1468.1" y2="817.1" stroke="#000" stroke-width="1.1" />
<line x1="1542.5" y1="822" x2="1542.5" y2="817.1" stroke="#000" stroke-width="1.1" />
<line x1="1616.9" y1="822" x2="1616.9" y2="817.1" stroke="#000" stroke-width="1.1" />
<line x1="1691.3" y1="822" x2="1691.3" y2="817.1" stroke="#000" stroke-width="1.1" />
<line x1="1765.7" y1="822" x2="1765.7" y2="817.1" stroke="#000" stroke-width="1.1" />
<line x1="1205" y1="512.5" x2="1210.5" y2="512.5" stroke="#000" stroke-width="1.1" />
<text x="1199.3" y="520.4" font-size="19.3" text-anchor="end" fill="#000" >0</text>
<line x1="1205" y1="581.5" x2="1210.5" y2="581.5" stroke="#000" stroke-width="1.1" />
<text x="1199.3" y="589.4" font-size="19.3" text-anchor="end" fill="#000" >−100</text>
<line x1="1205" y1="650.5" x2="1210.5" y2="650.5" stroke="#000" stroke-width="1.1" />
<text x="1199.3" y="658.4" font-size="19.3" text-anchor="end" fill="#000" >−200</text>
<line x1="1205" y1="719.5" x2="1210.5" y2="719.5" stroke="#000" stroke-width="1.1" />
<text x="1199.3" y="727.4" font-size="19.3" text-anchor="end" fill="#000" >−300</text>
<line x1="1205" y1="788.5" x2="1210.5" y2="788.5" stroke="#000" stroke-width="1.1" />
<text x="1199.3" y="796.4" font-size="19.3" text-anchor="end" fill="#000" >−400</text>
<text x="1806.2" y="830.4" font-size="19.3" text-anchor="start" fill="#f00" >10<tspan font-size="13.51" dy="-7.14" dx="0.6">−2</tspan><tspan dy="7.14" font-size="19.3">&#8203;</tspan></text>
<line x1="1800" y1="796.1" x2="1796.2" y2="796.1" stroke="#f00" stroke-width="1.08" />
<line x1="1800" y1="780.96" x2="1796.2" y2="780.96" stroke="#f00" stroke-width="1.08" />
<line x1="1800" y1="770.21" x2="1796.2" y2="770.21" stroke="#f00" stroke-width="1.08" />
<line x1="1800" y1="761.87" x2="1796.2" y2="761.87" stroke="#f00" stroke-width="1.08" />
<line x1="1800" y1="755.06" x2="1796.2" y2="755.06" stroke="#f00" stroke-width="1.08" />
<line x1="1800" y1="749.3" x2="1796.2" y2="749.3" stroke="#f00" stroke-width="1.08" />
<line x1="1800" y1="744.31" x2="1796.2" y2="744.31" stroke="#f00" stroke-width="1.08" />
<line x1="1800" y1="739.91" x2="1796.2" y2="739.91" stroke="#f00" stroke-width="1.08" />
<line x1="1800" y1="735.98" x2="1794.5" y2="735.98" stroke="#f00" stroke-width="1.2" />
<text x="1806.2" y="744.38" font-size="19.3" text-anchor="start" fill="#f00" >10<tspan font-size="13.51" dy="-7.14" dx="0.6">−1</tspan><tspan dy="7.14" font-size="19.3">&#8203;</tspan></text>
<line x1="1800" y1="710.08" x2="1796.2" y2="710.08" stroke="#f00" stroke-width="1.08" />
<line x1="1800" y1="694.93" x2="1796.2" y2="694.93" stroke="#f00" stroke-width="1.08" />
<line x1="1800" y1="684.18" x2="1796.2" y2="684.18" stroke="#f00" stroke-width="1.08" />
<line x1="1800" y1="675.85" x2="1796.2" y2="675.85" stroke="#f00" stroke-width="1.08" />
<line x1="1800" y1="669.03" x2="1796.2" y2="669.03" stroke="#f00" stroke-width="1.08" />
<line x1="1800" y1="663.28" x2="1796.2" y2="663.28" stroke="#f00" stroke-width="1.08" />
<line x1="1800" y1="658.29" x2="1796.2" y2="658.29" stroke="#f00" stroke-width="1.08" />
<line x1="1800" y1="653.89" x2="1796.2" y2="653.89" stroke="#f00" stroke-width="1.08" />
<line x1="1800" y1="649.95" x2="1794.5" y2="649.95" stroke="#f00" stroke-width="1.2" />
<text x="1806.2" y="658.35" font-size="19.3" text-anchor="start" fill="#f00" >10<tspan font-size="13.51" dy="-7.14" dx="0.6">0</tspan><tspan dy="7.14" font-size="19.3">&#8203;</tspan></text>
<line x1="1800" y1="624.05" x2="1796.2" y2="624.05" stroke="#f00" stroke-width="1.08" />
<line x1="1800" y1="608.91" x2="1796.2" y2="608.91" stroke="#f00" stroke-width="1.08" />
<line x1="1800" y1="598.16" x2="1796.2" y2="598.16" stroke="#f00" stroke-width="1.08" />
<line x1="1800" y1="589.82" x2="1796.2" y2="589.82" stroke="#f00" stroke-width="1.08" />
<line x1="1800" y1="583.01" x2="1796.2" y2="583.01" stroke="#f00" stroke-width="1.08" />
<line x1="1800" y1="577.25" x2="1796.2" y2="577.25" stroke="#f00" stroke-width="1.08" />
<line x1="1800" y1="572.26" x2="1796.2" y2="572.26" stroke="#f00" stroke-width="1.08" />
<line x1="1800" y1="567.86" x2="1796.2" y2="567.86" stroke="#f00" stroke-width="1.08" />
<line x1="1800" y1="563.92" x2="1794.5" y2="563.92" stroke="#f00" stroke-width="1.2" />
<text x="1806.2" y="572.32" font-size="19.3" text-anchor="start" fill="#f00" >10<tspan font-size="13.51" dy="-7.14" dx="0.6">1</tspan><tspan dy="7.14" font-size="19.3">&#8203;</tspan></text>
<line x1="1800" y1="538.03" x2="1796.2" y2="538.03" stroke="#f00" stroke-width="1.08" />
<line x1="1800" y1="522.88" x2="1796.2" y2="522.88" stroke="#f00" stroke-width="1.08" />
<line x1="1800" y1="512.13" x2="1796.2" y2="512.13" stroke="#f00" stroke-width="1.08" />
<line x1="1800" y1="503.8" x2="1796.2" y2="503.8" stroke="#f00" stroke-width="1.08" />
<line x1="1800" y1="496.98" x2="1796.2" y2="496.98" stroke="#f00" stroke-width="1.08" />
<line x1="1800" y1="491.23" x2="1796.2" y2="491.23" stroke="#f00" stroke-width="1.08" />
<line x1="1800" y1="486.24" x2="1796.2" y2="486.24" stroke="#f00" stroke-width="1.08" />
<line x1="1800" y1="481.84" x2="1796.2" y2="481.84" stroke="#f00" stroke-width="1.08" />
<text x="1806.2" y="486.3" font-size="19.3" text-anchor="start" fill="#f00" >10<tspan font-size="13.51" dy="-7.14" dx="0.6">2</tspan><tspan dy="7.14" font-size="19.3">&#8203;</tspan></text>
<text x="1105" y="651.5" font-size="24" text-anchor="middle" fill="#000" transform="rotate(-90 1105 651.5)" >Dst</text>
<text x="1133" y="650.5" font-size="24" text-anchor="middle" fill="#000" transform="rotate(-90 1133 650.5)" >( nT )</text>
<text x="1873.5" y="650" font-size="24" text-anchor="middle" fill="#f00" transform="rotate(-90 1873.5 650)" >SW Pressure</text>
<text x="1905.8" y="650" font-size="24" text-anchor="middle" fill="#f00" transform="rotate(-90 1905.8 650)" >( nPa )</text>
<line x1="1205" y1="930.85" x2="1800" y2="930.85" stroke="#000" stroke-width="2.08" stroke-dasharray="2.08 3.43"/>
<g clip-path="url(#r3)"><polyline points="1205.5,997.24 1206,1013 1206.5,1003.84 1207,1012.88 1207.5,998.57 1208,1013.4 1208.5,999.99 1209,1012.58 1209.5,994.54 1210,1013.57 1210.5,998.41 1211,1012.5 1211.5,995.25 1212,1012.33 1212.5,1000.64 1213,1012.42 1213.5,1002.34 1214,1012.88 1214.5,1001.1 1215,1013.19 1215.5,1000.95 1216,1012.79 1216.5,997.85 1217,1012.84 1217.5,996.1 1218,1013.55 1218.5,996.27 1219,1012.52 1219.5,992.63 1220,1013.53 1220.5,995.46 1221,1012.71 1221.5,995.48 1222,1012.65 1222.5,1001.01 1223,1013.09 1223.5,995.1 1224,1013.13 1224.5,1001.09 1225,1012.36 1225.5,999.43 1226,1012.55 1226.5,996.07 1227,1013.06 1227.5,1000.48 1228,1012.74 1228.5,997.82 1229,1012.43 1229.5,997.34 1230,1012.93 1230.5,995.18 1231,1013.01 1231.5,1001.84 1232,1012.49 1232.5,1001.82 1233,1012.88 1233.5,995.21 1234,1012.75 1234.5,996.8 1235,1013.38 1235.5,998.17 1236,1012.99 1236.5,1001.65 1237,1012.51 1237.5,999.88 1238,1012.76 1238.5,1001.41 1239,1013.37 1239.5,1000.02 1240,1012.76 1240.5,1002.51 1241,1013.56 1241.5,1005.95 1242,1012.6 1242.5,1003.94 1243,1012.29 1243.5,999.67 1244,1012.78 1244.5,996.65 1245,1012.76 1245.5,1000.09 1246,1012.82 1246.5,993.07 1247,1012.68 1247.5,1002.27 1248,1012.47 1248.5,1000.71 1249,1013.45 1249.5,1004.57 1250,1013.08 1250.5,1002.05 1251,1013.07 1251.5,997.43 1252,1013.2 1252.5,1000.35 1253,1013.57 1253.5,1002.01 1254,1013.36 1254.5,998.25 1255,1012.53 1255.5,998.83 1256,1012.42 1256.5,998.13 1257,1012.4 1257.5,991.62 1258,1013.39 1258.5,998.24 1259,1013.16 1259.5,996.22 1260,1012.48 1260.5,1000.72 1261,1013.16 1261.5,1001.89 1262,1012.78 1262.5,998.31 1263,1012.49 1263.5,998.77 1264,1012.39 1264.5,1001.68 1265,1013.21 1265.5,993.23 1266,1013.35 1266.5,998.42 1267,1012.52 1267.5,999.62 1268,1013.4 1268.5,1002.66 1269,1012.37 1269.5,1002.15 1270,1012.41 1270.5,998.92 1271,1013.1 1271.5,994.42 1272,1013.44 1272.5,995.44 1273,1013.17 1273.5,994.43 1274,1013.47 1274.5,996.15 1275,1013.4 1275.5,1000.26 1276,1012.71 1276.5,1002.74 1277,1012.45 1277.5,1001.59 1278,1012.46 1278.5,1002.95 1279,1012.97 1279.5,1000.41 1280,1012.9 1280.5,998.8 1281,1013.21 1281.5,997.39 1282,1013.58 1282.5,996.93 1283,1013.24 1283.5,1001.56 1284,1013.08 1284.5,995.71 1285,1012.47 1285.5,1003.17 1286,1012.9 1286.5,995.37 1287,1012.32 1287.5,995.93 1288,1012.65 1288.5,995.3 1289,1013.09 1289.5,997.75 1290,1013.55 1290.5,1002.2 1291,1012.37 1291.5,1001.79 1292,1012.66 1292.5,994.91 1293,1013.18 1293.5,1000.37 1294,1013.4 1294.5,993.53 1295,1012.84 1295.5,1001.76 1296,1012.96 1296.5,999.63 1297,1012.54 1297.5,996.33 1298,1012.66 1298.5,995.16 1299,1013.28 1299.5,1001.96 1300,1013.2 1300.5,999.34 1301,1012.69 1301.5,999 1302,1012.43 1302.5,998.33 1303,1013.19 1303.5,1002.73 1304,1013.45 1304.5,997.15 1305,1013.34 1305.5,998.93 1306,1013.43 1306.5,999.95 1307,1012.82 1307.5,995.63 1308,1013.44 1308.5,996.18 1309,1012.51 1309.5,994.8 1310,1012.34 1310.5,998.72 1311,1013.15 1311.5,1002.35 1312,1012.73 1312.5,998.44 1313,1012.34 1313.5,996.67 1314,1012.78 1314.5,999.01 1315,1012.73 1315.5,1001.54 1316,984.98 1316.5,1003.18 1317,1013.17 1317.5,996.9 1318,1012.67 1318.5,992.78 1319,1012.71 1319.5,999.93 1320,1012.44 1320.5,1001.01 1321,1012.78 1321.5,998.15 1322,1012.88 1322.5,1001.24 1323,1013.51 1323.5,1003.28 1324,1012.97 1324.5,998.47 1325,1013.49 1325.5,1000.44 1326,1013.49 1326.5,998.16 1327,1013.33 1327.5,997.46 1328,1012.64 1328.5,997.98 1329,1012.43 1329.5,1000.69 1330,1013.04 1330.5,995.73 1331,1012.76 1331.5,999.01 1332,1012.33 1332.5,998.83 1333,1013.19 1333.5,999.73 1334,1013.56 1334.5,1005.04 1335,1012.86 1335.5,997.21 1336,1012.99 1336.5,998.11 1337,1012.7 1337.5,993.03 1338,1012.83 1338.5,996.69 1339,1013.3 1339.5,995.54 1340,1012.71 1340.5,994.78 1341,1013.03 1341.5,995.32 1342,1012.34 1342.5,995.79 1343,1013.34 1343.5,997.82 1344,1013.48 1344.5,1001.74 1345,1012.82 1345.5,997.97 1346,1012.98 1346.5,995.79 1347,1013.27 1347.5,998.77 1348,1012.8 1348.5,1000.81 1349,1013.47 1349.5,996.42 1350,1013.17 1350.5,986.72 1351,1012.69 1351.5,997.51 1352,1012.78 1352.5,991.22 1353,1013.33 1353.5,993.83 1354,1012.76 1354.5,995.31 1355,1013.41 1355.5,1001.27 1356,1013.16 1356.5,999.77 1357,1013.39 1357.5,997.29 1358,1012.98 1358.5,997.75 1359,1012.4 1359.5,996.18 1360,1012.73 1360.5,1002.73 1361,1013.12 1361.5,1006.39 1362,1013.55 1362.5,1003.46 1363,1012.76 1363.5,1002.3 1364,1012.38 1364.5,993.54 1365,1012.74 1365.5,995.66 1366,1012.59 1366.5,996.6 1367,1013.45 1367.5,998.47 1368,1013.47 1368.5,999.56 1369,1013.37 1369.5,997.86 1370,1012.33 1370.5,997.34 1371,1013.55 1371.5,1003.82 1372,1012.62 1372.5,996.03 1373,1012.63 1373.5,998.97 1374,1013.37 1374.5,989.25 1375,1013.21 1375.5,1000.79 1376,1012.51 1376.5,994.73 1377,1012.89 1377.5,997.83 1378,1012.77 1378.5,1000.42 1379,1013.52 1379.5,995.51 1380,1012.77 1380.5,1003.13 1381,1012.88 1381.5,1001.7 1382,1013.36 1382.5,1000.18 1383,1012.84 1383.5,997.14 1384,1013.52 1384.5,997.61 1385,1013.54 1385.5,1002.23 1386,1012.4 1386.5,997.53 1387,1012.83 1387.5,996.32 1388,1013.26 1388.5,993.43 1389,1012.57 1389.5,992.17 1390,1012.61 1390.5,989.88 1391,1013.09 1391.5,999.09 1392,1012.33 1392.5,995.35 1393,1013.55 1393.5,994.46 1394,1012.54 1394.5,999.52 1395,1012.73 1395.5,1003.91 1396,1013.32 1396.5,1000.48 1397,1013.4 1397.5,996.28 1398,1013.34 1398.5,1002.37 1399,1013.01 1399.5,992.01 1400,1013.38 1400.5,995.93 1401,1013.01 1401.5,1003.39 1402,986.76 1402.5,1002.51 1403,1013.45 1403.5,998.85 1404,1013.08 1404.5,997.01 1405,1013.25 1405.5,998.96 1406,1012.33 1406.5,993.06 1407,1012.47 1407.5,995.15 1408,1012.68 1408.5,997.35 1409,1012.47 1409.5,1000.37 1410,1012.82 1410.5,998.54 1411,1012.33 1411.5,1005.49 1412,1013.12 1412.5,1001.07 1413,1013.07 1413.5,1000.18 1414,1013.21 1414.5,997.83 1415,1013.48 1415.5,1004.48 1416,1013.56 1416.5,1005.42 1417,1012.79 1417.5,998.25 1418,1013.21 1418.5,999.39 1419,1013.52 1419.5,998.43 1420,1012.76 1420.5,994.45 1421,1013.09 1421.5,997.75 1422,1012.93 1422.5,997.49 1423,1012.76 1423.5,994.1 1424,1013.01 1424.5,996.98 1425,1012.97 1425.5,996.32 1426,1013.06 1426.5,997.22 1427,1013.1 1427.5,1001.16 1428,1013.4 1428.5,998.07 1429,1012.95 1429.5,999.22 1430,1013.03 1430.5,999.67 1431,1012.68 1431.5,995.29 1432,1012.4 1432.5,995.21 1433,1013.28 1433.5,1000.51 1434,1012.85 1434.5,998.13 1435,1012.3 1435.5,1003.03 1436,1012.72 1436.5,991.22 1437,1013.16 1437.5,998.08 1438,1012.32 1438.5,997.55 1439,1013.22 1439.5,1000.4 1440,1012.39 1440.5,999.86 1441,1013.47 1441.5,1000.5 1442,1012.52 1442.5,1000.43 1443,1013.27 1443.5,999.45 1444,1012.78 1444.5,1004.99 1445,1012.41 1445.5,996.13 1446,1012.48 1446.5,1001.17 1447,1012.62 1447.5,1001.82 1448,1012.34 1448.5,999.66 1449,1012.6 1449.5,999.88 1450,1013.27 1450.5,1005.61 1451,1013.42 1451.5,997.72 1452,1013.17 1452.5,1000.27 1453,1013.33 1453.5,997.39 1454,1013.39 1454.5,999.23 1455,1013.34 1455.5,995.76 1456,1013.27 1456.5,998.39 1457,1013.44 1457.5,997.43 1458,1013 1458.5,994.12 1459,1012.78 1459.5,1002.92 1460,1013.35 1460.5,999.12 1461,1013.3 1461.5,997.03 1462,1012.82 1462.5,1003.98 1463,1012.6 1463.5,999.83 1464,1012.53 1464.5,996.64 1465,1013.35 1465.5,1005.43 1466,1012.89 1466.5,998.14 1467,1013.41 1467.5,1001.93 1468,1012.91 1468.5,997.74 1469,1012.89 1469.5,1003.71 1470,1013.49 1470.5,1001.09 1471,1012.94 1471.5,1004.69 1472,1013 1472.5,997.51 1473,1012.9 1473.5,997 1474,1013.11 1474.5,1002.83 1475,1012.95 1475.5,1003.35 1476,1012.81 1476.5,1002.08 1477,1012.32 1477.5,1000.96 1478,1012.93 1478.5,994.08 1479,1013.2 1479.5,993.99 1480,1013.11 1480.5,1001.35 1481,1012.47 1481.5,1000.27 1482,1013.35 1482.5,1005.84 1483,1013.37 1483.5,1004.89 1484,1013.07 1484.5,1002.52 1485,1012.95 1485.5,996.72 1486,1013.36 1486.5,998.32 1487,1013.2 1487.5,997.1 1488,1012.31 1488.5,991.82 1489,1013.06 1489.5,1000.66 1490,1013.19 1490.5,998.96 1491,1013.14 1491.5,1000.91 1492,1012.75 1492.5,994 1493,1012.4 1493.5,998.51 1494,1013.47 1494.5,1001.84 1495,1013.43 1495.5,1002.18 1496,1012.71 1496.5,998.03 1497,1012.68 1497.5,1003.14 1498,1012.44 1498.5,997.26 1499,1013.4 1499.5,997.65 1500,1012.93 1500.5,993.39 1501,1012.88 1501.5,1000.79 1502,1013.41 1502.5,1000.57 1503,1012.96 1503.5,997.29 1504,1013.5 1504.5,1000.92 1505,1013.05 1505.5,1000.01 1506,1012.53 1506.5,1003.41 1507,1012.53 1507.5,1003.92 1508,1012.96 1508.5,998.39 1509,1013.05 1509.5,1005.24 1510,1013.29 1510.5,1002.45 1511,1013.25 1511.5,1001.1 1512,1013.49 1512.5,998.87 1513,1012.59 1513.5,1001.74 1514,1012.77 1514.5,1000.52 1515,1012.87 1515.5,1004.62 1516,1013.51 1516.5,1000.47 1517,1012.87 1517.5,999.54 1518,1012.37 1518.5,998.74 1519,1012.5 1519.5,998.31 1520,1012.68 1520.5,999.23 1521,1012.51 1521.5,1002.09 1522,1013.4 1522.5,1003.4 1523,1012.76 1523.5,1001.58 1524,1013.2 1524.5,998.76 1525,1013.25 1525.5,1001.68 1526,1013.1 1526.5,996.04 1527,1012.47 1527.5,999.26 1528,1012.81 1528.5,996.75 1529,1013.21 1529.5,999.75 1530,1013.27 1530.5,991.71 1531,1012.59 1531.5,1001.23 1532,1012.74 1532.5,996.9 1533,1012.58 1533.5,997.29 1534,1012.88 1534.5,1000.75 1535,1013.46 1535.5,995.77 1536,1012.36 1536.5,999.33 1537,1013.41 1537.5,996.85 1538,984.98 1538.5,998.49 1539,1012.52 1539.5,997.49 1540,1012.93 1540.5,994.65 1541,1012.52 1541.5,995.52 1542,1013.43 1542.5,998.31 1543,1012.37 1543.5,995.45 1544,1013.19 1544.5,994.62 1545,1012.35 1545.5,988.44 1546,1013.52 1546.5,1000.69 1547,1012.43 1547.5,999.1 1548,1013.5 1548.5,1000.56 1549,1012.8 1549.5,1000.55 1550,1013.27 1550.5,997.73 1551,1013.18 1551.5,1002.97 1552,1013.3 1552.5,998.72 1553,1013.13 1553.5,997.96 1554,1012.38 1554.5,1002.82 1555,1012.32 1555.5,995.01 1556,1013.02 1556.5,1000.1 1557,1012.61 1557.5,1002.17 1558,1012.94 1558.5,998.16 1559,1013.01 1559.5,1001.45 1560,1013.44 1560.5,996.53 1561,1013.33 1561.5,997.33 1562,1013.43 1562.5,996.4 1563,1012.56 1563.5,1002.28 1564,986.76 1564.5,997.67 1565,1013.31 1565.5,998.29 1566,1012.46 1566.5,995.43 1567,1013.4 1567.5,995.19 1568,1012.64 1568.5,1002.19 1569,1013.21 1569.5,1002.56 1570,1013.13 1570.5,1003.18 1571,1013.4 1571.5,1004.86 1572,1012.57 1572.5,999.77 1573,1012.89 1573.5,999.36 1574,1013.17 1574.5,1002.16 1575,1012.68 1575.5,996.9 1576,1013.11 1576.5,995.6 1577,1013.48 1577.5,1002.3 1578,1013.52 1578.5,1001.48 1579,1012.51 1579.5,1001.25 1580,1013.02 1580.5,997.39 1581,1012.67 1581.5,999.76 1582,1012.45 1582.5,997.65 1583,1013.02 1583.5,1003.4 1584,1013.08 1584.5,1000.34 1585,1013.48 1585.5,1006.75 1586,1012.94 1586.5,1001.33 1587,1013.17 1587.5,996.69 1588,1012.92 1588.5,998.5 1589,1012.66 1589.5,994.15 1590,1012.35 1590.5,996.41 1591,1013.24 1591.5,1003.88 1592,1012.36 1592.5,996.92 1593,1012.58 1593.5,1001.49 1594,1013.13 1594.5,997.78 1595,1012.7 1595.5,999.48 1596,1012.55 1596.5,1001.4 1597,1012.44 1597.5,1002.91 1598,1013.38 1598.5,1001.16 1599,1013.23 1599.5,1002.08 1600,1012.82 1600.5,995.62 1601,1012.99 1601.5,995.5 1602,1012.8 1602.5,995.71 1603,1013.2 1603.5,994.55 1604,1012.92 1604.5,1005.33 1605,1013.12 1605.5,995.6 1606,1013.57 1606.5,1000.37 1607,1012.91 1607.5,1003.43 1608,1012.66 1608.5,998.03 1609,1012.56 1609.5,1000.48 1610,1013.46 1610.5,1002.02 1611,1012.91 1611.5,999.82 1612,1012.88 1612.5,999.33 1613,1013.07 1613.5,998.82 1614,1012.29 1614.5,1001.47 1615,1013.26 1615.5,996.78 1616,1013.43 1616.5,998.18 1617,1013.12 1617.5,1001.95 1618,1013.2 1618.5,996.25 1619,1013.25 1619.5,1001.44 1620,1012.98 1620.5,996.84 1621,1013.46 1621.5,995.7 1622,1012.35 1622.5,1001.67 1623,1013.18 1623.5,996.49 1624,1012.44 1624.5,1004 1625,1012.65 1625.5,998.6 1626,1012.54 1626.5,998.24 1627,1012.73 1627.5,1003.26 1628,1013.46 1628.5,1000.53 1629,1012.92 1629.5,997.37 1630,1012.59 1630.5,999.48 1631,1012.64 1631.5,1003.39 1632,1012.97 1632.5,998.4 1633,1012.89 1633.5,1006.13 1634,1012.59 1634.5,1002.36 1635,1012.53 1635.5,999.28 1636,1012.29 1636.5,997.35 1637,1013.08 1637.5,1000.9 1638,1012.83 1638.5,990.23 1639,1013.57 1639.5,998.49 1640,1012.96 1640.5,993.56 1641,1012.81 1641.5,1001.79 1642,1013.13 1642.5,1002.01 1643,1013.36 1643.5,999.55 1644,1013.33 1644.5,995.25 1645,1013.16 1645.5,1002.11 1646,1013.51 1646.5,1002.45 1647,1013.54 1647.5,1003.73 1648,1013.38 1648.5,1000.36 1649,1013.02 1649.5,998.8 1650,1012.51 1650.5,1007.86 1651,1012.73 1651.5,1004.5 1652,1012.8 1652.5,1000.04 1653,1012.99 1653.5,999.59 1654,1012.56 1654.5,993.45 1655,1013.38 1655.5,991.11 1656,1012.91 1656.5,989.57 1657,1012.63 1657.5,999.9 1658,1013.42 1658.5,998.96 1659,1012.46 1659.5,997.05 1660,1013.44 1660.5,991.73 1661,1013.4 1661.5,994.42 1662,1013.41 1662.5,1001.61 1663,1013.51 1663.5,998.75 1664,1013.38 1664.5,997.22 1665,1012.53 1665.5,1003.51 1666,1012.71 1666.5,997.17 1667,1012.7 1667.5,1001.6 1668,1012.87 1668.5,1000.6 1669,1012.82 1669.5,1001.68 1670,1013.51 1670.5,1002.06 1671,1013.2 1671.5,1001.43 1672,1012.75 1672.5,1003.49 1673,1012.96 1673.5,1002.29 1674,1012.38 1674.5,994.67 1675,1012.96 1675.5,1002.28 1676,1012.72 1676.5,995.61 1677,1012.42 1677.5,994.98 1678,1013.55 1678.5,1000.8 1679,1012.45 1679.5,997.03 1680,1012.66 1680.5,1004.59 1681,1012.33 1681.5,999.21 1682,1013.01 1682.5,1004.78 1683,1013 1683.5,999.63 1684,1012.41 1684.5,1000.76 1685,1012.79 1685.5,1000.44 1686,1012.62 1686.5,998.84 1687,1013.31 1687.5,999.1 1688,1013.12 1688.5,995.44 1689,1012.85 1689.5,997.26 1690,1012.92 1690.5,997.65 1691,1012.89 1691.5,1000.24 1692,1013.23 1692.5,999.3 1693,1013.1 1693.5,1001.32 1694,1012.64 1694.5,1000.48 1695,1012.95 1695.5,994.18 1696,1013.19 1696.5,995.64 1697,1013.44 1697.5,996.55 1698,1012.59 1698.5,998.37 1699,1012.81 1699.5,1001.23 1700,1012.5 1700.5,998.07 1701,1012.55 1701.5,1001.69 1702,1012.88 1702.5,995.42 1703,1012.72 1703.5,994.3 1704,1013.48 1704.5,995.89 1705,1012.64 1705.5,997.93 1706,1012.31 1706.5,996.82 1707,1012.32 1707.5,1004.93 1708,979.96 1708.5,1002.55 1709,1013.1 1709.5,1000.86 1710,1013.5 1710.5,1004.01 1711,1012.98 1711.5,1003.8 1712,1012.86 1712.5,1001.07 1713,1013.45 1713.5,1002.94 1714,1012.36 1714.5,1002.23 1715,1013.12 1715.5,996.7 1716,1013.23 1716.5,1000.65 1717,1012.57 1717.5,992.92 1718,1012.51 1718.5,997.41 1719,1013.11 1719.5,998.12 1720,1012.7 1720.5,997.94 1721,1012.63 1721.5,1001.17 1722,981.02 1722.5,1002.43 1723,1013.42 1723.5,996.71 1724,1013.53 1724.5,998.2 1725,1013.58 1725.5,992.32" fill="none" stroke="#000" stroke-width="2.08" stroke-linejoin="round"/></g>
<line x1="1726" y1="1016.8" x2="1726" y2="844.9" stroke="#1f77b4" stroke-width="2.08" stroke-dasharray="2.08 3.43"/>
<rect x="1205" y="844.9" width="595" height="171.9" fill="none" stroke="#000" stroke-width="2"/>
<line x1="1244.9" y1="1016.8" x2="1244.9" y2="1011.9" stroke="#000" stroke-width="1.1" />
<text x="1243.6" y="1036.2" font-size="19.3" text-anchor="middle" fill="#000" >09</text>
<line x1="1319.3" y1="1016.8" x2="1319.3" y2="1011.9" stroke="#000" stroke-width="1.1" />
<text x="1318" y="1036.2" font-size="19.3" text-anchor="middle" fill="#000" >10</text>
<line x1="1393.7" y1="1016.8" x2="1393.7" y2="1011.9" stroke="#000" stroke-width="1.1" />
<text x="1392.4" y="1036.2" font-size="19.3" text-anchor="middle" fill="#000" >11</text>
<line x1="1468.1" y1="1016.8" x2="1468.1" y2="1011.9" stroke="#000" stroke-width="1.1" />
<text x="1466.8" y="1036.2" font-size="19.3" text-anchor="middle" fill="#000" >12</text>
<line x1="1542.5" y1="1016.8" x2="1542.5" y2="1011.9" stroke="#000" stroke-width="1.1" />
<text x="1541.2" y="1036.2" font-size="19.3" text-anchor="middle" fill="#000" >13</text>
<line x1="1616.9" y1="1016.8" x2="1616.9" y2="1011.9" stroke="#000" stroke-width="1.1" />
<text x="1615.6" y="1036.2" font-size="19.3" text-anchor="middle" fill="#000" >14</text>
<line x1="1691.3" y1="1016.8" x2="1691.3" y2="1011.9" stroke="#000" stroke-width="1.1" />
<text x="1690" y="1036.2" font-size="19.3" text-anchor="middle" fill="#000" >15</text>
<line x1="1765.7" y1="1016.8" x2="1765.7" y2="1011.9" stroke="#000" stroke-width="1.1" />
<text x="1764.4" y="1036.2" font-size="19.3" text-anchor="middle" fill="#000" >16</text>
<line x1="1205" y1="1016.8" x2="1210.5" y2="1016.8" stroke="#000" stroke-width="1.1" />
<line x1="1800" y1="1016.8" x2="1794.5" y2="1016.8" stroke="#000" stroke-width="1.1" />
<text x="1199.7" y="1025.2" font-size="19.3" text-anchor="end" fill="#000" >10<tspan font-size="13.51" dy="-7.14" dx="0.6">−1</tspan><tspan dy="7.14" font-size="19.3">&#8203;</tspan></text>
<line x1="1205" y1="1003.86" x2="1208.8" y2="1003.86" stroke="#000" stroke-width="0.99" />
<line x1="1800" y1="1003.86" x2="1796.2" y2="1003.86" stroke="#000" stroke-width="0.99" />
<line x1="1205" y1="996.3" x2="1208.8" y2="996.3" stroke="#000" stroke-width="0.99" />
<line x1="1800" y1="996.3" x2="1796.2" y2="996.3" stroke="#000" stroke-width="0.99" />
<line x1="1205" y1="990.93" x2="1208.8" y2="990.93" stroke="#000" stroke-width="0.99" />
<line x1="1800" y1="990.93" x2="1796.2" y2="990.93" stroke="#000" stroke-width="0.99" />
<line x1="1205" y1="986.76" x2="1208.8" y2="986.76" stroke="#000" stroke-width="0.99" />
<line x1="1800" y1="986.76" x2="1796.2" y2="986.76" stroke="#000" stroke-width="0.99" />
<line x1="1205" y1="983.36" x2="1208.8" y2="983.36" stroke="#000" stroke-width="0.99" />
<line x1="1800" y1="983.36" x2="1796.2" y2="983.36" stroke="#000" stroke-width="0.99" />
<line x1="1205" y1="980.48" x2="1208.8" y2="980.48" stroke="#000" stroke-width="0.99" />
<line x1="1800" y1="980.48" x2="1796.2" y2="980.48" stroke="#000" stroke-width="0.99" />
<line x1="1205" y1="977.99" x2="1208.8" y2="977.99" stroke="#000" stroke-width="0.99" />
<line x1="1800" y1="977.99" x2="1796.2" y2="977.99" stroke="#000" stroke-width="0.99" />
<line x1="1205" y1="975.79" x2="1208.8" y2="975.79" stroke="#000" stroke-width="0.99" />
<line x1="1800" y1="975.79" x2="1796.2" y2="975.79" stroke="#000" stroke-width="0.99" />
<line x1="1205" y1="973.82" x2="1210.5" y2="973.82" stroke="#000" stroke-width="1.1" />
<line x1="1800" y1="973.82" x2="1794.5" y2="973.82" stroke="#000" stroke-width="1.1" />
<text x="1199.7" y="982.22" font-size="19.3" text-anchor="end" fill="#000" >10<tspan font-size="13.51" dy="-7.14" dx="0.6">0</tspan><tspan dy="7.14" font-size="19.3">&#8203;</tspan></text>
<line x1="1205" y1="960.89" x2="1208.8" y2="960.89" stroke="#000" stroke-width="0.99" />
<line x1="1800" y1="960.89" x2="1796.2" y2="960.89" stroke="#000" stroke-width="0.99" />
<line x1="1205" y1="953.32" x2="1208.8" y2="953.32" stroke="#000" stroke-width="0.99" />
<line x1="1800" y1="953.32" x2="1796.2" y2="953.32" stroke="#000" stroke-width="0.99" />
<line x1="1205" y1="947.95" x2="1208.8" y2="947.95" stroke="#000" stroke-width="0.99" />
<line x1="1800" y1="947.95" x2="1796.2" y2="947.95" stroke="#000" stroke-width="0.99" />
<line x1="1205" y1="943.79" x2="1208.8" y2="943.79" stroke="#000" stroke-width="0.99" />
<line x1="1800" y1="943.79" x2="1796.2" y2="943.79" stroke="#000" stroke-width="0.99" />
<line x1="1205" y1="940.38" x2="1208.8" y2="940.38" stroke="#000" stroke-width="0.99" />
<line x1="1800" y1="940.38" x2="1796.2" y2="940.38" stroke="#000" stroke-width="0.99" />
<line x1="1205" y1="937.51" x2="1208.8" y2="937.51" stroke="#000" stroke-width="0.99" />
<line x1="1800" y1="937.51" x2="1796.2" y2="937.51" stroke="#000" stroke-width="0.99" />
<line x1="1205" y1="935.01" x2="1208.8" y2="935.01" stroke="#000" stroke-width="0.99" />
<line x1="1800" y1="935.01" x2="1796.2" y2="935.01" stroke="#000" stroke-width="0.99" />
<line x1="1205" y1="932.82" x2="1208.8" y2="932.82" stroke="#000" stroke-width="0.99" />
<line x1="1800" y1="932.82" x2="1796.2" y2="932.82" stroke="#000" stroke-width="0.99" />
<line x1="1205" y1="930.85" x2="1210.5" y2="930.85" stroke="#000" stroke-width="1.1" />
<line x1="1800" y1="930.85" x2="1794.5" y2="930.85" stroke="#000" stroke-width="1.1" />
<text x="1199.7" y="939.25" font-size="19.3" text-anchor="end" fill="#000" >10<tspan font-size="13.51" dy="-7.14" dx="0.6">1</tspan><tspan dy="7.14" font-size="19.3">&#8203;</tspan></text>
<line x1="1205" y1="917.91" x2="1208.8" y2="917.91" stroke="#000" stroke-width="0.99" />
<line x1="1800" y1="917.91" x2="1796.2" y2="917.91" stroke="#000" stroke-width="0.99" />
<line x1="1205" y1="910.35" x2="1208.8" y2="910.35" stroke="#000" stroke-width="0.99" />
<line x1="1800" y1="910.35" x2="1796.2" y2="910.35" stroke="#000" stroke-width="0.99" />
<line x1="1205" y1="904.98" x2="1208.8" y2="904.98" stroke="#000" stroke-width="0.99" />
<line x1="1800" y1="904.98" x2="1796.2" y2="904.98" stroke="#000" stroke-width="0.99" />
<line x1="1205" y1="900.81" x2="1208.8" y2="900.81" stroke="#000" stroke-width="0.99" />
<line x1="1800" y1="900.81" x2="1796.2" y2="900.81" stroke="#000" stroke-width="0.99" />
<line x1="1205" y1="897.41" x2="1208.8" y2="897.41" stroke="#000" stroke-width="0.99" />
<line x1="1800" y1="897.41" x2="1796.2" y2="897.41" stroke="#000" stroke-width="0.99" />
<line x1="1205" y1="894.53" x2="1208.8" y2="894.53" stroke="#000" stroke-width="0.99" />
<line x1="1800" y1="894.53" x2="1796.2" y2="894.53" stroke="#000" stroke-width="0.99" />
<line x1="1205" y1="892.04" x2="1208.8" y2="892.04" stroke="#000" stroke-width="0.99" />
<line x1="1800" y1="892.04" x2="1796.2" y2="892.04" stroke="#000" stroke-width="0.99" />
<line x1="1205" y1="889.84" x2="1208.8" y2="889.84" stroke="#000" stroke-width="0.99" />
<line x1="1800" y1="889.84" x2="1796.2" y2="889.84" stroke="#000" stroke-width="0.99" />
<line x1="1205" y1="887.88" x2="1210.5" y2="887.88" stroke="#000" stroke-width="1.1" />
<line x1="1800" y1="887.88" x2="1794.5" y2="887.88" stroke="#000" stroke-width="1.1" />
<text x="1199.7" y="896.27" font-size="19.3" text-anchor="end" fill="#000" >10<tspan font-size="13.51" dy="-7.14" dx="0.6">2</tspan><tspan dy="7.14" font-size="19.3">&#8203;</tspan></text>
<line x1="1205" y1="874.94" x2="1208.8" y2="874.94" stroke="#000" stroke-width="0.99" />
<line x1="1800" y1="874.94" x2="1796.2" y2="874.94" stroke="#000" stroke-width="0.99" />
<line x1="1205" y1="867.37" x2="1208.8" y2="867.37" stroke="#000" stroke-width="0.99" />
<line x1="1800" y1="867.37" x2="1796.2" y2="867.37" stroke="#000" stroke-width="0.99" />
<line x1="1205" y1="862" x2="1208.8" y2="862" stroke="#000" stroke-width="0.99" />
<line x1="1800" y1="862" x2="1796.2" y2="862" stroke="#000" stroke-width="0.99" />
<line x1="1205" y1="857.84" x2="1208.8" y2="857.84" stroke="#000" stroke-width="0.99" />
<line x1="1800" y1="857.84" x2="1796.2" y2="857.84" stroke="#000" stroke-width="0.99" />
<line x1="1205" y1="854.43" x2="1208.8" y2="854.43" stroke="#000" stroke-width="0.99" />
<line x1="1800" y1="854.43" x2="1796.2" y2="854.43" stroke="#000" stroke-width="0.99" />
<line x1="1205" y1="851.56" x2="1208.8" y2="851.56" stroke="#000" stroke-width="0.99" />
<line x1="1800" y1="851.56" x2="1796.2" y2="851.56" stroke="#000" stroke-width="0.99" />
<line x1="1205" y1="849.06" x2="1208.8" y2="849.06" stroke="#000" stroke-width="0.99" />
<line x1="1800" y1="849.06" x2="1796.2" y2="849.06" stroke="#000" stroke-width="0.99" />
<line x1="1205" y1="846.87" x2="1208.8" y2="846.87" stroke="#000" stroke-width="0.99" />
<line x1="1800" y1="846.87" x2="1796.2" y2="846.87" stroke="#000" stroke-width="0.99" />
<line x1="1205" y1="844.9" x2="1210.5" y2="844.9" stroke="#000" stroke-width="1.1" />
<line x1="1800" y1="844.9" x2="1794.5" y2="844.9" stroke="#000" stroke-width="1.1" />
<text x="1199.7" y="853.3" font-size="19.3" text-anchor="end" fill="#000" >10<tspan font-size="13.51" dy="-7.14" dx="0.6">3</tspan><tspan dy="7.14" font-size="19.3">&#8203;</tspan></text>
<text x="1502.5" y="1065.5" font-size="24" text-anchor="middle" fill="#000" >October 2018 (UT)</text>
<text x="1106" y="931" font-size="24" text-anchor="middle" fill="#000" transform="rotate(-90 1106 931)" >&gt;10 MeV Proton Flux</text>
<text x="1139.2" y="931" font-size="24" text-anchor="middle" fill="#000" transform="rotate(-90 1139.2 931)" >( cm<tspan font-size="16.8" dy="-8.64" dx="1.5">2</tspan><tspan dy="8.64" font-size="24">&#8203;</tspan><tspan dx="4">s</tspan><tspan font-size="16.8" dy="-8.64" dx="1.5">−1</tspan><tspan dy="8.64" font-size="24">&#8203;</tspan><tspan dx="4">sr</tspan><tspan font-size="16.8" dy="-8.64" dx="1.5">−1</tspan><tspan dy="8.64" font-size="24">&#8203;</tspan> )</text>
</svg>
</body></html>
